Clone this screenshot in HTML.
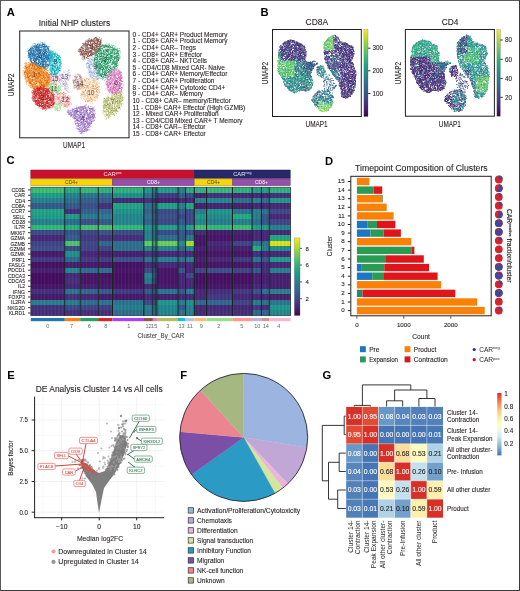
<!DOCTYPE html>
<html><head><meta charset="utf-8"><style>
html,body{margin:0;padding:0;background:#fff;width:520px;height:591px;overflow:hidden}
svg{display:block;font-family:"Liberation Sans", sans-serif;will-change:transform}
</style></head><body>
<svg width="520" height="591" viewBox="0 0 520 591">
<rect width="520" height="591" fill="#fff"/>
<text x="6.8" y="15.9" font-size="11.2" font-weight="bold" fill="#000">A</text>
<text x="38.7" y="25.8" font-size="8.4" fill="#231f20" textLength="71.5" lengthAdjust="spacingAndGlyphs" stroke="#231f20" stroke-width="0.1">Initial NHP clusters</text>
<rect x="19.7" y="31.0" width="109.3" height="106.8" fill="#fff" stroke="#231f20" stroke-width="1"/>
<path transform="scale(0.5)" d="M137 160h0M140 151h0M132 160h0M132 176h0M136 152h0M135 182h0M132 154h0M129 158h0M137 141h0M133 165h0M134 156h0M136 144h0M120 148h0M124 154h0M119 161h0M138 154h0M132 147h0M130 144h0M134 143h0M140 148h0M135 173h0M127 169h0M123 163h0M126 169h0M122 151h0M135 160h0M129 154h0M132 159h0M130 176h0M133 177h0M129 161h0M122 155h0M120 162h0M140 153h0M138 157h0M134 168h0M130 173h0M125 161h0M132 168h0M128 161h0M131 170h0M121 160h0M120 158h0M126 146h0M139 154h0M127 172h0M135 146h0M134 174h0M132 147h0M127 156h0M124 162h0M124 169h0M132 151h0M122 162h0M121 154h0M135 142h0M130 178h0M138 144h0M123 151h0M126 153h0M137 146h0M123 163h0M134 177h0M120 151h0M138 156h0M124 160h0M127 153h0M132 179h0M123 163h0M126 146h0M132 168h0M124 146h0M122 158h0M122 166h0M130 176h0M131 161h0M131 169h0M130 171h0M136 147h0M132 175h0M125 157h0M136 151h0M141 150h0M132 176h0M129 168h0M132 154h0M131 173h0M123 149h0M134 158h0M133 177h0M129 166h0M127 167h0M122 157h0M139 145h0M133 173h0M135 177h0M125 173h0M130 168h0M123 155h0M133 148h0M136 147h0M128 155h0M121 153h0M130 168h0M129 145h0M138 151h0M126 152h0M129 144h0M123 162h0M135 155h0M121 160h0M121 149h0M140 152h0M130 161h0M132 166h0M128 151h0M131 162h0M124 170h0M133 158h0M125 166h0M135 147h0M128 171h0M136 178h0M130 150h0M136 170h0M136 143h0M127 163h0M131 153h0M134 178h0M132 148h0M138 157h0M134 165h0M132 165h0M131 164h0M132 167h0M138 149h0M135 171h0M137 148h0M125 151h0M130 154h0M122 160h0M120 159h0M129 145h0M136 150h0M128 164h0M131 177h0M128 156h0M134 159h0M132 162h0M133 173h0M136 149h0" stroke="#c5b0d5" stroke-width="2.4" stroke-linecap="round" opacity="0.6" fill="none"/>
<path transform="scale(0.5)" d="M137 160h0M129 158h0M119 161h0M127 169h0M130 176h0M134 168h0M120 158h0M127 156h0M130 178h0M120 151h0M132 168h0M130 171h0M129 168h0M127 167h0M123 155h0M138 151h0M140 152h0M125 166h0M127 163h0M131 164h0M122 160h0M134 159h0" stroke="#80728a" stroke-width="2" stroke-linecap="round" opacity="0.6" fill="none"/>
<path transform="scale(0.5)" d="M119 165h0M138 159h0M136 183h0M138 140h0M127 142h0M136 185h0M139 141h0M131 141h0M118 165h0M138 185h0M131 180h0M122 172h0M133 181h0M120 165h0M133 181h0M123 171h0M138 139h0M119 166h0M121 170h0M137 175h0M119 149h0" stroke="#c5b0d5" stroke-width="2" stroke-linecap="round" opacity="0.6" fill="none"/>
<path transform="scale(0.5)" d="M154 159h0M152 176h0M162 168h0M155 164h0M155 179h0M157 178h0M167 170h0M160 168h0M162 169h0M151 171h0M148 169h0M152 164h0M162 154h0M160 172h0M159 153h0M156 160h0M162 158h0M160 170h0M154 175h0M161 156h0M154 162h0M158 174h0M160 169h0M150 156h0M159 151h0M153 167h0M152 166h0M158 173h0M161 163h0M152 169h0M159 157h0M147 163h0M160 158h0M151 153h0M159 168h0M154 165h0M163 169h0M149 165h0M159 162h0M156 174h0M147 167h0M156 158h0M150 171h0M148 167h0M164 160h0M164 170h0M162 177h0M162 177h0M163 158h0M156 170h0M152 161h0M164 165h0M148 165h0M162 163h0M164 159h0M155 172h0M152 165h0M158 172h0M163 155h0M151 156h0M161 159h0M156 174h0M162 153h0M147 165h0M166 166h0M165 165h0M150 175h0M153 165h0M154 176h0M147 163h0M149 161h0M151 170h0M159 178h0M160 168h0M159 176h0M155 168h0M161 162h0M160 172h0M164 158h0M154 173h0M153 175h0M161 159h0M165 165h0M161 176h0M148 172h0M149 176h0M148 159h0M150 154h0M156 150h0M151 158h0M156 179h0M161 155h0M158 170h0M158 161h0M160 172h0M152 155h0M152 153h0M162 156h0M152 154h0M152 172h0M164 167h0M154 175h0M155 174h0M156 165h0M146 161h0M161 154h0M150 153h0M156 173h0M163 171h0M161 176h0M151 174h0M160 168h0M158 150h0M158 173h0M164 168h0M164 174h0M147 162h0M156 168h0M162 160h0M165 161h0M147 164h0M152 164h0M155 167h0M157 175h0M153 155h0M152 157h0M167 173h0M161 173h0M160 155h0M163 161h0M155 172h0M146 164h0M155 153h0M153 156h0M154 175h0M161 151h0M159 178h0M164 174h0M149 162h0M150 165h0M153 172h0M151 159h0M155 162h0M157 176h0M154 170h0M153 173h0M151 162h0M151 160h0M157 176h0M160 155h0M153 175h0M159 156h0M149 170h0M162 173h0M156 177h0M165 175h0M153 172h0M162 154h0M152 154h0M151 164h0M164 162h0M147 162h0M153 156h0M163 170h0M157 170h0M158 167h0M148 175h0M149 165h0M149 162h0M164 156h0M159 166h0M149 165h0M162 154h0M149 153h0M157 158h0M159 174h0M156 179h0M163 167h0M155 154h0M154 164h0M162 166h0" stroke="#c49c94" stroke-width="2.4" stroke-linecap="round" opacity="0.8" fill="none"/>
<path transform="scale(0.5)" d="M154 159h0M160 168h0M159 153h0M158 174h0M161 163h0M154 165h0M150 171h0M156 170h0M152 165h0M147 165h0M149 161h0M160 172h0M148 172h0M161 155h0M152 154h0M161 154h0M158 150h0M165 161h0M167 173h0M153 156h0M153 172h0M151 160h0M156 177h0M147 162h0M149 162h0M159 174h0" stroke="#7f6560" stroke-width="2" stroke-linecap="round" opacity="0.6" fill="none"/>
<path transform="scale(0.5)" d="M148 178h0M163 153h0M155 148h0M168 158h0M156 148h0M160 149h0M157 149h0M153 151h0M154 180h0M145 160h0M151 150h0" stroke="#c49c94" stroke-width="2" stroke-linecap="round" opacity="0.6" fill="none"/>
<path transform="scale(0.5)" d="M177 176h0M163 164h0M171 189h0M164 166h0M181 200h0M165 187h0M193 175h0M177 159h0M179 187h0M195 183h0M165 168h0M166 162h0M174 203h0M194 170h0M193 183h0M191 179h0M191 179h0M164 193h0M161 177h0M168 165h0M187 194h0M175 173h0M176 197h0M185 202h0M170 160h0M174 191h0M185 180h0M166 173h0M192 189h0M173 200h0M175 163h0M167 165h0M179 161h0M171 175h0M162 179h0M171 181h0M196 180h0M173 176h0M185 202h0M170 181h0M165 188h0M193 186h0M198 180h0M181 176h0M168 169h0M161 177h0M187 170h0M170 177h0M178 200h0M163 171h0M180 167h0M174 190h0M190 166h0M174 191h0M169 188h0M174 163h0M170 161h0M172 166h0M194 183h0M192 167h0M166 174h0M178 158h0M166 174h0M169 159h0M187 163h0M186 161h0M168 177h0M170 188h0M181 164h0M177 158h0M169 175h0M196 184h0M188 164h0M181 194h0M171 178h0M182 193h0M179 187h0M175 184h0M193 178h0M174 178h0M188 191h0M183 182h0M177 166h0M176 166h0M192 177h0M172 168h0M193 168h0M172 161h0M175 188h0M179 187h0M185 172h0M179 169h0M192 172h0M177 170h0M180 199h0M190 185h0M186 160h0M193 192h0M168 170h0M179 180h0M171 168h0M188 194h0M185 199h0M163 187h0M187 193h0M188 177h0M171 202h0M181 199h0M174 187h0M191 174h0M187 177h0M194 194h0M190 177h0M182 182h0M175 178h0M168 166h0M171 200h0M191 173h0M181 188h0M174 172h0M173 166h0M186 178h0M167 183h0M190 195h0M189 179h0M165 190h0M175 192h0M164 189h0M185 184h0M184 169h0M178 171h0M172 160h0M173 177h0M176 203h0M174 178h0M188 200h0M183 203h0M184 168h0M167 164h0M167 171h0M186 177h0M168 197h0M192 178h0M176 201h0M173 160h0M178 170h0M165 177h0M164 189h0M165 186h0M165 169h0M180 163h0M185 165h0M173 198h0M178 174h0M169 184h0M167 183h0M178 177h0M193 176h0M181 196h0M173 199h0M187 180h0M176 201h0M166 196h0M188 175h0M191 163h0M171 168h0M175 202h0M179 158h0M165 172h0M176 192h0M174 196h0M181 179h0M176 190h0M185 202h0M186 176h0M194 192h0M178 183h0M169 188h0M173 165h0M187 176h0M174 174h0M197 175h0M189 195h0M180 197h0M187 198h0M179 190h0M192 194h0M174 186h0M195 194h0M174 171h0M188 173h0M176 196h0M189 184h0M185 173h0M173 176h0M180 167h0M171 162h0M177 162h0M163 188h0M182 188h0M183 174h0M177 162h0M193 186h0M183 198h0M185 190h0M174 203h0M166 182h0M178 172h0M192 170h0M174 167h0M167 185h0M186 191h0M163 180h0M187 177h0M163 162h0M166 180h0M179 190h0M195 175h0M185 196h0M178 179h0M181 174h0M164 166h0M168 173h0M173 184h0M198 173h0M174 191h0M181 179h0M179 177h0M191 184h0M170 170h0M189 171h0M181 195h0M197 178h0M161 172h0M176 195h0M175 188h0M170 191h0M188 187h0M171 203h0M189 183h0M168 193h0M180 184h0M164 183h0M190 184h0M170 168h0M176 203h0M169 199h0M194 195h0M181 190h0M180 183h0M185 182h0M191 196h0M183 198h0M196 181h0M195 189h0M168 193h0M177 193h0M179 165h0M183 168h0M170 194h0M199 175h0M169 162h0M174 176h0M172 197h0M187 170h0M164 192h0M174 187h0M194 173h0M176 186h0M184 199h0M168 186h0M168 190h0M189 201h0M171 180h0M184 160h0M179 176h0M164 177h0M184 164h0M178 162h0M175 178h0M178 166h0M194 191h0M186 165h0M166 173h0M184 198h0M171 178h0M189 198h0M185 172h0M187 174h0M176 188h0M198 181h0M167 189h0M176 170h0M171 168h0M196 191h0M168 191h0M176 173h0M168 184h0M164 166h0M194 171h0M182 198h0M187 173h0M181 193h0M190 195h0M198 185h0M181 193h0M183 181h0M178 173h0M195 179h0M165 161h0M173 184h0M175 198h0M176 186h0M199 183h0M185 161h0M185 190h0M193 166h0M193 180h0M182 192h0M162 176h0M168 189h0M178 179h0M176 182h0M191 177h0M182 190h0M193 189h0M197 187h0M168 161h0M175 173h0M163 169h0M163 176h0M166 180h0M179 196h0M190 162h0M168 184h0M181 202h0M193 181h0M178 197h0M167 192h0M162 177h0M179 184h0M177 173h0M186 172h0M191 172h0M165 168h0M189 190h0M182 201h0M177 159h0M162 187h0M196 179h0M192 194h0M193 177h0M186 184h0M171 162h0M175 175h0M191 193h0M185 160h0M186 170h0M167 188h0M192 183h0M164 189h0M179 202h0M182 172h0M171 190h0M195 185h0M182 195h0M179 176h0M177 166h0M171 174h0M171 201h0M191 164h0M168 188h0M185 175h0M184 180h0M177 183h0M193 180h0M188 198h0M164 184h0M188 161h0M185 200h0M177 194h0M171 163h0M174 158h0M179 200h0M188 163h0M165 170h0M187 183h0M184 179h0M182 175h0M180 190h0M185 192h0M170 170h0M171 171h0M167 185h0M176 194h0M168 189h0M169 170h0M195 185h0M180 192h0M165 170h0M166 162h0M174 163h0M178 184h0M181 165h0M180 175h0M183 188h0M174 175h0M169 199h0M196 180h0M181 199h0M172 167h0M190 162h0M197 172h0M179 201h0M193 175h0M168 160h0M185 175h0M170 200h0M176 191h0M173 177h0M194 168h0M164 175h0M188 184h0M163 162h0M174 182h0M194 194h0M185 185h0M184 177h0M163 173h0M162 167h0M177 193h0M168 175h0M191 184h0M188 188h0M164 164h0M165 176h0M197 187h0M189 198h0M164 163h0M195 170h0M190 192h0M179 190h0M174 166h0M168 191h0M178 200h0M172 192h0M191 168h0M175 181h0M166 183h0M178 199h0M174 203h0M190 178h0M179 189h0M182 168h0M182 180h0M176 171h0M165 174h0M185 201h0M185 166h0M175 181h0M161 178h0M185 181h0M188 164h0M181 199h0M184 179h0M175 188h0M194 164h0M196 185h0M170 184h0M194 175h0M181 163h0M172 169h0M178 170h0M163 190h0M187 198h0M164 183h0M164 172h0M162 174h0M187 171h0M181 181h0M183 184h0" stroke="#ffbb78" stroke-width="2.4" stroke-linecap="round" opacity="0.7" fill="none"/>
<path transform="scale(0.5)" d="M177 176h0M177 159h0M193 183h0M175 173h0M192 189h0M171 181h0M198 180h0M163 171h0M170 161h0M169 159h0M169 175h0M175 184h0M192 177h0M179 169h0M168 170h0M188 177h0M190 177h0M174 172h0M175 192h0M176 203h0M186 177h0M164 189h0M169 184h0M176 201h0M165 172h0M194 192h0M189 195h0M174 171h0M171 162h0M183 198h0M167 185h0M195 175h0M198 173h0M181 195h0M171 203h0M176 203h0M183 198h0M170 194h0M174 187h0M171 180h0M178 166h0M185 172h0M196 191h0M187 173h0M195 179h0M185 190h0M176 182h0M163 169h0M193 181h0M191 172h0M192 194h0M186 170h0M195 185h0M168 188h0M188 161h0M165 170h0M171 171h0M165 170h0M174 175h0M179 201h0M194 168h0M184 177h0M164 164h0M179 190h0M166 183h0M176 171h0M188 164h0M194 175h0M164 172h0" stroke="#a5794e" stroke-width="2" stroke-linecap="round" opacity="0.6" fill="none"/>
<path transform="scale(0.5)" d="M202 178h0M162 164h0M163 198h0M199 168h0M185 206h0M161 169h0M191 162h0M194 197h0M198 164h0M160 177h0M161 171h0M189 160h0M162 196h0M159 173h0M195 165h0M167 156h0M199 172h0M191 200h0M161 163h0M160 169h0M185 157h0M186 157h0M182 204h0M159 179h0M176 156h0M196 162h0M162 194h0M182 158h0M174 157h0M195 196h0M197 168h0M192 201h0M189 201h0M179 156h0M193 161h0M199 185h0M162 195h0M191 202h0M160 168h0M161 191h0M198 166h0M174 156h0M181 206h0M199 186h0M174 204h0M190 159h0M173 156h0M173 157h0M159 176h0M194 197h0M200 186h0M195 198h0" stroke="#ffbb78" stroke-width="2" stroke-linecap="round" opacity="0.6" fill="none"/>
<path transform="scale(0.5)" d="M119 187h0M137 207h0M126 195h0M128 186h0M129 199h0M121 190h0M128 212h0M136 198h0M119 206h0M115 197h0M140 204h0M124 208h0M137 198h0M132 213h0M133 202h0M114 193h0M125 200h0M118 197h0M119 188h0M139 199h0M120 187h0M135 193h0M120 206h0M115 192h0M140 200h0M117 189h0M131 210h0M128 197h0M128 194h0M134 213h0M135 204h0M133 208h0M127 199h0M135 198h0M123 210h0M127 194h0M121 208h0M136 194h0M122 194h0M133 198h0M134 200h0M131 204h0M128 195h0M121 201h0M132 188h0M127 188h0M136 191h0M131 209h0M129 213h0M122 205h0M131 191h0M119 195h0M133 214h0M132 209h0M135 207h0M125 202h0M127 190h0M139 209h0M124 187h0M129 209h0M113 192h0M119 188h0M132 197h0M122 206h0M114 200h0M114 191h0M120 192h0M135 193h0M136 210h0M114 187h0M124 201h0M136 203h0M131 196h0M121 203h0M121 185h0M138 200h0M126 188h0M136 195h0M134 194h0M114 196h0M135 202h0M113 196h0M125 207h0M129 208h0M130 210h0M131 214h0M128 188h0M131 203h0M132 205h0M134 207h0M136 194h0M129 194h0M125 195h0M131 211h0M132 210h0M139 203h0M135 198h0M136 209h0M138 204h0M126 193h0M133 202h0M131 194h0M135 201h0M130 213h0M117 187h0M140 198h0M121 187h0M123 211h0M124 197h0M137 207h0M126 207h0M116 194h0M131 212h0M123 193h0M139 204h0M131 192h0M131 192h0M115 199h0M137 202h0M116 195h0M119 193h0M125 206h0M123 186h0M119 194h0M122 202h0M135 202h0M123 201h0M123 205h0M137 196h0M132 206h0M128 212h0M125 206h0M130 194h0M135 196h0M134 211h0M134 213h0M135 205h0M116 199h0M140 197h0M118 190h0M115 188h0M135 196h0M132 200h0M129 211h0M137 198h0M125 192h0M118 199h0M128 190h0M132 199h0M132 196h0M118 187h0M120 194h0M140 200h0M118 201h0M125 187h0M133 203h0M129 206h0M128 195h0M138 199h0M140 196h0M128 195h0M117 198h0M118 195h0M134 193h0M130 206h0M137 207h0M116 196h0M123 188h0M136 202h0M126 197h0M113 199h0M139 207h0M126 210h0M138 197h0M139 194h0M125 202h0M133 209h0M135 210h0M126 206h0M136 202h0M114 194h0M136 204h0M117 197h0M120 188h0M117 203h0M135 193h0M119 197h0M129 198h0M135 205h0M125 194h0M126 193h0M123 198h0M125 203h0M132 205h0M131 187h0M138 208h0M137 209h0M131 205h0M135 197h0M130 205h0M114 191h0M126 209h0M136 197h0M120 202h0M123 193h0M120 198h0M135 199h0M126 195h0M138 210h0M139 207h0M124 197h0M115 189h0M128 185h0M140 208h0M129 187h0M131 213h0M124 201h0M127 185h0M123 210h0M132 210h0M137 196h0M131 191h0M116 198h0M137 211h0" stroke="#ff9896" stroke-width="2.4" stroke-linecap="round" opacity="0.8" fill="none"/>
<path transform="scale(0.5)" d="M119 187h0M136 198h0M133 202h0M135 193h0M128 194h0M127 194h0M128 195h0M122 205h0M127 190h0M122 206h0M124 201h0M136 195h0M130 210h0M129 194h0M138 204h0M140 198h0M131 212h0M116 195h0M123 201h0M135 196h0M115 188h0M128 190h0M125 187h0M117 198h0M136 202h0M125 202h0M117 197h0M125 194h0M137 209h0M120 202h0M124 197h0M127 185h0" stroke="#a56261" stroke-width="2" stroke-linecap="round" opacity="0.6" fill="none"/>
<path transform="scale(0.5)" d="M113 184h0M132 187h0M118 208h0M116 183h0M112 193h0M128 183h0M113 184h0M140 212h0M143 207h0M111 192h0M117 184h0M113 183h0M115 185h0M113 187h0M118 183h0M141 205h0M141 193h0M135 214h0M128 214h0M135 215h0M112 193h0M143 209h0M118 209h0M136 213h0M112 199h0M111 197h0M137 191h0" stroke="#ff9896" stroke-width="2" stroke-linecap="round" opacity="0.6" fill="none"/>
<path transform="scale(0.5)" d="M174 127h0M176 135h0M196 152h0M186 123h0M182 151h0M179 145h0M187 128h0M196 153h0M184 146h0M192 135h0M197 156h0M183 130h0M187 157h0M191 130h0M182 124h0M195 139h0M182 126h0M192 138h0M193 133h0M196 146h0M179 138h0M182 137h0M186 149h0M181 147h0M193 146h0M177 136h0M197 148h0M173 130h0M196 158h0M177 131h0M174 126h0M194 139h0M194 138h0M200 143h0M179 149h0M179 132h0M194 135h0M199 152h0M178 141h0M195 132h0M192 149h0M191 144h0M184 146h0M186 119h0M177 139h0M182 118h0M178 126h0M200 147h0M188 122h0M193 154h0M189 123h0M177 123h0M199 134h0M182 122h0M196 133h0M200 143h0M196 157h0M178 137h0M183 149h0M184 142h0M179 120h0M195 154h0M183 127h0M190 153h0M192 125h0M188 139h0M197 127h0M178 134h0M181 132h0M180 126h0M198 139h0M189 136h0M180 146h0M193 131h0M183 126h0M192 126h0M176 125h0M196 158h0M182 153h0M186 156h0M199 143h0M180 151h0M185 155h0M190 147h0M197 136h0M194 151h0M199 142h0M181 118h0M187 122h0M186 152h0M188 123h0M183 129h0M185 131h0M175 121h0M178 121h0M182 117h0M194 153h0M177 121h0M198 147h0M192 134h0M193 143h0M180 148h0M192 154h0M184 127h0M192 144h0M181 152h0M188 137h0M197 135h0M195 124h0M187 132h0M197 135h0M182 120h0M177 127h0M190 158h0M182 149h0M178 139h0M175 128h0M182 141h0M190 148h0M175 126h0M193 157h0M190 142h0M186 127h0M191 123h0M178 133h0M187 146h0M194 121h0M186 147h0M179 138h0M181 142h0M199 149h0M198 127h0M185 119h0M180 123h0M179 139h0M196 132h0M184 133h0M196 155h0M193 144h0M187 145h0M189 147h0M200 146h0M181 137h0M190 125h0M185 121h0M193 134h0M181 126h0M195 147h0M189 134h0M192 125h0M196 149h0M181 150h0M191 140h0M179 133h0M180 118h0M184 152h0M185 130h0M195 144h0M188 121h0M190 144h0M197 136h0M200 144h0M193 137h0M184 151h0M187 132h0M190 128h0M184 146h0M193 126h0M196 146h0M197 145h0M188 149h0M189 144h0M181 153h0M174 136h0M184 120h0M188 142h0M182 130h0M196 129h0M198 141h0M194 122h0M191 125h0M190 147h0M180 129h0M182 144h0M191 157h0M192 122h0M193 132h0M189 157h0M175 126h0M178 130h0M186 133h0M177 132h0M179 120h0M180 123h0M191 123h0M190 119h0M188 132h0M192 122h0M188 149h0M185 119h0M190 132h0M177 121h0M192 131h0M187 152h0M181 131h0M192 132h0M180 136h0M192 143h0M184 149h0M181 140h0M183 145h0M181 138h0M188 143h0M180 118h0M176 123h0M190 158h0M197 148h0M179 135h0M198 148h0M190 154h0M176 144h0M186 151h0M192 141h0M182 141h0M196 151h0M191 122h0M186 147h0M185 129h0M196 150h0M191 136h0M178 136h0M184 155h0M197 135h0M191 125h0M186 146h0M187 134h0M198 125h0M180 142h0M180 144h0M197 133h0M193 153h0M199 142h0M194 158h0M180 134h0M175 127h0M183 119h0M193 127h0M187 146h0M181 149h0M191 136h0M188 145h0M177 121h0M179 145h0M196 135h0M197 127h0M192 140h0M189 141h0M192 134h0M188 150h0M179 132h0M181 146h0M194 130h0M181 128h0M177 146h0M179 137h0M188 153h0M182 143h0M201 145h0M191 129h0M178 143h0M174 126h0M186 151h0M186 142h0M194 159h0M195 154h0M187 139h0M179 140h0M193 124h0M179 133h0M186 132h0M192 145h0M190 118h0M189 149h0M194 151h0M199 147h0M184 133h0M184 119h0M186 145h0M197 139h0M182 126h0M188 144h0M185 148h0M191 145h0M179 143h0M176 134h0M186 120h0M184 127h0" stroke="#aec7e8" stroke-width="2.4" stroke-linecap="round" opacity="0.8" fill="none"/>
<path transform="scale(0.5)" d="M174 127h0M196 153h0M182 124h0M182 137h0M196 158h0M179 132h0M184 146h0M193 154h0M196 157h0M190 153h0M198 139h0M196 158h0M197 136h0M183 129h0M198 147h0M181 152h0M177 127h0M175 126h0M194 121h0M180 123h0M189 147h0M195 147h0M180 118h0M200 144h0M196 146h0M188 142h0M180 129h0M178 130h0M188 132h0M187 152h0M183 145h0M179 135h0M196 151h0M184 155h0M180 144h0M183 119h0M179 145h0M179 132h0M182 143h0M194 159h0M192 145h0M186 145h0M176 134h0" stroke="#718196" stroke-width="2" stroke-linecap="round" opacity="0.6" fill="none"/>
<path transform="scale(0.5)" d="M173 132h0M200 125h0M179 153h0M182 114h0M174 132h0M192 117h0M197 123h0M201 143h0M201 143h0M185 116h0M187 158h0M176 148h0M174 136h0M178 151h0M201 140h0M185 159h0M200 156h0M193 119h0M202 146h0M183 157h0M181 155h0M179 116h0M202 145h0M198 161h0M196 120h0M197 122h0M201 152h0M201 134h0M203 148h0M187 115h0M201 137h0M187 158h0M174 134h0M172 129h0M183 116h0" stroke="#aec7e8" stroke-width="2" stroke-linecap="round" opacity="0.6" fill="none"/>
<path transform="scale(0.5)" d="M112 161h0M114 160h0M98 153h0M102 157h0M118 158h0M109 149h0M118 154h0M100 151h0M116 158h0M111 153h0M110 157h0M116 154h0M101 159h0M114 153h0M114 155h0M106 158h0M101 152h0M114 160h0M100 160h0M104 163h0M111 164h0M100 149h0M99 148h0M108 162h0M100 156h0M104 148h0M114 157h0M114 155h0M101 159h0M112 163h0M107 164h0M113 160h0M105 152h0M116 155h0M101 151h0M109 163h0M110 153h0M114 157h0M110 156h0M102 152h0M110 151h0M108 161h0M114 154h0M104 163h0M111 152h0M101 149h0M113 153h0M110 150h0M107 152h0M116 154h0M107 153h0M114 159h0M105 150h0M100 150h0M104 159h0M115 157h0M109 160h0M99 151h0M114 163h0M116 157h0M103 154h0M103 160h0M101 158h0M113 163h0M108 164h0M115 158h0M100 148h0M117 163h0M114 164h0M108 164h0M107 160h0M118 156h0M107 159h0M110 148h0M101 160h0M112 153h0M106 152h0M109 164h0M105 157h0M117 160h0M112 157h0M102 148h0M109 162h0M110 161h0M99 158h0M116 152h0M102 158h0M103 156h0M100 161h0M119 158h0M108 148h0M100 150h0M114 152h0M99 155h0M103 148h0M100 149h0M106 163h0M103 150h0M102 155h0M114 153h0M108 148h0M107 159h0M99 150h0M110 165h0M117 156h0M102 155h0M102 163h0M107 159h0M102 164h0M116 159h0M118 162h0M101 148h0M107 162h0M109 160h0M102 153h0M115 154h0M104 161h0M107 161h0M112 150h0M109 152h0M99 152h0M101 153h0M110 166h0M113 149h0M103 161h0M107 153h0M114 152h0M103 155h0M108 162h0M101 158h0M103 153h0M107 158h0M105 163h0M99 155h0" stroke="#f7b6d2" stroke-width="2.4" stroke-linecap="round" opacity="0.8" fill="none"/>
<path transform="scale(0.5)" d="M112 161h0M100 151h0M114 155h0M100 149h0M101 159h0M109 163h0M114 154h0M116 154h0M109 160h0M113 163h0M107 160h0M109 164h0M99 158h0M100 150h0M102 155h0M102 155h0M107 162h0M109 152h0M114 152h0M99 155h0" stroke="#a07688" stroke-width="2" stroke-linecap="round" opacity="0.6" fill="none"/>
<path transform="scale(0.5)" d="M115 148h0M116 150h0M117 166h0M109 166h0M118 163h0M98 150h0M120 157h0M99 146h0M98 162h0M116 151h0M113 147h0M98 147h0M119 163h0" stroke="#f7b6d2" stroke-width="2" stroke-linecap="round" opacity="0.6" fill="none"/>
<path transform="scale(0.5)" d="M109 178h0M117 176h0M121 174h0M97 166h0M121 173h0M96 171h0M94 172h0M105 183h0M110 175h0M101 174h0M102 175h0M113 174h0M117 174h0M118 171h0M104 167h0M121 178h0M99 171h0M107 175h0M98 177h0M109 172h0M115 172h0M111 169h0M108 183h0M115 182h0M101 171h0M107 169h0M105 180h0M97 173h0M109 178h0M117 178h0M111 181h0M110 177h0M104 174h0M102 177h0M116 182h0M113 170h0M95 175h0M97 165h0M110 186h0M117 174h0M97 165h0M96 173h0M102 169h0M108 170h0M107 175h0M103 175h0M102 174h0M110 174h0M110 179h0M103 176h0M103 172h0M100 182h0M104 169h0M114 182h0M101 179h0M105 180h0M103 178h0M116 185h0M99 169h0M107 185h0M105 169h0M104 176h0M115 175h0M112 175h0M97 172h0M111 183h0M116 179h0M100 182h0M108 173h0M106 181h0M118 181h0M115 172h0M93 178h0M112 186h0M99 174h0M113 170h0M106 177h0M105 184h0M114 182h0M117 176h0M100 166h0M105 168h0M106 166h0M106 181h0M100 176h0M94 179h0M113 182h0M98 169h0M110 174h0M96 166h0M107 173h0M106 166h0M116 175h0M107 170h0M109 166h0M113 183h0M106 185h0M114 183h0M100 174h0M117 182h0M119 177h0M113 169h0M116 183h0M109 167h0M95 171h0M112 168h0M116 180h0M117 180h0M113 175h0M112 177h0M113 182h0M113 171h0M96 164h0M109 169h0M107 168h0M111 183h0M105 177h0M105 182h0M111 174h0M102 179h0M118 170h0M106 173h0M110 181h0M115 176h0M115 168h0M114 184h0M106 173h0M105 168h0M109 181h0M119 177h0M116 184h0M106 177h0M112 178h0M117 174h0M104 182h0M115 186h0M112 167h0M98 176h0M110 176h0M97 169h0M98 169h0M98 171h0M94 178h0M118 178h0M106 180h0M103 183h0M116 179h0M112 178h0M107 178h0M105 177h0M102 170h0M96 180h0M102 170h0M98 175h0M98 176h0M99 181h0M107 169h0M119 181h0M120 176h0M107 166h0M97 178h0M101 173h0M100 181h0M115 182h0M107 167h0M95 177h0M110 179h0M100 167h0M118 172h0M96 176h0M118 180h0M115 177h0M97 176h0M120 174h0M120 175h0M106 178h0M118 171h0M118 184h0M121 180h0M104 169h0M100 167h0M116 179h0M103 181h0M104 185h0M95 173h0M111 175h0M99 166h0M110 168h0M99 177h0M96 169h0M95 172h0M114 183h0M103 165h0M108 167h0M100 176h0M111 184h0M113 184h0M106 168h0M105 182h0M119 176h0M108 175h0M98 180h0M110 174h0M109 183h0" stroke="#98df8a" stroke-width="2.4" stroke-linecap="round" opacity="0.8" fill="none"/>
<path transform="scale(0.5)" d="M109 178h0M105 183h0M104 167h0M111 169h0M109 178h0M113 170h0M102 169h0M103 176h0M103 178h0M112 175h0M118 181h0M105 184h0M100 176h0M106 166h0M100 174h0M112 168h0M96 164h0M102 179h0M106 173h0M117 174h0M98 169h0M112 178h0M98 176h0M101 173h0M118 172h0M106 178h0M103 181h0M96 169h0M113 184h0M109 183h0" stroke="#629059" stroke-width="2" stroke-linecap="round" opacity="0.6" fill="none"/>
<path transform="scale(0.5)" d="M121 167h0M120 184h0M97 183h0M122 170h0M93 177h0M112 165h0M121 185h0M107 164h0M116 187h0M123 181h0M94 166h0M105 185h0M121 168h0M95 180h0M93 175h0M122 169h0" stroke="#98df8a" stroke-width="2" stroke-linecap="round" opacity="0.6" fill="none"/>
<path transform="scale(0.5)" d="M85 123h0M92 133h0M90 132h0M58 110h0M99 119h0M78 99h0M81 115h0M91 94h0M92 93h0M84 93h0M66 97h0M81 120h0M88 134h0M97 101h0M73 95h0M70 116h0M72 102h0M93 110h0M71 110h0M88 89h0M90 128h0M73 115h0M66 124h0M72 104h0M80 125h0M92 129h0M61 103h0M84 132h0M81 102h0M71 95h0M101 113h0M75 98h0M83 127h0M77 107h0M58 111h0M94 93h0M89 134h0M85 126h0M62 108h0M70 109h0M79 123h0M78 101h0M75 94h0M100 118h0M79 103h0M61 100h0M92 129h0M73 125h0M91 121h0M86 124h0M73 121h0M69 111h0M91 121h0M86 115h0M57 114h0M68 120h0M77 127h0M86 126h0M72 118h0M90 128h0M72 128h0M96 121h0M80 113h0M99 110h0M88 122h0M89 95h0M92 115h0M86 107h0M85 125h0M85 122h0M77 119h0M67 120h0M85 89h0M78 98h0M71 96h0M78 105h0M84 116h0M57 107h0M69 107h0M84 91h0M81 103h0M83 134h0M93 107h0M93 118h0M73 94h0M83 114h0M84 104h0M62 115h0M84 94h0M85 131h0M74 108h0M67 101h0M83 99h0M101 111h0M75 102h0M70 110h0M62 117h0M77 101h0M92 127h0M58 113h0M92 99h0M69 94h0M84 110h0M86 116h0M90 92h0M91 101h0M81 103h0M70 113h0M78 104h0M90 116h0M59 99h0M77 132h0M96 114h0M76 115h0M88 118h0M78 132h0M74 106h0M95 96h0M70 128h0M88 108h0M70 125h0M78 114h0M79 103h0M64 116h0M67 127h0M92 119h0M88 89h0M94 97h0M86 134h0M89 93h0M64 117h0M75 95h0M85 89h0M62 105h0M82 123h0M76 102h0M84 111h0M99 105h0M64 118h0M79 132h0M82 117h0M69 114h0M68 124h0M80 93h0M67 105h0M90 95h0M89 119h0M61 120h0M83 98h0M96 110h0M71 126h0M99 120h0M67 92h0M100 119h0M93 93h0M85 104h0M67 103h0M84 104h0M74 93h0M94 119h0M93 108h0M95 112h0M83 115h0M90 106h0M96 110h0M78 131h0M84 108h0M78 91h0M64 94h0M74 106h0M68 100h0M64 101h0M67 110h0M87 120h0M62 120h0M70 120h0M89 95h0M73 102h0M78 101h0M89 122h0M64 98h0M87 133h0M86 108h0M75 89h0M80 104h0M97 111h0M75 90h0M68 107h0M65 112h0M75 113h0M61 102h0M62 113h0M98 116h0M95 97h0M58 113h0M79 115h0M74 117h0M89 132h0M71 109h0M94 98h0M62 102h0M93 102h0M76 115h0M88 89h0M66 101h0M74 91h0M76 102h0M90 114h0M97 119h0M91 115h0M77 127h0M86 134h0M89 121h0M69 127h0M74 93h0M69 120h0M70 90h0M91 114h0M63 104h0M84 98h0M76 104h0M83 127h0M89 91h0M80 95h0M88 109h0M99 126h0M62 102h0M98 109h0M76 108h0M91 133h0M83 92h0M93 107h0M58 115h0M78 130h0M74 97h0M69 96h0M82 104h0M90 98h0M73 99h0M95 117h0M75 94h0M94 111h0M61 122h0M97 96h0M92 103h0M87 129h0M85 126h0M80 116h0M65 106h0M71 105h0M78 121h0M93 132h0M88 120h0M81 126h0M73 116h0M87 112h0M70 90h0M61 104h0M83 124h0M89 102h0M98 100h0M89 90h0M90 120h0M87 128h0M90 117h0M66 112h0M97 98h0M100 113h0M74 95h0M86 131h0M97 117h0M74 92h0M88 114h0M89 105h0M96 97h0M70 100h0M85 131h0M64 118h0M91 98h0M60 115h0M94 130h0M89 107h0M76 113h0M97 102h0M69 117h0M82 116h0M65 96h0M83 119h0M88 123h0M60 111h0M71 129h0M86 132h0M67 121h0M94 110h0M64 117h0M90 127h0M93 122h0M85 134h0M74 109h0M87 123h0M61 107h0M81 105h0M62 116h0M74 120h0M91 122h0M70 92h0M78 104h0M90 132h0M74 101h0M79 121h0M92 115h0M70 103h0M95 112h0M59 107h0M67 120h0M60 100h0M61 110h0M101 113h0M61 104h0M91 104h0M77 105h0M80 89h0M77 110h0M61 100h0M99 121h0M79 89h0M74 125h0M76 116h0M97 118h0M85 88h0M75 130h0M94 132h0M91 131h0M64 125h0M76 100h0M78 101h0M87 93h0M64 109h0M60 105h0M97 130h0M84 93h0M65 108h0M69 124h0M73 125h0M64 112h0M86 105h0M73 110h0M83 134h0M68 115h0M69 114h0M89 93h0M78 121h0M76 111h0M84 126h0M59 111h0M59 106h0M70 109h0M86 132h0M73 113h0M89 133h0M70 95h0M77 123h0M80 106h0M98 101h0M81 128h0M63 104h0M79 115h0M66 109h0M72 94h0M69 125h0M90 100h0M94 118h0M74 118h0M68 100h0M96 108h0M90 114h0M94 111h0M83 92h0M89 117h0M84 98h0M77 119h0M97 122h0M60 118h0M94 93h0M90 99h0M91 112h0M97 110h0M64 97h0M73 90h0M76 117h0M86 95h0M63 111h0M87 109h0M82 132h0M63 100h0M79 113h0M97 114h0M86 107h0M92 128h0M70 92h0M68 104h0M96 100h0M85 118h0M91 103h0M61 118h0M94 115h0M74 118h0M89 99h0M75 103h0M89 107h0M70 95h0M99 126h0M97 112h0M62 107h0M82 101h0M62 112h0M78 92h0M91 92h0M81 91h0M101 113h0M76 100h0M76 97h0M80 132h0M74 118h0M98 103h0M93 113h0M99 110h0M77 132h0M82 111h0M70 123h0M68 110h0M91 116h0M63 97h0M88 123h0M61 109h0M84 129h0M64 121h0M62 115h0M68 104h0M72 116h0M85 111h0M96 132h0M69 103h0M76 107h0M86 124h0M99 102h0M95 119h0M76 128h0M87 103h0M89 112h0M89 117h0M92 94h0M92 125h0M81 110h0M62 97h0M68 128h0M86 106h0M86 98h0M86 115h0M90 111h0M76 102h0M90 105h0M83 124h0M77 121h0M60 99h0M94 94h0M91 92h0M77 108h0M93 110h0M80 88h0M92 125h0M85 128h0M84 122h0M95 117h0M60 103h0M61 105h0M61 97h0M57 108h0M70 123h0M74 95h0M88 97h0M75 109h0M77 125h0M88 129h0M87 124h0M96 132h0M92 107h0M86 119h0M96 122h0M77 96h0M71 99h0M87 125h0M65 113h0M94 105h0M61 117h0M73 94h0M64 108h0M81 134h0M94 103h0M60 116h0M91 110h0M93 109h0M98 117h0M81 95h0M76 108h0M93 98h0M70 127h0M60 113h0M67 119h0M83 91h0M89 107h0M71 129h0M92 102h0M87 93h0M80 91h0M85 132h0M85 89h0M80 110h0M77 94h0M69 109h0M60 120h0M68 101h0M61 102h0M98 101h0M61 104h0M72 97h0M87 109h0M72 121h0M77 130h0M70 100h0M93 111h0M72 112h0M94 115h0M77 119h0M84 107h0M76 93h0M76 130h0M71 105h0M84 116h0M65 109h0M61 118h0M70 119h0M58 109h0M64 103h0M88 112h0M95 128h0M84 128h0M65 110h0M71 117h0M73 125h0M74 129h0M90 123h0M77 100h0M65 107h0M98 106h0M68 117h0M76 117h0M77 101h0M86 99h0M79 115h0M79 131h0M92 102h0M72 117h0M59 111h0M69 113h0M67 109h0M71 99h0M98 128h0M92 99h0M64 100h0M89 111h0M57 102h0M95 129h0M89 123h0M97 114h0M74 115h0M68 109h0M68 105h0M99 111h0M94 123h0M83 102h0M74 102h0M85 129h0M92 101h0M83 98h0M57 101h0M67 97h0M86 115h0M69 123h0M62 116h0M88 123h0M79 130h0M85 121h0M78 114h0M72 110h0M80 128h0M70 114h0M84 119h0M71 100h0M78 116h0M86 93h0M77 114h0M79 101h0M58 100h0M64 106h0M73 121h0M85 88h0M67 100h0M97 108h0M68 110h0M78 94h0M87 122h0M78 113h0M91 134h0M84 89h0M79 119h0M72 120h0M73 117h0M84 120h0M98 122h0M88 121h0M67 117h0M84 90h0M90 98h0M79 112h0M89 124h0M78 133h0M77 115h0M89 134h0M86 113h0M92 129h0M63 111h0M84 121h0M76 132h0M99 124h0M72 125h0M81 120h0M85 129h0M89 135h0M79 111h0M86 114h0M71 111h0M98 100h0M70 127h0M68 120h0M82 131h0M78 103h0M68 105h0M64 102h0M91 133h0M73 99h0M70 118h0M78 92h0M80 100h0M63 125h0M62 108h0M91 113h0M96 102h0M97 108h0M90 127h0M57 102h0M78 132h0M101 114h0M70 91h0M76 112h0M77 102h0M99 110h0M71 125h0M68 107h0M62 98h0M101 117h0M80 120h0M87 112h0M73 94h0M87 103h0M67 102h0M79 97h0M95 110h0M96 115h0M70 122h0M99 119h0M59 108h0M94 116h0M66 98h0M60 112h0M65 109h0M97 131h0M79 125h0M95 110h0M96 101h0M98 128h0M98 123h0M60 100h0M86 132h0M72 104h0M65 98h0M80 105h0M69 107h0M99 116h0M90 133h0M90 124h0M84 110h0M89 108h0M66 97h0M72 107h0M69 125h0M79 95h0M59 109h0M67 118h0M73 101h0M70 117h0M79 111h0M87 110h0M99 108h0M92 133h0M85 116h0M92 122h0M66 107h0M87 103h0M73 108h0M87 131h0M88 97h0M83 118h0M84 122h0M70 117h0M90 102h0M69 103h0M100 119h0M78 114h0M86 100h0M83 116h0M100 117h0M79 107h0M78 105h0M91 115h0M80 124h0M81 116h0M83 92h0M63 123h0M72 93h0M93 124h0M91 106h0M63 124h0M67 120h0M88 100h0M92 116h0M89 108h0M83 101h0M67 114h0M84 132h0M84 111h0M86 118h0M75 100h0M87 106h0M73 121h0M86 111h0M93 103h0M73 124h0M87 108h0M81 129h0M96 96h0M93 113h0M98 103h0M86 118h0M74 93h0M87 90h0M95 94h0M79 124h0M72 99h0M96 120h0M69 123h0M97 116h0M67 117h0M99 116h0M64 97h0M85 89h0M57 105h0M68 111h0M60 114h0M87 102h0M83 113h0M92 115h0M85 114h0M93 91h0M97 117h0M95 121h0M74 92h0M91 122h0M78 100h0M78 97h0M65 96h0M89 106h0M78 120h0M69 116h0M66 97h0M81 108h0M98 100h0M72 92h0M73 128h0M65 108h0M64 99h0M72 95h0M87 112h0M70 99h0M76 90h0M80 99h0M91 100h0M98 110h0M96 110h0M81 99h0M91 105h0M96 122h0M76 88h0M69 107h0M73 115h0M57 110h0M88 121h0M92 109h0M79 133h0M81 116h0M71 119h0M79 133h0M60 103h0M94 114h0M68 92h0M68 93h0M63 123h0M66 95h0M84 93h0M94 119h0M96 122h0M89 100h0M76 105h0M74 132h0M76 126h0M85 91h0M66 115h0M92 98h0M68 105h0M77 107h0M98 117h0M69 104h0M79 94h0M74 90h0M86 129h0M97 116h0M74 114h0M82 95h0M81 111h0M66 108h0M94 118h0M72 98h0M85 114h0M70 110h0M75 118h0M96 105h0M81 114h0M87 99h0M63 120h0M68 111h0M77 98h0M90 105h0M66 125h0M88 106h0M97 119h0M63 108h0M88 94h0M98 119h0M89 108h0M85 132h0M79 90h0M88 133h0M87 108h0M77 98h0M91 125h0M89 108h0M79 106h0M78 103h0M93 93h0M87 127h0M72 131h0M85 105h0M78 114h0M95 118h0M96 99h0M92 106h0M65 126h0M83 98h0M97 111h0M87 135h0M71 113h0M81 101h0M88 100h0M87 117h0M73 120h0M74 125h0M74 127h0M70 95h0M72 93h0M75 98h0M96 129h0M68 102h0M79 93h0M66 106h0M84 101h0M87 100h0M91 103h0M96 108h0M88 124h0M88 124h0M72 94h0M59 101h0M71 108h0M96 95h0M72 123h0M77 119h0M80 104h0M75 89h0M99 123h0M61 97h0" stroke="#1f77b4" stroke-width="2.4" stroke-linecap="round" opacity="0.9" fill="none"/>
<path transform="scale(0.5)" d="M85 123h0M91 94h0M73 95h0M73 115h0M81 102h0M94 93h0M75 94h0M86 124h0M77 127h0M99 110h0M77 119h0M57 107h0M73 94h0M67 101h0M92 127h0M91 101h0M96 114h0M88 108h0M88 89h0M62 105h0M82 117h0M61 120h0M93 93h0M95 112h0M64 94h0M70 120h0M86 108h0M75 113h0M74 117h0M88 89h0M77 127h0M91 114h0M88 109h0M93 107h0M73 99h0M87 129h0M88 120h0M89 102h0M97 98h0M89 105h0M94 130h0M83 119h0M64 117h0M81 105h0M74 101h0M60 100h0M77 110h0M85 88h0M87 93h0M73 125h0M89 93h0M86 132h0M81 128h0M94 118h0M89 117h0M91 112h0M87 109h0M70 92h0M74 118h0M62 107h0M76 100h0M77 132h0M61 109h0M96 132h0M87 103h0M68 128h0M83 124h0M80 88h0M61 97h0M88 129h0M71 99h0M81 134h0M76 108h0M71 129h0M77 94h0M72 97h0M94 115h0M65 109h0M84 128h0M65 107h0M79 131h0M98 128h0M97 114h0M74 102h0M69 123h0M80 128h0M79 101h0M68 110h0M72 120h0M90 98h0M92 129h0M85 129h0M68 120h0M70 118h0M97 108h0M77 102h0M87 112h0M70 122h0M97 131h0M86 132h0M90 124h0M59 109h0M92 133h0M88 97h0M78 114h0M80 124h0M63 124h0M84 132h0M93 103h0M86 118h0M69 123h0M68 111h0M97 117h0M89 106h0M73 128h0M80 99h0M76 88h0M81 116h0M63 123h0M74 132h0M98 117h0M82 95h0M75 118h0M90 105h0M89 108h0M89 108h0M78 114h0M87 135h0M74 127h0M66 106h0M72 94h0M75 89h0" stroke="#144d75" stroke-width="2" stroke-linecap="round" opacity="0.6" fill="none"/>
<path transform="scale(0.5)" d="M85 87h0M88 87h0M90 135h0M61 95h0M103 108h0M88 135h0M68 87h0M85 86h0M69 87h0M84 85h0M101 112h0M103 112h0M81 84h0M86 86h0M88 137h0M89 89h0M97 93h0M65 90h0M62 128h0M100 129h0M56 98h0M75 133h0M101 104h0M99 128h0M98 93h0M102 116h0M90 89h0M92 136h0M57 101h0M89 137h0M91 137h0M88 137h0M97 134h0M91 88h0M54 102h0M102 105h0M101 104h0M102 121h0M72 131h0M63 94h0M94 133h0M102 105h0M86 138h0M56 111h0M82 137h0M56 103h0M81 136h0M70 132h0M101 123h0M95 136h0M64 93h0M89 86h0M101 100h0M71 88h0M88 138h0M99 94h0M103 110h0M94 135h0M69 131h0M100 104h0M88 89h0" stroke="#1f77b4" stroke-width="2" stroke-linecap="round" opacity="0.6" fill="none"/>
<path transform="scale(0.5)" d="M111 122h0M119 135h0M104 119h0M103 106h0M108 123h0M109 108h0M114 138h0M109 142h0M116 112h0M110 122h0M102 122h0M119 134h0M112 145h0M121 122h0M119 112h0M111 142h0M118 122h0M113 115h0M102 123h0M103 122h0M106 144h0M106 133h0M107 132h0M108 108h0M115 146h0M113 138h0M109 120h0M115 125h0M119 119h0M119 124h0M110 140h0M110 129h0M101 107h0M102 135h0M103 147h0M112 147h0M103 119h0M105 137h0M99 120h0M98 109h0M115 147h0M100 122h0M104 108h0M108 120h0M118 141h0M120 126h0M115 130h0M103 114h0M113 122h0M112 109h0M110 112h0M100 120h0M108 147h0M104 125h0M108 138h0M107 139h0M116 111h0M116 128h0M115 136h0M111 112h0M99 120h0M101 118h0M119 140h0M117 116h0M104 136h0M104 110h0M110 148h0M102 142h0M105 123h0M113 123h0M113 121h0M116 133h0M118 117h0M111 121h0M117 143h0M105 109h0M106 109h0M108 148h0M103 109h0M115 139h0M103 117h0M106 150h0M112 141h0M104 130h0M108 122h0M109 123h0M108 139h0M116 126h0M117 138h0M118 135h0M106 105h0M108 149h0M115 111h0M118 116h0M116 132h0M114 144h0M117 144h0M107 133h0M101 115h0M109 123h0M101 128h0M116 136h0M112 109h0M116 136h0M115 136h0M104 113h0M101 138h0M103 118h0M102 127h0M107 114h0M102 139h0M101 117h0M106 138h0M116 132h0M103 123h0M103 115h0M103 148h0M104 143h0M109 125h0M100 121h0M102 124h0M109 122h0M117 137h0M105 141h0M111 143h0M116 110h0M105 137h0M104 112h0M121 124h0M105 117h0M100 125h0M107 126h0M110 148h0M114 125h0M122 125h0M106 113h0M111 147h0M119 120h0M112 134h0M109 127h0M104 137h0M114 117h0M107 141h0M109 109h0M113 141h0M113 122h0M121 125h0M106 130h0M107 141h0M110 144h0M105 132h0M98 114h0M102 141h0M101 113h0M118 119h0M117 111h0M102 144h0M110 113h0M116 122h0M104 138h0M115 116h0M109 119h0M101 118h0M107 114h0M119 137h0M109 120h0M115 138h0M100 117h0M113 113h0M106 117h0M101 136h0M111 122h0M101 136h0M114 116h0M110 141h0M121 128h0M108 118h0M115 132h0M108 113h0M110 136h0M120 134h0M118 137h0M113 141h0M117 121h0M108 137h0M111 123h0M113 140h0M113 118h0M107 149h0M116 115h0M110 113h0M100 115h0M120 127h0M105 111h0M105 111h0M114 148h0M119 125h0M110 111h0M114 123h0M110 135h0M100 125h0M99 123h0M101 118h0M116 134h0M115 112h0M110 114h0M105 134h0M105 135h0M104 133h0M104 136h0M103 116h0M114 131h0M112 136h0M105 119h0M114 108h0M106 140h0M106 122h0M110 133h0M105 118h0M106 149h0M107 106h0M105 111h0M121 124h0M115 142h0M103 130h0M120 125h0M104 135h0M112 127h0M104 129h0M116 128h0M107 126h0M106 131h0M112 140h0M112 131h0M105 109h0M120 136h0M112 134h0M112 141h0M109 142h0M107 123h0M101 136h0M102 140h0M102 134h0M122 128h0M110 132h0M100 132h0M105 139h0M112 148h0M111 107h0M109 144h0M114 139h0M108 109h0M115 142h0M114 120h0M115 145h0M104 128h0M117 121h0M116 112h0M108 133h0M115 135h0M111 122h0M110 131h0M110 149h0M102 131h0M98 107h0M106 108h0M113 120h0M121 128h0M108 115h0M112 126h0M103 113h0M103 141h0M109 110h0M109 109h0M99 117h0M103 119h0M107 119h0M121 125h0M100 108h0M121 131h0M106 130h0M100 110h0M112 123h0M109 146h0M120 131h0M100 140h0M99 122h0M110 111h0M115 110h0M111 118h0M118 120h0M101 124h0M116 115h0M114 141h0M119 130h0M106 127h0M119 130h0M114 144h0M109 132h0M115 137h0M116 124h0M104 145h0M103 149h0M117 139h0M119 124h0M100 127h0M113 128h0M114 115h0M101 108h0M107 122h0M107 123h0M100 107h0M107 136h0M120 133h0M121 124h0M109 146h0M110 148h0M107 119h0M114 118h0M120 133h0M111 108h0M110 147h0M107 149h0M113 114h0M117 120h0M109 145h0M116 118h0M115 115h0M116 124h0M113 138h0M102 144h0M109 139h0M104 140h0M109 126h0M109 107h0M105 140h0M120 137h0M102 111h0M104 141h0M121 121h0M114 116h0M105 147h0M107 130h0M104 121h0M106 115h0M110 107h0M110 140h0M100 131h0M105 110h0M119 135h0M108 115h0M117 141h0M115 134h0M118 113h0M119 131h0M113 116h0M108 132h0M120 119h0M106 110h0M113 118h0M118 115h0M105 115h0M111 149h0M106 131h0M103 110h0M100 136h0M105 133h0M105 138h0M101 115h0M113 118h0M111 132h0M120 141h0M120 139h0M114 117h0M119 114h0M102 130h0M100 137h0M113 138h0M106 107h0M114 136h0M103 131h0M108 135h0M106 131h0M119 125h0M102 130h0M111 136h0M112 148h0M118 116h0M107 149h0M101 123h0M104 131h0M114 144h0M103 143h0M107 108h0M115 137h0M117 118h0M111 129h0" stroke="#17becf" stroke-width="2.4" stroke-linecap="round" opacity="0.9" fill="none"/>
<path transform="scale(0.5)" d="M111 122h0M109 142h0M119 112h0M106 133h0M119 119h0M112 147h0M104 108h0M112 109h0M116 111h0M117 116h0M113 121h0M108 148h0M108 122h0M108 149h0M101 115h0M104 113h0M106 138h0M100 121h0M105 137h0M114 125h0M104 137h0M106 130h0M118 119h0M109 119h0M113 113h0M121 128h0M113 141h0M116 115h0M119 125h0M116 134h0M103 116h0M110 133h0M103 130h0M106 131h0M109 142h0M100 132h0M115 142h0M115 135h0M113 120h0M109 109h0M106 130h0M110 111h0M119 130h0M104 145h0M101 108h0M109 146h0M107 149h0M113 138h0M120 137h0M104 121h0M108 115h0M120 119h0M103 110h0M120 141h0M106 107h0M111 136h0M103 143h0" stroke="#0e7b86" stroke-width="2" stroke-linecap="round" opacity="0.6" fill="none"/>
<path transform="scale(0.5)" d="M123 136h0M105 102h0M101 147h0M111 104h0M112 105h0M114 107h0M123 127h0M121 142h0M114 150h0M101 104h0M98 123h0M102 148h0M99 139h0M105 104h0M122 133h0M98 128h0M123 134h0M106 103h0M101 105h0M121 115h0M103 102h0M105 103h0M98 124h0M116 147h0M122 123h0M100 143h0M98 141h0M110 152h0M98 119h0M103 102h0M97 105h0M98 119h0M108 150h0M102 147h0M123 128h0M121 115h0M107 102h0M105 104h0M101 105h0M103 105h0M113 151h0M121 117h0M103 151h0M111 151h0M105 103h0M102 149h0M98 114h0M99 127h0M103 104h0M100 146h0M104 104h0M120 114h0" stroke="#17becf" stroke-width="2" stroke-linecap="round" opacity="0.6" fill="none"/>
<path transform="scale(0.5)" d="M89 172h0M61 164h0M70 155h0M76 156h0M66 168h0M94 146h0M55 152h0M87 153h0M58 163h0M65 172h0M57 157h0M70 145h0M59 152h0M96 158h0M60 152h0M81 141h0M60 136h0M57 129h0M61 145h0M96 154h0M80 144h0M57 155h0M81 137h0M83 144h0M56 133h0M89 154h0M63 140h0M77 173h0M64 152h0M64 145h0M62 169h0M71 131h0M87 173h0M55 162h0M64 149h0M78 146h0M82 143h0M74 144h0M70 133h0M67 131h0M80 148h0M70 173h0M56 153h0M79 159h0M87 144h0M95 161h0M52 157h0M75 175h0M85 161h0M83 163h0M71 151h0M74 148h0M70 155h0M82 146h0M78 138h0M98 161h0M84 165h0M68 149h0M69 153h0M80 165h0M84 147h0M92 168h0M78 135h0M82 143h0M93 153h0M84 136h0M92 146h0M53 141h0M87 142h0M97 152h0M49 146h0M70 133h0M53 155h0M85 164h0M65 135h0M72 164h0M56 155h0M78 147h0M92 166h0M68 144h0M92 139h0M54 149h0M64 160h0M67 132h0M82 175h0M84 156h0M52 136h0M82 175h0M73 177h0M54 140h0M63 162h0M67 160h0M85 135h0M57 147h0M72 151h0M80 153h0M80 141h0M87 169h0M50 144h0M87 147h0M98 166h0M64 168h0M73 138h0M62 131h0M74 163h0M95 146h0M79 140h0M66 132h0M78 165h0M85 142h0M69 149h0M58 133h0M55 152h0M82 175h0M85 169h0M93 166h0M86 149h0M91 171h0M83 175h0M58 162h0M98 164h0M57 143h0M67 165h0M60 127h0M88 170h0M75 173h0M80 150h0M87 167h0M81 144h0M75 134h0M69 161h0M86 153h0M73 171h0M77 154h0M68 137h0M81 135h0M76 176h0M85 144h0M90 147h0M87 137h0M94 149h0M51 140h0M70 137h0M80 138h0M74 166h0M75 139h0M84 158h0M80 149h0M70 170h0M67 147h0M73 163h0M75 143h0M64 153h0M72 146h0M78 149h0M52 155h0M70 164h0M60 132h0M83 160h0M60 131h0M78 145h0M53 136h0M89 141h0M97 150h0M50 148h0M93 162h0M83 176h0M61 163h0M66 127h0M58 160h0M58 165h0M67 132h0M82 160h0M84 141h0M70 159h0M78 145h0M88 161h0M70 143h0M90 167h0M78 167h0M87 164h0M61 131h0M86 171h0M84 144h0M53 137h0M86 154h0M59 132h0M82 147h0M68 177h0M82 169h0M94 141h0M87 154h0M74 164h0M79 164h0M94 151h0M64 156h0M77 140h0M64 159h0M90 155h0M86 144h0M79 146h0M83 157h0M53 136h0M55 151h0M73 141h0M92 170h0M59 158h0M95 145h0M80 168h0M65 138h0M94 165h0M83 144h0M64 149h0M64 142h0M95 157h0M98 166h0M63 127h0M79 147h0M72 174h0M68 141h0M55 162h0M76 171h0M76 175h0M76 176h0M78 134h0M97 164h0M89 174h0M85 168h0M73 151h0M98 154h0M72 148h0M62 150h0M91 165h0M99 155h0M53 155h0M67 130h0M79 145h0M51 145h0M58 152h0M64 154h0M94 153h0M74 133h0M79 174h0M68 150h0M63 128h0M71 158h0M85 157h0M72 173h0M52 153h0M59 145h0M99 153h0M60 167h0M59 146h0M80 141h0M85 158h0M76 151h0M76 178h0M64 136h0M76 159h0M51 134h0M76 140h0M80 176h0M92 171h0M77 136h0M95 161h0M63 137h0M51 143h0M96 164h0M80 140h0M55 150h0M54 132h0M87 143h0M52 131h0M84 174h0M68 156h0M68 134h0M56 156h0M95 146h0M82 172h0M81 140h0M61 166h0M81 155h0M77 158h0M69 131h0M61 130h0M64 136h0M97 158h0M65 160h0M95 162h0M63 171h0M81 158h0M72 159h0M59 131h0M64 152h0M69 133h0M62 153h0M59 143h0M53 140h0M96 167h0M76 152h0M67 139h0M71 147h0M94 160h0M55 155h0M50 137h0M89 163h0M89 148h0M73 132h0M94 164h0M84 176h0M99 156h0M74 165h0M70 151h0M91 173h0M57 135h0M69 167h0M87 152h0M96 152h0M67 156h0M75 171h0M85 146h0M75 148h0M70 156h0M63 168h0M77 174h0M67 164h0M92 166h0M62 137h0M70 138h0M55 135h0M77 177h0M60 143h0M82 171h0M94 162h0M96 158h0M58 161h0M91 138h0M96 166h0M68 146h0M77 148h0M76 161h0M89 144h0M71 143h0M75 158h0M66 132h0M57 154h0M58 151h0M73 139h0M68 168h0M81 136h0M70 140h0M63 160h0M76 136h0M75 141h0M85 142h0M83 155h0M88 165h0M87 151h0M75 157h0M80 165h0M76 173h0M72 163h0M81 163h0M72 139h0M71 168h0M74 143h0M57 145h0M77 155h0M59 156h0M56 156h0M99 157h0M53 146h0M91 149h0M54 147h0M87 144h0M81 172h0M56 139h0M89 153h0M64 174h0M78 134h0M94 167h0M96 169h0M95 169h0M50 149h0M88 147h0M83 166h0M54 144h0M70 173h0M58 159h0M81 175h0M61 157h0M70 134h0M66 152h0M54 158h0M74 148h0M76 170h0M65 168h0M93 154h0M64 156h0M54 135h0M69 176h0M81 173h0M52 151h0M57 158h0M94 154h0M94 162h0M81 160h0M95 164h0M60 139h0M60 143h0M60 133h0M54 139h0M55 139h0M66 169h0M73 174h0M79 163h0M75 160h0M87 136h0M50 143h0M93 145h0M57 155h0M76 171h0M72 153h0M86 162h0M78 164h0M98 164h0M57 134h0M65 138h0M71 169h0M71 164h0M81 177h0M72 136h0M81 165h0M80 152h0M91 155h0M79 160h0M60 137h0M63 153h0M74 155h0M74 152h0M68 133h0M98 149h0M84 138h0M77 152h0M69 165h0M99 158h0M75 140h0M79 144h0M88 169h0M52 131h0M51 151h0M86 139h0M90 140h0M78 178h0M60 129h0M75 134h0M95 162h0M90 158h0M80 171h0M71 134h0M86 173h0M78 175h0M65 162h0M88 150h0M97 157h0M71 171h0M86 172h0M90 157h0M53 131h0M64 155h0M58 137h0M86 172h0M89 139h0M85 136h0M87 166h0M82 171h0M56 140h0M69 148h0M63 128h0M94 157h0M91 170h0M58 136h0M79 169h0M68 137h0M99 165h0M63 145h0M89 150h0M76 162h0M53 134h0M72 172h0M69 153h0M94 151h0M60 167h0M65 138h0M57 132h0M86 173h0M97 153h0M78 152h0M66 141h0M60 133h0M53 140h0M75 157h0M65 155h0M82 169h0M72 163h0M87 166h0M97 161h0M56 141h0M78 140h0M51 141h0M73 149h0M62 142h0M59 144h0M64 159h0M80 143h0M76 174h0M89 147h0M60 163h0M79 177h0M94 170h0M60 135h0M67 136h0M81 164h0M65 143h0M85 146h0M74 136h0M63 130h0M74 147h0M92 139h0M62 146h0M97 148h0M91 148h0M77 135h0M83 162h0M77 152h0M78 178h0M74 138h0M50 134h0M83 167h0M75 154h0M89 157h0M82 166h0M72 155h0M71 151h0M89 144h0M81 136h0M76 147h0M68 134h0M92 165h0M69 134h0M56 144h0M62 159h0M76 155h0M95 162h0M92 151h0M85 135h0M78 144h0M93 139h0M52 148h0M96 163h0M65 159h0M82 164h0M77 143h0M77 163h0M88 145h0M61 138h0M68 175h0M61 151h0M59 144h0M62 150h0M69 169h0M63 154h0M75 142h0M57 161h0M66 128h0M88 149h0M72 159h0M49 149h0M58 133h0M72 171h0M61 128h0M94 161h0M74 148h0M66 176h0M77 162h0M76 176h0M79 141h0M96 163h0M84 169h0M61 146h0M84 148h0M53 158h0M60 165h0M92 157h0M54 140h0M58 158h0M83 135h0M87 159h0M52 130h0M62 149h0M95 169h0M79 149h0M84 152h0M81 153h0M74 135h0M76 137h0M96 160h0M90 167h0M94 155h0M82 148h0M96 164h0M72 172h0M82 142h0M56 157h0M61 171h0M64 169h0M59 141h0M84 151h0M79 134h0M55 148h0M54 148h0M69 128h0M89 161h0M49 145h0M80 172h0M56 136h0M80 153h0M62 144h0M73 140h0M72 148h0M91 161h0M64 129h0M65 128h0M89 157h0M59 130h0M80 161h0M84 142h0M59 130h0M92 167h0M74 140h0M52 148h0M83 141h0M62 167h0M87 137h0M62 167h0M69 153h0M65 142h0M67 148h0M76 172h0M79 134h0M85 175h0M87 145h0M77 132h0M55 139h0M91 169h0M63 134h0M59 145h0M54 161h0M78 148h0M60 148h0M51 132h0M69 170h0M85 147h0M61 159h0M62 161h0M65 172h0M66 145h0M67 156h0M93 169h0M88 174h0M69 135h0M68 175h0M55 147h0M50 152h0M84 175h0M81 167h0M98 154h0M61 141h0M99 157h0M78 140h0M74 154h0M83 170h0M59 154h0M70 163h0M86 173h0M92 158h0M87 175h0M79 133h0M86 154h0M85 172h0M63 134h0M84 143h0M53 136h0M87 151h0M93 154h0M61 129h0M78 151h0M69 153h0M79 133h0M90 161h0M59 165h0M54 149h0M56 136h0M68 132h0M98 152h0M94 152h0M71 149h0M93 148h0M66 154h0M70 132h0M59 140h0M89 172h0M58 152h0M58 157h0M62 147h0M82 138h0M84 166h0M60 158h0M93 162h0M79 166h0M82 144h0M95 152h0M93 172h0M63 154h0M72 143h0M65 173h0M71 141h0M56 138h0M80 165h0M75 165h0M70 129h0M89 158h0M68 129h0M90 168h0M76 136h0M59 134h0M82 161h0M58 159h0M52 153h0M58 146h0M61 158h0M95 164h0M62 164h0M92 163h0M64 170h0M53 154h0M69 164h0M62 131h0M66 154h0M65 130h0M58 152h0M54 138h0M58 132h0M57 159h0M82 148h0M71 161h0M87 172h0M96 164h0M62 142h0M88 153h0M93 158h0M77 157h0M73 147h0M80 137h0M53 158h0M94 150h0M52 158h0M80 163h0M71 154h0M86 155h0M79 137h0M78 162h0M54 132h0M89 149h0M87 150h0M93 142h0M74 144h0M84 157h0M51 154h0M62 128h0M95 146h0M51 156h0M74 157h0M97 167h0M67 143h0M91 147h0M67 130h0M75 146h0M91 143h0M79 155h0M72 162h0M89 172h0M79 161h0M89 169h0M94 164h0M77 157h0M76 148h0M66 174h0M82 146h0M68 129h0M67 176h0M70 133h0M86 172h0M72 172h0M93 160h0M95 154h0M52 138h0M76 132h0M80 149h0M85 171h0M63 137h0M61 138h0M74 163h0M63 135h0M97 157h0M67 171h0M85 141h0M67 132h0M86 139h0M85 158h0M76 169h0M59 163h0M84 142h0M72 158h0M59 161h0M76 178h0M89 158h0M89 167h0M64 171h0M64 151h0M91 163h0M88 156h0M71 131h0M73 147h0M53 158h0M77 161h0M78 152h0M84 164h0M81 166h0M57 148h0M97 155h0M79 164h0M58 137h0M82 149h0M77 135h0M71 157h0M63 135h0M72 148h0M78 165h0M73 166h0M54 132h0M87 143h0M95 161h0M61 161h0M86 150h0M69 169h0M76 151h0M95 153h0M79 176h0M51 143h0M53 145h0M61 129h0M87 164h0M83 139h0M70 159h0M72 176h0M97 150h0M89 173h0M73 177h0M95 159h0M52 145h0M92 171h0M76 159h0M93 150h0M77 133h0M82 136h0M80 140h0M60 160h0M62 127h0M60 157h0M71 169h0M82 166h0M94 146h0M70 146h0M53 138h0M82 156h0M71 149h0M77 136h0M76 159h0M69 138h0M51 142h0M64 169h0M85 156h0M73 164h0M88 164h0M98 159h0M86 171h0M68 172h0M80 154h0M99 163h0M57 149h0M88 172h0M58 167h0M84 171h0M79 136h0M64 130h0M84 168h0M64 156h0M61 166h0M94 167h0M88 156h0M77 151h0M89 154h0M68 169h0M70 131h0M96 167h0M62 163h0M68 136h0M49 149h0M69 169h0M58 136h0M56 154h0M76 138h0M79 139h0M56 144h0M55 149h0M58 167h0M67 142h0M76 172h0M78 145h0M79 170h0M81 151h0M90 153h0M95 167h0M59 147h0M77 134h0M64 166h0M56 139h0M54 144h0M90 166h0M70 138h0M83 162h0M78 132h0M62 141h0M56 153h0M65 150h0M74 164h0M98 165h0M76 178h0M85 168h0M54 154h0M63 168h0M66 154h0M74 156h0M54 163h0M65 173h0M90 151h0M65 156h0M71 163h0M73 167h0M64 148h0M70 159h0M62 165h0M79 156h0M74 132h0M74 150h0M89 172h0M55 158h0M84 170h0M73 161h0M67 153h0M83 151h0M96 154h0M65 146h0M82 148h0M81 151h0M68 152h0M58 157h0M67 176h0M79 144h0M66 131h0M76 169h0M76 174h0M86 153h0M87 145h0M77 153h0M93 138h0M73 138h0M50 149h0M68 159h0M72 137h0M62 145h0M92 139h0M89 160h0M71 139h0M50 132h0M98 160h0M63 154h0M53 142h0M64 129h0M82 161h0M73 149h0M90 144h0M71 172h0M66 154h0M77 146h0M82 152h0M51 155h0M65 132h0M66 127h0M56 144h0M65 154h0M89 160h0M90 146h0M76 176h0M77 145h0M86 146h0M54 141h0M77 165h0M76 156h0M75 153h0M56 158h0M81 173h0M58 168h0M73 157h0M79 170h0M70 133h0M64 152h0M62 128h0M55 149h0M82 177h0M91 171h0M67 143h0M64 163h0M66 150h0M55 154h0M79 166h0M67 173h0M50 151h0M68 138h0M95 156h0M73 160h0M57 146h0M98 159h0M96 169h0M66 154h0M77 132h0M89 150h0M68 128h0M80 139h0M60 166h0M96 156h0M76 145h0M54 130h0M82 155h0M55 142h0M71 176h0M65 130h0M57 132h0M78 142h0M82 162h0M68 173h0M83 156h0M65 133h0M93 168h0M84 146h0M66 145h0M75 176h0M75 156h0M57 144h0M92 173h0M63 137h0M65 144h0M54 140h0M63 140h0M84 141h0M93 158h0M70 146h0M73 151h0M87 144h0M62 148h0M79 153h0M85 136h0M90 144h0M58 138h0M74 156h0M79 170h0M56 130h0M49 145h0M83 141h0M81 158h0M74 172h0M58 154h0M72 164h0M76 131h0M82 140h0M68 153h0" stroke="#ff7f0e" stroke-width="2.4" stroke-linecap="round" opacity="0.9" fill="none"/>
<path transform="scale(0.5)" d="M89 172h0M87 153h0M60 152h0M57 155h0M64 152h0M78 146h0M56 153h0M83 163h0M84 165h0M82 143h0M49 146h0M78 147h0M82 175h0M67 160h0M50 144h0M95 146h0M55 152h0M58 162h0M80 150h0M77 154h0M94 149h0M80 149h0M78 149h0M53 136h0M66 127h0M78 145h0M86 171h0M82 169h0M77 140h0M55 151h0M94 165h0M79 147h0M78 134h0M62 150h0M58 152h0M71 158h0M59 146h0M51 134h0M51 143h0M84 174h0M61 166h0M65 160h0M69 133h0M71 147h0M94 164h0M69 167h0M70 156h0M55 135h0M91 138h0M75 158h0M70 140h0M87 151h0M71 168h0M53 146h0M64 174h0M83 166h0M66 152h0M54 135h0M81 160h0M66 169h0M57 155h0M65 138h0M91 155h0M98 149h0M88 169h0M75 134h0M65 162h0M64 155h0M56 140h0M68 137h0M69 153h0M78 152h0M72 163h0M62 142h0M79 177h0M74 136h0M77 135h0M75 154h0M76 147h0M95 162h0M65 159h0M61 151h0M66 128h0M94 161h0M84 169h0M58 158h0M84 152h0M82 148h0M59 141h0M49 145h0M91 161h0M59 130h0M62 167h0M87 145h0M78 148h0M65 172h0M55 147h0M78 140h0M87 175h0M87 151h0M59 165h0M93 148h0M62 147h0M95 152h0M80 165h0M59 134h0M62 164h0M65 130h0M87 172h0M80 137h0M79 137h0M84 157h0M67 143h0M89 172h0M82 146h0M95 154h0M74 163h0M85 158h0M89 158h0M73 147h0M97 155h0M72 148h0M86 150h0M61 129h0M73 177h0M82 136h0M94 146h0M69 138h0M86 171h0M84 171h0M88 156h0M68 136h0M56 144h0M81 151h0M54 144h0M65 150h0M66 154h0M73 167h0M89 172h0M65 146h0M66 131h0M73 138h0M71 139h0M73 149h0M65 132h0M77 145h0M81 173h0M55 149h0M79 166h0M98 159h0M60 166h0M65 130h0M93 168h0M63 137h0M73 151h0M74 156h0M58 154h0" stroke="#a55209" stroke-width="2" stroke-linecap="round" opacity="0.6" fill="none"/>
<path transform="scale(0.5)" d="M89 176h0M100 149h0M97 142h0M50 156h0M53 161h0M102 157h0M87 179h0M61 175h0M72 128h0M76 180h0M86 132h0M95 141h0M57 125h0M53 127h0M53 168h0M102 161h0M47 150h0M53 164h0M100 149h0M52 126h0M50 133h0M71 178h0M58 126h0M67 178h0M61 173h0M101 168h0M92 175h0M46 145h0M49 153h0M52 126h0M93 137h0M59 124h0M61 174h0M90 136h0M51 128h0M70 126h0M99 145h0M46 142h0M101 163h0M47 135h0M53 165h0M59 172h0M52 160h0M63 175h0M96 173h0M95 172h0M51 126h0M57 171h0M49 127h0M52 128h0M48 141h0M89 176h0M100 163h0M78 180h0M95 171h0M74 180h0M58 126h0M83 180h0M50 158h0M85 178h0M78 181h0M84 179h0M64 177h0M84 178h0M48 143h0M52 163h0M95 137h0M69 126h0M102 162h0M49 137h0M46 148h0M62 125h0M77 180h0" stroke="#ff7f0e" stroke-width="2" stroke-linecap="round" opacity="0.6" fill="none"/>
<path transform="scale(0.5)" d="M81 211h0M81 177h0M86 206h0M87 183h0M97 190h0M100 209h0M66 191h0M79 176h0M99 213h0M87 211h0M89 192h0M91 210h0M77 197h0M71 198h0M96 192h0M100 211h0M87 182h0M79 178h0M106 206h0M89 191h0M68 198h0M108 205h0M100 190h0M96 189h0M80 205h0M105 204h0M95 178h0M75 194h0M75 204h0M95 187h0M87 195h0M94 214h0M84 175h0M106 206h0M73 204h0M77 207h0M81 201h0M90 218h0M86 211h0M88 190h0M73 188h0M88 200h0M86 177h0M89 217h0M93 189h0M101 201h0M83 187h0M72 202h0M76 204h0M95 205h0M89 218h0M66 194h0M97 208h0M69 193h0M86 204h0M96 214h0M100 214h0M104 192h0M75 180h0M72 188h0M73 194h0M83 206h0M97 179h0M68 202h0M95 212h0M93 212h0M74 200h0M67 182h0M79 213h0M74 197h0M108 193h0M87 178h0M89 179h0M84 199h0M95 211h0M73 192h0M82 184h0M87 192h0M103 197h0M99 199h0M107 209h0M80 213h0M71 181h0M92 207h0M95 213h0M95 194h0M108 207h0M96 193h0M76 211h0M92 206h0M97 190h0M89 213h0M93 210h0M76 210h0M76 189h0M74 210h0M72 192h0M75 201h0M76 202h0M75 206h0M91 208h0M77 185h0M99 199h0M80 190h0M84 180h0M78 180h0M94 194h0M88 198h0M69 189h0M101 210h0M79 197h0M74 210h0M102 192h0M85 203h0M72 180h0M94 182h0M99 209h0M79 190h0M86 198h0M100 204h0M71 205h0M67 186h0M88 200h0M93 183h0M70 190h0M100 182h0M87 186h0M69 194h0M87 214h0M77 192h0M90 186h0M103 202h0M101 199h0M74 208h0M75 179h0M71 179h0M69 188h0M87 216h0M75 208h0M71 183h0M71 202h0M76 194h0M90 185h0M100 209h0M75 206h0M87 181h0M91 193h0M89 188h0M72 191h0M79 185h0M67 185h0M85 216h0M81 186h0M66 190h0M92 207h0M79 196h0M94 196h0M66 194h0M108 197h0M107 198h0M68 182h0M74 201h0M81 195h0M87 211h0M72 195h0M97 211h0M98 209h0M75 184h0M73 187h0M82 186h0M98 214h0M85 182h0M86 188h0M99 185h0M88 214h0M103 211h0M89 210h0M93 190h0M78 204h0M106 197h0M99 210h0M81 192h0M83 206h0M106 208h0M88 204h0M66 190h0M83 211h0M87 198h0M96 181h0M95 203h0M80 204h0M84 180h0M96 205h0M79 195h0M76 194h0M67 194h0M103 211h0M77 181h0M77 205h0M75 184h0M90 217h0M80 206h0M107 189h0M81 187h0M72 188h0M99 201h0M89 182h0M66 197h0M99 198h0M87 200h0M83 189h0M87 216h0M89 199h0M80 210h0M70 202h0M105 190h0M98 181h0M84 213h0M84 198h0M80 182h0M99 214h0M78 205h0M103 192h0M67 197h0M79 208h0M93 199h0M69 184h0M95 178h0M76 187h0M77 203h0M74 207h0M100 201h0M79 184h0M90 181h0M71 185h0M68 182h0M97 179h0M78 210h0M97 201h0M102 204h0M97 182h0M98 205h0M84 215h0M88 202h0M108 193h0M107 208h0M82 202h0M90 208h0M93 199h0M76 201h0M94 199h0M73 194h0M86 180h0M80 176h0M79 208h0M85 191h0M96 195h0M79 179h0M86 204h0M78 198h0M73 201h0M103 188h0M95 210h0M66 193h0M106 189h0M67 197h0M92 185h0M81 176h0M85 214h0M97 214h0M96 197h0M77 204h0M90 189h0M91 199h0M75 183h0M95 196h0M87 218h0M79 209h0M100 209h0M102 210h0M103 205h0M87 201h0M86 195h0M77 198h0M72 201h0M69 189h0M71 190h0M106 194h0M91 198h0M69 186h0M84 205h0M92 208h0M80 209h0M88 177h0M82 196h0M75 208h0M108 201h0M77 191h0M101 198h0M103 201h0M100 197h0M94 198h0M90 182h0M80 212h0M94 191h0M89 204h0M99 216h0M72 180h0M80 213h0M89 192h0M82 176h0M70 183h0M76 184h0M91 214h0M81 187h0M71 191h0M84 180h0M108 197h0M100 204h0M90 190h0M71 179h0M85 189h0M78 180h0M72 206h0M98 206h0M79 213h0M76 185h0M88 193h0M91 191h0M91 184h0M76 182h0M82 202h0M83 205h0M103 201h0M79 206h0M95 203h0M99 200h0M85 192h0M88 210h0M83 213h0M107 207h0M77 201h0M76 195h0M99 199h0M76 186h0M77 195h0M69 178h0M67 182h0M89 181h0M93 189h0M78 180h0M90 192h0M73 179h0M86 181h0M89 208h0M104 192h0M83 179h0M87 215h0M83 191h0M76 176h0M85 185h0M81 191h0M90 186h0M85 187h0M86 212h0M103 207h0M80 210h0M81 174h0M95 211h0M86 206h0M82 177h0M75 181h0M69 183h0M80 186h0M92 208h0M80 190h0M93 188h0M77 182h0M96 214h0M107 201h0M98 194h0M93 210h0M78 188h0M99 194h0M75 199h0M77 186h0M99 208h0M98 207h0M77 204h0M68 193h0M97 213h0M85 187h0M86 207h0M102 186h0M83 210h0M87 204h0M105 196h0M101 197h0M79 202h0M101 198h0M99 214h0M85 198h0M97 197h0M91 177h0M101 200h0M87 187h0M92 177h0M101 201h0M94 184h0M89 191h0M78 203h0M74 200h0M77 205h0M71 192h0M100 211h0M78 202h0M70 203h0M101 211h0M92 189h0M94 199h0M91 214h0M86 187h0M104 198h0M90 213h0M90 180h0M88 179h0M93 196h0M81 182h0M81 193h0M97 179h0M106 193h0M83 208h0M76 180h0M90 181h0M78 191h0M92 178h0M85 179h0M108 193h0M108 195h0M99 190h0M70 197h0M97 197h0M79 181h0M75 206h0M101 185h0M79 195h0M75 190h0M93 179h0M100 199h0M107 207h0M105 204h0M89 186h0M102 210h0M103 202h0M102 196h0M94 204h0M68 180h0M102 202h0M71 190h0M87 180h0M92 186h0M92 210h0M74 177h0M101 200h0M82 196h0M69 189h0M81 199h0M72 186h0M93 189h0M100 196h0M93 197h0M102 190h0M83 190h0M83 200h0M85 201h0M99 210h0M87 178h0M79 193h0M75 183h0M68 194h0M86 193h0M98 186h0M74 189h0M87 199h0M80 175h0M94 205h0M104 205h0M75 179h0M69 189h0M107 189h0M95 190h0M99 186h0M75 190h0M97 186h0M74 179h0M96 193h0M77 177h0M95 185h0M108 200h0M92 216h0M88 199h0M78 210h0M66 189h0M108 196h0M103 186h0M99 201h0M106 191h0M79 197h0M81 182h0M71 203h0M84 211h0M91 210h0M86 183h0M91 195h0M100 212h0M77 176h0M105 198h0M92 200h0M79 197h0M73 179h0M96 200h0M87 205h0M76 182h0M89 214h0M94 187h0M84 206h0M92 208h0M95 202h0M92 206h0M80 176h0M97 187h0M91 184h0M92 204h0M106 194h0M74 190h0M107 191h0M92 181h0M102 207h0M74 190h0M94 182h0M84 191h0M104 211h0M94 197h0M79 187h0M70 187h0M94 181h0M82 185h0M71 179h0M88 203h0M97 183h0M80 207h0M86 206h0M70 180h0M71 202h0M70 191h0M74 207h0M70 182h0M95 179h0M85 212h0M95 199h0M88 200h0M102 197h0M103 211h0M96 213h0M102 204h0M75 175h0M88 208h0M108 207h0M76 202h0M101 208h0M71 182h0M97 195h0M78 212h0M96 183h0M105 189h0M93 188h0M95 213h0M83 189h0M66 185h0M92 189h0M102 199h0M82 194h0M102 191h0M87 206h0M81 197h0M76 177h0M87 188h0M70 194h0M79 210h0M94 195h0M97 180h0M75 190h0M66 191h0M86 183h0M67 198h0M84 197h0M81 184h0M109 205h0M72 201h0M88 207h0M96 197h0M97 192h0M79 177h0M95 214h0M89 190h0M82 179h0M77 186h0M102 210h0M98 195h0M74 182h0M91 189h0M107 206h0M70 193h0M75 177h0M99 195h0M73 186h0M102 200h0M72 208h0M81 177h0M89 199h0M94 188h0M68 183h0M82 201h0M95 193h0M79 192h0M74 184h0M81 191h0M101 194h0M83 185h0M84 186h0M73 202h0M79 212h0M73 191h0M97 182h0M73 208h0M72 183h0M92 182h0M96 181h0M82 182h0M79 180h0M100 210h0M77 178h0M68 189h0M88 179h0M83 184h0M91 194h0M82 188h0M81 196h0M93 200h0M75 211h0M71 181h0M105 196h0M71 201h0M106 209h0M81 191h0M72 189h0M90 184h0M96 195h0M107 197h0M76 189h0M85 190h0M80 179h0M73 190h0M82 203h0M95 211h0M74 176h0M66 191h0M82 200h0M74 205h0M103 195h0M81 187h0M92 190h0M82 179h0M101 195h0M99 215h0M90 194h0M74 185h0M91 187h0M79 203h0M80 196h0M91 196h0M85 192h0M82 179h0M95 197h0M94 217h0M94 205h0M87 190h0M108 202h0M88 214h0M73 186h0M93 190h0M97 181h0M68 196h0M69 187h0M106 207h0M83 212h0M95 179h0M91 183h0M73 187h0M71 197h0M91 192h0M91 191h0M90 215h0M85 194h0M84 176h0M73 204h0M91 190h0M94 183h0M91 205h0M94 207h0M84 207h0M97 214h0M72 192h0M101 199h0M88 211h0M101 190h0M82 178h0M90 210h0M98 187h0M69 200h0M80 213h0M95 207h0M69 195h0M69 193h0M68 183h0M94 201h0M67 183h0M94 178h0M78 201h0M98 206h0M88 205h0M71 184h0M76 179h0M103 200h0M92 180h0M97 206h0M84 195h0M83 203h0M92 185h0M89 195h0M105 201h0M106 189h0M84 199h0M90 214h0M76 209h0M99 183h0M75 178h0M86 212h0M70 178h0M66 198h0M89 187h0M97 206h0M106 187h0M82 200h0M93 190h0M103 198h0M83 208h0M91 212h0M81 204h0M103 207h0M69 195h0M106 199h0M81 205h0M90 186h0M74 188h0M97 197h0M90 217h0M102 202h0M92 216h0M102 198h0M70 190h0M70 194h0M106 203h0M93 203h0M89 177h0M90 186h0M97 193h0M95 203h0M97 216h0M86 185h0M73 180h0M102 210h0M83 197h0M73 190h0M105 202h0M83 179h0M89 196h0M89 189h0M89 186h0M74 207h0M76 183h0M79 189h0M105 209h0M76 196h0M88 187h0M95 190h0M78 189h0M79 204h0M84 211h0M92 206h0M88 179h0M73 187h0M82 192h0M106 206h0M86 191h0M76 186h0M87 187h0M87 209h0M100 186h0M86 194h0M73 208h0M83 190h0M68 186h0M105 208h0" stroke="#d62728" stroke-width="2.4" stroke-linecap="round" opacity="0.9" fill="none"/>
<path transform="scale(0.5)" d="M81 211h0M79 176h0M96 192h0M108 205h0M75 204h0M77 207h0M86 177h0M95 205h0M100 214h0M68 202h0M108 193h0M87 192h0M95 213h0M89 213h0M76 202h0M78 180h0M102 192h0M100 204h0M87 186h0M74 208h0M71 202h0M89 188h0M92 207h0M74 201h0M73 187h0M103 211h0M83 206h0M95 203h0M103 211h0M81 187h0M83 189h0M84 213h0M79 208h0M100 201h0M97 201h0M107 208h0M86 180h0M78 198h0M92 185h0M91 199h0M103 205h0M106 194h0M82 196h0M94 198h0M80 213h0M71 191h0M78 180h0M91 184h0M99 200h0M99 199h0M78 180h0M87 215h0M86 212h0M75 181h0M96 214h0M77 186h0M86 207h0M101 198h0M92 177h0M71 192h0M91 214h0M81 182h0M78 191h0M97 197h0M100 199h0M94 204h0M74 177h0M100 196h0M87 178h0M87 199h0M95 190h0M95 185h0M103 186h0M91 210h0M79 197h0M84 206h0M92 204h0M94 182h0M82 185h0M71 202h0M88 200h0M108 207h0M105 189h0M82 194h0M79 210h0M84 197h0M79 177h0M74 182h0M102 200h0M95 193h0M73 202h0M96 181h0M83 184h0M105 196h0M107 197h0M74 176h0M82 179h0M80 196h0M87 190h0M69 187h0M91 192h0M94 183h0M88 211h0M95 207h0M78 201h0M97 206h0M84 199h0M66 198h0M83 208h0M90 186h0M70 190h0M95 203h0M105 202h0M79 189h0M84 211h0M76 186h0M68 186h0" stroke="#8b191a" stroke-width="2" stroke-linecap="round" opacity="0.6" fill="none"/>
<path transform="scale(0.5)" d="M82 217h0M82 172h0M100 178h0M63 196h0M108 190h0M98 177h0M73 209h0M103 184h0M85 218h0M74 173h0M71 209h0M68 203h0M63 184h0M87 174h0M82 173h0M68 177h0M109 208h0M81 173h0M65 181h0M93 219h0M91 221h0M78 214h0M65 200h0M80 173h0M97 177h0M112 203h0M65 186h0M92 176h0M101 216h0M72 174h0M65 194h0M104 214h0M78 216h0M107 212h0M65 195h0M104 216h0M105 214h0M68 176h0M66 180h0M104 212h0M66 201h0M70 175h0M70 207h0M65 186h0M106 211h0M85 219h0M88 175h0M87 174h0M108 209h0M105 186h0M110 199h0M64 185h0M106 212h0M67 202h0M94 177h0M112 208h0M109 189h0" stroke="#d62728" stroke-width="2" stroke-linecap="round" opacity="0.6" fill="none"/>
<path transform="scale(0.5)" d="M166 101h0M190 98h0M182 111h0M191 96h0M177 97h0M179 112h0M159 102h0M200 83h0M191 105h0M177 89h0M184 91h0M185 84h0M161 102h0M183 83h0M182 101h0M164 103h0M200 88h0M164 109h0M167 104h0M187 80h0M163 95h0M160 99h0M200 95h0M190 100h0M176 94h0M197 81h0M190 103h0M183 97h0M179 111h0M175 113h0M187 83h0M171 87h0M177 83h0M184 112h0M176 86h0M182 108h0M167 110h0M180 82h0M178 103h0M169 109h0M171 93h0M193 90h0M163 105h0M174 92h0M171 86h0M175 105h0M178 80h0M183 79h0M176 84h0M185 90h0M163 104h0M181 80h0M172 103h0M174 111h0M171 95h0M186 107h0M181 103h0M173 91h0M194 81h0M180 81h0M196 87h0M193 78h0M188 109h0M202 92h0M173 116h0M166 116h0M177 105h0M161 106h0M181 94h0M181 110h0M168 107h0M179 90h0M196 80h0M167 89h0M181 95h0M167 89h0M177 109h0M163 94h0M174 83h0M183 107h0M179 90h0M184 104h0M195 80h0M196 82h0M194 96h0M195 83h0M192 94h0M173 103h0M164 95h0M186 109h0M194 94h0M192 92h0M172 99h0M194 91h0M187 80h0M168 113h0M184 101h0M183 83h0M172 108h0M170 106h0M181 101h0M173 102h0M184 87h0M167 89h0M169 115h0M183 81h0M159 104h0M197 99h0M186 81h0M184 112h0M199 94h0M184 111h0M176 89h0M175 106h0M177 83h0M193 91h0M186 80h0M167 96h0M163 104h0M174 98h0M171 93h0M175 103h0M176 111h0M193 95h0M174 99h0M167 97h0M181 110h0M172 105h0M186 83h0M184 95h0M190 87h0M177 107h0M174 116h0M177 86h0M190 77h0M181 110h0M173 99h0M190 91h0M180 102h0M166 104h0M186 98h0M185 107h0M189 83h0M190 91h0M163 109h0M182 82h0M161 100h0M181 85h0M173 104h0M169 104h0M162 95h0M163 102h0M173 102h0M162 100h0M187 94h0M197 78h0M196 80h0M179 91h0M166 111h0M165 100h0M184 88h0M170 103h0M179 105h0M162 103h0M175 104h0M163 96h0M189 80h0M165 95h0M165 110h0M184 96h0M189 101h0M184 81h0M175 112h0M181 92h0M179 96h0M200 86h0M194 93h0M175 91h0M198 97h0M185 89h0M201 81h0M196 98h0M173 107h0M184 79h0M185 99h0M191 90h0M178 106h0M197 82h0M191 107h0M201 83h0M182 104h0M187 105h0M192 83h0M201 93h0M185 106h0M198 92h0M169 90h0M162 103h0M177 98h0M197 80h0M168 93h0M190 98h0M175 90h0M177 108h0M192 87h0M190 100h0M176 104h0M195 86h0M171 91h0M201 92h0M188 78h0M199 89h0M168 88h0M173 94h0M181 108h0M185 82h0M193 93h0M166 91h0M176 91h0M182 109h0M168 109h0M172 97h0M161 102h0M164 108h0M200 87h0M165 108h0M196 83h0M195 91h0M184 102h0M196 78h0M175 95h0M192 102h0M195 101h0M161 96h0M186 94h0M175 96h0M180 103h0M199 91h0M181 108h0M186 92h0M177 113h0M179 81h0M188 94h0M160 103h0M161 110h0M169 114h0M181 92h0M169 112h0M166 105h0M169 117h0M181 85h0M176 101h0M186 88h0M189 108h0M201 93h0M200 79h0M191 86h0M172 109h0M175 116h0M201 85h0M162 107h0M180 111h0M188 96h0M161 109h0M200 88h0M179 89h0M200 89h0M185 109h0M196 85h0M165 97h0M174 109h0M167 110h0M171 88h0M188 108h0M195 103h0M168 96h0M194 77h0M172 89h0M195 79h0M166 104h0M186 94h0M191 75h0M198 89h0M178 99h0M183 98h0M179 112h0M182 96h0M191 86h0M160 99h0M177 103h0M180 105h0M190 95h0M192 99h0M185 93h0M168 102h0M177 81h0M196 89h0M191 100h0M195 85h0M171 85h0M199 97h0M189 97h0M192 75h0M166 107h0M174 108h0M172 84h0M170 99h0M169 108h0M183 103h0M183 106h0M169 112h0M184 93h0M188 83h0M196 92h0M196 80h0M202 88h0M172 105h0M195 82h0M170 107h0M167 97h0M183 95h0M166 107h0M195 86h0M166 97h0M183 107h0M191 101h0M164 93h0M172 89h0M164 107h0M162 99h0M166 96h0M191 81h0M166 99h0M191 91h0M174 91h0M189 89h0M185 98h0M162 110h0M196 93h0M190 87h0M179 83h0M171 110h0M172 106h0M183 110h0M180 101h0M189 100h0M183 92h0M186 105h0M192 76h0M167 101h0M195 81h0M181 91h0M188 82h0M170 114h0M181 83h0M187 94h0M166 111h0M189 85h0M193 94h0M167 96h0M198 94h0M179 102h0M196 79h0M193 78h0M173 115h0M182 104h0M202 93h0M183 104h0M181 95h0M181 92h0M174 109h0M190 86h0M182 109h0M174 96h0M193 78h0M175 93h0M177 85h0M172 87h0M193 80h0M171 99h0M189 92h0M183 78h0M186 99h0M160 99h0M188 82h0M180 105h0M183 98h0M181 108h0M178 95h0M174 105h0M181 87h0M175 99h0M193 104h0M193 87h0M198 99h0M171 98h0M180 111h0M193 87h0M180 112h0M171 101h0M168 89h0M187 82h0M197 79h0M189 104h0M188 83h0M198 88h0M186 87h0M192 79h0M181 103h0M195 96h0M176 82h0M166 108h0M194 99h0M176 102h0M188 86h0M188 101h0M200 84h0M175 95h0M163 95h0M189 104h0M195 78h0M193 100h0M175 99h0M197 99h0M198 83h0M170 118h0M189 96h0M165 109h0M183 102h0M183 96h0M166 114h0M177 109h0M195 84h0M175 111h0M175 90h0M185 97h0M173 93h0M197 93h0M185 94h0M193 80h0M194 85h0M197 97h0M174 103h0M201 88h0M175 86h0M165 103h0M197 81h0M188 84h0M194 89h0M166 113h0M192 83h0M184 97h0M171 98h0M195 84h0M161 110h0M172 88h0M193 98h0M193 99h0M176 83h0M199 93h0M186 93h0M193 86h0M188 99h0M170 90h0M174 88h0M170 103h0M201 87h0M189 76h0M177 109h0M196 102h0" stroke="#8c564b" stroke-width="2.4" stroke-linecap="round" opacity="0.9" fill="none"/>
<path transform="scale(0.5)" d="M166 101h0M200 83h0M182 101h0M160 99h0M179 111h0M182 108h0M163 105h0M185 90h0M181 103h0M202 92h0M168 107h0M163 94h0M194 96h0M192 92h0M172 108h0M183 81h0M176 89h0M174 98h0M181 110h0M177 86h0M186 98h0M181 85h0M187 94h0M170 103h0M165 110h0M200 86h0M173 107h0M201 83h0M169 90h0M177 108h0M188 78h0M166 91h0M200 87h0M192 102h0M181 108h0M169 114h0M186 88h0M201 85h0M200 89h0M188 108h0M186 94h0M191 86h0M168 102h0M189 97h0M183 103h0M202 88h0M195 86h0M162 99h0M185 98h0M183 110h0M195 81h0M189 85h0M173 115h0M190 86h0M193 80h0M180 105h0M193 104h0M171 101h0M186 87h0M176 102h0M195 78h0M165 109h0M175 90h0M197 97h0M194 89h0M172 88h0M188 99h0M196 102h0" stroke="#5b3730" stroke-width="2" stroke-linecap="round" opacity="0.6" fill="none"/>
<path transform="scale(0.5)" d="M199 75h0M179 78h0M202 81h0M193 74h0M172 82h0M174 81h0M160 109h0M178 78h0M168 87h0M171 82h0M168 86h0M166 87h0M158 100h0M177 117h0M174 80h0M202 84h0M199 78h0M177 118h0M158 101h0M165 119h0M167 120h0M156 102h0M205 89h0M159 97h0M159 100h0M204 80h0M157 99h0M203 77h0M202 80h0M200 99h0M202 86h0M191 108h0M178 78h0M165 87h0M176 80h0M202 93h0M205 91h0M198 103h0M192 75h0M199 99h0M203 84h0M157 103h0M195 105h0M168 87h0M164 118h0M194 105h0" stroke="#8c564b" stroke-width="2" stroke-linecap="round" opacity="0.6" fill="none"/>
<path transform="scale(0.5)" d="M237 118h0M236 119h0M210 98h0M193 110h0M208 149h0M207 90h0M229 134h0M238 116h0M190 114h0M210 144h0M206 91h0M219 149h0M219 139h0M210 116h0M217 99h0M198 126h0M210 127h0M224 94h0M237 115h0M231 99h0M211 122h0M204 122h0M204 129h0M224 136h0M206 133h0M222 121h0M195 109h0M227 135h0M215 151h0M221 124h0M228 132h0M223 105h0M196 141h0M206 154h0M222 136h0M191 132h0M219 134h0M206 155h0M198 146h0M226 110h0M211 136h0M230 136h0M236 110h0M217 106h0M217 138h0M192 111h0M233 129h0M201 117h0M223 117h0M198 112h0M235 104h0M220 125h0M205 121h0M220 96h0M220 92h0M206 117h0M215 99h0M229 125h0M233 126h0M218 113h0M218 126h0M224 100h0M234 127h0M212 93h0M198 142h0M211 129h0M219 115h0M232 129h0M221 113h0M225 126h0M216 118h0M191 126h0M207 104h0M216 92h0M230 128h0M196 107h0M214 109h0M226 124h0M202 153h0M203 130h0M194 112h0M204 123h0M217 127h0M199 123h0M228 99h0M199 142h0M225 100h0M220 116h0M195 118h0M198 137h0M209 154h0M222 95h0M218 95h0M194 136h0M235 131h0M194 140h0M202 133h0M215 127h0M214 103h0M206 114h0M210 100h0M233 106h0M202 105h0M211 145h0M203 109h0M212 142h0M202 135h0M221 93h0M220 118h0M218 118h0M232 114h0M193 129h0M237 120h0M229 128h0M208 111h0M199 109h0M195 142h0M222 145h0M196 131h0M195 112h0M196 147h0M235 106h0M194 117h0M234 104h0M230 137h0M205 112h0M214 126h0M235 113h0M212 153h0M229 120h0M221 103h0M204 125h0M236 119h0M215 111h0M205 116h0M218 115h0M196 105h0M233 112h0M209 139h0M204 118h0M213 114h0M204 107h0M219 108h0M230 114h0M200 135h0M215 126h0M229 128h0M208 149h0M199 143h0M230 137h0M210 118h0M198 112h0M218 142h0M215 133h0M223 144h0M220 146h0M205 107h0M225 110h0M226 114h0M221 117h0M204 113h0M216 105h0M238 114h0M233 98h0M205 135h0M217 121h0M213 98h0M233 132h0M217 143h0M224 104h0M204 148h0M207 144h0M213 150h0M209 147h0M201 118h0M214 119h0M195 135h0M232 132h0M223 105h0M228 123h0M234 104h0M193 108h0M212 120h0M225 106h0M213 139h0M208 140h0M221 124h0M195 116h0M211 134h0M207 137h0M217 92h0M207 126h0M220 141h0M194 119h0M227 106h0M207 92h0M214 150h0M233 124h0M216 132h0M218 91h0M202 136h0M210 105h0M201 132h0M210 128h0M229 113h0M235 112h0M225 104h0M216 104h0M232 107h0M204 149h0M202 113h0M194 127h0M194 124h0M224 127h0M206 144h0M237 102h0M222 99h0M222 113h0M213 128h0M197 114h0M211 115h0M223 142h0M232 120h0M209 127h0M224 129h0M228 105h0M213 107h0M210 128h0M219 97h0M232 132h0M211 155h0M208 106h0M220 115h0M204 113h0M234 101h0M210 121h0M217 110h0M214 116h0M194 118h0M216 138h0M227 121h0M198 127h0M205 92h0M204 121h0M208 109h0M202 97h0M206 121h0M227 140h0M218 122h0M199 106h0M210 124h0M219 149h0M203 153h0M221 133h0M210 93h0M200 116h0M212 139h0M214 115h0M217 130h0M234 116h0M204 104h0M205 149h0M197 127h0M213 115h0M224 132h0M190 115h0M227 127h0M192 119h0M210 95h0M209 112h0M205 98h0M213 92h0M200 122h0M197 100h0M207 92h0M233 121h0M221 100h0M220 104h0M217 114h0M229 116h0M215 103h0M219 109h0M213 117h0M222 116h0M236 103h0M214 137h0M202 117h0M201 129h0M211 141h0M211 123h0M205 145h0M207 120h0M203 134h0M225 101h0M218 94h0M208 134h0M208 125h0M212 137h0M232 128h0M224 112h0M201 140h0M210 132h0M208 134h0M222 107h0M219 134h0M196 123h0M233 129h0M234 106h0M204 139h0M219 118h0M216 110h0M221 108h0M218 119h0M195 136h0M207 153h0M214 134h0M226 135h0M207 121h0M214 141h0M206 140h0M212 134h0M210 142h0M209 147h0M217 107h0M206 107h0M217 114h0M235 111h0M200 106h0M209 143h0M212 136h0M234 118h0M205 146h0M226 111h0M194 131h0M227 133h0M201 126h0M193 126h0M234 127h0M216 126h0M231 112h0M201 122h0M209 148h0M203 111h0M214 111h0M231 108h0M211 125h0M218 132h0M212 114h0M225 124h0M200 149h0M201 100h0M206 127h0M205 148h0M229 100h0M197 134h0M210 151h0M222 95h0M207 137h0M205 154h0M226 115h0M213 121h0M206 113h0M217 119h0M217 144h0M198 102h0M220 135h0M201 116h0M225 124h0M219 109h0M193 137h0M227 124h0M213 102h0M216 109h0M202 96h0M201 130h0M235 126h0M205 143h0M206 104h0M232 116h0M210 126h0M209 116h0M205 114h0M197 107h0M201 127h0M193 115h0M204 122h0M229 97h0M199 133h0M221 115h0M220 111h0M206 139h0M232 130h0M234 123h0M197 106h0M219 116h0M232 126h0M216 123h0M215 130h0M224 127h0M218 100h0M218 107h0M189 118h0M195 110h0M230 105h0M201 101h0M201 126h0M198 145h0M206 139h0M215 99h0M223 116h0M231 132h0M222 118h0M190 117h0M191 111h0M221 104h0M218 124h0M225 104h0M228 108h0M235 122h0M224 105h0M221 137h0M193 107h0M204 100h0M191 114h0M198 131h0M203 123h0M222 140h0M227 98h0M235 119h0M209 138h0M207 152h0M198 143h0M227 121h0M206 153h0M221 121h0M208 91h0M218 143h0M213 126h0M227 125h0M225 94h0M202 116h0M204 108h0M203 152h0M202 147h0M224 113h0M232 116h0M207 101h0M209 125h0M235 100h0M234 103h0M195 102h0M200 134h0M221 133h0M217 102h0M229 104h0M230 127h0M233 113h0M210 92h0M191 114h0M220 143h0M199 100h0M215 136h0M198 136h0M201 133h0M193 132h0M204 123h0M198 125h0M211 91h0M208 148h0M229 116h0M208 145h0M219 144h0M204 134h0M217 145h0M202 110h0M208 139h0M189 121h0M207 95h0M231 99h0M210 92h0M213 151h0M204 136h0M237 106h0M233 120h0M212 133h0M219 124h0M225 103h0M231 98h0M203 150h0M217 100h0M200 98h0M219 118h0M235 102h0M203 102h0M200 148h0M212 143h0M223 143h0M212 112h0M196 121h0M229 123h0M210 127h0M218 114h0M199 136h0M219 118h0M236 107h0M225 126h0M209 123h0M197 127h0M194 123h0M226 111h0M220 117h0M215 99h0M217 120h0M228 98h0M230 113h0M205 122h0M194 110h0M212 99h0M216 94h0M215 124h0M215 101h0M220 125h0M224 101h0M204 113h0M194 123h0M211 148h0M226 122h0M224 99h0M199 111h0M222 120h0M211 105h0M195 119h0M223 111h0M232 125h0M224 96h0M206 119h0M194 129h0M209 95h0M199 142h0M229 118h0M192 110h0M205 146h0M221 106h0M193 134h0M226 114h0M234 128h0M199 130h0M200 128h0M209 93h0M229 130h0M221 122h0M208 120h0M202 119h0M207 120h0M238 111h0M225 96h0M230 99h0M207 109h0M193 126h0M233 116h0M214 110h0M212 93h0M230 124h0M198 132h0M225 140h0M229 107h0M234 122h0M195 132h0M190 117h0M211 100h0M213 112h0M215 94h0M196 102h0M195 104h0M209 109h0M199 119h0M215 135h0M229 106h0M233 100h0M226 120h0M215 141h0M210 102h0M212 119h0M217 108h0M219 109h0M197 129h0M215 114h0M228 138h0M222 104h0M230 126h0M216 119h0M210 155h0M221 136h0M206 112h0M216 102h0M220 100h0M213 108h0M202 150h0M202 149h0M199 151h0M219 115h0M199 127h0M232 133h0M222 144h0M234 110h0M224 116h0M200 116h0M196 114h0M207 95h0M212 91h0M203 133h0M190 120h0M195 110h0M208 107h0M222 117h0M224 102h0M238 114h0M233 127h0M212 114h0M210 145h0M214 129h0M201 101h0M216 110h0M194 104h0M214 137h0M199 113h0M213 114h0M226 119h0M232 128h0M208 151h0M207 103h0M228 139h0M198 122h0M234 117h0M218 115h0M217 93h0M209 92h0M202 151h0M214 145h0M215 145h0M209 122h0M223 111h0M200 103h0M193 131h0M210 149h0M220 109h0M212 108h0M207 144h0M222 139h0M221 108h0M227 121h0M205 141h0M199 109h0M220 134h0M234 124h0M199 108h0M205 138h0M196 134h0M201 150h0M198 108h0M226 128h0M206 121h0M216 102h0M203 109h0M225 112h0M213 147h0M229 136h0M220 147h0M199 140h0M210 94h0M217 143h0M199 113h0M193 134h0M200 102h0M198 101h0M209 121h0M232 100h0M223 114h0M209 92h0M205 132h0M211 134h0M204 98h0M204 148h0M193 124h0M189 116h0M211 149h0M201 137h0M199 147h0M198 113h0M234 107h0M203 109h0M203 131h0M207 95h0M228 96h0M210 106h0M202 106h0M204 120h0M231 114h0M232 108h0M220 131h0M203 125h0M228 101h0M201 119h0M195 124h0M235 115h0M197 140h0M231 123h0M193 115h0M210 95h0M213 114h0M214 120h0M236 107h0M201 139h0M214 127h0M190 119h0M235 114h0M203 102h0M212 144h0M218 135h0M229 135h0M232 129h0M230 116h0M230 129h0M232 100h0M199 114h0M225 119h0M198 143h0M195 128h0M202 107h0M215 119h0M192 108h0M235 100h0M231 107h0M204 151h0M216 115h0M213 101h0M193 115h0M206 128h0M230 117h0M198 142h0M203 116h0M224 125h0M205 139h0M201 134h0M224 94h0M199 118h0M191 125h0M195 113h0M216 127h0M212 122h0M205 142h0M194 140h0M198 118h0M220 93h0M196 133h0M197 128h0M208 116h0M222 119h0M233 131h0M224 107h0M218 143h0M231 107h0M201 108h0M211 151h0M216 145h0M215 134h0M237 120h0M194 104h0M232 130h0M217 116h0M190 118h0M216 143h0M203 106h0M204 121h0M223 142h0M195 131h0M229 117h0M217 139h0M207 127h0M222 112h0M219 108h0M198 139h0M194 125h0M209 132h0M199 137h0M226 118h0M196 144h0M234 103h0M215 98h0M203 110h0M204 113h0M201 113h0M227 114h0M212 103h0M232 115h0M201 139h0M214 91h0M205 96h0M214 94h0M191 132h0M210 134h0M226 100h0M220 140h0M210 109h0M233 108h0M232 130h0M227 102h0M221 110h0M217 114h0M221 141h0M224 106h0M229 109h0M224 138h0M214 108h0M210 91h0M214 93h0M207 100h0M208 94h0M232 116h0M220 108h0M226 128h0M208 109h0M222 112h0M201 117h0M207 131h0M214 133h0M210 130h0M213 129h0M208 117h0M231 102h0M193 126h0M210 120h0M217 106h0M204 135h0M202 101h0M226 98h0M199 143h0M237 108h0M192 133h0M207 156h0M207 113h0M227 124h0M207 109h0M212 138h0M222 128h0M207 135h0M200 104h0M236 121h0" stroke="#279e68" stroke-width="2.4" stroke-linecap="round" opacity="0.9" fill="none"/>
<path transform="scale(0.5)" d="M237 118h0M238 116h0M217 99h0M204 122h0M215 151h0M191 132h0M236 110h0M198 112h0M215 99h0M212 93h0M216 118h0M226 124h0M228 99h0M222 95h0M214 103h0M212 142h0M237 120h0M195 112h0M214 126h0M215 111h0M213 114h0M208 149h0M223 144h0M216 105h0M217 143h0M214 119h0M212 120h0M207 137h0M214 150h0M210 128h0M202 113h0M222 113h0M224 129h0M208 106h0M194 118h0M202 97h0M203 153h0M234 116h0M227 127h0M197 100h0M215 103h0M201 129h0M218 94h0M210 132h0M204 139h0M214 134h0M209 147h0M212 136h0M193 126h0M214 111h0M201 100h0M207 137h0M198 102h0M213 102h0M232 116h0M204 122h0M234 123h0M218 100h0M198 145h0M191 111h0M221 137h0M227 98h0M221 121h0M204 108h0M235 100h0M230 127h0M198 136h0M229 116h0M189 121h0M233 120h0M200 98h0M212 112h0M236 107h0M215 99h0M216 94h0M211 148h0M223 111h0M229 118h0M199 130h0M207 120h0M214 110h0M195 132h0M209 109h0M210 102h0M222 104h0M220 100h0M232 133h0M212 91h0M238 114h0M194 104h0M207 103h0M202 151h0M210 149h0M205 141h0M201 150h0M213 147h0M193 134h0M205 132h0M201 137h0M228 96h0M203 125h0M193 115h0M190 119h0M230 116h0M202 107h0M213 101h0M205 139h0M212 122h0M208 116h0M211 151h0M190 118h0M217 139h0M199 137h0M201 113h0M214 94h0M232 130h0M224 138h0M220 108h0M210 130h0M204 135h0M207 113h0M236 121h0" stroke="#196643" stroke-width="2" stroke-linecap="round" opacity="0.6" fill="none"/>
<path transform="scale(0.5)" d="M224 92h0M220 150h0M189 107h0M187 126h0M218 87h0M214 156h0M187 120h0M215 156h0M217 89h0M232 139h0M234 137h0M189 119h0M190 135h0M203 91h0M189 127h0M240 102h0M194 145h0M199 156h0M219 90h0M189 123h0M214 90h0M198 94h0M235 135h0M193 146h0M223 90h0M229 140h0M238 101h0M191 103h0M194 148h0M230 94h0M217 155h0M205 158h0M192 105h0M192 139h0M220 152h0M240 102h0M234 133h0M241 114h0M221 148h0M214 88h0M206 160h0M227 91h0M222 149h0M209 161h0M190 137h0M222 150h0M191 101h0M240 117h0M202 156h0M218 153h0M203 93h0M205 158h0M213 156h0M210 89h0M217 153h0M232 137h0M230 92h0M204 93h0M238 97h0M205 91h0M196 149h0M239 97h0M237 130h0M189 126h0M197 98h0M202 157h0M219 91h0M194 101h0M239 110h0M195 150h0M190 106h0M194 147h0M192 139h0M197 150h0M195 97h0M223 146h0M225 92h0M225 144h0M211 90h0M238 104h0M235 97h0M223 148h0M201 95h0M190 112h0M241 106h0M211 159h0M187 126h0M186 116h0M194 147h0M238 101h0M232 94h0M192 140h0M217 153h0M239 118h0M189 126h0" stroke="#279e68" stroke-width="2" stroke-linecap="round" opacity="0.6" fill="none"/>
<path transform="scale(0.5)" d="M237 178h0M241 164h0M216 159h0M233 162h0M232 184h0M225 157h0M224 175h0M233 180h0M239 182h0M221 157h0M237 179h0M234 183h0M219 170h0M245 163h0M220 158h0M225 162h0M218 153h0M234 187h0M234 173h0M237 177h0M231 187h0M234 146h0M240 143h0M234 183h0M225 162h0M226 149h0M223 150h0M231 159h0M232 175h0M235 186h0M232 173h0M229 154h0M244 175h0M231 177h0M242 162h0M220 166h0M234 146h0M235 157h0M236 164h0M236 148h0M219 185h0M239 143h0M232 183h0M227 150h0M232 156h0M245 163h0M227 150h0M238 166h0M226 168h0M222 179h0M231 185h0M218 151h0M232 154h0M230 141h0M242 148h0M227 152h0M225 187h0M237 164h0M241 156h0M226 177h0M219 180h0M237 149h0M215 174h0M228 177h0M238 154h0M231 150h0M239 148h0M216 172h0M217 182h0M244 156h0M240 170h0M229 163h0M219 163h0M233 141h0M228 179h0M225 146h0M228 188h0M218 168h0M239 145h0M219 151h0M220 177h0M231 185h0M231 139h0M226 167h0M221 168h0M226 167h0M241 161h0M242 176h0M225 161h0M234 169h0M218 151h0M233 169h0M233 161h0M230 163h0M222 182h0M223 170h0M240 158h0M230 157h0M240 177h0M215 174h0M230 172h0M215 166h0M235 168h0M232 167h0M228 167h0M216 154h0M230 158h0M234 157h0M226 187h0M226 158h0M230 157h0M239 161h0M229 181h0M221 159h0M228 141h0M236 142h0M225 149h0M235 177h0M225 158h0M223 165h0M234 184h0M241 177h0M228 183h0M240 143h0M227 155h0M227 166h0M243 157h0M241 148h0M217 171h0M221 167h0M231 185h0M222 156h0M228 174h0M239 175h0M227 178h0M224 186h0M241 144h0M214 161h0M222 177h0M242 155h0M228 175h0M231 182h0M239 176h0M232 184h0M228 160h0M232 186h0M234 177h0M241 160h0M220 165h0M233 173h0M242 161h0M222 177h0M231 172h0M223 185h0M220 182h0M235 165h0M235 150h0M239 144h0M225 185h0M220 181h0M219 148h0M217 160h0M222 184h0M224 162h0M219 161h0M230 140h0M220 167h0M243 162h0M240 173h0M221 170h0M229 156h0M243 161h0M216 179h0M222 144h0M229 180h0M239 167h0M227 175h0M243 150h0M242 175h0M220 159h0M231 181h0M241 171h0M235 160h0M232 149h0M219 179h0M216 175h0M227 187h0M240 167h0M223 173h0M238 158h0M238 144h0M231 155h0M221 177h0M229 151h0M230 147h0M215 173h0M233 186h0M224 186h0M233 169h0M240 184h0M216 153h0M215 169h0M223 160h0M241 168h0M237 162h0M242 152h0M240 186h0M224 163h0M218 158h0M215 158h0M235 157h0M237 152h0M231 185h0M243 167h0M233 157h0M228 170h0M222 184h0M230 165h0M222 175h0M241 150h0M230 174h0M242 148h0M232 148h0M236 159h0M231 177h0M218 166h0M229 144h0M231 181h0M238 169h0M231 169h0M231 151h0M225 178h0M221 151h0M236 144h0M221 168h0M238 167h0M229 150h0M231 167h0M218 148h0M235 163h0M228 149h0M226 159h0M239 146h0M230 147h0M234 143h0M216 171h0M234 179h0M222 178h0M240 146h0M224 157h0M244 177h0M223 152h0M222 155h0M235 164h0M244 176h0M225 183h0M243 163h0M224 167h0M227 168h0M226 152h0M223 170h0M242 153h0M241 164h0M234 173h0M226 166h0M220 179h0M215 158h0M220 154h0M226 180h0M230 142h0M217 150h0M238 156h0M217 165h0M229 167h0M244 154h0M242 144h0M222 181h0M230 145h0M238 157h0M238 155h0M234 172h0M228 146h0M224 182h0M230 153h0M222 162h0M223 176h0M230 155h0M239 165h0M229 175h0M231 177h0M229 154h0M214 164h0M228 177h0M239 177h0M238 147h0M237 170h0M235 163h0M223 151h0M228 171h0M242 153h0M241 155h0M216 155h0M238 157h0M238 157h0M232 168h0M233 179h0M231 157h0M222 150h0M214 170h0M234 150h0M237 181h0M215 166h0M237 186h0M243 157h0M227 144h0M243 175h0M243 151h0M229 169h0M229 171h0M242 180h0M225 163h0M231 149h0M230 166h0M226 173h0M224 150h0M227 158h0M212 169h0M230 144h0M224 159h0M213 164h0M218 160h0M234 145h0M213 169h0M228 186h0M236 179h0M239 157h0M239 156h0M226 177h0M242 180h0M234 180h0M221 146h0M233 148h0M221 174h0M221 151h0M228 150h0M237 185h0M232 152h0M237 174h0M237 150h0M216 165h0M237 170h0M225 169h0M242 154h0M220 167h0M243 154h0M235 184h0M216 173h0M227 174h0M222 184h0M236 152h0M234 157h0M218 171h0M230 186h0M223 170h0M225 184h0M235 148h0M219 168h0M235 174h0M226 143h0M236 179h0M234 183h0M229 152h0M232 167h0M224 182h0M230 179h0M229 168h0M219 165h0M217 170h0M226 172h0M218 153h0M236 172h0M218 165h0M224 148h0M222 176h0M225 150h0M221 167h0M217 181h0M226 181h0M228 184h0M229 159h0M227 150h0M239 185h0M241 158h0M223 175h0M232 187h0M238 156h0M221 156h0M238 170h0M215 162h0M240 161h0M233 171h0M243 169h0M218 158h0M224 162h0M225 177h0M234 171h0M227 173h0M238 183h0M233 156h0M239 149h0M229 142h0M244 174h0M215 175h0M239 171h0M241 170h0M228 154h0M228 140h0M240 172h0M233 164h0M240 164h0M240 154h0M227 148h0M229 166h0M241 151h0M212 167h0M232 161h0M219 182h0M238 144h0M224 183h0M244 163h0M232 172h0M225 185h0M234 147h0M220 182h0M222 156h0M220 154h0M219 163h0M241 159h0M215 167h0M241 149h0M227 148h0M236 181h0M238 172h0M226 172h0M216 180h0M225 146h0M219 164h0M240 143h0M242 182h0M223 166h0M221 175h0M213 163h0M236 177h0M233 166h0M234 156h0M230 155h0M223 175h0M228 176h0M241 158h0M238 175h0M220 163h0M228 162h0M237 155h0M225 167h0M241 145h0M218 176h0M219 179h0M239 172h0M230 185h0M242 145h0M235 150h0M234 145h0M240 152h0M221 169h0M227 184h0M226 156h0M217 174h0M226 187h0M231 153h0M236 169h0M226 151h0M231 180h0M216 163h0M243 182h0M237 162h0M242 163h0M223 150h0M234 178h0M222 151h0M228 152h0M239 177h0M238 176h0M220 170h0M239 176h0M243 179h0M215 176h0M226 160h0M223 152h0M229 148h0M224 181h0M233 146h0M243 157h0M243 175h0M236 164h0M225 184h0M227 176h0M221 156h0M216 172h0M231 151h0M229 175h0M226 146h0M235 181h0M242 148h0M220 162h0M223 157h0M230 151h0M242 158h0M218 173h0M228 144h0M229 160h0M217 180h0" stroke="#e377c2" stroke-width="2.4" stroke-linecap="round" opacity="0.9" fill="none"/>
<path transform="scale(0.5)" d="M237 178h0M233 180h0M220 158h0M234 146h0M232 175h0M220 166h0M232 183h0M222 179h0M225 187h0M228 177h0M240 170h0M218 168h0M221 168h0M233 169h0M240 177h0M216 154h0M229 181h0M223 165h0M243 157h0M239 175h0M228 175h0M241 160h0M220 182h0M217 160h0M240 173h0M239 167h0M235 160h0M238 158h0M233 186h0M241 168h0M235 157h0M230 165h0M231 177h0M225 178h0M218 148h0M216 171h0M222 155h0M226 152h0M215 158h0M229 167h0M234 172h0M239 165h0M238 147h0M216 155h0M214 170h0M243 175h0M230 166h0M213 164h0M239 156h0M221 151h0M237 170h0M227 174h0M225 184h0M229 152h0M226 172h0M221 167h0M241 158h0M240 161h0M227 173h0M239 171h0M240 154h0M238 144h0M222 156h0M236 181h0M242 182h0M230 155h0M237 155h0M242 145h0M217 174h0M243 182h0M239 177h0M223 152h0M225 184h0M235 181h0M228 144h0" stroke="#934d7e" stroke-width="2" stroke-linecap="round" opacity="0.6" fill="none"/>
<path transform="scale(0.5)" d="M222 144h0M244 147h0M247 170h0M245 175h0M214 159h0M231 135h0M234 139h0M218 188h0M225 139h0M239 188h0M213 155h0M222 189h0M237 140h0M247 172h0M212 164h0M222 187h0M223 142h0M246 160h0M227 138h0M237 140h0M224 141h0M229 139h0M233 191h0M246 168h0M214 151h0M235 140h0M241 186h0M215 148h0M216 149h0M222 143h0M219 144h0M242 187h0M239 141h0M223 142h0M228 189h0M238 141h0M212 177h0M238 138h0M215 150h0M245 155h0" stroke="#e377c2" stroke-width="2" stroke-linecap="round" opacity="0.6" fill="none"/>
<path transform="scale(0.5)" d="M238 197h0M216 222h0M210 210h0M228 203h0M217 202h0M225 207h0M210 199h0M208 211h0M234 210h0M211 201h0M214 223h0M240 216h0M232 195h0M243 203h0M229 217h0M229 189h0M215 203h0M237 205h0M242 206h0M210 200h0M240 204h0M214 206h0M228 202h0M216 197h0M240 209h0M217 228h0M217 223h0M242 210h0M224 224h0M214 210h0M215 209h0M234 190h0M236 209h0M234 213h0M220 213h0M229 212h0M216 212h0M207 214h0M211 207h0M214 219h0M208 216h0M218 210h0M233 220h0M208 207h0M238 203h0M227 198h0M241 204h0M239 200h0M224 220h0M210 214h0M232 207h0M221 196h0M222 222h0M241 191h0M232 221h0M215 221h0M231 204h0M216 202h0M222 202h0M224 229h0M233 223h0M225 211h0M245 201h0M219 211h0M216 212h0M240 207h0M216 214h0M227 196h0M227 221h0M244 194h0M220 232h0M230 213h0M221 220h0M220 219h0M246 200h0M221 225h0M243 202h0M213 211h0M208 208h0M217 223h0M225 193h0M214 217h0M208 203h0M235 211h0M239 215h0M210 210h0M211 212h0M240 203h0M238 212h0M235 196h0M235 204h0M237 216h0M224 196h0M229 216h0M230 222h0M242 210h0M228 205h0M230 189h0M234 203h0M224 204h0M212 206h0M214 216h0M241 190h0M225 212h0M244 195h0M232 218h0M213 213h0M223 213h0M214 232h0M213 203h0M228 207h0M214 218h0M208 217h0M240 191h0M225 210h0M217 221h0M235 210h0M220 219h0M228 209h0M217 222h0M215 221h0M209 211h0M229 205h0M224 191h0M227 222h0M230 194h0M241 204h0M221 208h0M218 232h0M236 212h0M209 217h0M240 193h0M215 223h0M216 209h0M220 218h0M224 226h0M223 215h0M214 211h0M228 190h0M219 202h0M220 225h0M234 199h0M223 201h0M216 198h0M237 187h0M209 205h0M228 227h0M230 193h0M210 205h0M218 217h0M214 203h0M210 203h0M232 211h0M221 224h0M236 207h0M225 214h0M243 202h0M236 190h0M227 227h0M213 219h0M239 202h0M218 208h0M221 229h0M227 204h0M240 194h0M235 207h0M235 215h0M239 190h0M224 198h0M243 191h0M238 217h0M215 228h0M229 199h0M236 212h0M222 227h0M211 202h0M231 201h0M215 196h0M231 202h0M208 203h0M245 193h0M242 185h0M235 222h0M231 214h0M215 221h0M235 201h0M229 220h0M237 218h0M246 200h0M222 217h0M231 196h0M232 205h0M222 204h0M239 206h0M230 215h0M218 212h0M217 196h0M214 197h0M216 199h0M245 197h0M222 223h0M242 194h0M242 189h0M235 201h0M213 219h0M224 198h0M242 202h0M220 208h0M219 229h0M219 212h0M236 195h0M243 196h0M215 228h0M212 214h0M224 210h0M208 218h0M211 223h0M230 220h0M237 212h0M231 219h0M230 218h0M241 190h0M233 217h0M221 220h0M221 210h0M236 205h0M233 191h0M243 186h0M208 212h0M236 201h0M235 222h0M213 230h0M231 196h0M228 223h0M224 197h0M233 217h0M211 211h0M215 215h0M233 189h0M241 204h0M238 197h0M220 226h0M212 205h0M235 206h0M246 201h0M223 221h0M238 195h0M228 198h0M220 196h0M216 230h0M222 225h0M224 227h0M216 214h0M241 187h0M226 217h0M219 214h0M222 196h0M208 218h0M208 223h0M218 217h0M221 207h0M216 215h0M240 196h0M243 207h0M217 200h0M239 211h0M241 194h0M215 204h0M219 215h0M227 207h0M223 202h0M222 223h0M208 209h0M212 202h0M217 225h0M209 201h0M225 193h0M224 218h0M208 202h0M238 199h0M215 209h0M216 195h0M217 222h0M215 230h0M220 224h0M233 194h0M212 229h0M241 190h0M244 207h0M227 229h0M240 195h0M242 190h0M230 193h0M210 213h0M238 215h0M208 212h0M225 229h0M233 218h0M223 199h0M221 226h0M224 209h0M215 230h0M234 199h0M243 208h0M237 211h0M231 195h0M245 197h0M236 202h0M220 213h0M209 209h0M223 194h0M230 220h0M212 206h0M208 215h0M225 229h0M232 221h0M221 215h0M234 205h0M234 197h0M225 202h0M231 224h0M214 235h0M239 204h0M244 192h0M212 198h0M216 207h0M213 203h0M220 198h0M238 198h0M235 202h0M216 200h0M228 220h0M236 202h0M231 204h0M216 215h0M226 229h0M212 211h0M237 199h0M227 191h0M220 200h0M225 211h0M232 192h0M237 209h0M208 222h0M232 219h0M231 199h0M244 192h0M233 213h0M210 199h0M226 195h0M229 189h0M232 200h0M245 193h0M219 205h0M234 197h0M238 216h0M230 195h0M239 201h0M220 207h0M235 192h0M224 209h0M221 222h0M218 196h0M233 219h0M230 208h0M211 215h0M238 186h0M227 205h0M211 209h0M210 209h0M222 221h0M214 219h0M218 216h0M217 211h0M245 196h0M229 202h0M216 196h0M246 199h0M243 189h0M208 209h0M243 201h0M237 203h0M238 198h0M212 224h0M242 191h0M239 214h0M237 210h0M212 216h0M233 210h0M244 202h0M230 196h0M212 226h0M217 200h0M237 191h0M241 202h0M220 206h0M232 198h0M228 205h0M216 208h0M220 207h0M233 217h0M234 192h0M225 216h0M223 218h0M231 195h0M225 202h0M231 224h0M210 222h0M240 202h0M245 195h0M239 204h0M213 205h0M239 190h0M225 220h0M218 214h0M218 228h0M227 218h0M218 227h0M212 223h0M228 201h0M244 200h0M232 200h0M217 233h0M219 214h0M226 206h0M234 199h0M241 192h0M209 197h0M221 219h0M214 205h0M236 214h0M218 231h0M230 194h0M241 206h0M214 200h0M236 198h0M207 213h0M220 229h0M234 195h0M217 217h0M224 227h0M241 197h0M231 215h0M240 195h0M213 228h0M213 211h0M217 234h0M222 195h0M238 192h0M220 206h0M220 225h0M231 203h0M211 199h0M222 209h0M221 197h0M225 225h0M215 201h0M217 194h0M209 212h0M226 221h0M216 201h0M213 196h0M229 197h0M224 192h0M235 216h0M239 205h0M240 200h0M221 223h0M218 224h0M218 218h0M237 216h0M219 230h0M241 187h0M242 199h0M209 211h0M225 195h0M225 216h0M228 214h0M243 186h0M230 194h0M212 221h0M219 231h0M224 211h0M223 198h0M221 226h0M214 228h0M232 191h0M245 200h0M227 202h0M230 195h0M228 222h0M213 201h0M210 205h0M227 229h0M227 207h0M238 207h0M239 208h0M233 203h0M212 206h0M225 222h0M234 203h0M225 192h0M214 215h0M226 197h0M209 209h0M224 217h0M218 222h0M228 217h0M217 226h0M210 224h0M214 208h0M221 198h0M231 193h0M211 208h0M229 190h0" stroke="#b5bd61" stroke-width="2.4" stroke-linecap="round" opacity="0.8" fill="none"/>
<path transform="scale(0.5)" d="M238 197h0M208 211h0M229 217h0M214 206h0M224 224h0M229 212h0M233 220h0M210 214h0M231 204h0M219 211h0M220 232h0M213 211h0M239 215h0M237 216h0M234 203h0M232 218h0M208 217h0M217 222h0M241 204h0M216 209h0M220 225h0M230 193h0M236 207h0M218 208h0M224 198h0M211 202h0M235 222h0M222 217h0M217 196h0M235 201h0M236 195h0M230 220h0M221 210h0M213 230h0M233 189h0M223 221h0M216 214h0M218 217h0M241 194h0M212 202h0M215 209h0M241 190h0M238 215h0M215 230h0M220 213h0M232 221h0M239 204h0M235 202h0M212 211h0M208 222h0M229 189h0M239 201h0M230 208h0M214 219h0M243 189h0M239 214h0M217 200h0M220 207h0M231 224h0M225 220h0M244 200h0M209 197h0M214 200h0M241 197h0M238 192h0M225 225h0M229 197h0M218 218h0M225 216h0M223 198h0M228 222h0M233 203h0M209 209h0M221 198h0" stroke="#757a3f" stroke-width="2" stroke-linecap="round" opacity="0.6" fill="none"/>
<path transform="scale(0.5)" d="M219 235h0M229 231h0M207 218h0M228 188h0M244 185h0M206 224h0M213 238h0M246 186h0M211 233h0M217 237h0M237 223h0M208 230h0M243 210h0M210 232h0M247 208h0M216 194h0M208 199h0M207 205h0M207 216h0M236 185h0M206 213h0M207 204h0M206 212h0M229 229h0M225 188h0M234 186h0M244 212h0M206 221h0M249 196h0M229 231h0M236 185h0M206 221h0M233 227h0M236 185h0M241 219h0M213 237h0M212 238h0M237 184h0M207 197h0M247 195h0M207 203h0M207 211h0M206 225h0M209 230h0M233 226h0M215 192h0M233 186h0M226 187h0M217 235h0M242 214h0M206 201h0M206 227h0M242 214h0" stroke="#b5bd61" stroke-width="2" stroke-linecap="round" opacity="0.6" fill="none"/>
<path transform="scale(0.5)" d="M168 254h0M171 230h0M181 218h0M166 219h0M179 242h0M179 220h0M176 254h0M141 226h0M176 217h0M187 235h0M150 221h0M155 220h0M163 245h0M182 218h0M164 220h0M186 221h0M161 246h0M177 230h0M185 232h0M186 229h0M156 247h0M165 233h0M173 252h0M166 217h0M170 221h0M157 222h0M167 232h0M151 233h0M183 229h0M150 223h0M168 249h0M186 237h0M148 218h0M181 247h0M167 236h0M167 216h0M143 225h0M175 234h0M174 245h0M175 260h0M166 231h0M167 229h0M188 234h0M149 230h0M158 243h0M168 248h0M186 230h0M156 241h0M153 217h0M186 229h0M179 234h0M167 263h0M172 254h0M182 232h0M148 230h0M155 244h0M170 222h0M166 234h0M169 213h0M186 225h0M144 228h0M181 252h0M151 247h0M180 249h0M188 234h0M184 236h0M179 242h0M147 233h0M180 249h0M163 227h0M140 226h0M162 214h0M162 244h0M166 224h0M163 236h0M184 228h0M180 234h0M167 218h0M154 215h0M152 243h0M156 234h0M180 244h0M176 229h0M154 251h0M162 221h0M174 259h0M145 224h0M173 220h0M173 245h0M170 246h0M157 241h0M148 225h0M166 216h0M185 229h0M164 247h0M152 227h0M173 224h0M163 261h0M144 232h0M142 232h0M159 234h0M161 250h0M167 213h0M160 228h0M170 240h0M149 222h0M181 231h0M164 253h0M168 245h0M186 222h0M170 216h0M152 231h0M183 243h0M164 213h0M165 234h0M149 227h0M144 232h0M157 240h0M167 241h0M180 217h0M173 221h0M168 251h0M181 222h0M175 249h0M173 227h0M176 232h0M186 216h0M173 238h0M152 225h0M175 234h0M162 262h0M184 219h0M160 225h0M173 223h0M174 251h0M174 256h0M162 227h0M161 229h0M156 238h0M161 238h0M180 236h0M141 230h0M164 259h0M157 214h0M166 262h0M176 234h0M147 233h0M178 247h0M188 223h0M177 253h0M147 231h0M184 241h0M164 230h0M179 236h0M160 263h0M174 254h0M138 227h0M186 235h0M164 217h0M169 243h0M175 228h0M180 240h0M169 252h0M169 243h0M174 260h0M185 233h0M165 247h0M170 215h0M162 245h0M149 223h0M142 229h0M168 214h0M155 217h0M148 234h0M144 220h0M166 246h0M186 221h0M185 231h0M160 220h0M160 261h0M187 216h0M170 243h0M176 231h0M148 219h0M175 245h0M174 260h0M171 224h0M184 233h0M184 225h0M154 222h0M165 226h0M150 242h0M162 240h0M181 225h0M143 229h0M186 242h0M155 224h0M168 228h0M156 240h0M157 257h0M163 215h0M161 262h0M157 216h0M179 217h0M175 214h0M167 220h0M158 236h0M140 224h0M170 256h0M154 218h0M168 232h0M165 260h0M167 223h0M160 257h0M171 260h0M177 249h0M156 253h0M163 229h0M181 241h0M189 228h0M155 245h0M180 236h0M159 259h0M187 229h0M179 246h0M178 232h0M165 219h0M156 221h0M162 229h0M171 257h0M174 220h0M169 259h0M154 218h0M158 233h0M179 238h0M160 233h0M169 235h0M180 224h0M157 241h0M165 256h0M160 215h0M160 239h0M148 234h0M159 236h0M166 251h0M153 223h0M166 234h0M168 234h0M164 262h0M140 221h0M157 251h0M171 253h0M155 240h0M176 231h0M161 224h0M181 233h0M153 229h0M143 228h0M180 242h0M163 244h0M165 244h0M169 250h0M181 220h0M163 255h0M160 243h0M172 258h0M182 235h0M165 237h0M164 246h0M186 226h0M162 249h0M174 239h0M155 245h0M161 240h0M154 233h0M175 221h0M169 254h0M174 227h0M154 246h0M143 227h0M189 232h0M174 225h0M174 225h0M170 257h0M182 239h0M167 223h0M160 263h0M179 226h0M158 248h0M173 230h0M145 229h0M157 249h0M180 230h0M176 259h0M172 243h0M168 243h0M161 252h0M178 254h0M181 236h0M160 256h0M188 230h0M154 241h0M164 250h0M154 252h0M165 258h0M161 218h0M172 252h0M155 236h0M150 230h0M172 224h0M151 222h0M161 219h0M150 227h0M178 237h0M171 253h0M152 240h0M156 230h0M142 226h0M160 237h0M137 225h0M144 230h0M180 241h0M146 219h0M166 244h0M167 261h0M171 253h0M162 228h0M166 249h0M180 235h0M157 252h0M150 225h0M182 219h0M180 243h0M171 212h0M138 223h0M159 222h0M166 225h0M163 226h0M182 223h0M147 232h0M173 221h0M174 243h0M172 237h0M174 241h0M175 259h0M170 259h0M160 252h0M182 234h0M159 255h0M180 225h0M161 230h0M172 216h0M160 260h0M149 231h0M184 242h0M184 231h0M147 234h0M143 231h0M164 237h0M141 229h0M164 256h0M172 235h0M189 221h0M183 222h0M153 216h0M154 236h0M164 220h0M160 256h0M173 218h0M163 224h0M157 243h0M167 256h0M185 230h0M172 261h0M160 240h0M174 220h0M178 214h0M163 213h0M183 217h0M169 231h0M158 217h0M158 217h0M172 257h0M175 255h0M142 222h0M175 260h0M149 238h0M182 246h0M159 251h0M184 217h0M176 243h0M178 214h0M161 229h0M170 227h0M162 222h0M152 226h0M158 228h0M149 238h0M156 253h0M174 221h0M164 248h0M175 214h0M156 231h0M154 251h0M177 239h0M152 235h0M177 234h0M175 224h0M146 229h0M147 220h0M147 227h0M154 215h0M155 218h0M156 247h0M175 231h0M155 221h0M169 251h0M171 255h0M173 223h0M156 246h0M169 262h0M153 229h0M145 229h0M170 229h0M153 247h0M168 262h0M161 251h0M151 237h0M165 261h0M143 225h0M160 243h0M150 232h0M187 234h0M162 235h0M171 216h0M160 216h0M154 250h0M178 235h0M175 229h0M155 229h0M184 244h0M152 221h0M144 224h0M169 250h0M158 237h0M171 242h0M159 247h0M179 228h0M151 248h0M188 236h0M160 255h0M187 230h0M157 250h0M153 221h0M175 233h0M170 226h0M158 236h0M141 221h0M151 232h0M185 217h0M157 249h0M167 233h0M173 236h0M168 236h0M189 230h0M148 229h0M171 262h0M167 235h0M176 238h0M176 238h0M181 227h0M153 217h0M147 227h0M185 229h0M154 251h0M160 219h0M169 234h0M184 235h0M173 223h0M149 230h0M171 248h0M183 242h0M165 263h0M138 229h0M167 243h0M177 228h0M150 230h0M159 231h0M154 227h0M171 217h0M185 233h0M169 216h0M162 239h0M184 233h0M182 244h0M178 228h0M187 231h0M169 240h0M151 217h0M165 264h0M165 258h0M177 245h0M178 236h0M184 238h0M162 233h0M164 235h0M164 235h0M160 223h0M158 223h0M163 258h0M164 240h0M177 214h0M154 240h0M186 238h0M146 223h0M166 226h0M153 219h0M159 225h0M158 216h0M145 221h0M187 227h0M183 247h0M148 218h0M169 238h0M153 236h0M185 229h0M166 236h0M172 247h0M176 236h0M177 246h0M158 259h0M170 247h0M169 252h0M182 239h0M176 218h0M153 235h0M160 246h0M166 252h0M177 239h0M149 236h0M150 229h0M169 216h0M181 217h0M186 230h0M172 217h0M170 250h0M158 235h0M151 234h0M181 224h0M163 264h0M161 262h0M162 236h0M153 247h0M164 215h0M163 219h0M162 239h0M185 222h0M150 244h0M180 233h0M164 231h0M160 215h0M175 254h0M176 227h0M151 234h0M183 223h0M159 222h0M182 232h0M160 225h0M159 242h0M188 234h0M177 234h0M166 244h0M154 250h0M165 232h0M179 251h0M174 245h0M171 217h0M167 235h0M153 239h0M150 237h0M173 260h0M175 247h0M160 256h0M175 225h0M182 222h0M160 242h0M174 221h0M159 218h0M181 236h0M169 235h0M152 223h0M174 254h0M163 216h0M149 234h0M164 217h0M173 224h0M160 226h0M148 225h0M188 232h0M163 235h0M183 243h0M160 259h0M155 223h0M166 263h0M151 228h0M169 252h0M169 255h0M165 213h0M154 237h0M169 229h0M139 228h0M173 260h0M174 242h0M174 257h0M151 220h0M171 220h0M146 223h0M165 235h0M144 220h0M153 239h0M158 231h0M157 248h0M177 245h0M174 237h0M168 224h0M179 231h0M175 237h0M178 229h0M164 217h0M157 229h0M157 223h0M169 243h0M157 259h0M166 248h0M139 227h0M172 215h0M162 265h0M152 233h0M156 216h0M171 242h0M179 221h0M164 238h0M161 249h0M177 255h0M186 220h0M161 256h0M148 230h0M187 237h0M167 232h0M143 229h0M180 218h0M183 246h0M182 232h0M155 239h0M177 248h0M159 232h0M176 242h0M178 252h0M153 225h0M176 259h0M176 251h0M165 215h0M168 222h0M158 228h0M157 253h0M186 218h0M149 229h0M153 247h0M187 228h0M148 231h0M184 233h0M161 235h0M170 249h0M155 252h0M172 229h0M155 222h0M171 215h0M144 228h0M179 250h0M151 221h0M165 243h0M168 227h0M155 228h0M182 218h0M162 248h0M173 239h0M174 220h0M173 222h0M177 252h0" stroke="#9a6cc8" stroke-width="2.4" stroke-linecap="round" opacity="0.8" fill="none"/>
<path transform="scale(0.5)" d="M168 254h0M141 226h0M164 220h0M165 233h0M183 229h0M167 216h0M188 234h0M186 229h0M170 222h0M180 249h0M140 226h0M167 218h0M162 221h0M148 225h0M144 232h0M149 222h0M183 243h0M180 217h0M186 216h0M173 223h0M180 236h0M178 247h0M160 263h0M180 240h0M162 245h0M166 246h0M176 231h0M154 222h0M155 224h0M179 217h0M168 232h0M163 229h0M179 246h0M169 259h0M157 241h0M153 223h0M155 240h0M163 244h0M182 235h0M161 240h0M189 232h0M179 226h0M172 243h0M154 241h0M150 230h0M152 240h0M146 219h0M157 252h0M166 225h0M174 241h0M161 230h0M143 231h0M153 216h0M167 256h0M183 217h0M175 260h0M161 229h0M174 221h0M177 234h0M156 247h0M169 262h0M151 237h0M171 216h0M152 221h0M151 248h0M170 226h0M173 236h0M176 238h0M169 234h0M138 229h0M185 233h0M169 240h0M162 233h0M177 214h0M158 216h0M185 229h0M169 252h0M149 236h0M158 235h0M164 215h0M160 215h0M160 225h0M179 251h0M175 247h0M181 236h0M173 224h0M155 223h0M169 229h0M146 223h0M174 237h0M157 223h0M152 233h0M186 220h0M183 246h0M153 225h0M186 218h0M170 249h0M151 221h0M174 220h0" stroke="#644682" stroke-width="2" stroke-linecap="round" opacity="0.6" fill="none"/>
<path transform="scale(0.5)" d="M137 221h0M156 258h0M145 218h0M176 261h0M136 220h0M163 267h0M135 225h0M179 256h0M168 263h0M184 213h0M135 224h0M137 226h0M180 259h0M154 256h0M191 235h0M189 241h0M190 238h0M148 236h0M182 254h0M136 222h0M149 216h0M145 235h0M173 262h0M138 230h0M145 218h0M172 210h0M161 213h0M158 263h0M136 223h0M154 257h0M147 237h0M162 267h0M141 232h0M190 224h0M169 212h0M187 242h0M173 263h0M178 260h0M153 212h0M166 267h0M169 263h0M158 261h0M152 256h0M177 212h0M188 240h0M189 214h0M163 265h0M173 210h0M155 258h0M191 227h0M181 213h0M158 266h0M171 212h0M161 267h0M142 218h0M148 217h0M189 220h0M188 241h0M136 220h0M160 213h0M136 224h0M190 220h0" stroke="#9a6cc8" stroke-width="2" stroke-linecap="round" opacity="0.6" fill="none"/>
<path transform="scale(0.5)" d="M120 211h0M111 221h0M109 214h0M116 217h0M110 217h0M115 222h0M115 221h0M110 211h0M116 208h0M111 216h0M114 219h0M109 213h0M116 206h0M114 220h0M116 206h0M116 208h0M115 219h0M119 212h0M121 218h0M109 214h0M118 206h0M112 206h0M116 205h0M115 220h0M119 204h0M113 214h0M121 207h0M112 220h0M111 214h0M118 216h0M115 209h0M120 206h0M117 210h0M112 213h0M110 216h0M121 215h0M118 220h0M113 213h0M115 218h0M119 208h0M120 213h0M115 220h0M119 215h0M115 212h0M121 212h0M119 216h0M118 210h0M110 211h0M119 205h0M121 216h0M116 218h0M118 216h0M117 221h0M112 207h0M115 217h0M118 205h0M114 217h0M120 205h0M119 207h0M120 205h0M119 205h0M119 221h0M117 221h0M116 218h0M109 215h0M118 208h0M115 215h0M119 211h0M115 208h0M113 218h0M116 208h0M118 208h0M112 218h0M113 217h0M111 214h0M119 208h0M113 209h0M110 218h0M120 215h0M114 210h0M115 218h0" stroke="#98df8a" stroke-width="2.4" stroke-linecap="round" opacity="0.8" fill="none"/>
<text x="40.3" y="57.7" font-size="6.6" text-anchor="middle" fill="#0a293e" stroke="none" opacity="0.85">0</text>
<text x="55.3" y="64" font-size="6.6" text-anchor="middle" fill="#084248" stroke="none" opacity="0.85">8</text>
<text x="34.6" y="76.7" font-size="6.6" text-anchor="middle" fill="#592c04" stroke="none" opacity="0.85">1</text>
<text x="54.8" y="81.3" font-size="6.6" text-anchor="middle" fill="#3a3040" stroke="none" opacity="0.85">15</text>
<text x="64.6" y="79" font-size="6.6" text-anchor="middle" fill="#3a3040" stroke="none" opacity="0.85">13</text>
<text x="54.2" y="91.3" font-size="6.6" text-anchor="middle" fill="#3a3040" stroke="none" opacity="0.85">11</text>
<text x="42" y="99.9" font-size="6.6" text-anchor="middle" fill="#4a0d0e" stroke="none" opacity="0.85">3</text>
<text x="65.2" y="101.6" font-size="6.6" text-anchor="middle" fill="#3a3040" stroke="none" opacity="0.85">12</text>
<text x="79.8" y="85.5" font-size="6.6" text-anchor="middle" fill="#3a3040" stroke="none" opacity="0.85">14</text>
<text x="90.8" y="95.3" font-size="6.6" text-anchor="middle" fill="#3a3040" stroke="none" opacity="0.85">10</text>
<text x="95.2" y="69.2" font-size="6.6" text-anchor="middle" fill="#3a3040" stroke="none" opacity="0.85">9</text>
<text x="116.2" y="85.4" font-size="6.6" text-anchor="middle" fill="#4f2943" stroke="none" opacity="0.85">6</text>
<text x="112.7" y="104" font-size="6.6" text-anchor="middle" fill="#3f4221" stroke="none" opacity="0.85">7</text>
<text x="82.7" y="121.3" font-size="6.6" text-anchor="middle" fill="#352546" stroke="none" opacity="0.85">4</text>
<text x="91" y="49.3" font-size="6.6" text-anchor="middle" fill="#311e1a" stroke="none" opacity="0.85">5</text>
<text x="105" y="62.3" font-size="6.6" text-anchor="middle" fill="#0d3724" stroke="none" opacity="0.85">2</text>
<text x="74" y="148.3" font-size="8.4" text-anchor="middle" fill="#231f20" textLength="21.9" lengthAdjust="spacingAndGlyphs" stroke="#231f20" stroke-width="0.1">UMAP1</text>
<text x="0" y="0" font-size="8.4" fill="#231f20" stroke="#231f20" stroke-width="0.1" text-anchor="middle" textLength="22.8" lengthAdjust="spacingAndGlyphs" transform="translate(14.4 84.9) rotate(-90)">UMAP2</text>
<text x="132.5" y="36.6" font-size="6.8" fill="#231f20" textLength="95" lengthAdjust="spacingAndGlyphs" stroke="#231f20" stroke-width="0.1">0 - CD4+ CAR+ Product Memory</text>
<text x="132.5" y="43.3" font-size="6.8" fill="#231f20" textLength="95" lengthAdjust="spacingAndGlyphs" stroke="#231f20" stroke-width="0.1">1 - CD8+ CAR+ Product Memory</text>
<text x="132.5" y="49.9" font-size="6.8" fill="#231f20" textLength="63.4" lengthAdjust="spacingAndGlyphs" stroke="#231f20" stroke-width="0.1">2 - CD4+ CAR– Tregs</text>
<text x="132.5" y="56.5" font-size="6.8" fill="#231f20" textLength="69.6" lengthAdjust="spacingAndGlyphs" stroke="#231f20" stroke-width="0.1">3 - CD8+ CAR+ Effector</text>
<text x="132.5" y="63.1" font-size="6.8" fill="#231f20" textLength="74.6" lengthAdjust="spacingAndGlyphs" stroke="#231f20" stroke-width="0.1">4 - CD8+ CAR– NKTCells</text>
<text x="132.5" y="69.8" font-size="6.8" fill="#231f20" textLength="92.5" lengthAdjust="spacingAndGlyphs" stroke="#231f20" stroke-width="0.1">5 - CD4/CD8 Mixed CAR- Naive</text>
<text x="132.5" y="76.4" font-size="6.8" fill="#231f20" textLength="94.9" lengthAdjust="spacingAndGlyphs" stroke="#231f20" stroke-width="0.1">6 - CD4+ CAR+ Memory/Effector</text>
<text x="132.5" y="83" font-size="6.8" fill="#231f20" textLength="82" lengthAdjust="spacingAndGlyphs" stroke="#231f20" stroke-width="0.1">7 - CD4+ CAR+ Proliferation</text>
<text x="132.5" y="89.6" font-size="6.8" fill="#231f20" textLength="92.7" lengthAdjust="spacingAndGlyphs" stroke="#231f20" stroke-width="0.1">8 - CD4+ CAR+ Cytotoxic CD4+</text>
<text x="132.5" y="96.2" font-size="6.8" fill="#231f20" textLength="70.6" lengthAdjust="spacingAndGlyphs" stroke="#231f20" stroke-width="0.1">9 - CD4+ CAR– Memory</text>
<text x="132.5" y="102.8" font-size="6.8" fill="#231f20" textLength="98.3" lengthAdjust="spacingAndGlyphs" stroke="#231f20" stroke-width="0.1">10 - CD8+ CAR– memory/Effector</text>
<text x="132.5" y="109.5" font-size="6.8" fill="#231f20" textLength="112.8" lengthAdjust="spacingAndGlyphs" stroke="#231f20" stroke-width="0.1">11 - CD8+ CAR+ Effector (High GZMB)</text>
<text x="132.5" y="116.1" font-size="6.8" fill="#231f20" textLength="86.2" lengthAdjust="spacingAndGlyphs" stroke="#231f20" stroke-width="0.1">12 - Mixed CAR+ Proliferation</text>
<text x="132.5" y="122.7" font-size="6.8" fill="#231f20" textLength="110.1" lengthAdjust="spacingAndGlyphs" stroke="#231f20" stroke-width="0.1">13 - CD4/CD8 Mixed CAR+ T Memory</text>
<text x="132.5" y="129.3" font-size="6.8" fill="#231f20" textLength="73" lengthAdjust="spacingAndGlyphs" stroke="#231f20" stroke-width="0.1">14 - CD8+ CAR– Effector</text>
<text x="132.5" y="135.9" font-size="6.8" fill="#231f20" textLength="73.2" lengthAdjust="spacingAndGlyphs" stroke="#231f20" stroke-width="0.1">15 - CD8+ CAR+ Effector</text>
<text x="260.6" y="16.1" font-size="11.2" font-weight="bold" fill="#000">B</text>
<text x="316.8" y="24.6" font-size="8.4" text-anchor="middle" fill="#231f20" textLength="22.5" lengthAdjust="spacingAndGlyphs" stroke="#231f20" stroke-width="0.1">CD8A</text>
<text x="450" y="24.6" font-size="8.4" text-anchor="middle" fill="#231f20" textLength="16.7" lengthAdjust="spacingAndGlyphs" stroke="#231f20" stroke-width="0.1">CD4</text>
<rect x="272.5" y="29.5" width="88.8" height="87" fill="#fff" stroke="#231f20" stroke-width="1"/>
<path transform="scale(0.5)" d="M648 157h0" stroke="#440154" stroke-width="2" stroke-linecap="round" opacity="0.9" fill="none"/>
<path transform="scale(0.5)" d="M620 126h0M634 127h0M634 126h0M627 133h0M620 130h0M621 127h0M627 136h0M633 128h0M625 123h0" stroke="#440154" stroke-width="2.2" stroke-linecap="round" opacity="0.9" fill="none"/>
<path transform="scale(0.5)" d="M589 148h0M599 95h0M572 112h0M580 80h0M570 106h0M591 116h0M599 106h0M566 101h0M599 103h0M567 90h0M615 159h0M588 120h0M594 96h0M609 151h0M595 122h0M571 96h0M583 99h0M592 135h0M569 94h0M573 114h0M601 99h0M578 113h0M578 95h0M600 142h0M595 87h0M605 148h0M614 143h0M578 88h0M566 120h0M565 117h0M578 91h0M577 94h0M599 125h0M601 103h0M599 106h0M589 118h0M581 99h0M572 102h0M602 108h0M626 131h0M619 125h0M572 119h0M596 116h0M577 94h0M587 101h0M579 84h0M585 105h0M575 96h0M572 100h0M602 105h0M577 115h0M612 180h0M597 106h0M612 182h0M591 89h0M590 108h0M572 89h0M574 96h0M612 104h0M613 173h0M601 100h0M583 118h0M603 115h0M602 104h0M579 99h0M581 105h0M600 113h0M586 81h0M583 98h0M562 107h0M583 93h0M565 109h0M605 117h0M566 96h0M590 108h0M564 114h0M619 158h0M603 117h0M612 129h0M596 100h0M569 98h0M588 118h0M575 110h0M601 148h0M608 138h0M578 121h0M564 97h0M565 107h0M581 94h0M610 145h0M623 166h0M569 92h0M588 90h0M588 85h0M599 119h0M579 119h0M600 108h0M611 116h0M565 100h0M579 100h0M597 128h0M570 99h0M615 148h0M606 100h0M609 119h0M597 106h0M597 119h0M593 114h0M612 159h0M584 116h0M605 100h0M567 103h0M582 120h0M594 91h0M588 106h0M596 86h0M592 99h0M569 109h0M601 111h0M573 94h0M573 91h0M574 105h0M601 110h0M594 87h0M597 109h0M601 98h0M595 132h0M582 94h0M578 109h0M576 81h0M611 111h0M598 100h0M583 111h0M601 114h0M605 143h0M614 165h0M613 137h0M589 117h0M567 88h0M597 106h0M620 127h0M579 87h0M593 151h0M600 141h0M606 137h0M615 132h0M607 105h0M584 121h0M563 104h0M573 114h0M594 114h0M577 84h0M566 111h0M589 85h0M585 83h0M601 107h0M604 151h0M590 122h0M576 113h0M605 91h0M598 93h0M565 94h0M612 171h0M590 108h0M590 98h0M600 117h0M611 144h0M598 151h0M566 87h0M579 83h0M566 116h0M577 82h0M569 87h0M591 139h0M577 119h0M572 106h0M583 91h0M602 125h0M609 135h0M568 106h0M585 84h0M562 103h0M609 111h0M587 120h0M570 99h0M584 111h0M593 86h0M561 99h0M604 120h0M571 104h0M602 89h0M599 100h0M623 129h0M598 112h0M597 143h0M614 171h0M603 88h0M602 90h0M595 91h0M591 112h0M603 115h0M580 101h0M581 88h0M579 111h0M599 105h0M576 101h0M597 91h0M578 91h0M561 105h0M563 115h0M608 136h0M570 94h0M602 89h0M610 131h0M569 99h0M582 80h0M611 111h0M611 181h0M580 88h0M610 164h0M566 106h0M573 113h0M603 145h0M591 111h0M598 151h0M602 136h0M583 121h0M581 121h0M581 106h0M586 112h0M602 123h0M578 105h0M590 90h0M623 139h0M561 97h0M579 86h0M595 101h0M589 82h0M594 99h0M592 85h0M574 110h0M601 114h0M577 108h0M577 81h0M585 103h0M587 119h0M563 98h0M610 138h0M596 87h0M571 84h0M597 96h0M594 102h0M610 108h0M605 120h0M580 92h0M565 116h0M589 103h0M567 106h0M600 88h0M610 151h0M620 133h0M602 107h0M563 109h0M580 113h0M568 87h0M566 95h0M605 96h0M592 91h0M595 86h0M604 113h0M564 97h0M585 93h0M575 117h0M686 94h0M676 108h0M693 157h0M670 78h0M691 104h0M700 113h0M686 190h0M706 130h0M697 167h0M691 152h0M695 157h0M689 149h0M699 181h0M684 106h0M685 182h0M706 182h0M694 95h0M693 132h0M697 151h0M702 162h0M691 162h0M700 180h0M698 135h0M703 156h0M709 160h0M688 152h0M698 100h0M700 178h0M658 113h0M686 133h0M700 157h0M681 173h0M692 89h0M689 194h0M702 170h0M700 185h0M691 90h0M700 172h0M703 171h0M692 148h0M684 155h0M705 158h0M709 168h0M700 113h0M671 104h0M674 74h0M653 125h0M707 164h0M681 172h0M699 97h0M663 102h0M684 107h0M681 165h0M680 125h0M696 108h0M686 122h0M711 152h0M682 100h0M690 159h0M684 89h0M683 170h0M711 142h0M705 169h0M703 104h0M698 106h0M662 118h0M704 133h0M674 124h0M704 140h0M707 177h0M696 109h0M687 160h0M679 122h0M677 136h0M679 109h0M686 188h0M682 98h0M707 147h0M660 126h0M699 125h0M699 122h0M686 150h0M694 127h0M671 72h0M708 107h0M693 154h0M694 90h0M702 185h0M649 105h0M683 96h0M699 152h0M650 112h0M691 134h0M684 170h0M682 95h0M704 188h0M652 102h0M703 127h0M702 91h0M705 170h0M656 120h0M706 174h0M659 115h0M687 119h0M700 143h0M690 172h0M654 105h0M688 86h0M682 138h0M702 135h0M682 166h0M703 136h0M688 107h0M649 107h0M698 182h0M702 107h0M695 120h0M701 184h0M701 126h0M692 109h0M699 123h0M681 108h0M694 112h0M694 196h0M656 106h0M687 104h0M704 95h0M702 185h0M693 130h0M703 187h0M689 175h0M662 111h0M695 89h0M675 112h0M680 135h0M686 158h0M703 184h0M692 187h0M686 128h0M684 183h0M700 105h0M700 149h0M685 188h0M709 155h0M677 85h0M697 180h0M704 127h0M709 157h0M706 166h0M701 104h0M653 126h0M699 142h0M702 132h0M710 145h0M686 121h0M703 134h0M684 135h0M697 163h0M689 157h0M706 151h0M669 79h0M701 122h0M688 134h0M685 96h0M679 160h0M694 137h0M660 137h0M697 171h0M680 133h0M684 183h0M667 112h0M692 185h0M699 112h0M690 90h0M702 179h0M685 87h0M681 97h0M684 170h0M650 118h0M709 146h0M705 153h0M702 162h0M707 167h0M671 109h0M706 139h0M705 126h0M677 101h0M685 165h0M685 89h0M685 100h0M677 93h0M668 82h0M699 179h0M687 129h0M677 102h0M698 191h0M667 79h0M699 122h0M704 155h0M673 109h0M688 194h0M678 150h0M658 103h0M673 78h0M704 115h0M690 153h0M705 144h0M702 152h0M681 176h0M695 137h0M701 167h0M669 91h0M699 117h0M681 165h0M686 158h0M689 170h0M655 126h0M671 141h0M680 102h0M689 97h0M671 95h0M687 90h0M688 132h0M687 121h0M703 109h0M681 147h0M699 161h0M673 132h0M690 139h0M711 163h0M663 138h0M684 192h0M704 125h0M690 98h0M701 192h0M684 131h0M683 99h0M682 140h0M707 155h0M668 132h0M685 108h0M690 151h0M703 93h0M691 118h0M694 184h0M685 150h0M692 150h0M702 94h0M706 168h0M694 155h0M707 107h0M666 101h0M656 104h0M710 142h0M685 166h0M683 93h0M701 99h0M702 175h0M673 104h0M705 180h0M700 130h0M688 116h0M680 83h0M683 145h0M688 185h0M684 99h0M690 91h0M702 106h0M687 129h0M706 138h0M699 154h0M699 141h0M693 135h0M695 183h0M705 182h0M693 111h0M658 135h0M659 103h0M705 108h0M697 113h0M667 130h0M657 130h0M664 111h0M687 119h0M679 107h0M687 111h0M688 86h0M691 94h0M700 120h0M704 105h0M680 95h0M697 189h0M680 158h0M681 133h0M687 118h0M704 149h0M657 116h0M679 89h0M703 149h0M674 92h0M706 113h0M650 105h0M704 182h0M702 154h0M709 136h0M677 94h0M703 163h0M654 107h0M701 114h0M692 94h0M702 166h0M683 167h0M709 159h0M708 158h0M670 102h0M699 108h0M681 101h0M683 135h0M688 177h0M674 84h0M703 172h0M706 133h0M696 176h0M703 103h0M697 167h0M685 148h0M685 126h0M689 189h0M664 107h0M696 175h0M671 72h0M690 175h0M700 118h0M680 156h0M671 89h0M698 165h0M698 117h0M689 170h0M688 97h0M673 114h0M672 78h0M671 109h0M704 180h0M669 139h0M706 99h0M701 92h0M697 135h0M687 177h0M703 143h0M698 175h0M702 161h0M699 186h0M683 184h0M694 173h0M681 117h0M690 115h0M680 96h0M690 147h0M680 107h0M693 148h0M678 133h0M677 124h0M662 131h0M680 105h0M707 101h0M711 162h0M652 120h0M700 162h0M704 186h0M688 187h0M684 93h0M656 129h0M697 126h0M673 97h0M696 141h0M685 126h0M707 169h0M684 111h0M684 150h0M686 94h0M697 175h0M706 149h0M665 136h0M682 167h0M698 124h0M690 86h0M684 155h0M696 158h0M706 181h0M686 107h0M681 140h0M700 150h0M702 186h0M689 127h0M672 93h0M686 115h0M695 138h0M671 91h0M688 119h0M687 113h0M703 180h0M683 188h0M669 134h0M705 94h0M704 96h0M698 135h0M698 178h0M702 110h0M626 200h0M635 205h0M624 200h0M630 210h0M633 210h0M633 191h0M628 196h0M634 214h0M633 197h0M635 184h0M637 217h0M636 134h0" stroke="#440154" stroke-width="2.4" stroke-linecap="round" opacity="0.9" fill="none"/>
<path transform="scale(0.5)" d="M660 169h0M661 170h0M655 158h0M649 177h0M653 170h0M672 171h0" stroke="#481f70" stroke-width="2" stroke-linecap="round" opacity="0.9" fill="none"/>
<path transform="scale(0.5)" d="M620 136h0M621 124h0M623 129h0M622 132h0M630 130h0M619 139h0M634 128h0M617 135h0M621 128h0M619 126h0M624 131h0M633 127h0M615 129h0M624 138h0M615 131h0M629 131h0M621 139h0M618 130h0M624 129h0M615 137h0M617 128h0M627 136h0M616 139h0M617 136h0M627 132h0M622 139h0M624 129h0M624 138h0M630 123h0M622 124h0M632 128h0M620 125h0M616 133h0M620 131h0" stroke="#481f70" stroke-width="2.2" stroke-linecap="round" opacity="0.9" fill="none"/>
<path transform="scale(0.5)" d="M570 116h0M604 92h0M614 133h0M595 116h0M564 100h0M571 121h0M562 94h0M604 92h0M585 107h0M576 108h0M597 108h0M599 91h0M609 172h0M611 120h0M593 138h0M594 101h0M599 104h0M564 111h0M570 88h0M579 101h0M586 81h0M585 114h0M624 158h0M602 105h0M608 134h0M595 115h0M609 110h0M603 136h0M585 81h0M585 121h0M602 104h0M597 90h0M622 165h0M569 84h0M574 104h0M598 90h0M598 112h0M594 97h0M623 140h0M570 86h0M585 166h0M592 148h0M569 86h0M602 101h0M586 97h0M589 127h0M596 137h0M572 108h0M600 94h0M609 151h0M598 91h0M608 112h0M597 100h0M572 116h0M610 101h0M586 81h0M578 106h0M577 111h0M613 133h0M580 103h0M594 100h0M609 179h0M584 118h0M594 108h0M579 109h0M592 113h0M602 110h0M579 98h0M575 84h0M574 119h0M589 93h0M580 92h0M576 111h0M604 93h0M586 115h0M619 149h0M603 140h0M588 82h0M609 131h0M600 91h0M597 118h0M610 175h0M596 120h0M592 100h0M611 172h0M602 112h0M574 110h0M562 93h0M602 92h0M590 135h0M613 151h0M588 113h0M603 117h0M580 100h0M586 88h0M605 159h0M592 118h0M582 118h0M600 121h0M605 162h0M562 116h0M599 89h0M620 138h0M572 113h0M563 95h0M586 120h0M599 140h0M564 96h0M579 103h0M621 131h0M609 146h0M599 93h0M591 105h0M592 137h0M615 175h0M577 91h0M572 87h0M606 125h0M618 157h0M595 112h0M602 140h0M603 135h0M582 114h0M601 118h0M569 113h0M623 135h0M592 91h0M620 152h0M603 101h0M561 114h0M612 104h0M597 110h0M610 144h0M595 88h0M600 88h0M578 87h0M576 106h0M580 102h0M608 92h0M616 146h0M580 85h0M622 141h0M579 88h0M612 113h0M591 94h0M563 99h0M581 117h0M572 107h0M596 116h0M592 83h0M582 115h0M606 124h0M606 180h0M620 136h0M584 107h0M595 121h0M615 130h0M609 108h0M587 120h0M582 97h0M574 85h0M585 110h0M602 129h0M601 94h0M585 110h0M593 96h0M618 128h0M563 114h0M609 113h0M607 127h0M625 131h0M569 101h0M575 87h0M588 118h0M614 175h0M607 163h0M605 121h0M575 100h0M610 99h0M590 137h0M581 83h0M567 88h0M562 119h0M563 95h0M566 105h0M606 151h0M569 98h0M587 114h0M561 116h0M585 110h0M605 128h0M610 166h0M622 131h0M569 86h0M589 97h0M579 108h0M594 110h0M601 98h0M581 117h0M579 100h0M591 96h0M572 116h0M604 111h0M620 151h0M593 142h0M590 100h0M594 96h0M589 94h0M573 117h0M593 101h0M623 141h0M608 101h0M614 139h0M599 98h0M573 99h0M600 89h0M562 103h0M592 106h0M563 107h0M597 148h0M619 147h0M606 102h0M601 116h0M611 106h0M598 111h0M615 145h0M597 109h0M608 117h0M597 94h0M563 92h0M603 92h0M602 96h0M580 84h0M598 121h0M609 123h0M606 115h0M584 113h0M585 102h0M591 96h0M595 86h0M607 137h0M590 149h0M577 106h0M599 92h0M586 108h0M586 88h0M592 116h0M610 95h0M589 94h0M575 115h0M585 83h0M582 95h0M579 102h0M583 94h0M591 147h0M593 95h0M573 91h0M578 105h0M575 95h0M575 85h0M591 112h0M582 80h0M569 86h0M583 98h0M605 148h0M593 92h0M568 100h0M591 97h0M608 167h0M602 99h0M605 106h0M578 91h0M588 96h0M578 108h0M572 117h0M584 104h0M609 135h0M620 158h0M597 113h0M599 90h0M578 95h0M593 89h0M579 111h0M621 140h0M609 108h0M586 102h0M562 104h0M602 133h0M568 85h0M606 117h0M594 107h0M588 111h0M608 114h0M621 128h0M602 107h0M577 102h0M586 89h0M611 155h0M605 115h0M596 91h0M573 110h0M610 135h0M618 134h0M581 81h0M584 112h0M580 83h0M588 115h0M582 110h0M600 132h0M617 163h0M612 125h0M625 170h0M571 115h0M607 172h0M567 111h0M618 138h0M601 119h0M588 107h0M571 99h0M594 99h0M607 98h0M607 147h0M609 104h0M570 90h0M566 109h0M598 119h0M612 123h0M576 89h0M621 140h0M564 95h0M608 94h0M583 114h0M582 114h0M593 104h0M579 86h0M604 115h0M611 157h0M603 147h0M578 96h0M597 94h0M589 120h0M601 89h0M609 125h0M584 100h0M606 163h0M609 116h0M601 123h0M561 120h0M612 111h0M614 127h0M618 176h0M563 100h0M614 135h0M609 97h0M577 93h0M608 101h0M567 99h0M590 100h0M599 99h0M607 168h0M609 93h0M578 95h0M585 110h0M618 179h0M578 84h0M590 146h0M612 127h0M598 110h0M591 101h0M594 88h0M581 108h0M624 132h0M597 90h0M565 113h0M601 89h0M595 84h0M565 109h0M616 143h0M562 119h0M618 136h0M602 135h0M573 120h0M594 126h0M598 86h0M578 99h0M566 111h0M560 94h0M600 107h0M618 167h0M608 103h0M625 129h0M577 93h0M582 100h0M587 90h0M617 180h0M591 102h0M626 128h0M577 102h0M603 98h0M606 109h0M588 94h0M607 164h0M613 176h0M614 130h0M620 130h0M569 103h0M607 104h0M621 145h0M567 102h0M571 119h0M589 100h0M586 105h0M598 102h0M595 89h0M590 113h0M609 104h0M609 168h0M580 88h0M623 130h0M603 150h0M581 102h0M574 84h0M601 129h0M606 161h0M580 95h0M610 181h0M605 105h0M570 108h0M567 119h0M585 115h0M597 97h0M592 84h0M590 93h0M595 89h0M579 99h0M587 88h0M588 111h0M567 99h0M565 94h0M575 114h0M599 105h0M582 120h0M574 84h0M567 110h0M622 126h0M621 161h0M572 96h0M575 112h0M559 100h0M606 113h0M617 125h0M565 99h0M583 99h0M612 126h0M570 89h0M567 103h0M564 101h0M607 106h0M568 108h0M614 170h0M583 82h0M575 82h0M572 100h0M612 103h0M608 98h0M616 129h0M609 174h0M592 110h0M602 89h0M607 117h0M572 93h0M566 89h0M606 117h0M620 131h0M608 106h0M608 133h0M584 90h0M620 131h0M573 95h0M575 93h0M606 102h0M610 114h0M561 91h0M585 88h0M577 86h0M604 114h0M585 108h0M608 136h0M622 160h0M615 152h0M611 105h0M587 120h0M577 94h0M563 96h0M596 121h0M571 107h0M571 97h0M562 94h0M621 138h0M600 111h0M584 118h0M568 86h0M569 109h0M606 119h0M573 84h0M604 93h0M609 104h0M587 97h0M622 159h0M603 97h0M576 96h0M589 113h0M600 127h0M572 108h0M598 104h0M571 86h0M584 96h0M572 109h0M595 128h0M610 98h0M586 118h0M628 129h0M607 108h0M609 131h0M567 107h0M604 94h0M625 129h0M572 115h0M618 131h0M604 129h0M565 104h0M608 174h0M563 119h0M583 115h0M600 87h0M603 112h0M571 116h0M579 89h0M606 97h0M678 155h0M674 96h0M672 124h0M683 114h0M695 116h0M690 130h0M694 169h0M699 164h0M706 127h0M683 158h0M707 110h0M689 180h0M684 138h0M691 156h0M693 116h0M691 140h0M696 100h0M676 128h0M667 74h0M696 126h0M694 192h0M677 105h0M688 88h0M696 180h0M695 88h0M694 123h0M695 145h0M694 188h0M681 98h0M688 161h0M666 138h0M650 108h0M658 126h0M688 195h0M691 117h0M702 187h0M697 136h0M693 106h0M677 77h0M703 161h0M696 144h0M694 137h0M668 87h0M699 91h0M686 114h0M706 159h0M667 106h0M692 182h0M687 121h0M708 148h0M688 158h0M704 175h0M704 180h0M659 133h0M669 123h0M660 123h0M685 165h0M666 144h0M653 113h0M685 103h0M683 169h0M704 112h0M693 149h0M694 105h0M701 148h0M677 85h0M655 127h0M695 147h0M704 179h0M699 180h0M694 153h0M698 112h0M691 140h0M699 93h0M683 84h0M675 96h0M692 189h0M686 158h0M710 160h0M648 105h0M691 138h0M699 191h0M684 162h0M665 103h0M693 194h0M678 150h0M705 149h0M686 162h0M708 146h0M700 142h0M708 180h0M684 123h0M668 136h0M652 117h0M688 180h0M697 193h0M681 120h0M697 149h0M705 126h0M685 169h0M705 149h0M675 99h0M687 192h0M682 94h0M687 113h0M699 178h0M656 116h0M651 115h0M695 122h0M655 131h0M671 118h0M693 127h0M696 116h0M698 180h0M701 167h0M695 164h0M695 166h0M664 106h0M684 157h0M691 175h0M686 114h0M699 150h0M709 161h0M655 120h0M667 129h0M704 156h0M701 185h0M651 106h0M694 134h0M683 135h0M693 88h0M700 170h0M669 125h0M693 168h0M689 147h0M709 138h0M695 159h0M704 169h0M695 118h0M678 90h0M697 140h0M698 121h0M683 105h0M703 99h0M667 134h0M699 100h0M692 101h0M711 161h0M675 111h0M659 116h0M688 163h0M704 136h0M654 124h0M703 178h0M699 162h0M678 134h0M659 132h0M693 101h0M699 145h0M696 140h0M656 117h0M679 98h0M690 180h0M676 101h0M666 124h0M682 131h0M695 168h0M696 99h0M694 155h0M692 134h0M684 193h0M688 192h0M683 164h0M707 129h0M656 104h0M701 157h0M709 181h0M690 133h0M692 140h0M694 174h0M690 168h0M699 113h0M683 145h0M683 97h0M708 155h0M663 110h0M696 171h0M686 185h0M701 161h0M699 177h0M684 84h0M685 169h0M695 177h0M684 186h0M664 112h0M689 158h0M684 184h0M685 128h0M685 158h0M703 115h0M703 125h0M668 80h0M679 157h0M702 187h0M695 120h0M651 104h0M711 151h0M700 179h0M694 101h0M676 74h0M702 156h0M687 108h0M688 113h0M680 106h0M692 180h0M687 141h0M706 141h0M699 165h0M705 99h0M684 172h0M697 184h0M667 112h0M675 91h0M710 154h0M696 190h0M668 139h0M704 136h0M699 102h0M691 147h0M708 174h0M701 188h0M674 93h0M672 103h0M685 173h0M693 102h0M684 125h0M688 93h0M695 148h0M692 156h0M690 138h0M694 147h0M688 150h0M705 104h0M707 164h0M703 124h0M705 134h0M692 102h0M670 92h0M679 96h0M696 113h0M677 100h0M689 183h0M656 109h0M692 161h0M670 103h0M700 136h0M691 130h0M682 172h0M703 127h0M658 113h0M674 131h0M682 118h0M704 139h0M669 141h0M687 164h0M679 164h0M692 87h0M676 76h0M689 89h0M688 102h0M696 183h0M702 134h0M675 98h0M681 134h0M663 101h0M683 167h0M656 124h0M691 109h0M673 103h0M697 103h0M681 129h0M689 145h0M671 132h0M697 144h0M692 193h0M683 163h0M696 186h0M696 181h0M682 121h0M702 157h0M703 170h0M689 129h0M672 108h0M703 162h0M699 155h0M681 133h0M656 103h0M689 127h0M673 114h0M694 114h0M688 112h0M688 99h0M697 182h0M676 99h0M681 171h0M689 159h0M658 128h0M694 87h0M669 88h0M697 134h0M701 163h0M684 113h0M696 192h0M696 187h0M695 89h0M656 113h0M687 93h0M668 85h0M671 101h0M673 128h0M693 127h0M698 119h0M693 112h0M676 114h0M693 106h0M678 125h0M688 105h0M686 192h0M704 152h0M658 135h0M677 100h0M677 162h0M678 79h0M691 154h0M661 104h0M699 114h0M691 86h0M673 158h0M672 107h0M704 187h0M695 109h0M657 124h0M677 132h0M712 149h0M705 105h0M689 139h0M701 173h0M668 95h0M687 192h0M690 100h0M688 150h0M701 140h0M676 86h0M689 175h0M694 159h0M686 172h0M703 183h0M701 167h0M676 94h0M682 172h0M692 134h0M685 142h0M669 102h0M684 190h0M667 133h0M686 173h0M689 195h0M679 81h0M685 103h0M693 107h0M695 136h0M663 121h0M685 135h0M680 173h0M689 173h0M700 135h0M684 173h0M683 138h0M683 175h0M668 116h0M687 171h0M705 115h0M681 97h0M700 110h0M672 134h0M686 88h0M697 94h0M670 75h0M653 114h0M706 94h0M689 166h0M666 101h0M689 100h0M682 173h0M691 193h0M684 124h0M697 169h0M702 147h0M673 124h0M677 98h0M683 118h0M671 90h0M652 103h0M683 113h0M677 99h0M672 90h0M669 150h0M707 164h0M684 115h0M668 97h0M703 155h0M698 115h0M689 131h0M706 153h0M711 162h0M676 131h0M698 140h0M685 132h0M686 127h0M693 170h0M704 95h0M686 125h0M696 112h0M695 116h0M697 148h0M680 144h0M689 108h0M652 125h0M707 133h0M701 182h0M685 100h0M691 197h0M699 143h0M682 169h0M693 105h0M681 84h0M702 134h0M704 99h0M650 116h0M687 153h0M687 95h0M700 120h0M674 136h0M699 96h0M701 125h0M700 102h0M705 153h0M688 110h0M694 179h0M683 173h0M707 173h0M695 122h0M671 96h0M692 93h0M678 101h0M704 107h0M704 170h0M707 102h0M697 148h0M709 154h0M685 133h0M682 144h0M675 97h0M684 116h0M702 142h0M690 130h0M698 109h0M692 104h0M706 164h0M681 106h0M708 161h0M705 115h0M709 170h0M706 157h0M699 119h0M684 157h0M677 87h0M664 107h0M677 90h0M678 118h0M695 111h0M706 168h0M690 187h0M671 80h0M699 165h0M693 126h0M656 132h0M698 152h0M709 153h0M665 132h0M672 154h0M670 105h0M690 190h0M674 80h0M705 96h0M685 131h0M680 103h0M700 96h0M704 125h0M691 108h0M690 88h0M697 90h0M699 113h0M672 73h0M712 144h0M655 131h0M698 107h0M660 138h0M705 116h0M707 150h0M684 157h0M672 80h0M708 142h0M691 110h0M688 162h0M683 103h0M704 104h0M704 166h0M702 94h0M706 128h0M707 162h0M678 94h0M654 116h0M691 130h0M697 147h0M689 149h0M692 127h0M667 101h0M710 149h0M689 93h0M707 181h0M687 178h0M693 132h0M699 166h0M697 145h0M683 170h0M688 182h0M669 106h0M679 167h0M699 145h0M693 119h0M693 110h0M691 170h0M693 101h0M700 123h0M707 141h0M679 116h0M710 162h0M690 88h0M662 133h0M706 146h0M685 179h0M711 156h0M683 141h0M680 136h0M691 193h0M681 91h0M699 105h0M688 169h0M666 118h0M673 98h0M660 133h0M704 157h0M693 110h0M706 95h0M671 117h0M659 134h0M682 160h0M698 113h0M684 166h0M668 148h0M685 155h0M710 141h0M683 177h0M687 135h0M693 132h0M702 131h0M659 138h0M699 142h0M705 151h0M682 85h0M695 141h0M684 97h0M679 111h0M700 112h0M704 102h0M689 182h0M681 127h0M691 110h0M682 101h0M687 153h0M708 140h0M696 93h0M693 160h0M694 162h0M703 120h0M701 193h0M705 169h0M692 97h0M654 104h0M707 175h0M681 166h0M705 183h0M696 149h0M684 100h0M697 158h0M697 154h0M696 161h0M700 123h0M656 102h0M708 108h0M680 134h0M664 110h0M649 109h0M693 143h0M682 136h0M674 97h0M671 98h0M697 98h0M710 175h0M706 169h0M696 162h0M693 90h0M709 146h0M696 186h0M671 131h0M688 119h0M696 158h0M691 103h0M672 109h0M681 140h0M701 118h0M653 107h0M698 192h0M688 166h0M688 89h0M694 122h0M688 182h0M673 74h0M692 105h0M691 178h0M686 123h0M691 194h0M704 158h0M689 181h0M695 171h0M688 187h0M700 129h0M684 97h0M685 138h0M698 162h0M711 156h0M699 92h0M689 177h0M694 193h0M689 177h0M692 144h0M686 151h0M669 128h0M691 138h0M686 98h0M678 151h0M698 123h0M698 154h0M694 138h0M698 156h0M699 183h0M689 185h0M684 171h0M680 144h0M702 161h0M655 124h0M675 115h0M700 179h0M692 106h0M687 195h0M664 136h0M670 74h0M659 103h0M682 178h0M668 137h0M692 99h0M671 71h0M696 154h0M696 117h0M699 176h0M655 106h0M702 177h0M711 144h0M692 151h0M683 140h0M702 111h0M708 144h0M688 110h0M695 195h0M705 160h0M706 134h0M690 101h0M711 164h0M687 164h0M678 101h0M699 104h0M700 185h0M702 115h0M692 181h0M683 110h0M683 192h0M705 110h0M700 137h0M683 176h0M706 112h0M674 111h0M668 113h0M692 160h0M700 145h0M669 153h0M683 88h0M675 136h0M682 160h0M682 186h0M684 113h0M691 182h0M708 136h0M677 97h0M701 143h0M684 134h0M697 164h0M704 145h0M711 167h0M695 88h0M708 102h0M709 166h0M711 170h0M710 162h0M701 106h0M681 91h0M694 159h0M689 153h0M703 183h0M684 180h0M674 98h0M652 109h0M712 150h0M694 165h0M685 181h0M683 142h0M699 134h0M699 93h0M698 179h0M690 169h0M678 170h0M680 106h0M652 102h0M679 133h0M703 173h0M702 100h0M671 137h0M685 99h0M702 165h0M697 173h0M703 136h0M682 114h0M667 83h0M656 112h0M683 94h0M679 85h0M679 160h0M656 115h0M704 130h0M667 148h0M677 94h0M711 162h0M710 169h0M712 148h0M705 166h0M694 150h0M695 100h0M676 100h0M662 120h0M697 160h0M687 111h0M695 119h0M686 173h0M699 102h0M665 138h0M688 147h0M685 145h0M696 172h0M704 117h0M689 186h0M705 162h0M703 107h0M674 89h0M701 185h0M712 151h0M661 127h0M681 146h0M698 150h0M699 116h0M703 116h0M700 121h0M684 118h0M699 191h0M675 155h0M663 134h0M673 112h0M688 96h0M683 129h0M677 149h0M678 83h0M702 107h0M668 128h0M651 107h0M701 143h0M672 123h0M670 74h0M688 169h0M696 184h0M668 129h0M706 156h0M686 103h0M688 188h0M708 143h0M671 139h0M673 92h0M670 128h0M691 92h0M694 189h0M675 86h0M687 136h0M689 150h0M686 170h0M691 86h0M694 133h0M683 165h0M709 143h0M692 133h0M658 133h0M634 209h0M629 200h0M641 193h0M657 181h0M635 207h0M632 192h0M635 184h0M634 190h0M665 192h0M632 209h0M627 192h0M630 201h0M634 206h0M635 188h0M632 188h0M630 190h0M638 200h0M648 193h0M649 203h0M637 142h0M636 144h0M634 140h0M634 142h0M635 140h0M644 154h0" stroke="#481f70" stroke-width="2.4" stroke-linecap="round" opacity="0.9" fill="none"/>
<path transform="scale(0.5)" d="M650 161h0M662 164h0M660 174h0M649 161h0M657 176h0M671 173h0M670 173h0M654 154h0M666 178h0M657 177h0M667 176h0M648 172h0M660 159h0M654 158h0M660 159h0M664 171h0" stroke="#443983" stroke-width="2" stroke-linecap="round" opacity="0.9" fill="none"/>
<path transform="scale(0.5)" d="M617 134h0M635 126h0M625 133h0M625 137h0M616 128h0M618 133h0M629 132h0M628 128h0M621 133h0M618 132h0M624 125h0" stroke="#443983" stroke-width="2.2" stroke-linecap="round" opacity="0.9" fill="none"/>
<path transform="scale(0.5)" d="M615 136h0M608 92h0M589 100h0M561 111h0M604 146h0M608 133h0M568 120h0M602 147h0M619 142h0M570 98h0M575 102h0M582 97h0M602 119h0M609 110h0M586 83h0M615 146h0M591 97h0M606 108h0M573 105h0M570 85h0M593 84h0M569 121h0M599 114h0M620 138h0M595 139h0M570 86h0M573 90h0M576 84h0M591 94h0M579 167h0M607 166h0M598 97h0M579 116h0M586 95h0M612 148h0M600 108h0M603 133h0M588 83h0M604 90h0M605 175h0M620 137h0M590 90h0M583 90h0M579 100h0M624 171h0M589 161h0M579 96h0M606 181h0M617 148h0M604 135h0M612 130h0M574 108h0M619 145h0M610 175h0M571 93h0M597 146h0M559 108h0M594 90h0M599 99h0M577 97h0M609 173h0M593 86h0M607 154h0M615 126h0M590 109h0M595 142h0M608 179h0M608 117h0M623 127h0M600 117h0M585 120h0M603 100h0M572 91h0M595 109h0M601 91h0M622 138h0M589 83h0M613 108h0M566 120h0M588 85h0M616 142h0M566 110h0M580 81h0M566 100h0M570 87h0M570 98h0M558 100h0M569 99h0M620 153h0M589 92h0M600 115h0M587 175h0M604 149h0M565 93h0M589 138h0M578 116h0M577 110h0M580 102h0M575 90h0M592 118h0M584 81h0M596 117h0M605 90h0M584 181h0M561 117h0M607 128h0M598 178h0M584 105h0M564 95h0M615 130h0M593 103h0M611 100h0M595 136h0M591 88h0M612 148h0M599 116h0M569 93h0M566 118h0M579 173h0M560 111h0M614 124h0M571 172h0M595 120h0M607 141h0M563 116h0M597 89h0M593 145h0M577 101h0M579 84h0M575 113h0M565 100h0M576 112h0M589 85h0M615 158h0M602 107h0M614 142h0M616 160h0M611 180h0M588 91h0M596 98h0M619 166h0M600 87h0M606 118h0M624 132h0M590 116h0M604 105h0M601 129h0M622 154h0M617 130h0M575 96h0M606 102h0M613 140h0M616 165h0M580 108h0M605 103h0M603 149h0M602 89h0M608 93h0M603 180h0M600 131h0M562 102h0M613 177h0M602 104h0M623 137h0M596 114h0M609 95h0M575 100h0M581 105h0M570 113h0M573 99h0M603 96h0M585 117h0M610 108h0M591 103h0M598 89h0M596 127h0M614 128h0M613 147h0M596 91h0M603 116h0M590 87h0M591 115h0M572 83h0M587 102h0M606 99h0M609 120h0M601 97h0M577 113h0M624 126h0M611 137h0M567 94h0M590 89h0M589 106h0M606 121h0M614 130h0M597 137h0M576 87h0M565 108h0M609 173h0M611 143h0M596 165h0M569 101h0M578 100h0M606 108h0M587 114h0M592 150h0M588 120h0M558 104h0M599 96h0M586 95h0M569 117h0M607 94h0M586 113h0M606 92h0M581 181h0M589 84h0M608 113h0M572 99h0M618 125h0M583 85h0M608 134h0M604 89h0M558 102h0M600 107h0M580 119h0M606 94h0M598 92h0M622 176h0M594 94h0M564 101h0M609 110h0M617 146h0M612 108h0M592 133h0M582 93h0M615 127h0M593 123h0M616 179h0M607 118h0M610 109h0M599 91h0M607 176h0M563 111h0M600 120h0M582 92h0M601 108h0M608 105h0M575 96h0M621 160h0M600 93h0M607 127h0M589 115h0M617 153h0M574 86h0M579 85h0M618 175h0M578 83h0M591 104h0M623 139h0M596 87h0M598 114h0M612 150h0M608 153h0M623 133h0M583 108h0M599 112h0M623 139h0M558 106h0M569 109h0M621 142h0M692 155h0M701 171h0M671 77h0M700 100h0M693 195h0M691 185h0M662 137h0M692 117h0M700 163h0M706 128h0M696 167h0M648 102h0M695 186h0M667 105h0M681 106h0M668 106h0M675 135h0M699 98h0M683 89h0M658 137h0M664 142h0M669 131h0M709 147h0M694 149h0M679 141h0M678 105h0M700 102h0M692 101h0M668 135h0M657 128h0M679 103h0M711 143h0M689 136h0M706 98h0M649 106h0M654 119h0M690 195h0M689 174h0M673 115h0M667 150h0M663 111h0M660 137h0M682 162h0M682 163h0M699 156h0M685 158h0M695 176h0M677 136h0M694 112h0M680 156h0M687 163h0M670 127h0M671 122h0M658 136h0M670 131h0M698 117h0M689 143h0M656 105h0M692 119h0M698 191h0M693 146h0M667 136h0M685 180h0M697 178h0M663 118h0M709 152h0M676 128h0M705 166h0M676 136h0M663 107h0M671 132h0M700 126h0M704 172h0M674 115h0M672 125h0M692 126h0M695 190h0M657 115h0M670 118h0M703 125h0M684 176h0M704 92h0M684 160h0M690 111h0M700 189h0M708 136h0M676 159h0M694 130h0M689 174h0M683 179h0M685 187h0M675 90h0M689 123h0M698 119h0M663 118h0M664 110h0M702 95h0M689 99h0M673 82h0M656 119h0M655 103h0M675 133h0M654 106h0M672 98h0M662 117h0M709 172h0M674 85h0M689 111h0M695 100h0M684 121h0M694 161h0M691 117h0M690 193h0M680 111h0M700 166h0M704 108h0M689 92h0M699 162h0M663 106h0M688 193h0M690 140h0M701 122h0M678 111h0M707 149h0M664 143h0M703 189h0M677 95h0M668 125h0M690 160h0M692 122h0M709 168h0M696 146h0M665 128h0M707 164h0M685 133h0M696 94h0M695 108h0M709 172h0M702 188h0M676 98h0M686 119h0M652 104h0M693 160h0M684 131h0M681 131h0M675 155h0M679 129h0M689 150h0M706 179h0M696 108h0M671 148h0M664 105h0M699 144h0M685 152h0M692 123h0M668 118h0M684 119h0M672 101h0M707 141h0M673 121h0M693 136h0M683 162h0M710 165h0M687 162h0M689 178h0M666 122h0M705 106h0M707 103h0M690 125h0M670 96h0M691 161h0M689 112h0M670 92h0M703 180h0M685 113h0M702 93h0M652 114h0M675 128h0M666 118h0M675 125h0M695 132h0M698 131h0M696 195h0M681 120h0M695 188h0M685 164h0M704 163h0M685 194h0M678 98h0M649 101h0M694 192h0M682 153h0M671 112h0M696 184h0M672 74h0M693 142h0M709 159h0M688 165h0M689 129h0M674 110h0M693 122h0M685 133h0M661 104h0M670 114h0M679 170h0M667 88h0M696 112h0M687 128h0M655 117h0M695 130h0M666 111h0M688 181h0M701 132h0M699 91h0M696 120h0M683 100h0M691 99h0M671 71h0M698 128h0M669 95h0M670 101h0M693 165h0M698 144h0M697 145h0M673 127h0M697 110h0M708 137h0M696 126h0M683 183h0M693 109h0M704 144h0M694 93h0M688 149h0M685 127h0M682 141h0M687 131h0M709 152h0M677 112h0M654 107h0M702 139h0M687 87h0M670 136h0M690 162h0M699 173h0M680 114h0M674 81h0M668 91h0M676 92h0M693 187h0M664 134h0M683 147h0M711 156h0M684 153h0M689 88h0M693 135h0M686 116h0M672 128h0M662 120h0M685 181h0M685 147h0M690 121h0M698 193h0M677 139h0M667 81h0M700 131h0M702 99h0M670 137h0M680 102h0M699 115h0M707 130h0M683 96h0M668 138h0M660 113h0M690 167h0M696 119h0M686 112h0M697 133h0M705 151h0M698 126h0M696 139h0M690 105h0M664 141h0M703 144h0M689 98h0M698 103h0M678 79h0M705 142h0M703 171h0M658 107h0M666 130h0M693 108h0M656 124h0M702 108h0M667 87h0M696 96h0M674 146h0M687 138h0M693 90h0M683 134h0M679 134h0M680 165h0M651 104h0M710 158h0M654 114h0M689 98h0M674 115h0M701 185h0M698 193h0M694 147h0M691 149h0M675 152h0M690 139h0M653 112h0M676 89h0M672 80h0M696 128h0M703 136h0M688 111h0M697 106h0M682 123h0M689 154h0M685 142h0M693 105h0M690 102h0M672 142h0M684 94h0M669 121h0M699 112h0M676 126h0M701 98h0M663 118h0M686 157h0M697 156h0M702 176h0M689 135h0M695 165h0M692 96h0M711 153h0M676 156h0M658 132h0M694 122h0M705 99h0M686 109h0M707 152h0M683 168h0M708 151h0M698 191h0M690 183h0M705 109h0M681 108h0M700 125h0M707 184h0M691 104h0M662 128h0M689 137h0M693 138h0M686 157h0M696 155h0M684 169h0M701 131h0M687 121h0M689 109h0M703 95h0M702 173h0M668 119h0M684 178h0M664 108h0M699 147h0M705 117h0M697 118h0M692 191h0M690 86h0M682 87h0M709 156h0M687 168h0M702 101h0M685 114h0M671 144h0M672 127h0M692 170h0M697 161h0M702 132h0M683 150h0M682 120h0M681 148h0M692 183h0M692 112h0M675 96h0M696 171h0M674 136h0M693 87h0M687 124h0M688 129h0M680 121h0M698 182h0M674 101h0M683 167h0M688 159h0M650 102h0M675 76h0M705 96h0M702 153h0M674 98h0M678 130h0M689 107h0M669 82h0M693 88h0M687 172h0M699 105h0M685 186h0M691 112h0M698 100h0M652 119h0M687 144h0M705 143h0M683 160h0M702 121h0M674 124h0M698 185h0M705 181h0M671 83h0M659 114h0M698 105h0M701 119h0M691 94h0M692 118h0M663 119h0M668 127h0M685 109h0M673 120h0M689 130h0M675 82h0M669 76h0M698 109h0M651 119h0M675 96h0M681 176h0M702 137h0M690 132h0M692 87h0M677 105h0M700 192h0M692 170h0M651 188h0M629 194h0M630 188h0M636 193h0M656 197h0M631 188h0M654 196h0M647 198h0M664 194h0M657 183h0M628 203h0M636 201h0M630 203h0M636 201h0M633 200h0M642 184h0M628 200h0M640 192h0M629 194h0M635 188h0M634 185h0M655 180h0M662 202h0M635 135h0M637 135h0M637 139h0M634 135h0M636 137h0" stroke="#443983" stroke-width="2.4" stroke-linecap="round" opacity="0.9" fill="none"/>
<path transform="scale(0.5)" d="M653 164h0M648 164h0M664 157h0M657 156h0M667 161h0M661 164h0M672 170h0M654 163h0M665 171h0M666 161h0M646 155h0M651 156h0M660 163h0M669 174h0M659 151h0M657 175h0M649 169h0" stroke="#3b528b" stroke-width="2" stroke-linecap="round" opacity="0.9" fill="none"/>
<path transform="scale(0.5)" d="M631 130h0M625 123h0" stroke="#3b528b" stroke-width="2.2" stroke-linecap="round" opacity="0.9" fill="none"/>
<path transform="scale(0.5)" d="M571 98h0M594 132h0M568 160h0M589 102h0M577 158h0M599 141h0M571 87h0M607 175h0M615 176h0M566 117h0M589 148h0M611 140h0M591 151h0M597 86h0M570 170h0M580 99h0M578 153h0M569 117h0M605 168h0M590 133h0M600 167h0M595 162h0M566 140h0M606 173h0M597 137h0M603 112h0M582 158h0M585 157h0M571 100h0M593 92h0M559 108h0M590 99h0M596 121h0M592 158h0M579 102h0M580 101h0M610 166h0M599 141h0M610 175h0M599 157h0M592 177h0M580 179h0M571 99h0M574 170h0M622 134h0M602 158h0M616 150h0M615 162h0M576 91h0M605 149h0M609 158h0M589 156h0M582 166h0M574 113h0M625 168h0M592 108h0M568 108h0M603 116h0M582 166h0M603 157h0M620 178h0M601 175h0M581 112h0M598 125h0M605 151h0M599 124h0M560 95h0M597 177h0M619 157h0M586 173h0M602 99h0M590 87h0M577 97h0M583 107h0M571 169h0M575 165h0M595 153h0M583 93h0M606 101h0M597 166h0M616 127h0M578 179h0M604 92h0M624 126h0M574 92h0M567 108h0M571 118h0M595 116h0M610 144h0M582 93h0M591 157h0M610 149h0M587 101h0M619 168h0M562 96h0M615 136h0M562 112h0M615 130h0M599 115h0M614 148h0M611 105h0M602 152h0M617 168h0M604 174h0M589 177h0M595 132h0M575 160h0M621 126h0M565 157h0M592 177h0M619 139h0M614 124h0M623 131h0M587 175h0M570 160h0M562 111h0M609 131h0M615 146h0M570 138h0M606 142h0M574 154h0M576 89h0M605 116h0M619 144h0M597 142h0M581 86h0M589 98h0M581 108h0M576 95h0M578 102h0M608 175h0M588 95h0M603 161h0M605 98h0M563 107h0M610 151h0M604 159h0M602 112h0M601 143h0M596 105h0M590 91h0M573 119h0M605 91h0M628 131h0M593 123h0M594 178h0M600 127h0M588 185h0M612 178h0M571 93h0M582 172h0M616 162h0M593 96h0M581 161h0M616 177h0M580 171h0M587 81h0M599 105h0M559 107h0M585 84h0M601 117h0M562 109h0M574 154h0M593 107h0M564 111h0M570 90h0M571 160h0M607 129h0M596 172h0M614 168h0M672 130h0M650 114h0M678 143h0M672 127h0M698 129h0M707 144h0M679 86h0M708 166h0M699 190h0M666 120h0M701 176h0M657 134h0M654 123h0M699 91h0M679 172h0M694 137h0M670 123h0M653 119h0M674 138h0M655 125h0M676 147h0M701 94h0M663 122h0M659 133h0M654 105h0M669 117h0M696 121h0M679 111h0M679 158h0M666 104h0M707 133h0M680 131h0M671 85h0M688 127h0M693 102h0M658 122h0M681 84h0M680 170h0M699 143h0M691 158h0M704 183h0M684 188h0M668 112h0M666 144h0M686 93h0M697 125h0M677 94h0M668 150h0M674 79h0M695 106h0M662 104h0M699 118h0M686 85h0M671 79h0M677 128h0M658 112h0M696 168h0M674 123h0M682 180h0M708 104h0M687 109h0M700 121h0M704 128h0M689 125h0M672 80h0M700 154h0M698 158h0M686 92h0M683 99h0M693 186h0M663 122h0M667 75h0M674 154h0M666 114h0M688 154h0M686 133h0M665 122h0M686 187h0M679 134h0M677 96h0M665 108h0M653 111h0M649 117h0M682 168h0M678 157h0M697 91h0M681 165h0M655 123h0M699 160h0M710 157h0M699 167h0M671 117h0M704 98h0M695 115h0M676 127h0M689 86h0M669 128h0M662 119h0M655 105h0M699 154h0M694 166h0M698 168h0M676 119h0M670 133h0M688 158h0M706 97h0M686 90h0M690 117h0M692 189h0M693 164h0M700 106h0M660 118h0M688 145h0M692 163h0M672 90h0M693 108h0M694 98h0M680 112h0M690 186h0M655 131h0M664 144h0M677 155h0M698 182h0M701 145h0M685 99h0M689 156h0M676 162h0M686 175h0M679 119h0M675 112h0M672 112h0M672 143h0M678 129h0M676 106h0M669 121h0M703 167h0M703 157h0M694 98h0M706 144h0M697 152h0M676 141h0M710 151h0M710 173h0M685 164h0M706 162h0M682 150h0M701 150h0M706 109h0M680 158h0M663 110h0M706 95h0M690 191h0M683 179h0M704 99h0M679 162h0M686 136h0M693 173h0M698 93h0M704 143h0M671 113h0M696 174h0M683 153h0M671 142h0M672 118h0M688 163h0M677 155h0M683 141h0M662 112h0M687 181h0M706 149h0M703 158h0M695 187h0M700 180h0M692 165h0M711 168h0M654 120h0M679 162h0M691 192h0M707 102h0M688 189h0M681 146h0M665 129h0M692 97h0M668 127h0M701 192h0M676 154h0M695 91h0M708 103h0M696 139h0M684 124h0M669 145h0M662 130h0M680 172h0M669 81h0M701 179h0M672 112h0M685 126h0M703 152h0M665 148h0M670 111h0M685 181h0M676 131h0M695 95h0M692 150h0M656 126h0M665 131h0M704 101h0M663 124h0M684 102h0M660 135h0M679 118h0M682 125h0M674 129h0M707 164h0M691 159h0M702 104h0M681 156h0M692 105h0M704 119h0M667 115h0M687 192h0M702 133h0M658 106h0M693 129h0M664 144h0M675 105h0M676 118h0M656 123h0M668 71h0M668 149h0M683 171h0M701 127h0M692 173h0M695 99h0M704 156h0M705 167h0M703 151h0M687 188h0M698 95h0M678 119h0M690 126h0M661 111h0M670 140h0M673 95h0M650 119h0M673 76h0M678 127h0M698 142h0M694 160h0M673 130h0M674 95h0M664 121h0M668 98h0M707 174h0M675 131h0M658 131h0M692 116h0M670 80h0M676 135h0M656 124h0M672 116h0M684 110h0M695 130h0M642 201h0M647 198h0M651 200h0M649 200h0M638 200h0M625 202h0M647 195h0M638 186h0M666 196h0M655 182h0M652 185h0M659 187h0M638 184h0M655 179h0M652 202h0M658 188h0M661 197h0M640 183h0M652 201h0M654 180h0M654 197h0M641 194h0M645 182h0M630 209h0M653 189h0M645 193h0M648 183h0M656 196h0M644 193h0M639 200h0M646 140h0" stroke="#3b528b" stroke-width="2.4" stroke-linecap="round" opacity="0.9" fill="none"/>
<path transform="scale(0.5)" d="M656 182h0M649 166h0M666 175h0M652 155h0M661 177h0M656 179h0M647 163h0M669 167h0M651 160h0M654 167h0M664 180h0M662 181h0M665 176h0M654 154h0M660 161h0M658 173h0M667 167h0M669 177h0M652 154h0M665 186h0M667 166h0M654 159h0M656 152h0M654 172h0M648 172h0M659 172h0M668 176h0M672 172h0M652 176h0M652 149h0M658 149h0M663 161h0M653 165h0M655 168h0M668 176h0M668 175h0M659 169h0" stroke="#31688e" stroke-width="2" stroke-linecap="round" opacity="0.9" fill="none"/>
<path transform="scale(0.5)" d="M621 124h0M624 139h0M626 126h0M625 136h0M616 129h0M619 138h0M625 135h0M618 134h0M621 137h0M615 127h0M629 127h0M624 125h0M627 122h0M630 123h0M624 136h0M627 123h0M625 130h0M619 130h0M622 133h0M619 135h0M621 132h0M625 130h0M617 129h0M621 137h0" stroke="#31688e" stroke-width="2.2" stroke-linecap="round" opacity="0.9" fill="none"/>
<path transform="scale(0.5)" d="M613 140h0M604 106h0M609 161h0M606 172h0M612 140h0M605 130h0M609 99h0M619 167h0M562 146h0M612 142h0M618 170h0M614 177h0M602 180h0M587 120h0M613 135h0M593 89h0M581 153h0M600 130h0M620 159h0M607 127h0M585 91h0M611 141h0M567 112h0M599 115h0M615 146h0M604 158h0M582 156h0M601 175h0M567 90h0M617 168h0M617 144h0M623 153h0M583 165h0M611 131h0M600 174h0M597 123h0M590 141h0M609 161h0M584 158h0M616 150h0M611 137h0M622 153h0M560 108h0M610 157h0M591 121h0M598 181h0M615 152h0M558 111h0M571 138h0M564 110h0M572 160h0M588 180h0M607 149h0M626 164h0M581 163h0M592 105h0M611 156h0M613 135h0M606 172h0M562 110h0M611 131h0M591 149h0M604 122h0M609 153h0M605 160h0M599 182h0M597 168h0M570 160h0M620 158h0M583 173h0M596 138h0M620 144h0M577 172h0M584 163h0M600 152h0M576 176h0M618 154h0M585 169h0M574 172h0M592 158h0M600 176h0M614 138h0M614 145h0M621 150h0M624 161h0M596 129h0M598 162h0M573 100h0M602 174h0M578 177h0M624 166h0M564 118h0M592 149h0M602 114h0M607 166h0M600 121h0M573 100h0M593 169h0M622 146h0M574 93h0M601 141h0M621 155h0M585 117h0M578 89h0M606 158h0M620 128h0M579 175h0M598 121h0M595 161h0M615 142h0M573 107h0M574 173h0M603 90h0M607 123h0M600 132h0M594 128h0M596 107h0M578 100h0M593 150h0M623 175h0M596 177h0M599 132h0M585 145h0M570 170h0M583 116h0M616 138h0M579 111h0M596 121h0M591 171h0M593 112h0M576 139h0M594 181h0M561 111h0M614 150h0M599 178h0M576 164h0M592 142h0M618 139h0M610 174h0M590 163h0M576 174h0M591 165h0M593 115h0M579 162h0M581 108h0M611 123h0M620 133h0M626 129h0M603 169h0M617 124h0M568 163h0M581 166h0M596 158h0M617 132h0M577 172h0M597 132h0M587 176h0M594 131h0M602 180h0M587 108h0M595 105h0M598 141h0M618 147h0M605 125h0M563 108h0M585 157h0M590 143h0M615 155h0M613 124h0M609 122h0M603 135h0M594 113h0M611 129h0M585 116h0M593 141h0M600 153h0M595 168h0M594 154h0M585 162h0M611 121h0M605 142h0M607 148h0M586 175h0M593 140h0M594 133h0M579 84h0M572 114h0M561 98h0M573 97h0M569 110h0M586 149h0M580 102h0M585 156h0M573 157h0M599 161h0M615 130h0M609 169h0M625 129h0M612 133h0M612 154h0M581 146h0M577 93h0M605 145h0M619 172h0M585 91h0M613 165h0M573 87h0M587 164h0M588 154h0M586 168h0M609 173h0M580 160h0M618 153h0M591 143h0M602 173h0M581 81h0M557 111h0M606 179h0M606 179h0M591 159h0M606 144h0M596 125h0M566 154h0M598 147h0M573 112h0M589 157h0M583 96h0M609 96h0M606 144h0M602 173h0M597 170h0M603 99h0M619 143h0M623 132h0M598 140h0M566 132h0M611 140h0M611 160h0M579 117h0M580 99h0M570 144h0M601 145h0M568 163h0M584 181h0M609 93h0M619 165h0M593 152h0M569 152h0M625 161h0M575 167h0M622 158h0M606 138h0M574 165h0M591 166h0M598 143h0M624 141h0M595 141h0M609 173h0M606 128h0M590 139h0M579 156h0M596 174h0M612 133h0M569 169h0M591 106h0M597 177h0M606 139h0M602 103h0M575 91h0M612 182h0M612 131h0M566 156h0M601 166h0M604 131h0M595 118h0M611 170h0M570 160h0M610 166h0M563 102h0M620 152h0M591 139h0M575 149h0M619 179h0M592 101h0M621 147h0M623 136h0M565 149h0M608 157h0M599 171h0M594 175h0M612 152h0M609 161h0M604 128h0M598 150h0M618 151h0M572 127h0M568 106h0M559 100h0M577 94h0M564 108h0M588 100h0M607 139h0M583 182h0M607 169h0M611 156h0M612 170h0M575 165h0M596 102h0M614 125h0M587 155h0M604 130h0M558 108h0M607 135h0M578 86h0M595 160h0M565 146h0M620 132h0M620 130h0M599 161h0M598 139h0M604 134h0M594 149h0M595 158h0M597 123h0M611 178h0M625 128h0M605 112h0M594 149h0M598 158h0M610 177h0M575 104h0M563 103h0M566 153h0M622 137h0M588 148h0M607 178h0M618 180h0M669 151h0M655 113h0M651 122h0M660 136h0M658 124h0M655 125h0M699 130h0M699 144h0M663 112h0M661 94h0M675 118h0M678 155h0M680 141h0M666 123h0M694 101h0M674 142h0M680 148h0M690 190h0M689 112h0M702 128h0M663 110h0M668 138h0M673 141h0M673 94h0M702 176h0M664 138h0M665 118h0M667 118h0M665 145h0M665 133h0M666 121h0M656 136h0M674 155h0M663 136h0M697 90h0M669 93h0M671 134h0M662 116h0M705 163h0M651 98h0M663 113h0M674 130h0M706 176h0M665 147h0M671 131h0M688 94h0M704 113h0M676 158h0M676 76h0M695 102h0M666 137h0M705 126h0M709 178h0M667 126h0M681 95h0M669 118h0M663 112h0M695 147h0M686 147h0M694 178h0M658 116h0M668 113h0M681 141h0M672 157h0M675 143h0M673 121h0M675 129h0M671 130h0M660 129h0M676 111h0M656 127h0M699 191h0M703 110h0M674 159h0M667 137h0M670 153h0M685 112h0M659 131h0M660 120h0M672 150h0M710 171h0M668 150h0M660 125h0M662 128h0M692 98h0M704 157h0M673 80h0M671 154h0M680 128h0M694 157h0M668 70h0M671 117h0M674 143h0M653 112h0M669 138h0M680 86h0M679 111h0M677 155h0M678 142h0M705 184h0M680 158h0M672 147h0M706 160h0M656 134h0M676 138h0M666 125h0M685 135h0M665 117h0M666 122h0M674 86h0M659 130h0M660 119h0M681 104h0M672 134h0M675 145h0M676 130h0M669 144h0M660 135h0M679 95h0M664 140h0M663 127h0M704 186h0M682 147h0M667 143h0M656 126h0M652 125h0M666 129h0M703 125h0M665 145h0M670 112h0M687 167h0M672 155h0M679 154h0M684 173h0M678 159h0M673 145h0M695 110h0M667 150h0M677 115h0M675 115h0M661 111h0M652 121h0M667 133h0M653 125h0M689 191h0M672 156h0M680 141h0M691 128h0M691 162h0M662 142h0M682 92h0M710 169h0M663 130h0M652 126h0M664 142h0M667 146h0M661 141h0M706 184h0M629 206h0M650 196h0M650 204h0M625 202h0M650 202h0M632 205h0M650 202h0M666 202h0M662 196h0M640 185h0M655 197h0M636 212h0M658 196h0M663 200h0M638 185h0M649 200h0M665 203h0M660 196h0M655 190h0M642 191h0M637 183h0M631 196h0M665 193h0M660 186h0M645 195h0M638 206h0M649 186h0M659 186h0M637 185h0M656 193h0M627 193h0M645 187h0M657 193h0M660 196h0M641 194h0M659 184h0M631 200h0M630 198h0M634 187h0M631 196h0M655 204h0M654 199h0M655 197h0M654 202h0M649 188h0M657 202h0M633 205h0M637 199h0M639 195h0M649 200h0M638 196h0M651 194h0M657 220h0M655 183h0M661 201h0M646 197h0M649 203h0M630 203h0M643 190h0M636 207h0M655 198h0M627 204h0M648 203h0M635 213h0M639 182h0M627 198h0M635 210h0M647 195h0M644 194h0M649 180h0M630 191h0M657 196h0M650 182h0M660 201h0M645 189h0M627 193h0M652 192h0M645 182h0M657 198h0M659 183h0M661 205h0M661 201h0M645 204h0M645 204h0M635 202h0M661 191h0M632 194h0M640 191h0M654 200h0M643 194h0M660 197h0M646 194h0M647 201h0M629 209h0M657 181h0M657 189h0M662 192h0M655 202h0M646 188h0M660 195h0M651 183h0M661 195h0M663 195h0M652 199h0M646 196h0M630 192h0M638 181h0M657 204h0M666 193h0M664 190h0M650 189h0M664 191h0M655 189h0M654 204h0M664 193h0M651 200h0M647 184h0M638 194h0M641 190h0M638 188h0M662 191h0M634 139h0M635 144h0M637 139h0M635 139h0M636 134h0M635 149h0M639 138h0M650 145h0M641 148h0M634 138h0M639 147h0M644 142h0M638 135h0M636 145h0M643 153h0M636 133h0M643 154h0" stroke="#31688e" stroke-width="2.4" stroke-linecap="round" opacity="0.9" fill="none"/>
<path transform="scale(0.5)" d="M652 159h0M668 174h0M661 171h0M656 164h0M650 159h0M650 172h0M663 166h0M648 161h0M672 171h0M652 148h0M670 175h0M666 170h0M648 163h0M671 172h0M657 159h0M649 178h0M665 180h0M666 161h0" stroke="#287c8e" stroke-width="2" stroke-linecap="round" opacity="0.9" fill="none"/>
<path transform="scale(0.5)" d="M634 128h0M621 136h0M629 122h0M625 124h0M618 128h0M630 129h0M617 140h0" stroke="#287c8e" stroke-width="2.2" stroke-linecap="round" opacity="0.9" fill="none"/>
<path transform="scale(0.5)" d="M610 126h0M601 156h0M616 175h0M596 154h0M586 179h0M582 165h0M566 142h0M589 160h0M568 159h0M577 176h0M581 162h0M628 130h0M597 173h0M598 169h0M621 130h0M571 148h0M610 182h0M602 180h0M616 170h0M597 131h0M597 140h0M610 171h0M612 159h0M590 171h0M605 156h0M613 168h0M607 135h0M582 174h0M605 131h0M624 170h0M624 166h0M617 140h0M580 175h0M594 156h0M565 129h0M580 164h0M571 162h0M572 131h0M580 155h0M577 140h0M576 174h0M578 141h0M579 161h0M574 132h0M599 144h0M559 147h0M581 157h0M589 186h0M596 155h0M597 135h0M603 164h0M590 156h0M595 133h0M595 172h0M582 175h0M601 161h0M617 151h0M580 176h0M558 105h0M588 163h0M567 122h0M569 124h0M610 151h0M557 115h0M595 159h0M617 155h0M603 175h0M569 87h0M582 128h0M623 167h0M602 168h0M602 163h0M556 121h0M594 174h0M627 131h0M596 148h0M589 168h0M576 126h0M594 135h0M608 150h0M604 178h0M580 180h0M581 153h0M589 170h0M613 177h0M589 180h0M603 178h0M610 159h0M557 143h0M604 138h0M579 176h0M610 181h0M579 178h0M581 144h0M611 154h0M606 121h0M575 89h0M576 148h0M585 179h0M599 166h0M619 128h0M586 184h0M574 162h0M581 164h0M591 157h0M584 139h0M591 160h0M580 154h0M596 157h0M605 178h0M611 178h0M597 154h0M622 153h0M600 147h0M557 112h0M584 162h0M608 132h0M593 127h0M562 152h0M610 156h0M601 149h0M624 131h0M587 176h0M613 147h0M584 172h0M617 166h0M610 148h0M578 168h0M567 164h0M588 163h0M594 154h0M558 125h0M598 163h0M598 132h0M573 165h0M607 162h0M604 148h0M591 173h0M594 183h0M580 174h0M598 160h0M582 157h0M624 138h0M597 159h0M597 181h0M575 172h0M594 91h0M565 138h0M605 151h0M603 169h0M606 136h0M585 167h0M564 155h0M592 168h0M567 158h0M603 160h0M611 137h0M618 145h0M591 173h0M560 93h0M588 183h0M596 128h0M579 170h0M589 171h0M594 176h0M582 155h0M575 146h0M566 159h0M621 172h0M601 164h0M611 136h0M586 166h0M576 136h0M581 135h0M601 178h0M615 135h0M591 130h0M621 165h0M577 157h0M602 130h0M614 162h0M587 175h0M559 111h0M558 113h0M574 162h0M584 170h0M586 181h0M578 174h0M574 165h0M607 164h0M609 168h0M581 174h0M590 127h0M590 153h0M575 162h0M600 145h0M603 178h0M612 145h0M570 163h0M597 125h0M616 138h0M582 154h0M593 121h0M592 170h0M564 90h0M606 148h0M592 134h0M579 174h0M603 146h0M580 129h0M618 167h0M593 180h0M585 174h0M601 174h0M615 168h0M586 172h0M585 180h0M595 154h0M611 103h0M617 131h0M577 126h0M558 128h0M572 144h0M623 145h0M557 126h0M564 138h0M581 142h0M594 144h0M565 103h0M570 155h0M619 172h0M609 162h0M612 125h0M590 172h0M596 124h0M598 161h0M579 176h0M590 182h0M584 178h0M596 128h0M608 129h0M561 113h0M569 166h0M595 179h0M594 153h0M588 111h0M613 167h0M561 112h0M621 151h0M595 153h0M600 178h0M600 163h0M592 180h0M557 138h0M605 130h0M583 163h0M580 122h0M587 125h0M600 154h0M622 143h0M580 174h0M598 170h0M607 136h0M595 129h0M622 172h0M587 111h0M596 128h0M614 181h0M614 141h0M594 168h0M616 130h0M578 163h0M588 169h0M615 126h0M578 161h0M578 146h0M611 168h0M604 167h0M590 129h0M596 171h0M576 133h0M621 169h0M583 143h0M611 152h0M595 173h0M604 154h0M588 168h0M622 168h0M607 143h0M622 139h0M591 174h0M580 171h0M577 167h0M598 137h0M603 143h0M599 171h0M572 172h0M591 167h0M594 124h0M593 151h0M608 148h0M588 166h0M584 183h0M586 155h0M576 162h0M591 136h0M603 162h0M624 129h0M559 148h0M574 167h0M606 126h0M578 140h0M574 131h0M595 176h0M586 165h0M588 153h0M580 176h0M590 158h0M569 169h0M608 129h0M607 154h0M615 175h0M584 178h0M614 139h0M580 181h0M597 163h0M604 160h0M593 143h0M601 160h0M570 156h0M586 157h0M581 121h0M599 171h0M582 158h0M561 121h0M604 168h0M576 153h0M573 166h0M587 155h0M593 149h0M616 127h0M570 153h0M566 153h0M599 174h0M608 128h0M570 124h0M613 158h0M591 111h0M592 142h0M610 127h0M595 155h0M583 160h0M609 163h0M574 145h0M615 149h0M618 178h0M590 166h0M567 156h0M606 116h0M575 156h0M588 180h0M674 155h0M673 141h0M668 143h0M664 127h0M651 116h0M672 143h0M667 76h0M666 86h0M666 144h0M669 140h0M677 111h0M663 117h0M673 115h0M673 142h0M680 125h0M673 118h0M666 80h0M672 151h0M668 150h0M672 157h0M655 98h0M648 94h0M677 147h0M665 72h0M654 80h0M653 90h0M667 146h0M671 127h0M667 147h0M665 148h0M674 138h0M662 80h0M671 141h0M680 127h0M648 89h0M675 116h0M671 143h0M676 118h0M655 116h0M656 129h0M664 140h0M688 188h0M672 152h0M654 98h0M679 117h0M666 143h0M666 143h0M666 146h0M659 118h0M670 150h0M662 84h0M676 149h0M686 99h0M657 95h0M659 99h0M678 119h0M663 144h0M658 75h0M680 138h0M657 119h0M663 74h0M670 146h0M661 141h0M653 206h0M629 206h0M642 196h0M651 198h0M642 206h0M632 197h0M663 199h0M656 212h0M642 199h0M639 196h0M633 211h0M641 193h0M656 205h0M646 186h0M663 209h0M667 195h0M651 200h0M630 198h0M633 198h0M661 195h0M649 207h0M632 204h0M656 198h0M641 198h0M638 204h0M661 198h0M659 191h0M644 196h0M644 188h0M648 204h0M629 191h0M628 205h0M649 189h0M625 196h0M655 186h0M642 185h0M629 203h0M655 208h0M641 194h0M656 216h0M659 193h0M664 203h0M657 212h0M642 196h0M650 187h0M659 187h0M644 181h0M648 187h0M658 196h0M658 207h0M661 214h0M630 208h0M663 201h0M650 184h0M652 199h0M628 194h0M653 188h0M661 204h0M657 198h0M648 201h0M654 187h0M639 194h0M651 197h0M642 203h0M666 194h0M661 208h0M648 184h0M644 214h0M649 182h0M638 190h0M644 192h0M642 186h0M638 213h0M639 198h0M638 195h0M642 199h0M643 198h0M651 192h0M661 190h0M662 191h0M655 205h0M658 196h0M657 207h0M654 203h0M631 212h0M646 135h0M639 147h0M639 145h0M643 136h0M647 150h0M645 149h0M643 145h0M636 143h0M648 136h0M634 145h0M646 145h0M643 143h0M642 141h0M644 137h0M644 150h0M637 134h0M639 134h0M647 132h0M642 135h0M643 136h0M643 153h0M647 152h0M645 146h0M642 139h0M641 140h0M638 151h0M643 133h0M650 142h0M645 150h0M648 143h0M650 144h0M642 152h0M639 136h0M638 134h0M648 139h0M646 136h0M639 136h0M642 132h0M642 148h0M649 144h0M640 132h0M639 147h0M642 147h0M640 133h0M645 150h0M641 153h0M640 138h0M645 151h0" stroke="#287c8e" stroke-width="2.4" stroke-linecap="round" opacity="0.9" fill="none"/>
<path transform="scale(0.5)" d="M647 153h0M661 179h0M661 185h0M662 157h0M660 181h0M657 157h0M664 169h0M667 172h0M662 175h0M658 167h0M657 160h0" stroke="#21918c" stroke-width="2" stroke-linecap="round" opacity="0.9" fill="none"/>
<path transform="scale(0.5)" d="M628 123h0M628 128h0M615 131h0" stroke="#21918c" stroke-width="2.2" stroke-linecap="round" opacity="0.9" fill="none"/>
<path transform="scale(0.5)" d="M613 155h0M597 176h0M570 169h0M559 143h0M595 156h0M609 145h0M567 165h0M578 180h0M589 157h0M578 174h0M581 161h0M576 162h0M603 176h0M564 140h0M603 161h0M595 167h0M620 160h0M594 179h0M598 142h0M564 129h0M609 138h0M578 121h0M590 141h0M577 145h0M596 138h0M612 159h0M609 142h0M602 159h0M583 175h0M567 125h0M589 170h0M594 159h0M620 169h0M609 127h0M576 139h0M621 170h0M569 158h0M600 180h0M575 148h0M571 142h0M603 131h0M579 180h0M582 127h0M586 178h0M598 158h0M608 151h0M623 173h0M587 160h0M570 160h0M565 134h0M578 157h0M604 154h0M580 176h0M583 175h0M595 171h0M581 173h0M576 149h0M600 130h0M600 157h0M594 164h0M559 108h0M615 146h0M607 167h0M593 127h0M609 126h0M586 157h0M578 148h0M605 152h0M583 172h0M601 145h0M592 172h0M575 154h0M616 164h0M578 175h0M583 163h0M592 128h0M607 125h0M584 173h0M601 136h0M608 180h0M581 129h0M594 161h0M602 176h0M604 167h0M578 156h0M595 148h0M577 131h0M606 122h0M595 148h0M565 146h0M601 174h0M564 148h0M559 112h0M611 154h0M583 168h0M593 177h0M576 162h0M593 179h0M592 166h0M580 155h0M594 125h0M593 153h0M586 122h0M584 156h0M576 174h0M559 124h0M597 170h0M590 185h0M621 176h0M590 155h0M581 130h0M620 129h0M603 162h0M593 177h0M616 159h0M603 177h0M618 176h0M614 160h0M587 181h0M575 175h0M581 157h0M586 172h0M578 168h0M560 93h0M584 159h0M594 128h0M604 147h0M607 154h0M575 164h0M598 169h0M616 170h0M614 165h0M595 183h0M596 152h0M595 131h0M604 173h0M615 163h0M568 140h0M616 164h0M572 159h0M592 163h0M569 146h0M570 138h0M567 153h0M585 160h0M576 173h0M570 149h0M614 139h0M566 157h0M593 175h0M580 158h0M597 144h0M589 150h0M604 151h0M607 169h0M588 172h0M594 161h0M625 168h0M567 133h0M625 161h0M572 172h0M594 160h0M603 158h0M587 145h0M586 166h0M580 168h0M587 180h0M616 143h0M600 176h0M590 152h0M591 164h0M570 130h0M609 144h0M573 124h0M607 134h0M582 168h0M558 113h0M576 164h0M594 169h0M592 158h0M576 166h0M596 139h0M558 134h0M593 132h0M587 158h0M599 149h0M564 154h0M615 171h0M583 177h0M578 160h0M603 176h0M603 177h0M611 129h0M583 142h0M594 179h0M616 154h0M597 173h0M573 173h0M601 105h0M587 175h0M568 151h0M622 144h0M623 165h0M575 176h0M569 147h0M581 182h0M563 145h0M562 138h0M586 172h0M588 185h0M602 165h0M611 179h0M591 155h0M593 153h0M593 179h0M579 175h0M596 149h0M598 169h0M557 109h0M600 156h0M590 121h0M580 125h0M604 134h0M589 162h0M601 140h0M598 128h0M591 179h0M615 155h0M601 177h0M603 133h0M607 180h0M606 156h0M604 160h0M594 170h0M580 156h0M560 96h0M594 176h0M604 155h0M604 180h0M583 163h0M575 167h0M610 140h0M588 158h0M597 181h0M625 160h0M612 162h0M599 175h0M591 165h0M577 173h0M617 165h0M589 131h0M560 111h0M567 163h0M603 126h0M587 129h0M595 174h0M577 176h0M590 106h0M616 181h0M588 155h0M563 136h0M603 163h0M605 173h0M580 179h0M587 179h0M596 158h0M590 160h0M586 128h0M603 171h0M559 126h0M583 180h0M583 129h0M564 122h0M587 180h0M559 122h0M594 173h0M582 122h0M590 138h0M608 169h0M598 168h0M577 158h0M593 179h0M616 127h0M557 138h0M594 167h0M569 159h0M560 109h0M586 158h0M608 173h0M581 171h0M593 153h0M586 157h0M574 158h0M585 171h0M611 160h0M614 148h0M586 147h0M595 172h0M589 165h0M615 134h0M603 155h0M579 169h0M610 132h0M600 177h0M595 171h0M588 138h0M572 168h0M649 98h0M666 91h0M651 96h0M665 147h0M671 151h0M657 94h0M664 81h0M667 144h0M668 148h0M674 155h0M676 153h0M653 81h0M667 149h0M665 116h0M674 149h0M649 87h0M660 78h0M661 111h0M674 158h0M659 100h0M657 101h0M664 96h0M650 91h0M654 81h0M656 88h0M652 86h0M675 157h0M676 158h0M666 88h0M673 154h0M676 153h0M658 90h0M668 147h0M667 92h0M672 154h0M657 81h0M659 90h0M662 141h0M639 189h0M632 202h0M645 212h0M649 219h0M640 220h0M660 191h0M635 203h0M664 200h0M645 203h0M644 195h0M644 188h0M653 183h0M625 200h0M637 214h0M662 191h0M649 186h0M662 211h0M647 187h0M656 189h0M627 205h0M662 206h0M657 192h0M658 204h0M632 204h0M640 209h0M657 189h0M643 197h0M633 196h0M635 186h0M666 192h0M654 204h0M662 198h0M651 201h0M645 201h0M660 198h0M656 190h0M648 201h0M624 199h0M641 209h0M662 194h0M640 200h0M665 195h0M649 186h0M648 214h0M629 209h0M653 197h0M661 206h0M662 195h0M637 204h0M637 196h0M656 191h0M645 194h0M644 205h0M653 180h0M635 203h0M663 193h0M623 200h0M645 198h0M642 194h0M634 193h0M636 195h0M634 194h0M657 205h0M626 193h0M644 193h0M633 208h0M643 213h0M663 212h0M635 146h0M649 144h0M640 138h0M644 145h0M640 141h0M638 140h0M644 132h0M648 147h0M648 142h0M642 148h0M644 150h0M643 153h0M637 136h0M643 139h0M642 139h0M647 145h0M638 152h0M643 140h0M647 137h0M648 150h0M637 144h0M648 148h0M638 144h0M651 143h0M644 136h0M645 150h0M642 146h0M650 141h0M641 151h0M641 131h0M641 136h0M647 139h0M645 133h0M647 148h0M640 134h0M647 141h0M644 135h0M644 143h0M637 147h0M646 150h0M637 142h0M646 147h0M645 145h0M639 136h0M639 139h0M643 137h0" stroke="#21918c" stroke-width="2.4" stroke-linecap="round" opacity="0.9" fill="none"/>
<path transform="scale(0.5)" d="M665 175h0M657 178h0M660 179h0M653 153h0" stroke="#20a486" stroke-width="2" stroke-linecap="round" opacity="0.9" fill="none"/>
<path transform="scale(0.5)" d="M566 128h0M602 149h0M578 172h0M596 160h0M604 147h0M609 152h0M610 155h0M600 158h0M611 127h0M589 125h0M575 122h0M605 159h0M558 146h0M604 134h0M610 132h0M623 164h0M610 137h0M612 162h0M574 124h0M609 133h0M571 169h0M600 181h0M576 173h0M589 163h0M599 170h0M575 145h0M576 126h0M597 153h0M557 108h0M573 163h0M613 152h0M584 135h0M598 181h0M612 146h0M582 122h0M576 122h0M584 160h0M587 143h0M605 158h0M588 177h0M575 122h0M568 124h0M575 156h0M620 143h0M583 124h0M607 142h0M604 172h0M602 131h0M608 162h0M612 161h0M615 162h0M575 124h0M582 171h0M609 144h0M615 172h0M622 177h0M604 130h0M569 151h0M597 125h0M580 139h0M572 172h0M568 147h0M560 99h0M561 122h0M590 121h0M605 156h0M569 167h0M591 143h0M583 168h0M580 168h0M561 127h0M598 153h0M625 170h0M598 169h0M567 141h0M574 154h0M574 130h0M556 137h0M574 159h0M616 171h0M595 170h0M594 137h0M623 155h0M592 153h0M586 171h0M605 124h0M614 179h0M613 146h0M581 161h0M603 165h0M603 151h0M599 140h0M560 112h0M610 127h0M588 183h0M593 160h0M560 138h0M617 158h0M560 105h0M622 159h0M581 180h0M613 155h0M566 150h0M621 163h0M586 162h0M621 160h0M602 173h0M598 162h0M613 175h0M581 174h0M574 169h0M601 179h0M606 165h0M567 159h0M592 162h0M604 165h0M609 154h0M571 121h0M578 122h0M569 157h0M597 159h0M578 174h0M589 133h0M590 165h0M591 147h0M626 168h0M568 145h0M598 163h0M576 173h0M610 153h0M582 139h0M560 140h0M618 159h0M557 129h0M676 160h0M652 83h0M672 142h0M652 82h0M664 145h0M666 77h0M671 142h0M670 151h0M665 76h0M653 89h0M656 88h0M670 140h0M655 83h0M666 140h0M651 89h0M633 187h0M651 189h0M632 207h0M634 185h0M635 183h0M651 211h0M662 189h0M631 189h0M654 199h0M647 218h0M643 199h0M626 200h0M650 208h0M639 184h0M654 187h0M645 200h0M635 196h0M638 201h0M652 194h0M650 198h0M660 199h0M627 198h0M638 199h0M663 194h0M640 200h0M643 188h0M635 144h0M646 137h0M637 150h0M638 142h0M643 132h0" stroke="#20a486" stroke-width="2.4" stroke-linecap="round" opacity="0.9" fill="none"/>
<path transform="scale(0.5)" d="M561 128h0M579 162h0M577 142h0M592 161h0M619 177h0M582 151h0M563 140h0M565 147h0M559 130h0M558 135h0M608 179h0M556 132h0M618 169h0M593 121h0M579 135h0M576 124h0M624 167h0M589 134h0M577 123h0M558 138h0M558 122h0M559 116h0M568 140h0M578 132h0M589 147h0M618 155h0M583 134h0M584 136h0M594 164h0M589 151h0M574 127h0M573 145h0M576 151h0M571 149h0M590 150h0M586 158h0M613 164h0M606 159h0M570 149h0M593 146h0M622 164h0M561 145h0M579 140h0M556 129h0M573 140h0M559 117h0M608 165h0M593 140h0M604 139h0M580 141h0M619 154h0M566 123h0M561 116h0M587 128h0M593 149h0M579 138h0M558 134h0M613 170h0M602 156h0M559 129h0M564 146h0M581 144h0M623 159h0M593 184h0M576 141h0M559 133h0M594 122h0M575 147h0M580 145h0M572 139h0M607 166h0M558 146h0M589 135h0M588 181h0M589 178h0M605 155h0M579 130h0M569 133h0M565 138h0M565 151h0M588 137h0M567 140h0M588 157h0M571 152h0M605 177h0M602 153h0M580 180h0M586 144h0M579 154h0M574 146h0M571 151h0M572 138h0M604 162h0M596 128h0M576 131h0M569 137h0M623 174h0M618 175h0M583 148h0M575 130h0M581 138h0M582 132h0M558 136h0M586 144h0M580 149h0M598 125h0M568 145h0M578 138h0M568 152h0M559 142h0M567 125h0M588 124h0M611 146h0M601 141h0M589 124h0M559 114h0M562 144h0M604 128h0M563 131h0M576 148h0M570 136h0M573 131h0M578 149h0M564 125h0M606 161h0M556 141h0M599 141h0M581 145h0M562 149h0M611 163h0M614 174h0M583 141h0M565 122h0M606 169h0M559 145h0M569 139h0M581 138h0M584 164h0M557 129h0M572 158h0M617 164h0M574 143h0M584 152h0M579 146h0M560 126h0M588 134h0M572 131h0M589 149h0M609 147h0M580 131h0M556 124h0M562 129h0M622 159h0M570 140h0M605 144h0M582 139h0M607 153h0M575 129h0M582 126h0M580 131h0M577 140h0M589 122h0M576 131h0M581 122h0M605 147h0M571 144h0M561 133h0M611 163h0M582 122h0M621 175h0M571 147h0M570 151h0M598 157h0M582 136h0M567 124h0M561 148h0M584 133h0M571 131h0M586 145h0M578 146h0M556 142h0M568 123h0M575 136h0M586 126h0M565 124h0M622 156h0M574 150h0M560 127h0M573 145h0M573 132h0M571 141h0M571 137h0M562 145h0M573 141h0M563 123h0M561 123h0M564 148h0M577 123h0M581 124h0M575 125h0M592 185h0M601 140h0M571 131h0M559 121h0M608 167h0M558 110h0M564 126h0M577 163h0M617 174h0M568 126h0M576 148h0M562 150h0M613 175h0M591 183h0M563 149h0M577 135h0M618 146h0M602 148h0M610 145h0M577 153h0M558 110h0M585 129h0M601 129h0M617 162h0M605 158h0M564 137h0M584 128h0M560 142h0M609 129h0M608 151h0M560 148h0M572 129h0M609 141h0M573 128h0M601 178h0M601 138h0M563 123h0M561 151h0M585 125h0M575 140h0M574 136h0M603 124h0M586 147h0M664 96h0M654 99h0M656 77h0M661 89h0M659 86h0M652 95h0M655 78h0M666 76h0M659 100h0M663 85h0M659 94h0M663 77h0M659 83h0M665 77h0M649 85h0M664 90h0M649 94h0M665 97h0M650 88h0M665 99h0M662 73h0M658 77h0M655 94h0M659 88h0M663 97h0M652 91h0M654 93h0M653 91h0M660 82h0M649 96h0M656 78h0M658 79h0M666 77h0M661 74h0M664 93h0M655 79h0M659 101h0M656 93h0M660 99h0M649 88h0M656 87h0M630 210h0M661 209h0M640 212h0M632 199h0M658 215h0M654 220h0M629 199h0M659 201h0M639 212h0M641 214h0M654 207h0M656 216h0M629 204h0M640 207h0M648 217h0M652 217h0M665 207h0M641 220h0M656 208h0M634 210h0M656 209h0M629 207h0M631 201h0M666 205h0M632 210h0M652 208h0M652 208h0M634 192h0" stroke="#35b779" stroke-width="2.4" stroke-linecap="round" opacity="0.9" fill="none"/>
<path transform="scale(0.5)" d="M556 121h0M586 137h0M585 128h0M575 151h0M557 107h0M561 145h0M562 132h0M587 127h0M570 127h0M586 126h0M556 121h0M577 148h0M566 130h0M568 147h0M587 141h0M581 148h0M561 147h0M560 115h0M600 152h0M576 150h0M588 153h0M588 129h0M562 140h0M584 133h0M588 126h0M568 139h0M586 143h0M577 137h0M588 183h0M559 117h0M556 136h0M559 118h0M564 149h0M565 123h0M582 125h0M573 131h0M585 139h0M576 130h0M573 133h0M584 134h0M584 133h0M575 132h0M568 143h0M568 164h0M574 131h0M601 152h0M604 155h0M577 131h0M566 130h0M574 136h0M577 129h0M585 132h0M579 144h0M569 128h0M568 147h0M558 137h0M563 133h0M564 146h0M576 131h0M576 143h0M566 133h0M573 122h0M560 126h0M587 124h0M589 146h0M562 143h0M575 143h0M571 137h0M582 136h0M565 137h0M558 124h0M559 129h0M578 151h0M578 148h0M585 124h0M559 143h0M575 139h0M579 138h0M565 139h0M574 134h0M580 126h0M563 134h0M578 144h0M578 138h0M561 133h0M576 150h0M589 148h0M611 148h0M569 134h0M572 141h0M576 128h0M558 116h0M575 151h0M583 127h0M556 140h0M586 151h0M571 135h0M563 126h0M587 122h0M568 142h0M585 121h0M575 144h0M581 144h0M563 123h0M558 133h0M589 127h0M586 159h0M563 126h0M579 150h0M559 128h0M582 131h0M567 141h0M562 138h0M572 153h0M587 138h0M576 151h0M581 143h0M563 129h0M577 123h0M558 120h0M558 114h0M571 168h0M560 117h0M588 148h0M556 131h0M560 145h0M559 141h0M562 143h0M583 129h0M575 141h0M580 148h0M568 141h0M562 134h0M578 147h0M584 139h0M576 122h0M575 137h0M571 138h0M582 133h0M581 133h0M585 148h0M563 145h0M609 169h0M580 129h0M582 130h0M621 149h0M557 139h0M563 150h0M584 140h0M572 148h0M586 139h0M588 138h0M588 137h0M568 145h0M564 148h0M577 143h0M566 146h0M572 126h0M576 151h0M571 146h0M559 142h0M560 137h0M571 138h0M586 149h0M558 121h0M579 147h0M576 122h0M561 137h0M587 132h0M567 129h0M570 144h0M557 139h0M583 130h0M570 152h0M556 132h0M584 129h0M620 145h0M603 128h0M579 147h0M586 130h0M559 129h0M565 134h0M570 148h0M576 147h0M565 147h0M582 139h0M557 128h0M608 150h0M577 133h0M597 148h0M576 136h0M571 131h0M581 143h0M573 140h0M568 147h0M582 152h0M562 150h0M587 134h0M570 135h0M574 151h0M583 148h0M585 147h0M577 152h0M578 140h0M559 135h0M611 170h0M557 117h0M565 125h0M580 134h0M578 124h0M558 116h0M586 129h0M662 98h0M657 92h0M665 100h0M660 90h0M663 87h0M658 79h0M658 99h0M650 91h0M664 71h0M656 89h0M652 98h0M649 98h0M665 84h0M665 74h0M666 90h0M651 97h0M658 96h0M659 79h0M648 96h0M658 84h0M648 97h0M661 97h0M651 99h0M657 88h0M667 80h0M662 84h0M659 91h0M666 94h0M658 80h0M656 80h0M655 89h0M658 99h0M656 80h0M660 82h0M664 78h0M651 90h0M659 96h0M665 88h0M658 92h0M665 73h0M667 94h0M659 87h0M657 84h0M651 96h0M655 90h0M666 73h0M654 86h0M654 84h0M655 96h0M654 89h0M651 87h0M667 89h0M664 84h0M655 93h0M664 82h0M666 86h0M663 96h0M657 88h0M660 80h0M651 86h0M655 82h0M654 81h0M665 76h0M656 83h0M662 100h0M663 93h0M654 85h0M648 94h0M655 99h0M651 84h0M649 90h0M657 80h0M667 84h0M661 80h0M666 82h0M662 94h0M652 97h0M649 89h0M662 80h0M658 76h0M666 93h0M657 98h0M660 90h0M659 82h0M661 83h0M652 88h0M653 97h0M659 101h0M655 95h0M661 76h0M661 81h0M661 81h0M652 83h0M659 86h0M649 86h0M650 91h0M659 83h0M660 89h0M657 84h0M657 93h0M662 211h0M637 209h0M652 218h0M659 207h0M643 221h0M642 208h0M654 221h0M662 210h0M646 222h0M639 215h0M656 215h0M653 219h0M653 215h0M659 209h0M642 220h0M638 214h0M650 205h0M644 208h0M638 206h0M648 217h0M657 220h0M648 218h0M649 216h0M650 208h0M649 217h0M659 216h0M646 208h0M650 217h0M654 220h0M662 215h0M663 211h0M642 213h0M642 216h0M656 215h0M650 212h0M657 208h0M657 220h0M642 213h0M664 210h0M646 223h0M651 221h0M643 217h0M643 210h0M662 207h0M659 207h0M658 215h0M650 210h0M645 209h0M648 215h0M643 213h0M651 213h0M654 221h0M640 220h0M654 220h0M649 222h0M653 208h0M644 213h0M658 212h0M662 210h0M637 216h0M644 217h0M648 211h0M652 217h0M642 205h0M638 206h0M645 216h0M663 205h0M651 207h0M645 222h0M659 205h0M644 209h0M660 210h0M636 144h0" stroke="#5ec962" stroke-width="2.4" stroke-linecap="round" opacity="0.9" fill="none"/>
<path transform="scale(0.5)" d="M577 137h0M586 124h0M564 141h0M559 133h0M558 122h0M558 133h0M584 140h0M565 130h0M561 141h0M576 149h0M570 151h0M582 128h0M578 146h0M567 122h0M587 142h0M585 145h0M618 167h0M576 147h0M584 147h0M582 135h0M588 151h0M577 123h0M563 152h0M559 129h0M563 128h0M565 144h0M563 139h0M580 131h0M556 124h0M580 143h0M581 134h0M587 131h0M581 148h0M571 152h0M578 128h0M557 129h0M560 115h0M584 130h0M572 127h0M571 123h0M579 139h0M557 124h0M583 144h0M558 145h0M587 129h0M573 128h0M587 152h0M583 131h0M560 123h0M563 149h0M569 151h0M567 142h0M575 129h0M652 94h0M659 78h0M651 98h0M665 92h0M657 92h0M656 82h0M665 81h0M666 72h0M665 84h0M649 85h0M658 92h0M650 88h0M652 84h0M667 77h0M660 78h0M660 75h0M661 96h0M661 94h0M662 79h0M666 97h0M654 95h0M662 92h0M658 88h0M661 80h0M658 88h0M661 90h0M655 99h0M666 95h0M651 208h0M643 216h0M657 211h0M643 223h0M660 207h0M655 220h0M640 215h0M640 209h0M639 217h0M662 212h0M637 218h0M656 221h0M648 213h0M644 218h0M653 217h0M656 213h0M654 210h0M664 208h0M655 208h0M644 205h0M650 214h0M648 216h0M639 217h0M653 210h0M660 212h0M657 218h0M649 216h0M649 217h0M655 210h0M656 221h0M642 222h0M648 217h0M649 214h0M646 213h0M637 217h0M655 211h0M649 220h0M655 206h0M655 215h0M653 222h0M643 208h0M640 211h0M641 220h0M650 220h0M663 207h0M648 209h0M653 217h0M655 212h0M645 208h0M645 218h0" stroke="#90d743" stroke-width="2.4" stroke-linecap="round" opacity="0.9" fill="none"/>
<path transform="scale(0.5)" d="M567 124h0M652 88h0M658 85h0M654 84h0M658 92h0M651 94h0M647 212h0M648 223h0M650 223h0M639 215h0M651 211h0M656 210h0M640 214h0" stroke="#c8e020" stroke-width="2.4" stroke-linecap="round" opacity="0.9" fill="none"/>
<defs><linearGradient id="vir1" x1="0" y1="0" x2="0" y2="1"><stop offset="0" stop-color="#fde725"/><stop offset="0.1" stop-color="#bddf26"/><stop offset="0.2" stop-color="#7ad151"/><stop offset="0.3" stop-color="#44bf70"/><stop offset="0.4" stop-color="#22a884"/><stop offset="0.5" stop-color="#21918c"/><stop offset="0.6" stop-color="#2a788e"/><stop offset="0.7" stop-color="#355f8d"/><stop offset="0.8" stop-color="#414487"/><stop offset="0.9" stop-color="#482475"/><stop offset="1" stop-color="#440154"/></linearGradient></defs>
<rect x="363.9" y="29.5" width="4.1" height="87" fill="url(#vir1)" stroke="#3a3a3a" stroke-opacity="0.45" stroke-width="0.5"/>
<line x1="368" y1="48.2" x2="370.5" y2="48.2" stroke="#231f20" stroke-width="0.9"/>
<text x="372.5" y="50.4" font-size="6.3" fill="#231f20" stroke="#231f20" stroke-width="0.1">300</text>
<line x1="368" y1="70.8" x2="370.5" y2="70.8" stroke="#231f20" stroke-width="0.9"/>
<text x="372.5" y="73" font-size="6.3" fill="#231f20" stroke="#231f20" stroke-width="0.1">200</text>
<line x1="368" y1="93.5" x2="370.5" y2="93.5" stroke="#231f20" stroke-width="0.9"/>
<text x="372.5" y="95.7" font-size="6.3" fill="#231f20" stroke="#231f20" stroke-width="0.1">100</text>
<text x="316.6" y="126.9" font-size="8.2" text-anchor="middle" fill="#231f20" textLength="22.1" lengthAdjust="spacingAndGlyphs" stroke="#231f20" stroke-width="0.1">UMAP1</text>
<text x="0" y="0" font-size="8.2" fill="#231f20" stroke="#231f20" stroke-width="0.1" text-anchor="middle" textLength="22.3" lengthAdjust="spacingAndGlyphs" transform="translate(267.9 73) rotate(-90)">UMAP2</text>
<rect x="405.4" y="29.5" width="89" height="86.7" fill="#fff" stroke="#231f20" stroke-width="1"/>
<path transform="scale(0.5)" d="M920 150h0M928 154h0M918 165h0M915 151h0M920 155h0M920 173h0M926 177h0M932 166h0M913 155h0M933 164h0M932 171h0M937 171h0M912 158h0M918 152h0M924 150h0M923 182h0" stroke="#440154" stroke-width="2" stroke-linecap="round" opacity="0.9" fill="none"/>
<path transform="scale(0.5)" d="M885 131h0M886 139h0M900 127h0" stroke="#440154" stroke-width="2.2" stroke-linecap="round" opacity="0.9" fill="none"/>
<path transform="scale(0.5)" d="M843 174h0M863 182h0M855 145h0M888 148h0M832 135h0M878 150h0M830 143h0M860 141h0M846 115h0M872 178h0M849 124h0M829 118h0M827 142h0M853 183h0M839 158h0M836 138h0M864 181h0M857 142h0M888 157h0M862 164h0M851 138h0M849 132h0M855 128h0M835 153h0M878 162h0M886 172h0M859 156h0M861 183h0M887 146h0M838 164h0M882 155h0M865 135h0M855 147h0M862 140h0M869 176h0M838 141h0M864 165h0M841 152h0M868 180h0M865 138h0M826 127h0M857 136h0M839 148h0M826 147h0M866 143h0M829 138h0M882 151h0M860 160h0M884 133h0M864 125h0M852 146h0M876 177h0M836 126h0M835 115h0M848 132h0M850 113h0M844 168h0M868 144h0M886 170h0M887 161h0M851 117h0M869 162h0M825 124h0M873 137h0M843 177h0M841 135h0M835 157h0M867 169h0M867 176h0M851 146h0M852 170h0M888 158h0M878 168h0M839 115h0M847 128h0M850 151h0M888 177h0M872 157h0M844 159h0M876 178h0M871 177h0M839 165h0M828 134h0M865 171h0M839 164h0M844 179h0M855 152h0M849 114h0M834 165h0M848 114h0M854 155h0M858 162h0M836 139h0M850 130h0M859 151h0M874 151h0M839 170h0M856 140h0M839 129h0M844 140h0M871 147h0M821 129h0M874 169h0M850 175h0M860 181h0M887 149h0M854 162h0M878 168h0M874 154h0M824 122h0M829 147h0M884 159h0M875 178h0M856 179h0M854 180h0M875 127h0M871 177h0M885 145h0M849 166h0M884 164h0M835 121h0M870 177h0M841 131h0M870 158h0M865 141h0M859 142h0M846 142h0M842 124h0M864 168h0M843 131h0M844 174h0M845 154h0M867 163h0M855 149h0M827 133h0M840 124h0M889 158h0M824 134h0M864 154h0M838 137h0M861 176h0M827 141h0M868 153h0M876 176h0M842 135h0M872 146h0M862 155h0M839 146h0M866 157h0M842 163h0M855 169h0M856 118h0M852 144h0M854 126h0M880 143h0M881 180h0M841 123h0M854 113h0M845 170h0M873 141h0M867 147h0M878 155h0M865 151h0M854 138h0M865 162h0M826 145h0M851 140h0M858 131h0M854 182h0M858 178h0M844 125h0M822 118h0M839 120h0M870 164h0M855 170h0M845 168h0M877 157h0M875 174h0M831 118h0M826 122h0M882 133h0M871 127h0M835 138h0M850 152h0M884 175h0M879 147h0M849 159h0M853 161h0M841 132h0M884 148h0M834 118h0M857 181h0M853 143h0M851 132h0M863 131h0M884 154h0M870 146h0M887 156h0M854 171h0M856 124h0M853 124h0M887 152h0M861 134h0M842 162h0M833 154h0M845 166h0M860 136h0M842 170h0M879 164h0M863 178h0M850 133h0M869 130h0M851 127h0M851 153h0M849 169h0M874 164h0M845 115h0M859 135h0M872 142h0M851 159h0M867 142h0M848 183h0M866 127h0M843 174h0M863 149h0M878 155h0M845 124h0M826 122h0M868 172h0M880 171h0M888 158h0M829 150h0M846 159h0M840 122h0M857 150h0M876 144h0M855 175h0M886 175h0M857 126h0M867 136h0M860 162h0M825 135h0M852 180h0M837 137h0M823 128h0M839 133h0M866 167h0M840 159h0M849 175h0M870 156h0M822 121h0M875 129h0M875 168h0M838 135h0M833 147h0M873 163h0M845 159h0M844 178h0M849 119h0M870 131h0M866 149h0M890 170h0M840 132h0M881 147h0M835 119h0M830 140h0M845 175h0M871 165h0M859 121h0M846 167h0M860 128h0M836 124h0M868 156h0M875 170h0M836 141h0M855 141h0M879 160h0M867 132h0M852 167h0M852 121h0M891 163h0M841 145h0M885 177h0M832 156h0M884 174h0M844 122h0M865 156h0M883 161h0M822 117h0M857 155h0M860 137h0M841 157h0M860 135h0M822 130h0M876 171h0M854 178h0M841 175h0M860 116h0M850 159h0M840 140h0M845 133h0M863 170h0M881 162h0M889 152h0M835 146h0M843 124h0M842 165h0M836 153h0M881 153h0M845 168h0M836 124h0M857 127h0M852 145h0M848 138h0M848 115h0M880 149h0M835 149h0M844 124h0M846 117h0M828 125h0M884 154h0M833 114h0M886 156h0M846 125h0M860 123h0M867 160h0M842 146h0M868 132h0M839 137h0M880 134h0M858 185h0M876 175h0M863 168h0M859 184h0M886 156h0M878 156h0M865 170h0M857 150h0M842 128h0M860 147h0M830 141h0M889 164h0M849 159h0M850 117h0M864 128h0M843 171h0M874 167h0M855 158h0M879 127h0M851 148h0M827 132h0M849 166h0M833 127h0M822 114h0M864 160h0M830 155h0M854 126h0M864 146h0M842 176h0M856 128h0M851 151h0M866 142h0M888 176h0M881 147h0M848 147h0M825 119h0M844 131h0M826 124h0M866 165h0M844 132h0M848 120h0M831 117h0M844 117h0M835 120h0M839 133h0M872 135h0M852 144h0M839 116h0M851 145h0M853 171h0M829 117h0M845 162h0M842 141h0M821 137h0M838 161h0M863 136h0M880 132h0M830 129h0M863 159h0M842 114h0M888 149h0M882 175h0M848 161h0M854 178h0M862 136h0M843 139h0M846 115h0M861 131h0M868 140h0M875 158h0M849 180h0M857 164h0M860 156h0M887 147h0M858 152h0M832 136h0M846 171h0M872 166h0M849 144h0M890 131h0M853 184h0M869 172h0M850 127h0M886 144h0M892 129h0M867 135h0M859 152h0M834 160h0M824 126h0M826 125h0M857 178h0M848 156h0M886 162h0M837 156h0M869 139h0M856 115h0M838 162h0M860 148h0M850 136h0M840 144h0M844 151h0M858 151h0M881 166h0M838 116h0M860 161h0M842 160h0M850 175h0M886 126h0M845 142h0M875 172h0M867 135h0M834 145h0M839 122h0M838 160h0M865 162h0M830 120h0M882 159h0M855 180h0M879 150h0M883 175h0M889 131h0M848 152h0M843 172h0M838 159h0M863 158h0M890 160h0M885 176h0M883 152h0M877 148h0M856 162h0M852 116h0M854 173h0M847 121h0M853 169h0M829 116h0M827 142h0M840 126h0M860 143h0M852 161h0M877 165h0M850 143h0M860 153h0M884 146h0M826 118h0M871 125h0M847 138h0M891 168h0M831 143h0M869 147h0M833 151h0M834 135h0M841 134h0M851 153h0M828 148h0M857 175h0M834 166h0M882 146h0M881 175h0M875 168h0M846 158h0M834 164h0M879 161h0M890 128h0M860 148h0M864 126h0M859 133h0M878 173h0M846 172h0M870 162h0M867 151h0M841 174h0M858 185h0M861 175h0M827 129h0M879 170h0M840 150h0M853 133h0M823 138h0M890 160h0M882 140h0M884 171h0M835 133h0M876 182h0M877 182h0M822 139h0M834 128h0M846 134h0M831 140h0M857 141h0M856 131h0M864 170h0M851 139h0M852 121h0M842 131h0M881 163h0M854 122h0M877 152h0M831 153h0M828 124h0M890 164h0M839 156h0M827 116h0M880 165h0M880 146h0M861 158h0M884 180h0M856 119h0M830 144h0M856 152h0M828 128h0M821 129h0M860 184h0M851 156h0M870 171h0M873 135h0M857 114h0M860 134h0M833 164h0M843 145h0M858 161h0M839 142h0M831 153h0M883 153h0M843 148h0M855 185h0M831 119h0M865 150h0M835 167h0M878 146h0M852 144h0M877 160h0M867 158h0M867 132h0M847 137h0M881 169h0M864 181h0M847 160h0M851 138h0M860 147h0M842 124h0M861 146h0M860 128h0M840 115h0M860 179h0M856 185h0M885 163h0M869 158h0M862 156h0M875 137h0M854 133h0M873 160h0M839 123h0M833 141h0M873 143h0M850 155h0M827 144h0M822 125h0M829 150h0M841 119h0M845 140h0M888 166h0M868 178h0M844 162h0M889 155h0M841 142h0M862 159h0M844 128h0M864 179h0M840 127h0M823 114h0M918 90h0M935 90h0M929 80h0M925 104h0M928 82h0M916 92h0M921 94h0M917 83h0M922 90h0M923 101h0M921 94h0M933 75h0M930 91h0M933 74h0M921 79h0M920 98h0M928 140h0M934 141h0M927 77h0M921 102h0M937 143h0M920 96h0M926 82h0M936 154h0M918 97h0M932 72h0M920 92h0M933 88h0M915 106h0M935 149h0M933 101h0M926 79h0M922 93h0M925 94h0M932 104h0M919 97h0M933 86h0M924 104h0M924 90h0M934 103h0M916 96h0M941 161h0M924 88h0M927 88h0M949 174h0M930 103h0M941 155h0M934 77h0M942 150h0M931 195h0M901 189h0M900 187h0M910 203h0M902 210h0M908 211h0M909 210h0M911 199h0M910 212h0M914 218h0M896 196h0M901 210h0M912 208h0M897 196h0M901 212h0M902 201h0M924 220h0M892 199h0M891 193h0M913 196h0M898 205h0M895 200h0M894 205h0M921 217h0M906 205h0M891 202h0M914 208h0M901 184h0M890 199h0M897 200h0M891 197h0M898 198h0M921 211h0M910 202h0M919 179h0M924 208h0M894 192h0M919 200h0M919 222h0M922 182h0M906 213h0M906 210h0M912 211h0M898 193h0M912 211h0M922 200h0M893 198h0M898 205h0M896 200h0M899 185h0M893 203h0M914 191h0M899 192h0M917 191h0M898 205h0M914 221h0M900 208h0M901 189h0M914 197h0M899 213h0M919 219h0M899 197h0M890 200h0M920 179h0M895 196h0M914 189h0M895 201h0M903 199h0M898 205h0M903 205h0M919 208h0M926 210h0M901 199h0M905 210h0M897 211h0M916 219h0M900 211h0M902 208h0M928 209h0M927 207h0M919 219h0M894 207h0M914 185h0M902 201h0M910 202h0M915 202h0M901 207h0M895 204h0M908 211h0M907 132h0M913 132h0M903 151h0M904 149h0M903 151h0M904 133h0M910 146h0M904 137h0M912 149h0M904 148h0M913 137h0M911 149h0M911 151h0M914 145h0M904 144h0M901 144h0M915 141h0M899 138h0M906 149h0M910 141h0M910 134h0M903 142h0M915 139h0M905 141h0M910 132h0M905 140h0M905 139h0M916 144h0M905 150h0M913 145h0M902 134h0M915 141h0M906 143h0M904 141h0M915 147h0M905 134h0M910 145h0M906 135h0M904 146h0M912 148h0M900 144h0M911 150h0M911 142h0M909 153h0M904 151h0M916 144h0M907 137h0M910 137h0M910 140h0" stroke="#440154" stroke-width="2.4" stroke-linecap="round" opacity="0.9" fill="none"/>
<path transform="scale(0.5)" d="M925 161h0M922 165h0M930 155h0M930 179h0M935 176h0M918 167h0M933 164h0M923 158h0M924 172h0M920 167h0M924 171h0M918 179h0M925 167h0M913 154h0M920 150h0M931 175h0M923 181h0M921 167h0M934 163h0M932 163h0M920 156h0M924 182h0M935 168h0M918 170h0M922 149h0M929 162h0M924 182h0M931 162h0M928 184h0M912 157h0M923 181h0M928 153h0M916 156h0M921 147h0M929 172h0M924 168h0" stroke="#481f70" stroke-width="2" stroke-linecap="round" opacity="0.9" fill="none"/>
<path transform="scale(0.5)" d="M883 132h0M894 127h0M885 139h0M893 134h0M893 135h0M886 131h0M885 138h0M880 127h0M881 134h0M901 126h0M882 126h0M883 127h0M882 131h0M894 126h0M886 134h0M883 127h0M895 128h0M888 131h0M893 130h0M893 134h0" stroke="#481f70" stroke-width="2.2" stroke-linecap="round" opacity="0.9" fill="none"/>
<path transform="scale(0.5)" d="M853 118h0M859 134h0M879 153h0M868 166h0M849 178h0M878 167h0M825 140h0M891 167h0M886 135h0M860 120h0M848 121h0M843 133h0M844 134h0M881 168h0M835 165h0M847 152h0M853 138h0M825 146h0M837 169h0M880 178h0M828 133h0M842 121h0M890 161h0M851 143h0M880 171h0M841 143h0M870 137h0M880 137h0M852 157h0M835 138h0M844 119h0M888 176h0M870 151h0M882 131h0M851 137h0M841 157h0M881 154h0M877 127h0M884 162h0M850 171h0M887 172h0M828 139h0M877 164h0M848 140h0M867 168h0M854 175h0M865 130h0M853 173h0M860 175h0M871 150h0M840 127h0M872 134h0M884 161h0M848 115h0M870 158h0M869 144h0M858 149h0M850 144h0M830 145h0M825 134h0M868 137h0M831 156h0M880 154h0M889 148h0M843 142h0M884 147h0M842 169h0M876 134h0M822 121h0M829 141h0M841 148h0M878 135h0M882 148h0M848 152h0M839 125h0M823 115h0M826 144h0M834 160h0M888 169h0M833 152h0M862 160h0M854 184h0M838 161h0M841 160h0M869 173h0M843 137h0M849 152h0M884 164h0M867 163h0M888 155h0M851 171h0M848 114h0M822 128h0M881 164h0M881 134h0M852 151h0M823 128h0M883 170h0M852 158h0M842 127h0M847 144h0M851 168h0M883 159h0M839 163h0M842 162h0M848 159h0M871 163h0M863 133h0M880 179h0M869 170h0M845 179h0M875 176h0M851 117h0M884 136h0M852 150h0M842 166h0M849 147h0M871 181h0M875 163h0M844 165h0M835 144h0M864 157h0M839 131h0M825 129h0M872 131h0M842 161h0M855 156h0M835 116h0M862 169h0M870 167h0M840 129h0M889 156h0M834 116h0M837 167h0M884 139h0M834 164h0M849 178h0M856 129h0M865 160h0M880 177h0M853 150h0M851 123h0M859 179h0M843 152h0M859 136h0M864 162h0M845 139h0M868 133h0M893 130h0M860 170h0M848 125h0M843 134h0M869 155h0M874 146h0M846 144h0M877 151h0M858 144h0M845 159h0M855 135h0M885 157h0M837 167h0M837 148h0M882 159h0M839 144h0M870 139h0M843 143h0M884 142h0M845 121h0M853 120h0M837 137h0M829 127h0M878 129h0M853 148h0M855 152h0M847 124h0M847 134h0M871 169h0M842 161h0M881 127h0M853 166h0M837 122h0M877 135h0M856 164h0M869 176h0M889 131h0M877 158h0M874 152h0M874 170h0M840 122h0M870 132h0M856 149h0M854 143h0M880 177h0M848 135h0M869 149h0M855 167h0M862 140h0M858 158h0M860 165h0M874 151h0M844 173h0M867 149h0M857 174h0M880 165h0M841 117h0M887 132h0M845 123h0M822 131h0M840 123h0M864 181h0M852 143h0M861 126h0M853 139h0M869 164h0M851 126h0M866 144h0M842 140h0M860 168h0M841 146h0M880 167h0M859 142h0M850 130h0M842 127h0M887 154h0M856 125h0M868 126h0M881 126h0M864 159h0M874 161h0M885 163h0M889 153h0M836 165h0M850 181h0M879 160h0M870 143h0M857 119h0M856 178h0M856 171h0M870 175h0M875 153h0M885 144h0M857 169h0M853 162h0M882 159h0M845 165h0M866 148h0M880 181h0M858 148h0M879 152h0M885 156h0M860 151h0M880 132h0M842 138h0M881 126h0M869 172h0M877 172h0M888 151h0M854 136h0M848 147h0M840 143h0M859 161h0M873 151h0M846 160h0M834 152h0M827 116h0M849 153h0M887 127h0M885 127h0M855 174h0M881 159h0M836 121h0M847 170h0M873 130h0M837 117h0M885 157h0M858 132h0M853 115h0M865 159h0M822 119h0M832 115h0M883 157h0M830 135h0M842 127h0M866 156h0M884 165h0M836 141h0M833 148h0M847 149h0M845 116h0M849 172h0M860 133h0M831 115h0M883 158h0M830 116h0M841 137h0M894 129h0M867 133h0M860 135h0M855 144h0M870 165h0M837 149h0M844 133h0M871 180h0M852 171h0M854 184h0M854 169h0M866 161h0M837 167h0M827 114h0M876 148h0M852 148h0M873 153h0M883 130h0M886 157h0M860 162h0M873 154h0M863 153h0M872 178h0M850 157h0M832 133h0M886 143h0M854 119h0M861 162h0M853 151h0M825 146h0M832 138h0M895 128h0M887 153h0M827 145h0M826 118h0M885 143h0M857 178h0M847 175h0M854 162h0M869 157h0M865 134h0M869 129h0M841 158h0M841 134h0M851 170h0M854 118h0M825 116h0M868 165h0M848 120h0M887 147h0M882 127h0M847 125h0M839 171h0M836 128h0M872 155h0M857 150h0M824 138h0M858 150h0M838 172h0M849 154h0M859 119h0M856 148h0M879 174h0M839 136h0M828 131h0M873 171h0M874 180h0M882 149h0M872 126h0M855 154h0M887 165h0M875 172h0M834 147h0M847 123h0M836 122h0M872 155h0M880 159h0M841 174h0M826 122h0M888 150h0M838 157h0M860 174h0M872 155h0M846 132h0M834 144h0M828 137h0M873 155h0M857 128h0M848 116h0M868 169h0M837 156h0M843 163h0M862 147h0M839 167h0M850 140h0M831 137h0M853 126h0M878 135h0M830 136h0M847 117h0M855 184h0M879 154h0M839 154h0M884 158h0M859 157h0M850 121h0M832 143h0M824 124h0M853 157h0M886 160h0M876 151h0M848 169h0M868 176h0M876 152h0M861 133h0M867 165h0M883 143h0M863 148h0M868 165h0M839 175h0M847 155h0M859 131h0M863 153h0M850 130h0M845 135h0M858 118h0M871 175h0M880 159h0M865 128h0M869 171h0M854 164h0M855 151h0M882 158h0M824 143h0M884 179h0M840 117h0M850 123h0M841 127h0M844 140h0M859 125h0M847 135h0M843 115h0M889 153h0M854 166h0M854 130h0M852 174h0M849 169h0M861 176h0M850 134h0M844 155h0M846 173h0M848 156h0M877 176h0M859 126h0M859 140h0M851 124h0M857 176h0M829 134h0M885 176h0M847 176h0M866 142h0M885 145h0M872 167h0M839 161h0M852 117h0M861 165h0M889 166h0M833 152h0M873 139h0M842 165h0M826 130h0M871 167h0M871 165h0M858 140h0M870 157h0M853 137h0M875 160h0M883 148h0M844 119h0M845 129h0M889 143h0M871 178h0M862 158h0M828 119h0M875 176h0M822 130h0M882 158h0M855 182h0M857 182h0M886 163h0M859 177h0M822 121h0M848 116h0M859 128h0M866 140h0M839 118h0M889 140h0M845 179h0M869 177h0M837 148h0M847 161h0M885 144h0M864 147h0M841 143h0M879 156h0M852 148h0M842 122h0M856 128h0M870 171h0M877 145h0M887 126h0M843 159h0M879 179h0M841 173h0M822 123h0M847 144h0M870 157h0M850 136h0M883 154h0M863 137h0M835 125h0M858 138h0M888 173h0M844 147h0M861 180h0M843 162h0M858 122h0M874 150h0M866 142h0M862 173h0M873 139h0M856 151h0M851 168h0M834 153h0M835 167h0M872 153h0M874 157h0M882 179h0M878 162h0M886 150h0M829 144h0M832 113h0M834 137h0M833 153h0M851 156h0M882 151h0M857 148h0M852 154h0M834 146h0M841 158h0M857 158h0M837 133h0M885 155h0M843 116h0M839 129h0M865 148h0M836 115h0M835 138h0M864 168h0M862 129h0M842 162h0M848 147h0M858 157h0M869 166h0M888 177h0M865 151h0M859 159h0M870 126h0M879 174h0M858 125h0M831 158h0M860 177h0M822 122h0M847 155h0M828 126h0M848 169h0M842 162h0M862 141h0M842 120h0M853 160h0M853 125h0M842 155h0M865 175h0M847 166h0M866 147h0M872 129h0M862 182h0M821 122h0M861 128h0M862 130h0M883 156h0M876 142h0M886 147h0M850 164h0M859 135h0M828 142h0M850 156h0M881 165h0M887 149h0M833 160h0M870 144h0M838 121h0M863 170h0M867 140h0M826 138h0M840 133h0M859 166h0M866 166h0M862 148h0M863 148h0M857 133h0M882 169h0M841 131h0M876 162h0M852 159h0M875 137h0M835 133h0M861 136h0M825 131h0M852 182h0M863 139h0M851 142h0M862 136h0M848 148h0M885 167h0M841 122h0M880 125h0M882 164h0M878 177h0M833 120h0M848 131h0M851 114h0M829 150h0M859 182h0M827 124h0M834 151h0M876 125h0M857 169h0M879 137h0M868 162h0M875 131h0M879 140h0M843 126h0M860 132h0M879 178h0M882 162h0M832 156h0M850 165h0M869 137h0M823 120h0M864 125h0M861 178h0M840 129h0M853 128h0M846 167h0M840 113h0M857 171h0M857 142h0M837 129h0M838 123h0M828 120h0M873 181h0M885 167h0M824 123h0M824 134h0M848 152h0M854 127h0M866 147h0M827 139h0M857 165h0M867 137h0M849 137h0M881 166h0M881 162h0M833 164h0M875 155h0M842 165h0M830 137h0M844 120h0M852 173h0M880 141h0M845 144h0M849 124h0M831 127h0M838 123h0M888 135h0M848 136h0M836 156h0M861 181h0M859 116h0M843 152h0M852 181h0M858 136h0M853 160h0M829 124h0M853 164h0M846 179h0M879 127h0M862 170h0M831 123h0M860 162h0M851 169h0M881 175h0M882 145h0M844 159h0M887 167h0M844 127h0M888 150h0M872 141h0M850 138h0M838 171h0M827 146h0M846 132h0M849 145h0M856 167h0M831 115h0M861 177h0M847 172h0M869 158h0M833 149h0M867 153h0M859 150h0M853 141h0M850 154h0M884 178h0M852 136h0M860 174h0M877 148h0M825 143h0M827 148h0M857 175h0M872 166h0M841 165h0M845 134h0M865 157h0M835 115h0M867 138h0M871 175h0M883 168h0M876 137h0M875 127h0M826 122h0M886 172h0M870 136h0M822 115h0M858 179h0M836 138h0M863 152h0M874 146h0M850 114h0M878 147h0M857 134h0M832 151h0M842 140h0M869 135h0M841 162h0M826 130h0M858 185h0M876 160h0M886 132h0M851 147h0M857 173h0M832 135h0M846 124h0M860 121h0M882 155h0M863 141h0M882 176h0M878 171h0M879 155h0M850 128h0M853 174h0M835 167h0M869 150h0M866 180h0M828 147h0M867 147h0M846 119h0M854 145h0M858 134h0M916 99h0M930 99h0M932 90h0M929 98h0M927 81h0M924 90h0M942 148h0M923 82h0M930 75h0M933 70h0M924 91h0M926 99h0M924 77h0M933 142h0M938 143h0M918 88h0M929 86h0M935 147h0M917 104h0M920 91h0M929 105h0M934 103h0M936 147h0M926 99h0M919 91h0M920 87h0M927 105h0M931 78h0M937 147h0M937 149h0M935 75h0M928 93h0M917 105h0M928 100h0M918 94h0M937 146h0M923 92h0M935 106h0M915 99h0M925 83h0M927 74h0M931 142h0M932 86h0M937 145h0M926 87h0M940 141h0M916 87h0M934 100h0M940 146h0M920 106h0M922 101h0M939 140h0M918 101h0M926 83h0M932 147h0M922 96h0M927 77h0M919 98h0M916 102h0M926 82h0M945 162h0M932 77h0M920 81h0M920 80h0M923 89h0M933 70h0M927 97h0M920 103h0M931 91h0M934 71h0M924 97h0M928 86h0M919 87h0M930 104h0M932 92h0M928 103h0M918 92h0M923 85h0M929 91h0M932 82h0M935 141h0M919 85h0M916 103h0M936 140h0M917 103h0M938 154h0M921 90h0M935 104h0M932 149h0M925 98h0M922 82h0M923 100h0M923 81h0M927 84h0M929 102h0M922 105h0M928 73h0M936 147h0M924 104h0M926 78h0M924 81h0M931 92h0M925 77h0M933 91h0M941 143h0M920 79h0M930 143h0M926 80h0M932 105h0M933 90h0M928 101h0M933 83h0M932 144h0M933 145h0M916 107h0M929 81h0M929 98h0M950 176h0M937 145h0M918 106h0M930 80h0M922 98h0M933 82h0M922 103h0M927 81h0M922 96h0M930 96h0M948 176h0M923 106h0M930 89h0M928 96h0M929 76h0M929 80h0M922 107h0M932 143h0M921 97h0M931 99h0M921 102h0M931 106h0M926 100h0M933 101h0M942 162h0M922 98h0M932 150h0M925 139h0M932 88h0M927 75h0M923 98h0M938 141h0M934 100h0M927 100h0M942 146h0M924 99h0M918 98h0M931 203h0M927 192h0M920 215h0M905 208h0M922 187h0M908 217h0M894 190h0M889 200h0M931 202h0M920 186h0M931 210h0M916 185h0M913 189h0M929 195h0M911 218h0M910 187h0M902 206h0M918 195h0M926 217h0M921 211h0M903 196h0M924 213h0M901 193h0M920 183h0M918 197h0M903 199h0M908 205h0M914 180h0M896 198h0M917 182h0M920 214h0M928 200h0M910 210h0M905 194h0M919 207h0M903 209h0M899 192h0M916 216h0M903 202h0M924 190h0M899 206h0M908 191h0M907 209h0M903 194h0M924 197h0M915 201h0M912 214h0M916 190h0M917 222h0M909 180h0M890 194h0M895 196h0M899 205h0M898 190h0M929 199h0M897 201h0M923 202h0M922 181h0M891 201h0M926 189h0M908 208h0M901 199h0M923 190h0M898 207h0M923 198h0M917 206h0M919 214h0M890 202h0M924 203h0M896 191h0M909 221h0M921 217h0M891 201h0M903 212h0M914 180h0M924 208h0M921 221h0M905 192h0M897 195h0M916 192h0M902 208h0M901 196h0M901 193h0M923 207h0M923 189h0M917 201h0M926 214h0M891 193h0M922 181h0M924 214h0M893 199h0M903 216h0M921 219h0M907 199h0M913 181h0M913 180h0M894 190h0M900 195h0M909 213h0M911 182h0M926 185h0M904 213h0M911 187h0M893 191h0M928 190h0M909 183h0M914 189h0M922 191h0M918 219h0M907 216h0M911 196h0M921 186h0M919 212h0M892 197h0M903 183h0M904 207h0M929 194h0M914 213h0M898 195h0M927 214h0M909 213h0M916 189h0M927 206h0M912 195h0M921 207h0M895 190h0M898 205h0M906 215h0M899 191h0M915 183h0M920 200h0M907 193h0M892 199h0M910 184h0M906 187h0M915 181h0M894 202h0M932 197h0M906 218h0M910 210h0M919 182h0M898 196h0M892 203h0M930 191h0M921 210h0M907 219h0M918 216h0M921 188h0M909 183h0M907 184h0M910 202h0M915 211h0M901 203h0M914 141h0M904 144h0M903 148h0M906 134h0M906 144h0M904 148h0M904 138h0M913 148h0M903 144h0M904 133h0M906 151h0M902 149h0M906 152h0M910 146h0M904 134h0M906 133h0M909 141h0M904 146h0M912 152h0M904 146h0M902 143h0M911 131h0M907 149h0M908 140h0M905 134h0M908 134h0M909 142h0M912 153h0M905 139h0M901 145h0M911 133h0M904 138h0M902 145h0M908 148h0M907 143h0M899 142h0M914 150h0M903 153h0M912 143h0M909 133h0M913 135h0M910 134h0M910 151h0M907 137h0M913 148h0M906 132h0M909 152h0M906 146h0M907 143h0" stroke="#481f70" stroke-width="2.4" stroke-linecap="round" opacity="0.9" fill="none"/>
<path transform="scale(0.5)" d="M922 178h0M927 178h0M915 175h0M918 172h0M922 152h0M913 163h0M930 185h0M914 169h0M915 161h0M930 184h0M917 158h0M930 182h0M921 176h0M922 150h0M924 169h0M922 168h0M927 167h0M928 165h0" stroke="#443983" stroke-width="2" stroke-linecap="round" opacity="0.9" fill="none"/>
<path transform="scale(0.5)" d="M881 134h0M901 127h0M890 131h0M886 133h0M883 136h0M883 140h0M892 129h0M886 126h0M886 129h0M880 127h0M900 127h0M888 136h0M888 127h0M887 129h0M886 133h0M889 126h0" stroke="#443983" stroke-width="2.2" stroke-linecap="round" opacity="0.9" fill="none"/>
<path transform="scale(0.5)" d="M852 167h0M886 149h0M875 168h0M851 147h0M830 130h0M863 144h0M823 136h0M835 138h0M881 160h0M851 164h0M841 120h0M876 132h0M877 127h0M852 139h0M868 139h0M870 139h0M852 137h0M870 176h0M829 121h0M843 167h0M847 161h0M885 176h0M845 172h0M866 170h0M861 171h0M885 154h0M856 145h0M836 154h0M842 157h0M843 133h0M830 146h0M849 145h0M886 178h0M878 173h0M858 144h0M859 121h0M856 178h0M887 127h0M840 144h0M841 157h0M849 153h0M863 166h0M867 150h0M856 122h0M853 113h0M850 138h0M884 136h0M888 165h0M879 128h0M836 162h0M842 174h0M836 163h0M825 138h0M880 128h0M857 122h0M883 138h0M823 136h0M824 121h0M832 132h0M848 177h0M837 125h0M878 148h0M888 136h0M833 119h0M855 173h0M855 144h0M871 175h0M851 145h0M831 118h0M888 162h0M890 172h0M881 181h0M870 161h0M847 151h0M829 116h0M835 148h0M847 121h0M827 117h0M850 147h0M849 168h0M887 176h0M881 159h0M825 117h0M873 160h0M889 125h0M858 164h0M863 168h0M846 178h0M876 139h0M823 118h0M848 170h0M844 170h0M852 172h0M826 148h0M862 139h0M876 161h0M861 173h0M851 166h0M828 128h0M846 134h0M847 151h0M839 114h0M837 115h0M837 156h0M847 130h0M888 132h0M867 152h0M846 176h0M859 137h0M841 153h0M872 148h0M864 169h0M863 125h0M853 140h0M881 138h0M881 128h0M848 120h0M882 126h0M830 136h0M857 181h0M851 163h0M837 161h0M852 119h0M851 118h0M854 165h0M844 179h0M874 153h0M863 178h0M884 144h0M850 133h0M880 169h0M841 171h0M882 140h0M860 147h0M874 129h0M839 139h0M885 143h0M834 161h0M886 157h0M828 122h0M862 136h0M868 148h0M871 131h0M887 136h0M853 158h0M861 156h0M834 142h0M845 152h0M861 142h0M831 143h0M840 127h0M891 130h0M859 179h0M878 139h0M871 152h0M872 150h0M841 120h0M849 125h0M853 183h0M840 161h0M836 154h0M854 135h0M874 147h0M858 148h0M838 137h0M860 152h0M843 116h0M831 123h0M831 158h0M877 173h0M831 120h0M824 126h0M845 174h0M843 161h0M879 154h0M843 144h0M822 139h0M874 162h0M880 125h0M867 131h0M860 114h0M846 181h0M885 145h0M892 128h0M840 164h0M875 132h0M852 183h0M875 180h0M858 161h0M836 143h0M832 120h0M856 172h0M831 125h0M843 128h0M874 165h0M844 137h0M842 177h0M854 128h0M886 137h0M821 126h0M851 114h0M885 138h0M846 133h0M833 119h0M841 149h0M828 152h0M865 158h0M872 135h0M822 123h0M835 160h0M844 150h0M827 140h0M826 141h0M839 143h0M874 173h0M870 148h0M848 139h0M869 181h0M885 153h0M852 158h0M865 180h0M872 167h0M852 126h0M839 117h0M830 153h0M878 178h0M839 127h0M822 132h0M887 147h0M871 170h0M878 172h0M842 158h0M863 159h0M858 161h0M867 136h0M841 162h0M879 125h0M868 139h0M840 164h0M895 128h0M885 136h0M875 150h0M875 159h0M868 147h0M875 178h0M862 147h0M853 117h0M845 156h0M883 138h0M884 158h0M846 158h0M842 131h0M824 136h0M888 160h0M882 135h0M875 176h0M864 153h0M886 131h0M871 148h0M876 143h0M847 159h0M880 156h0M889 127h0M851 147h0M867 129h0M836 153h0M873 154h0M842 147h0M887 134h0M836 157h0M884 131h0M851 113h0M870 164h0M835 126h0M857 122h0M831 139h0M878 138h0M864 177h0M849 150h0M877 141h0M929 103h0M923 79h0M937 149h0M930 85h0M949 184h0M930 90h0M920 93h0M945 169h0M914 101h0M925 76h0M921 87h0M921 85h0M917 109h0M924 106h0M934 70h0M924 87h0M934 88h0M933 89h0M926 82h0M937 139h0M919 84h0M922 107h0M949 186h0M924 106h0M931 142h0M936 146h0M946 157h0M926 79h0M950 184h0M923 103h0M932 80h0M930 86h0M934 132h0M933 102h0M915 106h0M921 89h0M925 107h0M942 160h0M923 90h0M922 100h0M915 92h0M920 98h0M950 193h0M917 89h0M923 83h0M971 107h0M927 87h0M950 167h0M935 76h0M921 81h0M916 93h0M944 166h0M924 90h0M929 75h0M925 84h0M919 103h0M945 167h0M917 99h0M942 149h0M935 97h0M930 87h0M945 161h0M949 186h0M920 90h0M928 105h0M971 98h0M926 83h0M915 85h0M924 101h0M949 162h0M925 96h0M922 98h0M946 92h0M924 77h0M922 107h0M930 76h0M951 194h0M922 84h0M930 77h0M925 84h0M925 94h0M929 96h0M936 146h0M924 85h0M932 141h0M928 87h0M938 149h0M924 75h0M921 183h0M907 186h0M928 200h0M918 198h0M923 194h0M918 222h0M896 194h0M923 186h0M908 208h0M920 199h0M920 207h0M925 198h0M924 189h0M916 220h0M911 183h0M925 184h0M915 185h0M901 215h0M919 212h0M904 203h0M921 180h0M894 199h0M907 199h0M902 209h0M920 221h0M911 186h0M918 223h0M908 181h0M925 208h0M891 201h0M910 204h0M922 202h0M931 205h0M915 206h0M899 192h0M925 198h0M913 213h0M916 190h0M920 194h0M925 196h0M914 187h0M916 220h0M893 197h0M906 216h0M930 205h0M928 194h0M890 202h0M927 209h0M901 209h0M915 216h0M914 217h0M910 204h0M914 204h0M897 205h0M910 180h0M929 197h0M914 181h0M897 206h0M905 202h0M902 184h0M912 218h0M910 180h0M897 193h0M903 146h0M914 141h0M909 143h0M905 143h0M912 132h0M913 134h0M909 134h0M912 145h0M904 149h0M904 143h0M905 137h0M915 142h0M910 131h0" stroke="#443983" stroke-width="2.4" stroke-linecap="round" opacity="0.9" fill="none"/>
<path transform="scale(0.5)" d="M925 150h0M913 156h0" stroke="#3b528b" stroke-width="2" stroke-linecap="round" opacity="0.9" fill="none"/>
<path transform="scale(0.5)" d="M882 132h0M884 133h0" stroke="#3b528b" stroke-width="2.2" stroke-linecap="round" opacity="0.9" fill="none"/>
<path transform="scale(0.5)" d="M842 117h0M851 161h0M873 141h0M846 160h0M844 129h0M892 165h0M854 131h0M846 159h0M852 174h0M860 120h0M869 145h0M839 154h0M876 146h0M885 135h0M827 121h0M864 158h0M881 143h0M876 141h0M846 146h0M855 129h0M875 165h0M845 146h0M878 153h0M862 133h0M865 172h0M886 130h0M884 145h0M879 180h0M821 124h0M864 167h0M870 144h0M881 149h0M880 167h0M885 172h0M888 152h0M833 122h0M876 174h0M868 130h0M870 169h0M832 140h0M884 135h0M840 147h0M836 165h0M859 136h0M867 179h0M876 138h0M865 142h0M841 115h0M839 153h0M852 122h0M850 141h0M848 178h0M874 127h0M855 151h0M890 161h0M881 143h0M878 157h0M867 132h0M885 157h0M875 173h0M852 146h0M861 155h0M861 117h0M848 122h0M885 139h0M877 148h0M880 176h0M834 134h0M842 127h0M893 130h0M843 124h0M856 108h0M881 155h0M884 166h0M865 181h0M826 126h0M869 158h0M876 153h0M855 134h0M852 98h0M853 135h0M851 143h0M843 132h0M888 141h0M861 132h0M849 131h0M836 139h0M855 141h0M885 128h0M877 145h0M865 148h0M841 147h0M853 168h0M878 153h0M837 97h0M870 166h0M854 163h0M836 113h0M876 181h0M856 145h0M873 151h0M828 114h0M840 128h0M867 136h0M855 141h0M859 113h0M881 160h0M865 141h0M885 132h0M859 184h0M850 181h0M835 158h0M865 163h0M860 175h0M868 144h0M849 165h0M850 138h0M890 167h0M933 148h0M935 143h0M951 156h0M963 147h0M961 90h0M921 101h0M919 109h0M964 189h0M936 154h0M971 127h0M954 126h0M924 80h0M955 94h0M923 126h0M914 88h0M966 185h0M952 129h0M971 137h0M964 131h0M930 133h0M924 110h0M973 138h0M954 185h0M961 113h0M960 151h0M964 143h0M958 142h0M925 107h0M952 145h0M919 128h0M949 171h0M965 186h0M963 104h0M965 140h0M952 89h0M964 150h0M946 165h0M916 113h0M948 163h0M941 80h0M921 120h0M921 118h0M961 143h0M936 132h0M917 90h0M948 88h0M944 95h0M966 114h0M953 136h0M956 94h0M971 133h0M947 173h0M943 164h0M969 115h0M945 166h0M952 185h0M943 153h0M954 143h0M939 75h0M949 163h0M976 142h0M958 126h0M945 168h0M916 210h0M906 187h0M892 194h0M893 195h0M906 183h0M891 203h0M916 212h0M898 187h0M898 199h0M914 187h0M925 200h0M908 203h0M922 183h0M895 192h0M899 213h0M897 206h0M894 196h0M898 197h0M898 196h0M895 188h0M909 137h0M914 139h0M899 143h0M910 145h0M910 140h0" stroke="#3b528b" stroke-width="2.4" stroke-linecap="round" opacity="0.9" fill="none"/>
<path transform="scale(0.5)" d="M913 162h0M924 168h0M928 168h0M927 163h0M919 179h0M935 176h0M921 170h0M919 160h0M926 154h0" stroke="#31688e" stroke-width="2" stroke-linecap="round" opacity="0.9" fill="none"/>
<path transform="scale(0.5)" d="M883 137h0M892 135h0M890 134h0M883 128h0M895 129h0M879 131h0M890 129h0M889 134h0M890 134h0M880 131h0M892 136h0M890 135h0M887 127h0M896 126h0M883 135h0M891 129h0M891 138h0M900 127h0" stroke="#31688e" stroke-width="2.2" stroke-linecap="round" opacity="0.9" fill="none"/>
<path transform="scale(0.5)" d="M865 96h0M828 132h0M855 116h0M867 181h0M888 129h0M875 141h0M822 139h0M881 155h0M872 110h0M832 129h0M846 102h0M883 177h0M874 136h0M832 150h0M840 100h0M882 134h0M883 132h0M830 108h0M862 141h0M855 175h0M877 151h0M856 136h0M855 120h0M872 165h0M841 94h0M864 106h0M883 159h0M883 150h0M858 115h0M859 116h0M824 145h0M857 178h0M859 140h0M832 98h0M832 88h0M881 166h0M831 104h0M858 120h0M879 158h0M864 101h0M860 146h0M841 137h0M834 134h0M867 115h0M879 140h0M829 134h0M866 166h0M832 89h0M842 89h0M864 139h0M883 125h0M834 135h0M869 113h0M866 140h0M874 145h0M855 185h0M878 160h0M873 91h0M844 149h0M849 162h0M860 118h0M874 150h0M824 124h0M882 173h0M878 111h0M850 80h0M873 139h0M833 128h0M855 165h0M822 114h0M878 179h0M837 129h0M856 142h0M833 148h0M889 131h0M830 91h0M824 130h0M868 176h0M832 115h0M861 137h0M834 109h0M853 161h0M874 154h0M874 161h0M873 131h0M855 151h0M841 152h0M870 167h0M842 168h0M858 126h0M877 139h0M865 153h0M825 141h0M834 97h0M862 169h0M846 90h0M849 82h0M858 126h0M837 164h0M874 128h0M873 135h0M856 95h0M850 92h0M885 128h0M824 123h0M871 135h0M883 159h0M868 131h0M844 107h0M878 166h0M839 158h0M862 126h0M846 125h0M874 108h0M879 161h0M847 172h0M877 175h0M853 99h0M829 151h0M845 115h0M836 126h0M827 91h0M883 174h0M836 122h0M879 162h0M844 143h0M833 154h0M852 115h0M875 106h0M839 116h0M824 126h0M848 132h0M878 143h0M852 91h0M837 108h0M863 102h0M869 153h0M856 173h0M862 134h0M867 91h0M859 100h0M892 166h0M854 94h0M826 95h0M889 126h0M831 151h0M850 165h0M890 131h0M856 145h0M849 166h0M860 129h0M860 99h0M884 156h0M874 149h0M882 170h0M833 101h0M831 156h0M829 96h0M828 91h0M871 109h0M873 148h0M867 142h0M857 167h0M871 148h0M887 130h0M837 163h0M858 126h0M881 126h0M828 129h0M850 159h0M828 120h0M873 149h0M830 138h0M831 99h0M861 159h0M853 89h0M860 109h0M865 172h0M852 138h0M852 182h0M843 103h0M862 106h0M864 102h0M851 128h0M864 158h0M838 158h0M852 105h0M843 92h0M864 150h0M838 106h0M864 105h0M822 119h0M858 86h0M884 161h0M866 162h0M852 137h0M874 134h0M843 134h0M851 107h0M866 119h0M887 134h0M924 86h0M936 151h0M957 139h0M965 108h0M970 94h0M948 93h0M933 86h0M953 89h0M942 150h0M971 130h0M948 148h0M963 113h0M935 137h0M940 128h0M931 136h0M948 163h0M949 128h0M961 192h0M955 135h0M937 137h0M942 137h0M942 141h0M966 151h0M937 130h0M945 156h0M968 140h0M959 145h0M960 137h0M936 133h0M962 135h0M936 73h0M963 192h0M954 141h0M933 85h0M970 127h0M955 152h0M954 126h0M958 140h0M941 136h0M915 111h0M932 131h0M959 108h0M963 190h0M942 87h0M971 150h0M955 152h0M950 183h0M939 136h0M962 138h0M952 190h0M943 81h0M968 108h0M954 149h0M970 151h0M947 137h0M961 132h0M966 130h0M962 100h0M956 194h0M937 136h0M917 124h0M945 94h0M960 103h0M962 139h0M962 105h0M945 162h0M964 89h0M968 155h0M961 99h0M945 174h0M964 107h0M938 82h0M965 193h0M944 133h0M921 135h0M923 123h0M953 134h0M922 121h0M945 164h0M969 144h0M922 125h0M934 139h0M961 186h0M954 193h0M948 189h0M945 172h0M946 85h0M951 169h0M952 86h0M930 141h0M974 145h0M916 108h0M949 152h0M947 98h0M950 166h0M929 140h0M936 143h0M954 158h0M964 89h0M940 142h0M946 87h0M944 139h0M932 133h0M950 152h0M938 75h0M930 133h0M949 155h0M976 146h0M948 174h0M944 161h0M915 97h0M964 139h0M956 129h0M925 111h0M959 187h0M951 135h0M948 176h0M926 120h0M968 148h0M967 148h0M937 134h0M973 109h0M916 112h0M938 82h0M968 128h0M950 178h0M966 140h0M970 118h0M951 187h0M914 97h0M965 190h0M922 124h0M943 157h0M943 90h0M976 137h0M968 140h0M935 150h0M929 141h0M962 109h0M941 139h0M926 120h0M963 137h0M950 150h0M956 136h0M974 106h0M929 146h0M965 140h0M915 109h0M924 124h0M937 92h0M943 160h0M967 126h0M962 115h0M922 121h0M954 134h0M965 98h0M937 76h0M931 136h0M958 196h0M954 188h0M952 148h0M960 190h0M966 98h0M950 181h0M935 81h0M949 158h0M922 89h0M958 145h0M939 82h0M943 166h0M953 134h0M946 128h0M963 103h0M970 95h0M950 88h0M967 152h0M968 113h0M949 135h0M948 134h0M941 150h0M956 148h0M963 95h0M917 116h0M950 165h0M948 142h0M943 142h0M945 150h0M954 192h0M957 186h0M940 91h0M967 137h0M939 92h0M926 137h0M955 148h0M957 136h0M959 151h0M944 157h0M949 93h0M947 177h0M928 127h0M944 139h0M966 146h0M974 132h0M960 123h0M945 157h0M970 140h0M971 144h0M968 97h0M963 194h0M953 147h0M940 144h0M942 84h0M935 154h0M962 118h0M963 186h0M970 152h0M936 137h0M955 114h0M940 141h0M962 130h0M962 131h0M950 178h0M950 193h0M952 127h0M909 216h0M916 208h0M910 195h0M906 191h0M929 212h0M911 216h0M907 213h0M924 220h0M904 196h0M931 210h0M904 189h0M908 202h0M916 204h0M911 222h0M905 206h0M922 218h0M902 203h0M922 192h0M923 200h0M910 212h0M925 199h0M923 211h0M910 206h0M906 198h0M913 201h0M894 203h0M912 193h0M926 187h0M920 201h0M919 200h0M901 140h0M900 137h0M901 139h0M902 142h0M905 138h0M910 149h0M907 144h0M911 141h0M910 148h0" stroke="#31688e" stroke-width="2.4" stroke-linecap="round" opacity="0.9" fill="none"/>
<path transform="scale(0.5)" d="M926 173h0M930 172h0M934 173h0M921 171h0M935 173h0M923 158h0M923 166h0M920 160h0M931 174h0M925 149h0M914 161h0M922 177h0M918 171h0M920 146h0M925 173h0M919 175h0M921 163h0M928 152h0M918 174h0M921 158h0M929 172h0M913 169h0" stroke="#287c8e" stroke-width="2" stroke-linecap="round" opacity="0.9" fill="none"/>
<path transform="scale(0.5)" d="M896 124h0M891 132h0M892 126h0M882 126h0M883 132h0M891 127h0M889 138h0M887 133h0M888 126h0M883 131h0M899 126h0M883 136h0M898 126h0M883 138h0M897 129h0M900 126h0M886 136h0M882 132h0" stroke="#287c8e" stroke-width="2.2" stroke-linecap="round" opacity="0.9" fill="none"/>
<path transform="scale(0.5)" d="M854 101h0M864 122h0M859 109h0M831 154h0M857 83h0M881 126h0M868 96h0M846 87h0M878 131h0M865 103h0M836 89h0M837 150h0M864 95h0M869 90h0M877 142h0M885 129h0M864 150h0M881 129h0M862 100h0M864 90h0M852 111h0M845 80h0M844 113h0M867 117h0M836 153h0M865 125h0M862 117h0M877 140h0M851 106h0M888 133h0M856 185h0M841 87h0M850 93h0M834 91h0M880 126h0M881 141h0M843 103h0M871 106h0M838 145h0M839 97h0M872 92h0M845 93h0M845 111h0M834 101h0M840 107h0M837 90h0M839 112h0M884 126h0M853 86h0M885 135h0M828 103h0M857 111h0M846 97h0M850 94h0M875 137h0M889 133h0M841 86h0M860 96h0M870 131h0M857 101h0M877 131h0M849 82h0M876 129h0M848 81h0M875 103h0M855 111h0M854 96h0M849 82h0M874 128h0M890 135h0M848 142h0M853 112h0M843 99h0M848 100h0M865 107h0M849 108h0M855 92h0M824 112h0M830 96h0M833 136h0M845 90h0M892 164h0M873 110h0M852 86h0M858 99h0M829 102h0M865 92h0M840 84h0M876 117h0M873 107h0M824 100h0M844 88h0M838 130h0M855 88h0M837 96h0M840 107h0M838 142h0M833 87h0M873 116h0M874 135h0M894 129h0M828 112h0M880 140h0M866 98h0M883 139h0M857 105h0M888 140h0M873 123h0M863 101h0M884 131h0M864 103h0M878 140h0M834 140h0M843 175h0M843 137h0M847 94h0M828 94h0M839 166h0M842 106h0M843 83h0M853 98h0M873 98h0M850 85h0M886 140h0M856 90h0M841 108h0M842 84h0M861 112h0M835 100h0M869 114h0M850 105h0M846 87h0M839 86h0M837 121h0M875 131h0M882 128h0M833 109h0M858 89h0M888 173h0M848 109h0M863 104h0M828 111h0M866 124h0M834 86h0M829 96h0M877 124h0M847 92h0M882 132h0M881 130h0M848 88h0M852 168h0M865 109h0M850 169h0M837 120h0M865 113h0M878 124h0M838 146h0M843 97h0M886 163h0M857 108h0M863 147h0M828 121h0M886 139h0M880 147h0M864 107h0M886 135h0M832 86h0M838 97h0M829 108h0M838 107h0M847 98h0M834 104h0M832 103h0M863 108h0M863 113h0M874 116h0M886 142h0M868 125h0M851 170h0M847 106h0M883 142h0M834 107h0M871 113h0M861 157h0M848 97h0M858 112h0M893 130h0M876 142h0M845 149h0M862 102h0M829 104h0M890 138h0M863 178h0M839 88h0M837 134h0M877 121h0M844 109h0M834 152h0M860 101h0M890 135h0M844 113h0M864 91h0M873 107h0M848 118h0M853 97h0M865 99h0M854 111h0M946 128h0M950 192h0M955 180h0M972 109h0M938 100h0M944 83h0M970 153h0M968 155h0M973 135h0M964 120h0M965 120h0M975 135h0M953 134h0M947 183h0M953 88h0M950 145h0M925 96h0M954 177h0M947 92h0M933 82h0M948 155h0M927 118h0M938 150h0M970 96h0M940 148h0M955 156h0M966 122h0M964 128h0M956 173h0M967 115h0M963 143h0M937 89h0M957 102h0M957 130h0M936 91h0M967 114h0M930 131h0M974 131h0M937 72h0M969 134h0M948 139h0M953 91h0M949 94h0M974 141h0M967 105h0M930 82h0M966 92h0M951 158h0M944 82h0M973 145h0M967 147h0M933 79h0M933 144h0M968 169h0M966 105h0M969 94h0M918 104h0M964 94h0M938 76h0M971 116h0M970 170h0M947 162h0M940 130h0M935 127h0M965 162h0M966 192h0M956 194h0M923 126h0M978 153h0M971 95h0M944 158h0M956 87h0M940 131h0M926 112h0M924 84h0M950 91h0M930 115h0M947 139h0M970 186h0M944 100h0M978 149h0M960 150h0M923 125h0M920 130h0M945 159h0M944 167h0M926 116h0M928 73h0M963 124h0M969 189h0M960 159h0M961 129h0M924 115h0M962 138h0M918 92h0M963 151h0M950 175h0M955 86h0M937 145h0M931 85h0M944 116h0M975 138h0M973 138h0M955 93h0M938 127h0M963 140h0M963 115h0M940 92h0M959 150h0M958 127h0M976 166h0M924 127h0M952 161h0M936 120h0M950 158h0M930 86h0M960 174h0M961 97h0M935 91h0M967 109h0M964 155h0M960 170h0M965 90h0M931 100h0M942 149h0M975 164h0M933 72h0M939 133h0M938 132h0M929 133h0M933 108h0M949 97h0M920 90h0M943 140h0M917 113h0M966 192h0M941 114h0M939 157h0M954 142h0M970 130h0M959 155h0M931 132h0M960 122h0M939 122h0M942 133h0M947 144h0M955 109h0M958 143h0M957 134h0M955 130h0M970 117h0M947 142h0M921 96h0M968 170h0M960 153h0M914 94h0M937 129h0M960 88h0M947 137h0M971 112h0M931 135h0M959 91h0M960 170h0M941 159h0M959 126h0M949 153h0M950 174h0M960 158h0M945 134h0M932 83h0M968 156h0M927 125h0M969 125h0M923 120h0M945 100h0M961 109h0M959 182h0M928 87h0M966 189h0M919 114h0M946 84h0M924 107h0M941 123h0M956 135h0M929 123h0M962 186h0M950 191h0M916 115h0M967 144h0M949 176h0M954 140h0M936 152h0M944 170h0M935 130h0M917 121h0M936 92h0M927 135h0M946 109h0M944 158h0M956 191h0M938 79h0M963 136h0M947 144h0M954 104h0M915 108h0M946 150h0M948 181h0M943 89h0M928 85h0M926 80h0M960 150h0M948 169h0M938 129h0M922 91h0M941 72h0M927 143h0M942 134h0M945 161h0M960 146h0M932 94h0M939 77h0M952 124h0M932 144h0M954 88h0M942 88h0M953 144h0M961 126h0M951 184h0M958 89h0M947 145h0M939 83h0M965 189h0M972 158h0M917 122h0M949 150h0M948 180h0M958 151h0M925 95h0M959 119h0M940 77h0M939 145h0M928 89h0M967 188h0M939 157h0M977 151h0M972 105h0M943 88h0M946 90h0M947 170h0M931 140h0M928 93h0M944 161h0M972 153h0M955 105h0M943 85h0M933 140h0M957 172h0M966 150h0M953 114h0M942 158h0M939 88h0M959 147h0M957 197h0M957 138h0M927 113h0M949 144h0M923 111h0M971 114h0M967 187h0M972 104h0M940 158h0M965 155h0M938 93h0M946 168h0M969 124h0M947 128h0M955 107h0M957 102h0M946 162h0M950 171h0M951 160h0M916 101h0M935 88h0M965 147h0M969 150h0M935 96h0M936 154h0M971 161h0M972 96h0M951 170h0M940 86h0M970 135h0M972 110h0M944 97h0M956 182h0M919 119h0M948 166h0M961 142h0M932 94h0M963 169h0M922 81h0M953 163h0M960 132h0M948 102h0M945 94h0M952 119h0M949 176h0M960 115h0M960 145h0M966 189h0M975 142h0M970 94h0M948 177h0M965 106h0M963 172h0M924 98h0M962 173h0M936 112h0M941 129h0M973 139h0M937 138h0M939 80h0M962 150h0M949 165h0M968 116h0M935 78h0M931 82h0M973 104h0M962 189h0M964 99h0M937 135h0M959 154h0M969 127h0M940 100h0M964 141h0M950 149h0M949 148h0M959 99h0M960 136h0M939 88h0M956 151h0M949 176h0M963 124h0M955 195h0M945 157h0M959 146h0M964 141h0M959 109h0M974 179h0M919 93h0M959 121h0M917 107h0M934 134h0M961 140h0M955 89h0M952 150h0M943 167h0M969 159h0M943 81h0M936 146h0M935 87h0M953 144h0M944 86h0M957 187h0M917 90h0M929 98h0M957 131h0M955 187h0M921 112h0M950 125h0M941 79h0M970 124h0M967 145h0M926 95h0M945 105h0M934 129h0M927 93h0M945 83h0M943 93h0M943 105h0M952 176h0M953 103h0M975 153h0M955 192h0M925 76h0M951 194h0M968 111h0M936 91h0M971 97h0M929 124h0M978 145h0M974 170h0M930 130h0M953 147h0M943 153h0M945 161h0M963 124h0M926 113h0M920 108h0M958 112h0M923 77h0M949 99h0M941 93h0M952 194h0M943 77h0M946 129h0M918 102h0M946 152h0M941 121h0M931 107h0M971 94h0M963 120h0M951 117h0M959 180h0M932 148h0M928 135h0M919 109h0M953 88h0M935 127h0M962 92h0M970 140h0M953 90h0M959 152h0M946 173h0M956 156h0M957 175h0M950 106h0M963 90h0M950 180h0M922 81h0M963 119h0M969 176h0M944 120h0M950 177h0M932 87h0M929 73h0M930 136h0M906 201h0M913 217h0M918 209h0M919 209h0M913 222h0M919 219h0M921 208h0M912 219h0M928 212h0M919 207h0M907 197h0M903 218h0M926 206h0M924 209h0M917 217h0M906 193h0M930 206h0M915 211h0M911 203h0M929 205h0M914 219h0M909 191h0M911 187h0M915 219h0M903 201h0M917 190h0M924 187h0M912 183h0M926 193h0M909 193h0M909 205h0M913 199h0M929 207h0M912 182h0M913 182h0M911 200h0M912 189h0M906 202h0M922 194h0M929 194h0M897 201h0M910 199h0M922 213h0M906 214h0M904 199h0M928 205h0M924 194h0M916 199h0M909 186h0M927 210h0M922 221h0M904 204h0M908 184h0M916 194h0M908 193h0M920 214h0M932 192h0M916 181h0M923 195h0M929 195h0M909 223h0M914 208h0M922 210h0M909 218h0M905 188h0M918 205h0M925 191h0M913 203h0M919 209h0M908 217h0M905 202h0M930 192h0M929 205h0M930 199h0M920 220h0M920 201h0M914 181h0M921 185h0M929 188h0M924 193h0M925 208h0M904 206h0M908 213h0M925 215h0M905 199h0M905 203h0M914 199h0M910 206h0M930 202h0M923 182h0M912 193h0M916 205h0M923 212h0M927 197h0M930 192h0M931 199h0M915 185h0M925 213h0M905 212h0M921 221h0M900 139h0M900 140h0M902 137h0M903 134h0M901 137h0" stroke="#287c8e" stroke-width="2.4" stroke-linecap="round" opacity="0.9" fill="none"/>
<path transform="scale(0.5)" d="M929 153h0M919 160h0M926 163h0M926 175h0M923 183h0M918 168h0M926 183h0" stroke="#21918c" stroke-width="2" stroke-linecap="round" opacity="0.9" fill="none"/>
<path transform="scale(0.5)" d="M894 124h0M893 124h0M888 130h0M887 132h0" stroke="#21918c" stroke-width="2.2" stroke-linecap="round" opacity="0.9" fill="none"/>
<path transform="scale(0.5)" d="M832 105h0M855 105h0M828 95h0M833 101h0M835 98h0M867 107h0M845 90h0M867 108h0M866 104h0M832 128h0M830 92h0M868 118h0M862 119h0M847 113h0M868 107h0M867 105h0M868 123h0M850 94h0M871 91h0M888 129h0M869 122h0M863 114h0M849 93h0M856 99h0M881 141h0M868 93h0M874 109h0M861 97h0M880 126h0M832 103h0M855 112h0M835 93h0M846 83h0M862 122h0M837 89h0M872 92h0M854 109h0M853 91h0M830 102h0M873 117h0M876 114h0M836 96h0M839 84h0M829 111h0M875 117h0M829 107h0M867 114h0M845 108h0M834 101h0M877 106h0M859 91h0M853 87h0M849 102h0M865 102h0M831 90h0M870 100h0M852 107h0M863 110h0M848 81h0M823 110h0M838 107h0M843 88h0M823 112h0M850 112h0M841 82h0M844 99h0M839 96h0M860 101h0M866 89h0M830 91h0M838 91h0M830 90h0M869 97h0M844 82h0M874 109h0M848 89h0M870 94h0M884 132h0M876 113h0M869 111h0M871 105h0M851 90h0M847 103h0M855 104h0M875 109h0M877 116h0M843 94h0M846 112h0M863 97h0M858 112h0M862 101h0M844 81h0M826 113h0M862 91h0M846 88h0M829 103h0M860 112h0M868 124h0M862 124h0M863 93h0M847 109h0M843 112h0M825 96h0M836 89h0M843 101h0M868 106h0M850 107h0M844 96h0M874 114h0M871 113h0M823 103h0M844 81h0M836 100h0M842 105h0M874 108h0M857 82h0M874 100h0M859 113h0M833 105h0M839 112h0M870 119h0M868 122h0M840 110h0M843 85h0M838 113h0M855 82h0M859 91h0M844 81h0M877 105h0M829 102h0M861 99h0M862 123h0M856 87h0M859 95h0M869 95h0M832 96h0M867 105h0M866 96h0M850 90h0M866 125h0M838 108h0M855 111h0M873 106h0M836 112h0M839 87h0M853 83h0M826 98h0M828 93h0M884 130h0M842 108h0M849 90h0M829 99h0M849 83h0M878 110h0M877 122h0M846 83h0M875 122h0M825 110h0M851 90h0M848 85h0M861 125h0M875 142h0M825 105h0M878 107h0M832 101h0M874 94h0M868 89h0M838 97h0M869 112h0M848 109h0M834 85h0M841 95h0M831 89h0M867 125h0M866 103h0M842 107h0M853 99h0M874 92h0M844 95h0M858 101h0M871 102h0M890 130h0M843 86h0M865 97h0M834 109h0M829 99h0M845 109h0M856 92h0M879 124h0M854 100h0M861 91h0M862 101h0M872 100h0M864 111h0M872 98h0M844 89h0M878 106h0M874 134h0M837 84h0M856 96h0M875 108h0M859 110h0M856 99h0M867 116h0M844 85h0M880 140h0M858 92h0M859 90h0M842 103h0M868 118h0M877 117h0M874 110h0M828 102h0M827 110h0M871 96h0M834 102h0M875 125h0M841 105h0M847 98h0M842 95h0M845 100h0M851 107h0M884 138h0M834 98h0M849 83h0M840 106h0M884 138h0M825 101h0M850 95h0M856 85h0M871 92h0M860 113h0M863 102h0M854 97h0M848 102h0M866 117h0M882 129h0M841 95h0M847 89h0M849 109h0M845 91h0M852 83h0M848 107h0M877 105h0M837 90h0M835 110h0M853 106h0M880 124h0M860 101h0M862 99h0M849 86h0M853 105h0M875 110h0M853 109h0M849 104h0M833 99h0M854 87h0M853 109h0M859 105h0M838 112h0M871 119h0M839 108h0M844 107h0M838 86h0M868 100h0M861 105h0M877 123h0M874 120h0M863 104h0M880 137h0M849 112h0M832 89h0M862 121h0M850 87h0M849 89h0M837 83h0M867 111h0M845 80h0M868 121h0M839 101h0M920 127h0M966 110h0M939 83h0M975 149h0M952 140h0M937 93h0M924 131h0M921 132h0M953 92h0M925 124h0M917 85h0M962 121h0M933 134h0M931 145h0M954 185h0M966 175h0M956 160h0M937 92h0M951 91h0M975 140h0M968 131h0M941 74h0M941 122h0M970 92h0M954 129h0M949 168h0M926 114h0M956 131h0M929 128h0M942 84h0M956 138h0M945 152h0M962 121h0M962 138h0M955 195h0M966 188h0M964 144h0M949 92h0M948 130h0M946 114h0M965 122h0M965 94h0M928 104h0M969 149h0M933 109h0M926 75h0M945 85h0M917 94h0M941 95h0M949 154h0M958 134h0M927 103h0M937 78h0M942 89h0M977 155h0M957 103h0M951 190h0M948 113h0M950 144h0M944 113h0M958 109h0M920 122h0M946 163h0M960 120h0M960 135h0M959 153h0M944 94h0M974 142h0M942 132h0M930 130h0M957 178h0M947 83h0M963 152h0M967 115h0M936 108h0M948 134h0M940 80h0M936 92h0M924 138h0M915 113h0M944 126h0M973 162h0M924 123h0M937 145h0M941 154h0M919 116h0M954 86h0M947 148h0M948 135h0M945 139h0M936 117h0M967 143h0M968 99h0M954 104h0M935 78h0M958 109h0M930 124h0M921 126h0M967 168h0M962 109h0M940 139h0M926 89h0M953 88h0M956 190h0M948 159h0M938 118h0M961 92h0M944 79h0M973 132h0M951 145h0M971 94h0M942 105h0M945 104h0M944 144h0M968 168h0M926 136h0M967 122h0M960 113h0M964 193h0M915 109h0M943 90h0M936 95h0M962 179h0M969 95h0M961 120h0M930 102h0M963 158h0M936 76h0M957 176h0M952 146h0M959 187h0M952 190h0M921 84h0M975 151h0M923 124h0M922 110h0M917 93h0M952 156h0M963 163h0M934 121h0M934 118h0M971 109h0M958 186h0M967 119h0M958 137h0M960 127h0M944 133h0M950 139h0M961 188h0M945 138h0M929 104h0M957 197h0M945 132h0M974 134h0M931 119h0M946 94h0M948 141h0M936 88h0M928 93h0M945 123h0M959 109h0M934 135h0M924 119h0M938 130h0M916 87h0M972 153h0M944 133h0M970 98h0M956 118h0M969 99h0M959 134h0M945 134h0M968 93h0M956 185h0M944 117h0M947 168h0M963 123h0M934 77h0M963 186h0M944 141h0M948 182h0M925 111h0M943 90h0M935 133h0M953 152h0M958 148h0M958 109h0M948 149h0M936 149h0M965 175h0M924 89h0M975 108h0M959 125h0M936 96h0M946 99h0M941 104h0M926 133h0M936 71h0M943 154h0M941 92h0M918 109h0M958 130h0M918 116h0M951 136h0M918 112h0M959 96h0M948 125h0M971 93h0M939 104h0M953 109h0M938 78h0M948 158h0M975 178h0M974 146h0M960 109h0M970 158h0M937 91h0M969 103h0M976 164h0M948 146h0M954 135h0M949 125h0M914 108h0M965 97h0M965 119h0M946 153h0M951 147h0M958 136h0M934 127h0M974 145h0M971 186h0M964 112h0M969 153h0M937 119h0M960 188h0M919 109h0M927 99h0M938 80h0M978 148h0M937 146h0M955 152h0M941 157h0M921 84h0M975 141h0M968 126h0M967 127h0M963 113h0M931 129h0M974 178h0M940 104h0M923 96h0M932 123h0M937 80h0M952 149h0M916 114h0M963 157h0M925 129h0M955 150h0M958 99h0M934 133h0M967 91h0M975 107h0M971 127h0M916 93h0M953 87h0M964 132h0M966 127h0M968 192h0M959 182h0M962 127h0M963 166h0M935 72h0M926 136h0M962 136h0M966 156h0M961 156h0M914 103h0M950 84h0M972 183h0M941 113h0M974 141h0M929 130h0M955 115h0M968 160h0M956 105h0M962 139h0M961 160h0M960 132h0M960 110h0M970 167h0M932 137h0M968 144h0M939 80h0M959 159h0M960 143h0M964 129h0M945 115h0M943 90h0M962 165h0M943 153h0M920 98h0M938 84h0M973 174h0M961 111h0M925 113h0M945 88h0M966 113h0M938 124h0M963 146h0M948 107h0M971 103h0M971 141h0M939 106h0M969 144h0M964 155h0M955 190h0M927 140h0M957 134h0M964 182h0M949 174h0M925 134h0M962 112h0M963 189h0M921 99h0M962 170h0M967 188h0M971 97h0M950 149h0M969 148h0M928 127h0M962 125h0M956 164h0M961 101h0M950 97h0M940 128h0M972 110h0M942 121h0M924 111h0M935 99h0M945 132h0M922 93h0M956 103h0M935 79h0M952 193h0M928 114h0M967 104h0M943 89h0M942 87h0M941 138h0M974 141h0M959 178h0M955 110h0M930 140h0M938 98h0M931 102h0M952 143h0M922 134h0M922 133h0M951 191h0M947 130h0M933 142h0M921 130h0M951 192h0M931 134h0M953 143h0M924 100h0M959 113h0M960 152h0M955 116h0M917 83h0M948 103h0M964 187h0M950 87h0M951 166h0M967 93h0M933 84h0M952 194h0M948 182h0M954 105h0M951 189h0M965 90h0M934 84h0M921 107h0M926 125h0M968 121h0M929 85h0M916 117h0M968 92h0M954 192h0M965 170h0M950 153h0M946 156h0M945 144h0M963 156h0M975 168h0M975 149h0M956 113h0M948 127h0M946 138h0M959 108h0M963 146h0M944 142h0M920 130h0M949 111h0M916 108h0M971 141h0M954 195h0M974 161h0M946 171h0M956 194h0M933 111h0M964 194h0M953 150h0M941 143h0M969 136h0M961 146h0M937 124h0M960 119h0M931 79h0M925 131h0M952 174h0M942 136h0M971 180h0M943 90h0M969 153h0M956 141h0M963 176h0M942 99h0M929 133h0M962 104h0M921 81h0M917 122h0M951 155h0M926 121h0M927 131h0M924 122h0M958 143h0M935 101h0M969 169h0M951 180h0M964 139h0M956 184h0M962 124h0M953 189h0M962 106h0M951 91h0M973 152h0M973 162h0M953 175h0M972 112h0M957 177h0M931 131h0M933 79h0M965 140h0M951 110h0M968 146h0M940 74h0M939 76h0M948 135h0M943 104h0M978 153h0M972 146h0M948 151h0M965 93h0M920 114h0M967 169h0M943 125h0M951 107h0M966 98h0M933 110h0M957 163h0M942 80h0M959 106h0M972 181h0M974 138h0M951 171h0M939 87h0M962 103h0M964 90h0M932 112h0M940 78h0M946 133h0M929 114h0M928 134h0M941 131h0M927 75h0M942 137h0M932 135h0M955 131h0M963 145h0M957 193h0M968 168h0M961 102h0M946 96h0M943 100h0M970 183h0M958 120h0M932 125h0M922 125h0M956 115h0M958 158h0M916 117h0M951 89h0M963 113h0M950 121h0M973 100h0M974 142h0M958 155h0M933 119h0M949 142h0M952 92h0M961 168h0M925 80h0M920 126h0M918 103h0M928 103h0M953 102h0M964 116h0M938 130h0M955 187h0M933 96h0M935 120h0M936 97h0M934 107h0M926 121h0M958 135h0M933 112h0M922 111h0M924 124h0M946 173h0M953 162h0M943 132h0M958 116h0M956 189h0M918 97h0M949 142h0M943 169h0M974 141h0M938 133h0M954 90h0M946 127h0M917 108h0M955 186h0M964 138h0M954 190h0M927 76h0M976 143h0M948 142h0M938 73h0M928 101h0M970 174h0M964 144h0M933 115h0M954 150h0M949 172h0M949 101h0M968 136h0M926 118h0M925 90h0M968 148h0M958 133h0M929 123h0M977 161h0M946 155h0M963 107h0M931 136h0M968 117h0M941 87h0M951 168h0M942 135h0M958 195h0M970 99h0M953 187h0M961 132h0M967 112h0M972 144h0M964 119h0M952 114h0M968 167h0M963 188h0M963 109h0M960 193h0M957 117h0M953 125h0M973 110h0M955 102h0M944 92h0M969 187h0M934 111h0M957 143h0M920 124h0M952 145h0M960 122h0M973 106h0M971 156h0M941 89h0M956 168h0M954 93h0M955 131h0M969 175h0M953 98h0M929 134h0M955 112h0M969 172h0M962 96h0M973 147h0M960 128h0M940 94h0M938 127h0M937 131h0M935 93h0M967 113h0M934 112h0M968 121h0M946 136h0M962 117h0M949 89h0M944 134h0M917 106h0M915 110h0M958 138h0M957 93h0M936 86h0M962 155h0M956 127h0M964 176h0M947 151h0M946 135h0M957 127h0M939 105h0M945 91h0M973 101h0M962 168h0M917 98h0M957 168h0M960 123h0M939 135h0M961 128h0M973 135h0M974 165h0M936 91h0M953 88h0M923 125h0M962 139h0M963 117h0M968 109h0M950 135h0M914 93h0M965 100h0M931 117h0M913 200h0M923 194h0M918 180h0M906 200h0M918 191h0M905 203h0M909 216h0M921 191h0M918 205h0M920 206h0M915 183h0M908 204h0M917 187h0M914 204h0M912 205h0M908 188h0M920 198h0M927 197h0M922 185h0M929 202h0M915 201h0M911 193h0M909 194h0M920 200h0M915 185h0M904 182h0M920 214h0M929 203h0M925 185h0M911 199h0M905 205h0M923 198h0M908 204h0M930 190h0M929 202h0M912 197h0M909 222h0M908 203h0M924 210h0M909 201h0M927 199h0M915 209h0M918 217h0M907 214h0M920 201h0M904 201h0M919 197h0M908 195h0M927 194h0M904 204h0M913 189h0M932 197h0M913 203h0M930 203h0M918 215h0M921 190h0M918 186h0M920 195h0M924 190h0M918 192h0M918 202h0M932 194h0M916 196h0M932 197h0M906 213h0M929 195h0M917 209h0M912 185h0M911 212h0M915 220h0M922 219h0M913 197h0M914 193h0M909 200h0M914 181h0M908 223h0" stroke="#21918c" stroke-width="2.4" stroke-linecap="round" opacity="0.9" fill="none"/>
<path transform="scale(0.5)" d="M894 125h0M895 122h0M897 124h0M900 127h0M897 124h0M891 124h0M892 122h0" stroke="#20a486" stroke-width="2.2" stroke-linecap="round" opacity="0.9" fill="none"/>
<path transform="scale(0.5)" d="M866 116h0M883 124h0M864 115h0M836 100h0M828 90h0M830 90h0M856 91h0M854 100h0M836 93h0M832 92h0M868 88h0M847 103h0M858 87h0M873 115h0M851 105h0M843 111h0M863 125h0M858 103h0M867 125h0M869 109h0M837 83h0M857 87h0M859 95h0M877 114h0M838 90h0M871 112h0M865 94h0M856 84h0M877 111h0M860 94h0M822 112h0M880 125h0M825 104h0M830 111h0M866 95h0M864 116h0M871 93h0M845 93h0M842 88h0M844 102h0M828 104h0M850 112h0M861 86h0M874 92h0M847 97h0M849 95h0M828 112h0M837 95h0M867 114h0M873 98h0M840 82h0M844 81h0M849 107h0M826 103h0M830 107h0M868 125h0M859 101h0M845 86h0M848 89h0M834 101h0M851 84h0M869 125h0M857 87h0M841 112h0M846 105h0M873 100h0M837 99h0M865 91h0M847 83h0M853 101h0M857 104h0M868 115h0M858 104h0M832 110h0M871 106h0M838 84h0M847 93h0M858 88h0M846 80h0M869 97h0M827 93h0M877 120h0M843 81h0M842 94h0M862 90h0M836 92h0M853 84h0M830 106h0M831 113h0M834 88h0M831 106h0M834 94h0M851 101h0M824 106h0M831 107h0M842 92h0M843 96h0M828 97h0M862 105h0M864 101h0M828 96h0M857 101h0M867 115h0M839 83h0M854 89h0M856 87h0M856 84h0M838 85h0M834 93h0M852 82h0M843 108h0M826 106h0M872 92h0M863 113h0M851 95h0M839 93h0M834 108h0M862 101h0M830 93h0M834 107h0M868 91h0M875 103h0M842 103h0M832 94h0M842 91h0M863 87h0M860 90h0M877 114h0M870 99h0M874 107h0M874 114h0M861 85h0M854 103h0M873 120h0M867 89h0M837 97h0M863 113h0M862 84h0M856 85h0M835 106h0M872 92h0M840 105h0M860 96h0M861 84h0M832 112h0M852 111h0M878 105h0M838 101h0M833 110h0M860 84h0M872 100h0M877 106h0M839 83h0M839 111h0M840 89h0M839 93h0M857 98h0M866 91h0M873 113h0M839 109h0M860 89h0M877 110h0M853 91h0M849 96h0M873 108h0M838 103h0M825 102h0M853 105h0M842 110h0M848 110h0M825 110h0M836 108h0M850 107h0M834 101h0M862 119h0M873 118h0M825 97h0M843 88h0M828 90h0M868 108h0M828 104h0M875 97h0M828 103h0M851 110h0M872 125h0M825 102h0M856 104h0M858 88h0M859 112h0M836 86h0M839 98h0M837 87h0M874 100h0M833 110h0M874 112h0M873 107h0M839 92h0M827 103h0M831 109h0M861 91h0M834 93h0M831 104h0M850 113h0M877 118h0M870 121h0M838 92h0M874 101h0M858 86h0M850 103h0M832 103h0M874 126h0M846 87h0M843 110h0M828 91h0M874 94h0M836 84h0M824 102h0M831 107h0M825 99h0M856 112h0M867 107h0M875 119h0M863 89h0M839 83h0M864 120h0M859 106h0M872 102h0M832 101h0M843 102h0M852 100h0M843 83h0M861 87h0M840 87h0M876 117h0M832 102h0M837 90h0M850 82h0M863 95h0M833 96h0M843 81h0M858 87h0M837 92h0M834 91h0M830 93h0M874 117h0M869 119h0M853 83h0M837 89h0M856 99h0M866 96h0M862 85h0M857 93h0M862 118h0M842 97h0M876 105h0M873 107h0M833 100h0M855 110h0M873 115h0M870 116h0M875 121h0M872 119h0M836 112h0M859 83h0M868 114h0M865 94h0M874 99h0M876 110h0M849 101h0M876 124h0M861 109h0M876 128h0M859 106h0M831 108h0M862 98h0M843 113h0M862 104h0M863 101h0M825 94h0M867 107h0M842 82h0M824 111h0M854 107h0M831 88h0M855 99h0M838 96h0M868 93h0M871 121h0M849 89h0M825 101h0M860 84h0M848 90h0M969 109h0M919 127h0M962 142h0M937 110h0M959 100h0M968 140h0M934 112h0M945 131h0M970 153h0M956 152h0M935 75h0M972 157h0M972 152h0M937 107h0M964 149h0M953 90h0M953 190h0M957 149h0M955 139h0M938 74h0M965 131h0M973 140h0M969 117h0M935 85h0M955 153h0M945 148h0M956 139h0M946 98h0M945 151h0M956 156h0M972 173h0M934 122h0M927 115h0M945 129h0M950 142h0M923 124h0M956 126h0M949 110h0M960 161h0M938 83h0M934 109h0M947 95h0M939 112h0M923 87h0M938 72h0M915 112h0M952 158h0M940 109h0M936 104h0M966 155h0M959 174h0M962 147h0M953 126h0M974 179h0M936 107h0M963 99h0M958 125h0M924 133h0M973 163h0M946 140h0M967 158h0M963 91h0M939 75h0M940 76h0M941 118h0M962 191h0M941 137h0M954 107h0M969 183h0M971 139h0M974 138h0M940 75h0M947 108h0M964 94h0M960 184h0M964 100h0M973 156h0M975 147h0M959 102h0M936 127h0M976 157h0M942 87h0M955 170h0M957 187h0M944 98h0M943 135h0M927 125h0M917 113h0M929 110h0M951 123h0M946 90h0M940 108h0M971 137h0M959 91h0M942 135h0M948 89h0M955 170h0M961 98h0M951 186h0M960 124h0M972 157h0M953 134h0M948 136h0M935 111h0M946 103h0M977 150h0M978 158h0M932 110h0M956 90h0M966 174h0M940 128h0M960 107h0M955 158h0M963 97h0M966 149h0M930 136h0M967 159h0M947 100h0M950 112h0M951 194h0M924 132h0M918 113h0M966 121h0M949 156h0M960 126h0M937 87h0M934 89h0M943 100h0M938 75h0M949 117h0M935 114h0M915 116h0M918 109h0M969 101h0M917 107h0M920 123h0M948 132h0M949 176h0M951 134h0M958 91h0M954 173h0M928 129h0M955 154h0M957 150h0M951 126h0M942 111h0M961 111h0M971 130h0M949 129h0M955 170h0M916 115h0M940 121h0M938 85h0M938 110h0M970 144h0M958 89h0M948 148h0M947 145h0M946 127h0M948 107h0M945 124h0M969 115h0M966 181h0M963 125h0M954 102h0M922 123h0M932 133h0M962 133h0M969 172h0M955 175h0M947 121h0M954 191h0M962 126h0M971 133h0M934 136h0M939 91h0M948 150h0M962 117h0M921 112h0M944 131h0M941 84h0M952 118h0M974 105h0M944 128h0M973 176h0M946 121h0M926 118h0M948 110h0M973 135h0M975 142h0M971 147h0M957 130h0M952 142h0M973 107h0M941 92h0M965 164h0M955 193h0M956 183h0M970 102h0M926 109h0M931 133h0M965 108h0M946 94h0M961 159h0M958 162h0M948 118h0M939 87h0M936 83h0M958 100h0M946 99h0M941 106h0M973 168h0M953 94h0M958 156h0M972 96h0M967 103h0M939 110h0M953 132h0M968 92h0M939 110h0M971 168h0M955 108h0M950 106h0M945 118h0M925 138h0M969 171h0M952 128h0M964 187h0M929 131h0M942 96h0M972 102h0M935 119h0M942 81h0M962 111h0M920 109h0M966 135h0M947 112h0M969 142h0M934 92h0M959 157h0M967 102h0M939 130h0M970 113h0M957 137h0M925 133h0M967 177h0M962 140h0M975 171h0M974 144h0M952 174h0M953 170h0M943 117h0M951 113h0M953 92h0M960 186h0M943 98h0M967 131h0M952 109h0M926 131h0M931 138h0M951 169h0M945 141h0M938 120h0M964 160h0M975 175h0M967 171h0M959 107h0M945 112h0M965 95h0M924 118h0M977 160h0M927 120h0M975 151h0M944 88h0M976 142h0M967 115h0M927 128h0M949 124h0M946 148h0M935 72h0M946 90h0M965 192h0M955 104h0M917 116h0M961 140h0M963 126h0M957 157h0M952 123h0M943 145h0M953 192h0M961 174h0M916 194h0M928 194h0M925 218h0M908 219h0M903 186h0M909 222h0M910 195h0M916 200h0M927 212h0" stroke="#20a486" stroke-width="2.4" stroke-linecap="round" opacity="0.9" fill="none"/>
<path transform="scale(0.5)" d="M901 125h0" stroke="#35b779" stroke-width="2.2" stroke-linecap="round" opacity="0.9" fill="none"/>
<path transform="scale(0.5)" d="M842 100h0M834 100h0M844 85h0M830 106h0M863 124h0M878 107h0M830 91h0M875 122h0M872 95h0M839 109h0M830 95h0M828 90h0M843 108h0M827 92h0M850 93h0M871 109h0M851 88h0M853 92h0M836 95h0M858 109h0M854 97h0M837 93h0M864 122h0M875 111h0M866 96h0M867 106h0M847 103h0M835 105h0M836 97h0M840 93h0M833 97h0M871 96h0M865 94h0M847 88h0M875 110h0M841 100h0M828 108h0M873 120h0M826 94h0M852 82h0M872 114h0M845 97h0M853 87h0M884 125h0M865 122h0M835 110h0M870 104h0M837 92h0M845 83h0M829 103h0M834 92h0M876 121h0M830 104h0M841 99h0M868 123h0M856 97h0M835 88h0M843 111h0M831 108h0M867 107h0M831 92h0M855 99h0M835 92h0M868 99h0M868 105h0M833 97h0M849 85h0M860 97h0M854 105h0M876 107h0M873 97h0M866 96h0M829 108h0M840 97h0M825 110h0M828 113h0M829 102h0M872 102h0M852 83h0M849 83h0M851 90h0M852 95h0M848 92h0M870 115h0M836 85h0M867 109h0M853 92h0M852 103h0M867 104h0M857 109h0M859 99h0M849 93h0M861 118h0M843 102h0M860 100h0M953 97h0M948 119h0M943 123h0M956 177h0M971 170h0M967 172h0M954 158h0M953 98h0M964 182h0M935 110h0M958 181h0M965 176h0M953 112h0M930 108h0M953 105h0M959 181h0M942 113h0M941 101h0M955 169h0M945 159h0M938 99h0M963 170h0M938 99h0M935 123h0M939 112h0M950 118h0M952 159h0M930 128h0M946 109h0M942 120h0M945 116h0M955 116h0M937 114h0M969 178h0M960 163h0M938 80h0M947 102h0M953 122h0M944 102h0M936 97h0M967 152h0M942 105h0M957 124h0M948 123h0M934 112h0M936 105h0M932 112h0M936 118h0M961 153h0M959 170h0M938 107h0M946 100h0M936 110h0M955 169h0M949 115h0M941 108h0M945 124h0M929 112h0M959 96h0M955 177h0M957 177h0M953 98h0M932 108h0M941 95h0M970 157h0M957 109h0M958 166h0M945 124h0M972 182h0M950 105h0M957 197h0M952 161h0M952 107h0M968 176h0M975 165h0M975 165h0M972 172h0M954 102h0M949 116h0M966 182h0M944 109h0M957 172h0M952 155h0M966 190h0M945 108h0M954 119h0M957 97h0M942 109h0M958 98h0M952 161h0M975 180h0M958 107h0M948 108h0M963 179h0M959 99h0M931 111h0M956 128h0M970 183h0M936 119h0M931 120h0M964 159h0M951 110h0M954 173h0M953 116h0M946 122h0M952 100h0M973 154h0M971 161h0M948 96h0M971 154h0M961 164h0M937 104h0M943 114h0M937 110h0M970 168h0M945 103h0M971 178h0M974 162h0M967 185h0M971 154h0M950 146h0M938 99h0M969 180h0M949 125h0M957 102h0M959 122h0M969 177h0M950 96h0M971 154h0M948 105h0M975 171h0M958 107h0M952 174h0M945 119h0M956 100h0M936 118h0M966 160h0M959 163h0M970 142h0M946 125h0M953 183h0M939 114h0M964 189h0M940 119h0M942 114h0M937 89h0M975 160h0M927 125h0M958 104h0M961 178h0M934 114h0M921 126h0M956 100h0M932 114h0M967 100h0M951 174h0M960 171h0M935 112h0M976 154h0M943 112h0M941 88h0M959 183h0M922 106h0M936 123h0M948 123h0M944 91h0M950 108h0M953 108h0M955 161h0M954 168h0M948 109h0M942 120h0M969 156h0M939 109h0M939 98h0M963 163h0M955 161h0M955 157h0M957 162h0M949 95h0M968 172h0M958 111h0M956 183h0M942 114h0M951 166h0M951 96h0M953 114h0M953 163h0M968 167h0M951 180h0M936 118h0M964 159h0M943 98h0M959 183h0M974 175h0M968 181h0M942 125h0M942 96h0M969 164h0M948 118h0M932 122h0M927 121h0M954 108h0M945 111h0M954 114h0M959 181h0M976 167h0M959 154h0M960 154h0" stroke="#35b779" stroke-width="2.4" stroke-linecap="round" opacity="0.9" fill="none"/>
<path transform="scale(0.5)" d="M895 123h0" stroke="#5ec962" stroke-width="2.2" stroke-linecap="round" opacity="0.9" fill="none"/>
<path transform="scale(0.5)" d="M882 124h0M873 100h0M851 97h0M865 113h0M845 110h0M844 104h0M836 93h0M825 100h0M828 98h0M873 115h0M837 96h0M846 92h0M854 98h0M844 82h0M838 86h0M835 93h0M868 116h0M873 120h0M874 109h0M836 104h0M875 94h0M823 111h0M846 110h0M853 108h0M832 93h0M872 94h0M864 106h0M860 84h0M831 109h0M856 108h0M835 88h0M872 119h0M852 81h0M869 111h0M832 94h0M853 100h0M872 91h0M870 110h0M828 110h0M844 83h0M832 102h0M858 111h0M829 102h0M870 102h0M865 117h0M866 99h0M863 103h0M833 112h0M975 175h0M951 105h0M945 115h0M973 154h0M966 177h0M946 96h0M955 183h0M968 172h0M954 124h0M966 153h0M952 177h0M959 176h0M961 182h0M947 119h0M975 166h0M948 99h0M954 111h0M975 158h0M931 123h0M968 154h0M973 171h0M952 177h0M969 171h0M958 157h0M967 181h0M955 168h0M977 157h0M935 102h0M966 160h0M953 174h0M956 157h0M976 157h0M969 167h0M927 111h0M959 167h0M954 175h0M927 107h0M964 161h0M956 122h0M972 178h0M939 96h0M940 124h0M952 173h0M952 119h0M930 115h0M961 156h0M963 172h0M951 163h0M974 171h0M934 116h0M942 117h0M974 158h0M937 96h0M933 109h0M931 110h0M976 154h0M959 176h0M958 160h0M961 163h0M971 170h0M954 96h0M958 119h0M952 113h0M941 108h0M951 114h0M941 117h0M974 178h0M959 173h0M930 117h0M955 109h0M948 106h0M938 124h0M969 178h0M954 177h0M951 114h0M935 106h0M958 165h0M967 164h0M938 117h0M928 123h0M973 176h0M953 157h0M968 177h0M942 108h0M966 157h0M937 106h0M965 162h0M934 111h0M978 155h0M958 113h0M953 176h0M929 118h0M951 156h0M964 166h0M954 176h0M933 118h0M943 95h0M943 110h0M971 175h0M953 108h0M936 99h0M951 115h0M965 171h0M952 157h0M967 170h0M968 180h0M945 119h0M942 116h0M953 122h0M966 181h0M961 161h0M968 161h0M959 168h0M947 98h0M968 184h0M947 96h0M938 124h0M968 172h0M974 173h0M952 99h0M941 116h0M966 160h0M949 121h0M973 170h0M971 162h0M941 96h0M947 105h0M952 155h0M937 112h0M956 122h0M962 161h0M957 123h0M938 106h0M947 99h0M969 168h0M941 119h0M934 110h0M960 165h0M955 168h0M961 162h0M932 113h0M955 95h0M948 108h0M971 162h0M959 174h0M955 124h0M932 117h0M944 98h0M973 179h0M954 122h0M972 182h0M961 170h0M939 122h0M966 175h0M929 110h0M963 182h0M966 185h0M974 153h0M972 179h0M975 173h0M970 168h0M963 179h0M956 183h0M952 163h0M942 115h0M958 104h0M958 159h0M932 120h0M966 166h0M938 111h0M962 156h0M973 172h0M956 99h0M969 168h0M952 170h0M976 170h0M973 177h0M958 169h0M973 166h0M937 116h0M950 107h0M974 176h0M943 119h0M942 123h0M928 122h0" stroke="#5ec962" stroke-width="2.4" stroke-linecap="round" opacity="0.9" fill="none"/>
<path transform="scale(0.5)" d="M867 94h0M866 100h0M863 120h0M868 118h0M952 184h0M970 177h0M968 159h0M942 124h0M972 171h0M967 154h0M975 165h0M955 176h0M977 159h0M967 165h0M963 161h0M967 158h0M946 117h0M973 157h0M960 172h0M954 176h0M956 155h0M957 180h0M942 113h0M954 163h0M964 154h0M957 111h0M962 154h0M966 169h0M958 161h0M954 154h0M977 161h0M952 171h0M956 173h0M969 173h0M965 169h0M972 175h0M961 154h0M976 154h0M947 96h0M959 180h0M963 157h0M959 181h0M955 161h0M977 160h0M962 177h0M928 117h0M962 160h0M969 156h0M959 154h0M965 171h0" stroke="#90d743" stroke-width="2.4" stroke-linecap="round" opacity="0.9" fill="none"/>
<path transform="scale(0.5)" d="M957 166h0M966 165h0M962 174h0M962 167h0" stroke="#c8e020" stroke-width="2.4" stroke-linecap="round" opacity="0.9" fill="none"/>
<defs><linearGradient id="vir2" x1="0" y1="0" x2="0" y2="1"><stop offset="0" stop-color="#fde725"/><stop offset="0.1" stop-color="#bddf26"/><stop offset="0.2" stop-color="#7ad151"/><stop offset="0.3" stop-color="#44bf70"/><stop offset="0.4" stop-color="#22a884"/><stop offset="0.5" stop-color="#21918c"/><stop offset="0.6" stop-color="#2a788e"/><stop offset="0.7" stop-color="#355f8d"/><stop offset="0.8" stop-color="#414487"/><stop offset="0.9" stop-color="#482475"/><stop offset="1" stop-color="#440154"/></linearGradient></defs>
<rect x="496.9" y="29.5" width="3.4" height="86.7" fill="url(#vir2)" stroke="#3a3a3a" stroke-opacity="0.45" stroke-width="0.5"/>
<line x1="500.3" y1="40" x2="502.8" y2="40" stroke="#231f20" stroke-width="0.9"/>
<text x="505" y="42.2" font-size="6.3" fill="#231f20" stroke="#231f20" stroke-width="0.1">80</text>
<line x1="500.3" y1="59.3" x2="502.8" y2="59.3" stroke="#231f20" stroke-width="0.9"/>
<text x="505" y="61.5" font-size="6.3" fill="#231f20" stroke="#231f20" stroke-width="0.1">60</text>
<line x1="500.3" y1="78.4" x2="502.8" y2="78.4" stroke="#231f20" stroke-width="0.9"/>
<text x="505" y="80.6" font-size="6.3" fill="#231f20" stroke="#231f20" stroke-width="0.1">40</text>
<line x1="500.3" y1="97.3" x2="502.8" y2="97.3" stroke="#231f20" stroke-width="0.9"/>
<text x="505" y="99.5" font-size="6.3" fill="#231f20" stroke="#231f20" stroke-width="0.1">20</text>
<text x="449.9" y="126.9" font-size="8.2" text-anchor="middle" fill="#231f20" textLength="22.1" lengthAdjust="spacingAndGlyphs" stroke="#231f20" stroke-width="0.1">UMAP1</text>
<text x="0" y="0" font-size="8.2" fill="#231f20" stroke="#231f20" stroke-width="0.1" text-anchor="middle" textLength="22.3" lengthAdjust="spacingAndGlyphs" transform="translate(400.8 73) rotate(-90)">UMAP2</text>
<text x="6.5" y="164.3" font-size="11.2" font-weight="bold" fill="#000">C</text>
<defs><linearGradient id="hc0" x1="0" y1="0" x2="0" y2="1"><stop offset="0.0000" stop-color="#3fbc73"/><stop offset="0.0417" stop-color="#3fbc73"/><stop offset="0.0417" stop-color="#1f9e89"/><stop offset="0.0833" stop-color="#1f9e89"/><stop offset="0.0833" stop-color="#26828e"/><stop offset="0.1250" stop-color="#26828e"/><stop offset="0.1250" stop-color="#375a8c"/><stop offset="0.1667" stop-color="#375a8c"/><stop offset="0.1667" stop-color="#21a585"/><stop offset="0.2083" stop-color="#21a585"/><stop offset="0.2083" stop-color="#1f9e89"/><stop offset="0.2500" stop-color="#1f9e89"/><stop offset="0.2500" stop-color="#26828e"/><stop offset="0.2917" stop-color="#26828e"/><stop offset="0.2917" stop-color="#35b779"/><stop offset="0.3333" stop-color="#35b779"/><stop offset="0.3333" stop-color="#3e4989"/><stop offset="0.3750" stop-color="#3e4989"/><stop offset="0.3750" stop-color="#482878"/><stop offset="0.4167" stop-color="#482878"/><stop offset="0.4167" stop-color="#414487"/><stop offset="0.4583" stop-color="#414487"/><stop offset="0.4583" stop-color="#3c508b"/><stop offset="0.5000" stop-color="#3c508b"/><stop offset="0.5000" stop-color="#481a6c"/><stop offset="0.5417" stop-color="#481a6c"/><stop offset="0.5417" stop-color="#443983"/><stop offset="0.5833" stop-color="#443983"/><stop offset="0.5833" stop-color="#471164"/><stop offset="0.6250" stop-color="#471164"/><stop offset="0.6250" stop-color="#482071"/><stop offset="0.6667" stop-color="#482071"/><stop offset="0.6667" stop-color="#470d60"/><stop offset="0.7083" stop-color="#470d60"/><stop offset="0.7083" stop-color="#470d60"/><stop offset="0.7500" stop-color="#470d60"/><stop offset="0.7500" stop-color="#481668"/><stop offset="0.7917" stop-color="#481668"/><stop offset="0.7917" stop-color="#472f7d"/><stop offset="0.8333" stop-color="#472f7d"/><stop offset="0.8333" stop-color="#481a6c"/><stop offset="0.8750" stop-color="#481a6c"/><stop offset="0.8750" stop-color="#277e8e"/><stop offset="0.9167" stop-color="#277e8e"/><stop offset="0.9167" stop-color="#46327e"/><stop offset="0.9583" stop-color="#46327e"/><stop offset="0.9583" stop-color="#472f7d"/><stop offset="1.0000" stop-color="#472f7d"/></linearGradient></defs>
<rect x="30.8" y="187.2" width="34.3" height="128.5" fill="url(#hc0)"/>
<defs><linearGradient id="hc1" x1="0" y1="0" x2="0" y2="1"><stop offset="0.0000" stop-color="#25ab82"/><stop offset="0.0417" stop-color="#25ab82"/><stop offset="0.0417" stop-color="#26828e"/><stop offset="0.0833" stop-color="#26828e"/><stop offset="0.0833" stop-color="#2d708e"/><stop offset="0.1250" stop-color="#2d708e"/><stop offset="0.1250" stop-color="#375a8c"/><stop offset="0.1667" stop-color="#375a8c"/><stop offset="0.1667" stop-color="#472f7d"/><stop offset="0.2083" stop-color="#472f7d"/><stop offset="0.2083" stop-color="#1f9e89"/><stop offset="0.2500" stop-color="#1f9e89"/><stop offset="0.2500" stop-color="#2e6e8e"/><stop offset="0.2917" stop-color="#2e6e8e"/><stop offset="0.2917" stop-color="#2ab07f"/><stop offset="0.3333" stop-color="#2ab07f"/><stop offset="0.3333" stop-color="#3c508b"/><stop offset="0.3750" stop-color="#3c508b"/><stop offset="0.3750" stop-color="#365c8d"/><stop offset="0.4167" stop-color="#365c8d"/><stop offset="0.4167" stop-color="#4ec36b"/><stop offset="0.4583" stop-color="#4ec36b"/><stop offset="0.4583" stop-color="#3e4989"/><stop offset="0.5000" stop-color="#3e4989"/><stop offset="0.5000" stop-color="#21918c"/><stop offset="0.5417" stop-color="#21918c"/><stop offset="0.5417" stop-color="#31688e"/><stop offset="0.5833" stop-color="#31688e"/><stop offset="0.5833" stop-color="#482071"/><stop offset="0.6250" stop-color="#482071"/><stop offset="0.6250" stop-color="#23888e"/><stop offset="0.6667" stop-color="#23888e"/><stop offset="0.6667" stop-color="#482878"/><stop offset="0.7083" stop-color="#482878"/><stop offset="0.7083" stop-color="#472f7d"/><stop offset="0.7500" stop-color="#472f7d"/><stop offset="0.7500" stop-color="#482878"/><stop offset="0.7917" stop-color="#482878"/><stop offset="0.7917" stop-color="#2b758e"/><stop offset="0.8333" stop-color="#2b758e"/><stop offset="0.8333" stop-color="#46327e"/><stop offset="0.8750" stop-color="#46327e"/><stop offset="0.8750" stop-color="#277e8e"/><stop offset="0.9167" stop-color="#277e8e"/><stop offset="0.9167" stop-color="#3e4989"/><stop offset="0.9583" stop-color="#3e4989"/><stop offset="0.9583" stop-color="#46327e"/><stop offset="1.0000" stop-color="#46327e"/></linearGradient></defs>
<rect x="64.8" y="187.2" width="15.7" height="128.5" fill="url(#hc1)"/>
<defs><linearGradient id="hc2" x1="0" y1="0" x2="0" y2="1"><stop offset="0.0000" stop-color="#35b779"/><stop offset="0.0417" stop-color="#35b779"/><stop offset="0.0417" stop-color="#2b758e"/><stop offset="0.0833" stop-color="#2b758e"/><stop offset="0.0833" stop-color="#355f8d"/><stop offset="0.1250" stop-color="#355f8d"/><stop offset="0.1250" stop-color="#3c508b"/><stop offset="0.1667" stop-color="#3c508b"/><stop offset="0.1667" stop-color="#33628d"/><stop offset="0.2083" stop-color="#33628d"/><stop offset="0.2083" stop-color="#277e8e"/><stop offset="0.2500" stop-color="#277e8e"/><stop offset="0.2500" stop-color="#3c508b"/><stop offset="0.2917" stop-color="#3c508b"/><stop offset="0.2917" stop-color="#44bf70"/><stop offset="0.3333" stop-color="#44bf70"/><stop offset="0.3333" stop-color="#414487"/><stop offset="0.3750" stop-color="#414487"/><stop offset="0.3750" stop-color="#443983"/><stop offset="0.4167" stop-color="#443983"/><stop offset="0.4167" stop-color="#3f4788"/><stop offset="0.4583" stop-color="#3f4788"/><stop offset="0.4583" stop-color="#414487"/><stop offset="0.5000" stop-color="#414487"/><stop offset="0.5000" stop-color="#482878"/><stop offset="0.5417" stop-color="#482878"/><stop offset="0.5417" stop-color="#443983"/><stop offset="0.5833" stop-color="#443983"/><stop offset="0.5833" stop-color="#481a6c"/><stop offset="0.6250" stop-color="#481a6c"/><stop offset="0.6250" stop-color="#2e6e8e"/><stop offset="0.6667" stop-color="#2e6e8e"/><stop offset="0.6667" stop-color="#481668"/><stop offset="0.7083" stop-color="#481668"/><stop offset="0.7083" stop-color="#481668"/><stop offset="0.7500" stop-color="#481668"/><stop offset="0.7500" stop-color="#482071"/><stop offset="0.7917" stop-color="#482071"/><stop offset="0.7917" stop-color="#31688e"/><stop offset="0.8333" stop-color="#31688e"/><stop offset="0.8333" stop-color="#482878"/><stop offset="0.8750" stop-color="#482878"/><stop offset="0.8750" stop-color="#2d708e"/><stop offset="0.9167" stop-color="#2d708e"/><stop offset="0.9167" stop-color="#414487"/><stop offset="0.9583" stop-color="#414487"/><stop offset="0.9583" stop-color="#472f7d"/><stop offset="1.0000" stop-color="#472f7d"/></linearGradient></defs>
<rect x="80.2" y="187.2" width="18.3" height="128.5" fill="url(#hc2)"/>
<defs><linearGradient id="hc3" x1="0" y1="0" x2="0" y2="1"><stop offset="0.0000" stop-color="#2db27d"/><stop offset="0.0417" stop-color="#2db27d"/><stop offset="0.0417" stop-color="#2e6e8e"/><stop offset="0.0833" stop-color="#2e6e8e"/><stop offset="0.0833" stop-color="#375a8c"/><stop offset="0.1250" stop-color="#375a8c"/><stop offset="0.1250" stop-color="#472f7d"/><stop offset="0.1667" stop-color="#472f7d"/><stop offset="0.1667" stop-color="#31688e"/><stop offset="0.2083" stop-color="#31688e"/><stop offset="0.2083" stop-color="#297b8e"/><stop offset="0.2500" stop-color="#297b8e"/><stop offset="0.2500" stop-color="#375a8c"/><stop offset="0.2917" stop-color="#375a8c"/><stop offset="0.2917" stop-color="#4ac16d"/><stop offset="0.3333" stop-color="#4ac16d"/><stop offset="0.3333" stop-color="#3c508b"/><stop offset="0.3750" stop-color="#3c508b"/><stop offset="0.3750" stop-color="#46327e"/><stop offset="0.4167" stop-color="#46327e"/><stop offset="0.4167" stop-color="#31688e"/><stop offset="0.4583" stop-color="#31688e"/><stop offset="0.4583" stop-color="#414487"/><stop offset="0.5000" stop-color="#414487"/><stop offset="0.5000" stop-color="#482071"/><stop offset="0.5417" stop-color="#482071"/><stop offset="0.5417" stop-color="#433d84"/><stop offset="0.5833" stop-color="#433d84"/><stop offset="0.5833" stop-color="#481668"/><stop offset="0.6250" stop-color="#481668"/><stop offset="0.6250" stop-color="#2e6e8e"/><stop offset="0.6667" stop-color="#2e6e8e"/><stop offset="0.6667" stop-color="#471164"/><stop offset="0.7083" stop-color="#471164"/><stop offset="0.7083" stop-color="#481668"/><stop offset="0.7500" stop-color="#481668"/><stop offset="0.7500" stop-color="#481a6c"/><stop offset="0.7917" stop-color="#481a6c"/><stop offset="0.7917" stop-color="#375a8c"/><stop offset="0.8333" stop-color="#375a8c"/><stop offset="0.8333" stop-color="#481c6e"/><stop offset="0.8750" stop-color="#481c6e"/><stop offset="0.8750" stop-color="#2b758e"/><stop offset="0.9167" stop-color="#2b758e"/><stop offset="0.9167" stop-color="#433d84"/><stop offset="0.9583" stop-color="#433d84"/><stop offset="0.9583" stop-color="#472f7d"/><stop offset="1.0000" stop-color="#472f7d"/></linearGradient></defs>
<rect x="98.2" y="187.2" width="14.6" height="128.5" fill="url(#hc3)"/>
<defs><linearGradient id="hc4" x1="0" y1="0" x2="0" y2="1"><stop offset="0.0000" stop-color="#2db27d"/><stop offset="0.0417" stop-color="#2db27d"/><stop offset="0.0417" stop-color="#218e8d"/><stop offset="0.0833" stop-color="#218e8d"/><stop offset="0.0833" stop-color="#482878"/><stop offset="0.1250" stop-color="#482878"/><stop offset="0.1250" stop-color="#21a585"/><stop offset="0.1667" stop-color="#21a585"/><stop offset="0.1667" stop-color="#1f958b"/><stop offset="0.2083" stop-color="#1f958b"/><stop offset="0.2083" stop-color="#23888e"/><stop offset="0.2500" stop-color="#23888e"/><stop offset="0.2500" stop-color="#23888e"/><stop offset="0.2917" stop-color="#23888e"/><stop offset="0.2917" stop-color="#35b779"/><stop offset="0.3333" stop-color="#35b779"/><stop offset="0.3333" stop-color="#3e4989"/><stop offset="0.3750" stop-color="#3e4989"/><stop offset="0.3750" stop-color="#472f7d"/><stop offset="0.4167" stop-color="#472f7d"/><stop offset="0.4167" stop-color="#2d708e"/><stop offset="0.4583" stop-color="#2d708e"/><stop offset="0.4583" stop-color="#2d708e"/><stop offset="0.5000" stop-color="#2d708e"/><stop offset="0.5000" stop-color="#482071"/><stop offset="0.5417" stop-color="#482071"/><stop offset="0.5417" stop-color="#3c508b"/><stop offset="0.5833" stop-color="#3c508b"/><stop offset="0.5833" stop-color="#471164"/><stop offset="0.6250" stop-color="#471164"/><stop offset="0.6250" stop-color="#481668"/><stop offset="0.6667" stop-color="#481668"/><stop offset="0.6667" stop-color="#471164"/><stop offset="0.7083" stop-color="#471164"/><stop offset="0.7083" stop-color="#471164"/><stop offset="0.7500" stop-color="#471164"/><stop offset="0.7500" stop-color="#481668"/><stop offset="0.7917" stop-color="#481668"/><stop offset="0.7917" stop-color="#443983"/><stop offset="0.8333" stop-color="#443983"/><stop offset="0.8333" stop-color="#481a6c"/><stop offset="0.8750" stop-color="#481a6c"/><stop offset="0.8750" stop-color="#2b758e"/><stop offset="0.9167" stop-color="#2b758e"/><stop offset="0.9167" stop-color="#277e8e"/><stop offset="0.9583" stop-color="#277e8e"/><stop offset="0.9583" stop-color="#2e6e8e"/><stop offset="1.0000" stop-color="#2e6e8e"/></linearGradient></defs>
<rect x="112.5" y="187.2" width="31.6" height="128.5" fill="url(#hc4)"/>
<defs><linearGradient id="hc5" x1="0" y1="0" x2="0" y2="1"><stop offset="0.0000" stop-color="#1f988b"/><stop offset="0.0417" stop-color="#1f988b"/><stop offset="0.0417" stop-color="#2d708e"/><stop offset="0.0833" stop-color="#2d708e"/><stop offset="0.0833" stop-color="#472f7d"/><stop offset="0.1250" stop-color="#472f7d"/><stop offset="0.1250" stop-color="#2d708e"/><stop offset="0.1667" stop-color="#2d708e"/><stop offset="0.1667" stop-color="#33628d"/><stop offset="0.2083" stop-color="#33628d"/><stop offset="0.2083" stop-color="#2e6e8e"/><stop offset="0.2500" stop-color="#2e6e8e"/><stop offset="0.2500" stop-color="#33628d"/><stop offset="0.2917" stop-color="#33628d"/><stop offset="0.2917" stop-color="#1f988b"/><stop offset="0.3333" stop-color="#1f988b"/><stop offset="0.3333" stop-color="#277e8e"/><stop offset="0.3750" stop-color="#277e8e"/><stop offset="0.3750" stop-color="#26828e"/><stop offset="0.4167" stop-color="#26828e"/><stop offset="0.4167" stop-color="#60ca60"/><stop offset="0.4583" stop-color="#60ca60"/><stop offset="0.4583" stop-color="#26828e"/><stop offset="0.5000" stop-color="#26828e"/><stop offset="0.5000" stop-color="#46327e"/><stop offset="0.5417" stop-color="#46327e"/><stop offset="0.5417" stop-color="#2b758e"/><stop offset="0.5833" stop-color="#2b758e"/><stop offset="0.5833" stop-color="#482878"/><stop offset="0.6250" stop-color="#482878"/><stop offset="0.6250" stop-color="#3e4989"/><stop offset="0.6667" stop-color="#3e4989"/><stop offset="0.6667" stop-color="#26828e"/><stop offset="0.7083" stop-color="#26828e"/><stop offset="0.7083" stop-color="#2b758e"/><stop offset="0.7500" stop-color="#2b758e"/><stop offset="0.7500" stop-color="#482878"/><stop offset="0.7917" stop-color="#482878"/><stop offset="0.7917" stop-color="#375a8c"/><stop offset="0.8333" stop-color="#375a8c"/><stop offset="0.8333" stop-color="#482878"/><stop offset="0.8750" stop-color="#482878"/><stop offset="0.8750" stop-color="#3e4989"/><stop offset="0.9167" stop-color="#3e4989"/><stop offset="0.9167" stop-color="#277e8e"/><stop offset="0.9583" stop-color="#277e8e"/><stop offset="0.9583" stop-color="#2b758e"/><stop offset="1.0000" stop-color="#2b758e"/></linearGradient></defs>
<rect x="143.8" y="187.2" width="9.3" height="128.5" fill="url(#hc5)"/>
<defs><linearGradient id="hc6" x1="0" y1="0" x2="0" y2="1"><stop offset="0.0000" stop-color="#21918c"/><stop offset="0.0417" stop-color="#21918c"/><stop offset="0.0417" stop-color="#31688e"/><stop offset="0.0833" stop-color="#31688e"/><stop offset="0.0833" stop-color="#472f7d"/><stop offset="0.1250" stop-color="#472f7d"/><stop offset="0.1250" stop-color="#2b758e"/><stop offset="0.1667" stop-color="#2b758e"/><stop offset="0.1667" stop-color="#375a8c"/><stop offset="0.2083" stop-color="#375a8c"/><stop offset="0.2083" stop-color="#31688e"/><stop offset="0.2500" stop-color="#31688e"/><stop offset="0.2500" stop-color="#375a8c"/><stop offset="0.2917" stop-color="#375a8c"/><stop offset="0.2917" stop-color="#21918c"/><stop offset="0.3333" stop-color="#21918c"/><stop offset="0.3333" stop-color="#2b758e"/><stop offset="0.3750" stop-color="#2b758e"/><stop offset="0.3750" stop-color="#2b758e"/><stop offset="0.4167" stop-color="#2b758e"/><stop offset="0.4167" stop-color="#35b779"/><stop offset="0.4583" stop-color="#35b779"/><stop offset="0.4583" stop-color="#2b758e"/><stop offset="0.5000" stop-color="#2b758e"/><stop offset="0.5000" stop-color="#46327e"/><stop offset="0.5417" stop-color="#46327e"/><stop offset="0.5417" stop-color="#2e6e8e"/><stop offset="0.5833" stop-color="#2e6e8e"/><stop offset="0.5833" stop-color="#482878"/><stop offset="0.6250" stop-color="#482878"/><stop offset="0.6250" stop-color="#3e4989"/><stop offset="0.6667" stop-color="#3e4989"/><stop offset="0.6667" stop-color="#375a8c"/><stop offset="0.7083" stop-color="#375a8c"/><stop offset="0.7083" stop-color="#3e4989"/><stop offset="0.7500" stop-color="#3e4989"/><stop offset="0.7500" stop-color="#482878"/><stop offset="0.7917" stop-color="#482878"/><stop offset="0.7917" stop-color="#375a8c"/><stop offset="0.8333" stop-color="#375a8c"/><stop offset="0.8333" stop-color="#482878"/><stop offset="0.8750" stop-color="#482878"/><stop offset="0.8750" stop-color="#3c508b"/><stop offset="0.9167" stop-color="#3c508b"/><stop offset="0.9167" stop-color="#2b758e"/><stop offset="0.9583" stop-color="#2b758e"/><stop offset="0.9583" stop-color="#2b758e"/><stop offset="1.0000" stop-color="#2b758e"/></linearGradient></defs>
<rect x="152.8" y="187.2" width="4.4" height="128.5" fill="url(#hc6)"/>
<defs><linearGradient id="hc7" x1="0" y1="0" x2="0" y2="1"><stop offset="0.0000" stop-color="#1f9e89"/><stop offset="0.0417" stop-color="#1f9e89"/><stop offset="0.0417" stop-color="#443983"/><stop offset="0.0833" stop-color="#443983"/><stop offset="0.0833" stop-color="#482071"/><stop offset="0.1250" stop-color="#482071"/><stop offset="0.1250" stop-color="#1fa287"/><stop offset="0.1667" stop-color="#1fa287"/><stop offset="0.1667" stop-color="#3e4989"/><stop offset="0.2083" stop-color="#3e4989"/><stop offset="0.2083" stop-color="#3c508b"/><stop offset="0.2500" stop-color="#3c508b"/><stop offset="0.2500" stop-color="#3e4989"/><stop offset="0.2917" stop-color="#3e4989"/><stop offset="0.2917" stop-color="#1fa287"/><stop offset="0.3333" stop-color="#1fa287"/><stop offset="0.3333" stop-color="#3e4989"/><stop offset="0.3750" stop-color="#3e4989"/><stop offset="0.3750" stop-color="#2e6e8e"/><stop offset="0.4167" stop-color="#2e6e8e"/><stop offset="0.4167" stop-color="#6ece58"/><stop offset="0.4583" stop-color="#6ece58"/><stop offset="0.4583" stop-color="#26828e"/><stop offset="0.5000" stop-color="#26828e"/><stop offset="0.5000" stop-color="#482878"/><stop offset="0.5417" stop-color="#482878"/><stop offset="0.5417" stop-color="#26828e"/><stop offset="0.5833" stop-color="#26828e"/><stop offset="0.5833" stop-color="#482878"/><stop offset="0.6250" stop-color="#482878"/><stop offset="0.6250" stop-color="#481668"/><stop offset="0.6667" stop-color="#481668"/><stop offset="0.6667" stop-color="#481668"/><stop offset="0.7083" stop-color="#481668"/><stop offset="0.7083" stop-color="#481668"/><stop offset="0.7500" stop-color="#481668"/><stop offset="0.7500" stop-color="#481a6c"/><stop offset="0.7917" stop-color="#481a6c"/><stop offset="0.7917" stop-color="#2b758e"/><stop offset="0.8333" stop-color="#2b758e"/><stop offset="0.8333" stop-color="#482071"/><stop offset="0.8750" stop-color="#482071"/><stop offset="0.8750" stop-color="#1f988b"/><stop offset="0.9167" stop-color="#1f988b"/><stop offset="0.9167" stop-color="#23888e"/><stop offset="0.9583" stop-color="#23888e"/><stop offset="0.9583" stop-color="#23888e"/><stop offset="1.0000" stop-color="#23888e"/></linearGradient></defs>
<rect x="156.9" y="187.2" width="21.4" height="128.5" fill="url(#hc7)"/>
<defs><linearGradient id="hc8" x1="0" y1="0" x2="0" y2="1"><stop offset="0.0000" stop-color="#26828e"/><stop offset="0.0417" stop-color="#26828e"/><stop offset="0.0417" stop-color="#375a8c"/><stop offset="0.0833" stop-color="#375a8c"/><stop offset="0.0833" stop-color="#482878"/><stop offset="0.1250" stop-color="#482878"/><stop offset="0.1250" stop-color="#26828e"/><stop offset="0.1667" stop-color="#26828e"/><stop offset="0.1667" stop-color="#375a8c"/><stop offset="0.2083" stop-color="#375a8c"/><stop offset="0.2083" stop-color="#3e4989"/><stop offset="0.2500" stop-color="#3e4989"/><stop offset="0.2500" stop-color="#375a8c"/><stop offset="0.2917" stop-color="#375a8c"/><stop offset="0.2917" stop-color="#26828e"/><stop offset="0.3333" stop-color="#26828e"/><stop offset="0.3333" stop-color="#375a8c"/><stop offset="0.3750" stop-color="#375a8c"/><stop offset="0.3750" stop-color="#375a8c"/><stop offset="0.4167" stop-color="#375a8c"/><stop offset="0.4167" stop-color="#21918c"/><stop offset="0.4583" stop-color="#21918c"/><stop offset="0.4583" stop-color="#31688e"/><stop offset="0.5000" stop-color="#31688e"/><stop offset="0.5000" stop-color="#472f7d"/><stop offset="0.5417" stop-color="#472f7d"/><stop offset="0.5417" stop-color="#2b758e"/><stop offset="0.5833" stop-color="#2b758e"/><stop offset="0.5833" stop-color="#482878"/><stop offset="0.6250" stop-color="#482878"/><stop offset="0.6250" stop-color="#375a8c"/><stop offset="0.6667" stop-color="#375a8c"/><stop offset="0.6667" stop-color="#482878"/><stop offset="0.7083" stop-color="#482878"/><stop offset="0.7083" stop-color="#482878"/><stop offset="0.7500" stop-color="#482878"/><stop offset="0.7500" stop-color="#482878"/><stop offset="0.7917" stop-color="#482878"/><stop offset="0.7917" stop-color="#375a8c"/><stop offset="0.8333" stop-color="#375a8c"/><stop offset="0.8333" stop-color="#482878"/><stop offset="0.8750" stop-color="#482878"/><stop offset="0.8750" stop-color="#26828e"/><stop offset="0.9167" stop-color="#26828e"/><stop offset="0.9167" stop-color="#375a8c"/><stop offset="0.9583" stop-color="#375a8c"/><stop offset="0.9583" stop-color="#2b758e"/><stop offset="1.0000" stop-color="#2b758e"/></linearGradient></defs>
<rect x="178" y="187.2" width="7.7" height="128.5" fill="url(#hc8)"/>
<defs><linearGradient id="hc9" x1="0" y1="0" x2="0" y2="1"><stop offset="0.0000" stop-color="#25ab82"/><stop offset="0.0417" stop-color="#25ab82"/><stop offset="0.0417" stop-color="#3e4989"/><stop offset="0.0833" stop-color="#3e4989"/><stop offset="0.0833" stop-color="#482878"/><stop offset="0.1250" stop-color="#482878"/><stop offset="0.1250" stop-color="#21a585"/><stop offset="0.1667" stop-color="#21a585"/><stop offset="0.1667" stop-color="#3e4989"/><stop offset="0.2083" stop-color="#3e4989"/><stop offset="0.2083" stop-color="#3e4989"/><stop offset="0.2500" stop-color="#3e4989"/><stop offset="0.2500" stop-color="#3e4989"/><stop offset="0.2917" stop-color="#3e4989"/><stop offset="0.2917" stop-color="#21a585"/><stop offset="0.3333" stop-color="#21a585"/><stop offset="0.3333" stop-color="#3e4989"/><stop offset="0.3750" stop-color="#3e4989"/><stop offset="0.3750" stop-color="#2b758e"/><stop offset="0.4167" stop-color="#2b758e"/><stop offset="0.4167" stop-color="#a5db36"/><stop offset="0.4583" stop-color="#a5db36"/><stop offset="0.4583" stop-color="#277e8e"/><stop offset="0.5000" stop-color="#277e8e"/><stop offset="0.5000" stop-color="#482878"/><stop offset="0.5417" stop-color="#482878"/><stop offset="0.5417" stop-color="#26828e"/><stop offset="0.5833" stop-color="#26828e"/><stop offset="0.5833" stop-color="#482878"/><stop offset="0.6250" stop-color="#482878"/><stop offset="0.6250" stop-color="#482878"/><stop offset="0.6667" stop-color="#482878"/><stop offset="0.6667" stop-color="#3e4989"/><stop offset="0.7083" stop-color="#3e4989"/><stop offset="0.7083" stop-color="#482878"/><stop offset="0.7500" stop-color="#482878"/><stop offset="0.7500" stop-color="#482878"/><stop offset="0.7917" stop-color="#482878"/><stop offset="0.7917" stop-color="#277e8e"/><stop offset="0.8333" stop-color="#277e8e"/><stop offset="0.8333" stop-color="#482878"/><stop offset="0.8750" stop-color="#482878"/><stop offset="0.8750" stop-color="#21918c"/><stop offset="0.9167" stop-color="#21918c"/><stop offset="0.9167" stop-color="#26828e"/><stop offset="0.9583" stop-color="#26828e"/><stop offset="0.9583" stop-color="#26828e"/><stop offset="1.0000" stop-color="#26828e"/></linearGradient></defs>
<rect x="185.4" y="187.2" width="9.3" height="128.5" fill="url(#hc9)"/>
<defs><linearGradient id="hc10" x1="0" y1="0" x2="0" y2="1"><stop offset="0.0000" stop-color="#2db27d"/><stop offset="0.0417" stop-color="#2db27d"/><stop offset="0.0417" stop-color="#482071"/><stop offset="0.0833" stop-color="#482071"/><stop offset="0.0833" stop-color="#26828e"/><stop offset="0.1250" stop-color="#26828e"/><stop offset="0.1250" stop-color="#482071"/><stop offset="0.1667" stop-color="#482071"/><stop offset="0.1667" stop-color="#277e8e"/><stop offset="0.2083" stop-color="#277e8e"/><stop offset="0.2083" stop-color="#1f988b"/><stop offset="0.2500" stop-color="#1f988b"/><stop offset="0.2500" stop-color="#23888e"/><stop offset="0.2917" stop-color="#23888e"/><stop offset="0.2917" stop-color="#44bf70"/><stop offset="0.3333" stop-color="#44bf70"/><stop offset="0.3333" stop-color="#482878"/><stop offset="0.3750" stop-color="#482878"/><stop offset="0.3750" stop-color="#481668"/><stop offset="0.4167" stop-color="#481668"/><stop offset="0.4167" stop-color="#481668"/><stop offset="0.4583" stop-color="#481668"/><stop offset="0.4583" stop-color="#482071"/><stop offset="0.5000" stop-color="#482071"/><stop offset="0.5000" stop-color="#481668"/><stop offset="0.5417" stop-color="#481668"/><stop offset="0.5417" stop-color="#482071"/><stop offset="0.5833" stop-color="#482071"/><stop offset="0.5833" stop-color="#481668"/><stop offset="0.6250" stop-color="#481668"/><stop offset="0.6250" stop-color="#414487"/><stop offset="0.6667" stop-color="#414487"/><stop offset="0.6667" stop-color="#471164"/><stop offset="0.7083" stop-color="#471164"/><stop offset="0.7083" stop-color="#471164"/><stop offset="0.7500" stop-color="#471164"/><stop offset="0.7500" stop-color="#481668"/><stop offset="0.7917" stop-color="#481668"/><stop offset="0.7917" stop-color="#482878"/><stop offset="0.8333" stop-color="#482878"/><stop offset="0.8333" stop-color="#482878"/><stop offset="0.8750" stop-color="#482878"/><stop offset="0.8750" stop-color="#31688e"/><stop offset="0.9167" stop-color="#31688e"/><stop offset="0.9167" stop-color="#482878"/><stop offset="0.9583" stop-color="#482878"/><stop offset="0.9583" stop-color="#482878"/><stop offset="1.0000" stop-color="#482878"/></linearGradient></defs>
<rect x="194.4" y="187.2" width="12.4" height="128.5" fill="url(#hc10)"/>
<defs><linearGradient id="hc11" x1="0" y1="0" x2="0" y2="1"><stop offset="0.0000" stop-color="#35b779"/><stop offset="0.0417" stop-color="#35b779"/><stop offset="0.0417" stop-color="#472f7d"/><stop offset="0.0833" stop-color="#472f7d"/><stop offset="0.0833" stop-color="#23888e"/><stop offset="0.1250" stop-color="#23888e"/><stop offset="0.1250" stop-color="#482475"/><stop offset="0.1667" stop-color="#482475"/><stop offset="0.1667" stop-color="#1f988b"/><stop offset="0.2083" stop-color="#1f988b"/><stop offset="0.2083" stop-color="#228b8d"/><stop offset="0.2500" stop-color="#228b8d"/><stop offset="0.2500" stop-color="#277e8e"/><stop offset="0.2917" stop-color="#277e8e"/><stop offset="0.2917" stop-color="#35b779"/><stop offset="0.3333" stop-color="#35b779"/><stop offset="0.3333" stop-color="#481c6e"/><stop offset="0.3750" stop-color="#481c6e"/><stop offset="0.3750" stop-color="#481668"/><stop offset="0.4167" stop-color="#481668"/><stop offset="0.4167" stop-color="#482878"/><stop offset="0.4583" stop-color="#482878"/><stop offset="0.4583" stop-color="#482071"/><stop offset="0.5000" stop-color="#482071"/><stop offset="0.5000" stop-color="#481668"/><stop offset="0.5417" stop-color="#481668"/><stop offset="0.5417" stop-color="#482878"/><stop offset="0.5833" stop-color="#482878"/><stop offset="0.5833" stop-color="#481668"/><stop offset="0.6250" stop-color="#481668"/><stop offset="0.6250" stop-color="#3c508b"/><stop offset="0.6667" stop-color="#3c508b"/><stop offset="0.6667" stop-color="#471164"/><stop offset="0.7083" stop-color="#471164"/><stop offset="0.7083" stop-color="#471164"/><stop offset="0.7500" stop-color="#471164"/><stop offset="0.7500" stop-color="#481668"/><stop offset="0.7917" stop-color="#481668"/><stop offset="0.7917" stop-color="#472f7d"/><stop offset="0.8333" stop-color="#472f7d"/><stop offset="0.8333" stop-color="#443983"/><stop offset="0.8750" stop-color="#443983"/><stop offset="0.8750" stop-color="#31688e"/><stop offset="0.9167" stop-color="#31688e"/><stop offset="0.9167" stop-color="#482878"/><stop offset="0.9583" stop-color="#482878"/><stop offset="0.9583" stop-color="#472f7d"/><stop offset="1.0000" stop-color="#472f7d"/></linearGradient></defs>
<rect x="206.5" y="187.2" width="26.3" height="128.5" fill="url(#hc11)"/>
<defs><linearGradient id="hc12" x1="0" y1="0" x2="0" y2="1"><stop offset="0.0000" stop-color="#2db27d"/><stop offset="0.0417" stop-color="#2db27d"/><stop offset="0.0417" stop-color="#482878"/><stop offset="0.0833" stop-color="#482878"/><stop offset="0.0833" stop-color="#2d708e"/><stop offset="0.1250" stop-color="#2d708e"/><stop offset="0.1250" stop-color="#482071"/><stop offset="0.1667" stop-color="#482071"/><stop offset="0.1667" stop-color="#2b758e"/><stop offset="0.2083" stop-color="#2b758e"/><stop offset="0.2083" stop-color="#25ab82"/><stop offset="0.2500" stop-color="#25ab82"/><stop offset="0.2500" stop-color="#26828e"/><stop offset="0.2917" stop-color="#26828e"/><stop offset="0.2917" stop-color="#3fbc73"/><stop offset="0.3333" stop-color="#3fbc73"/><stop offset="0.3333" stop-color="#482071"/><stop offset="0.3750" stop-color="#482071"/><stop offset="0.3750" stop-color="#481a6c"/><stop offset="0.4167" stop-color="#481a6c"/><stop offset="0.4167" stop-color="#414487"/><stop offset="0.4583" stop-color="#414487"/><stop offset="0.4583" stop-color="#482071"/><stop offset="0.5000" stop-color="#482071"/><stop offset="0.5000" stop-color="#481668"/><stop offset="0.5417" stop-color="#481668"/><stop offset="0.5417" stop-color="#443983"/><stop offset="0.5833" stop-color="#443983"/><stop offset="0.5833" stop-color="#481668"/><stop offset="0.6250" stop-color="#481668"/><stop offset="0.6250" stop-color="#414487"/><stop offset="0.6667" stop-color="#414487"/><stop offset="0.6667" stop-color="#471164"/><stop offset="0.7083" stop-color="#471164"/><stop offset="0.7083" stop-color="#471164"/><stop offset="0.7500" stop-color="#471164"/><stop offset="0.7500" stop-color="#481a6c"/><stop offset="0.7917" stop-color="#481a6c"/><stop offset="0.7917" stop-color="#443983"/><stop offset="0.8333" stop-color="#443983"/><stop offset="0.8333" stop-color="#482878"/><stop offset="0.8750" stop-color="#482878"/><stop offset="0.8750" stop-color="#414487"/><stop offset="0.9167" stop-color="#414487"/><stop offset="0.9167" stop-color="#482878"/><stop offset="0.9583" stop-color="#482878"/><stop offset="0.9583" stop-color="#472f7d"/><stop offset="1.0000" stop-color="#472f7d"/></linearGradient></defs>
<rect x="232.5" y="187.2" width="19.8" height="128.5" fill="url(#hc12)"/>
<defs><linearGradient id="hc13" x1="0" y1="0" x2="0" y2="1"><stop offset="0.0000" stop-color="#1f9e89"/><stop offset="0.0417" stop-color="#1f9e89"/><stop offset="0.0417" stop-color="#482878"/><stop offset="0.0833" stop-color="#482878"/><stop offset="0.0833" stop-color="#26828e"/><stop offset="0.1250" stop-color="#26828e"/><stop offset="0.1250" stop-color="#482878"/><stop offset="0.1667" stop-color="#482878"/><stop offset="0.1667" stop-color="#277e8e"/><stop offset="0.2083" stop-color="#277e8e"/><stop offset="0.2083" stop-color="#277e8e"/><stop offset="0.2500" stop-color="#277e8e"/><stop offset="0.2500" stop-color="#2e6e8e"/><stop offset="0.2917" stop-color="#2e6e8e"/><stop offset="0.2917" stop-color="#1f9e89"/><stop offset="0.3333" stop-color="#1f9e89"/><stop offset="0.3333" stop-color="#482878"/><stop offset="0.3750" stop-color="#482878"/><stop offset="0.3750" stop-color="#482878"/><stop offset="0.4167" stop-color="#482878"/><stop offset="0.4167" stop-color="#2b758e"/><stop offset="0.4583" stop-color="#2b758e"/><stop offset="0.4583" stop-color="#25ab82"/><stop offset="0.5000" stop-color="#25ab82"/><stop offset="0.5000" stop-color="#472f7d"/><stop offset="0.5417" stop-color="#472f7d"/><stop offset="0.5417" stop-color="#2b758e"/><stop offset="0.5833" stop-color="#2b758e"/><stop offset="0.5833" stop-color="#482878"/><stop offset="0.6250" stop-color="#482878"/><stop offset="0.6250" stop-color="#375a8c"/><stop offset="0.6667" stop-color="#375a8c"/><stop offset="0.6667" stop-color="#482071"/><stop offset="0.7083" stop-color="#482071"/><stop offset="0.7083" stop-color="#482071"/><stop offset="0.7500" stop-color="#482071"/><stop offset="0.7500" stop-color="#482878"/><stop offset="0.7917" stop-color="#482878"/><stop offset="0.7917" stop-color="#3c508b"/><stop offset="0.8333" stop-color="#3c508b"/><stop offset="0.8333" stop-color="#482878"/><stop offset="0.8750" stop-color="#482878"/><stop offset="0.8750" stop-color="#277e8e"/><stop offset="0.9167" stop-color="#277e8e"/><stop offset="0.9167" stop-color="#443983"/><stop offset="0.9583" stop-color="#443983"/><stop offset="0.9583" stop-color="#31688e"/><stop offset="1.0000" stop-color="#31688e"/></linearGradient></defs>
<rect x="252" y="187.2" width="9.8" height="128.5" fill="url(#hc13)"/>
<defs><linearGradient id="hc14" x1="0" y1="0" x2="0" y2="1"><stop offset="0.0000" stop-color="#1fa287"/><stop offset="0.0417" stop-color="#1fa287"/><stop offset="0.0417" stop-color="#482878"/><stop offset="0.0833" stop-color="#482878"/><stop offset="0.0833" stop-color="#2e6e8e"/><stop offset="0.1250" stop-color="#2e6e8e"/><stop offset="0.1250" stop-color="#482878"/><stop offset="0.1667" stop-color="#482878"/><stop offset="0.1667" stop-color="#2b758e"/><stop offset="0.2083" stop-color="#2b758e"/><stop offset="0.2083" stop-color="#375a8c"/><stop offset="0.2500" stop-color="#375a8c"/><stop offset="0.2500" stop-color="#375a8c"/><stop offset="0.2917" stop-color="#375a8c"/><stop offset="0.2917" stop-color="#1f9e89"/><stop offset="0.3333" stop-color="#1f9e89"/><stop offset="0.3333" stop-color="#482878"/><stop offset="0.3750" stop-color="#482878"/><stop offset="0.3750" stop-color="#482878"/><stop offset="0.4167" stop-color="#482878"/><stop offset="0.4167" stop-color="#2b758e"/><stop offset="0.4583" stop-color="#2b758e"/><stop offset="0.4583" stop-color="#26828e"/><stop offset="0.5000" stop-color="#26828e"/><stop offset="0.5000" stop-color="#482878"/><stop offset="0.5417" stop-color="#482878"/><stop offset="0.5417" stop-color="#375a8c"/><stop offset="0.5833" stop-color="#375a8c"/><stop offset="0.5833" stop-color="#482878"/><stop offset="0.6250" stop-color="#482878"/><stop offset="0.6250" stop-color="#472f7d"/><stop offset="0.6667" stop-color="#472f7d"/><stop offset="0.6667" stop-color="#482071"/><stop offset="0.7083" stop-color="#482071"/><stop offset="0.7083" stop-color="#482071"/><stop offset="0.7500" stop-color="#482071"/><stop offset="0.7500" stop-color="#482878"/><stop offset="0.7917" stop-color="#482878"/><stop offset="0.7917" stop-color="#2b758e"/><stop offset="0.8333" stop-color="#2b758e"/><stop offset="0.8333" stop-color="#482878"/><stop offset="0.8750" stop-color="#482878"/><stop offset="0.8750" stop-color="#2b758e"/><stop offset="0.9167" stop-color="#2b758e"/><stop offset="0.9167" stop-color="#472f7d"/><stop offset="0.9583" stop-color="#472f7d"/><stop offset="0.9583" stop-color="#31688e"/><stop offset="1.0000" stop-color="#31688e"/></linearGradient></defs>
<rect x="261.5" y="187.2" width="8" height="128.5" fill="url(#hc14)"/>
<defs><linearGradient id="hc15" x1="0" y1="0" x2="0" y2="1"><stop offset="0.0000" stop-color="#2db27d"/><stop offset="0.0417" stop-color="#2db27d"/><stop offset="0.0417" stop-color="#472f7d"/><stop offset="0.0833" stop-color="#472f7d"/><stop offset="0.0833" stop-color="#1f988b"/><stop offset="0.1250" stop-color="#1f988b"/><stop offset="0.1250" stop-color="#482878"/><stop offset="0.1667" stop-color="#482878"/><stop offset="0.1667" stop-color="#3e4989"/><stop offset="0.2083" stop-color="#3e4989"/><stop offset="0.2083" stop-color="#482878"/><stop offset="0.2500" stop-color="#482878"/><stop offset="0.2500" stop-color="#414487"/><stop offset="0.2917" stop-color="#414487"/><stop offset="0.2917" stop-color="#26828e"/><stop offset="0.3333" stop-color="#26828e"/><stop offset="0.3333" stop-color="#482878"/><stop offset="0.3750" stop-color="#482878"/><stop offset="0.3750" stop-color="#21a585"/><stop offset="0.4167" stop-color="#21a585"/><stop offset="0.4167" stop-color="#dae319"/><stop offset="0.4583" stop-color="#dae319"/><stop offset="0.4583" stop-color="#228b8d"/><stop offset="0.5000" stop-color="#228b8d"/><stop offset="0.5000" stop-color="#482878"/><stop offset="0.5417" stop-color="#482878"/><stop offset="0.5417" stop-color="#1f9e89"/><stop offset="0.5833" stop-color="#1f9e89"/><stop offset="0.5833" stop-color="#482878"/><stop offset="0.6250" stop-color="#482878"/><stop offset="0.6250" stop-color="#26828e"/><stop offset="0.6667" stop-color="#26828e"/><stop offset="0.6667" stop-color="#482071"/><stop offset="0.7083" stop-color="#482071"/><stop offset="0.7083" stop-color="#482071"/><stop offset="0.7500" stop-color="#482071"/><stop offset="0.7500" stop-color="#482071"/><stop offset="0.7917" stop-color="#482071"/><stop offset="0.7917" stop-color="#26828e"/><stop offset="0.8333" stop-color="#26828e"/><stop offset="0.8333" stop-color="#482071"/><stop offset="0.8750" stop-color="#482071"/><stop offset="0.8750" stop-color="#2a788e"/><stop offset="0.9167" stop-color="#2a788e"/><stop offset="0.9167" stop-color="#1f988b"/><stop offset="0.9583" stop-color="#1f988b"/><stop offset="0.9583" stop-color="#23888e"/><stop offset="1.0000" stop-color="#23888e"/></linearGradient></defs>
<rect x="269.2" y="187.2" width="21.6" height="128.5" fill="url(#hc15)"/>
<defs><pattern id="stri" x="0" y="0" width="7" height="10" patternUnits="userSpaceOnUse"><rect x="0.5" y="0" width="0.8" height="10" fill="#000" opacity="0.10"/><rect x="2.3" y="0" width="0.6" height="10" fill="#fff" opacity="0.07"/><rect x="4.1" y="0" width="1" height="10" fill="#000" opacity="0.07"/><rect x="5.9" y="0" width="0.6" height="10" fill="#fff" opacity="0.06"/></pattern></defs>
<rect x="30.8" y="187.2" width="259.7" height="128.5" fill="url(#stri)"/>
<line x1="64.8" y1="187.2" x2="64.8" y2="315.7" stroke="#182424" stroke-width="1"/>
<line x1="80.2" y1="187.2" x2="80.2" y2="315.7" stroke="#182424" stroke-width="1"/>
<line x1="98.2" y1="187.2" x2="98.2" y2="315.7" stroke="#182424" stroke-width="1"/>
<line x1="112.5" y1="187.2" x2="112.5" y2="315.7" stroke="#182424" stroke-width="1"/>
<line x1="143.8" y1="187.2" x2="143.8" y2="315.7" stroke="#182424" stroke-width="1"/>
<line x1="152.8" y1="187.2" x2="152.8" y2="315.7" stroke="#182424" stroke-width="1"/>
<line x1="156.9" y1="187.2" x2="156.9" y2="315.7" stroke="#182424" stroke-width="1"/>
<line x1="178" y1="187.2" x2="178" y2="315.7" stroke="#182424" stroke-width="1"/>
<line x1="185.4" y1="187.2" x2="185.4" y2="315.7" stroke="#182424" stroke-width="1"/>
<line x1="194.4" y1="187.2" x2="194.4" y2="315.7" stroke="#182424" stroke-width="1"/>
<line x1="206.5" y1="187.2" x2="206.5" y2="315.7" stroke="#182424" stroke-width="1"/>
<line x1="232.5" y1="187.2" x2="232.5" y2="315.7" stroke="#182424" stroke-width="1"/>
<line x1="252" y1="187.2" x2="252" y2="315.7" stroke="#182424" stroke-width="1"/>
<line x1="261.5" y1="187.2" x2="261.5" y2="315.7" stroke="#182424" stroke-width="1"/>
<line x1="269.2" y1="187.2" x2="269.2" y2="315.7" stroke="#182424" stroke-width="1"/>
<line x1="155.4" y1="187.2" x2="155.4" y2="315.7" stroke="#1a1a1a" stroke-width="0.5"/>
<rect x="30.8" y="187.2" width="259.7" height="128.5" fill="none" stroke="#1a1a2a" stroke-width="0.7" opacity="0.8"/>
<rect x="30.8" y="170" width="163.6" height="8.4" fill="#c8102e" stroke="#8e0c20" stroke-width="0.5"/>
<rect x="194.4" y="170" width="95.8" height="8.4" fill="#27286a" stroke="#1a1a48" stroke-width="0.5"/>
<rect x="30.8" y="178.9" width="81.5" height="6.7" fill="#f8d508" stroke="#9a8420" stroke-width="0.5"/>
<rect x="112.5" y="178.9" width="81.7" height="6.7" fill="#9550a8" stroke="#5e2c60" stroke-width="0.5"/>
<rect x="194.6" y="178.9" width="37.9" height="6.7" fill="#f8d508" stroke="#9a8420" stroke-width="0.5"/>
<rect x="232.7" y="178.9" width="57.5" height="6.7" fill="#9550a8" stroke="#5e2c60" stroke-width="0.5"/>
<text x="112.5" y="176.2" font-size="5.8" fill="#fbe3e6" text-anchor="middle">CAR<tspan font-size="3.6" dy="-1.9">pos</tspan></text>
<text x="242.3" y="176.2" font-size="5.8" fill="#e6e6f2" text-anchor="middle">CAR<tspan font-size="3.6" dy="-1.9">neg</tspan></text>
<text x="71.5" y="184.3" font-size="5" text-anchor="middle" fill="#6b5a1a" stroke="#6b5a1a" stroke-width="0.1">CD4+</text>
<text x="153.4" y="184.3" font-size="5" text-anchor="middle" fill="#eadcee" stroke="#eadcee" stroke-width="0.1">CD8+</text>
<text x="213.5" y="184.3" font-size="5" text-anchor="middle" fill="#6b5a1a" stroke="#6b5a1a" stroke-width="0.1">CD4+</text>
<text x="261.4" y="184.3" font-size="5" text-anchor="middle" fill="#eadcee" stroke="#eadcee" stroke-width="0.1">CD8+</text>
<text x="25" y="191.9" font-size="5.8" text-anchor="end" fill="#231f20" textLength="13.5" lengthAdjust="spacingAndGlyphs" stroke="#231f20" stroke-width="0.1">CD3E</text>
<line x1="28" y1="189.9" x2="30.6" y2="189.9" stroke="#231f20" stroke-width="0.9"/>
<text x="25" y="197.3" font-size="5.8" text-anchor="end" fill="#231f20" textLength="10.7" lengthAdjust="spacingAndGlyphs" stroke="#231f20" stroke-width="0.1">CAR</text>
<line x1="28" y1="195.2" x2="30.6" y2="195.2" stroke="#231f20" stroke-width="0.9"/>
<text x="25" y="202.6" font-size="5.8" text-anchor="end" fill="#231f20" textLength="10.1" lengthAdjust="spacingAndGlyphs" stroke="#231f20" stroke-width="0.1">CD4</text>
<line x1="28" y1="200.6" x2="30.6" y2="200.6" stroke="#231f20" stroke-width="0.9"/>
<text x="25" y="208" font-size="5.8" text-anchor="end" fill="#231f20" textLength="13.5" lengthAdjust="spacingAndGlyphs" stroke="#231f20" stroke-width="0.1">CD8A</text>
<line x1="28" y1="205.9" x2="30.6" y2="205.9" stroke="#231f20" stroke-width="0.9"/>
<text x="25" y="213.3" font-size="5.8" text-anchor="end" fill="#231f20" textLength="13.7" lengthAdjust="spacingAndGlyphs" stroke="#231f20" stroke-width="0.1">CCR7</text>
<line x1="28" y1="211.3" x2="30.6" y2="211.3" stroke="#231f20" stroke-width="0.9"/>
<text x="25" y="218.7" font-size="5.8" text-anchor="end" fill="#231f20" textLength="12.3" lengthAdjust="spacingAndGlyphs" stroke="#231f20" stroke-width="0.1">SELL</text>
<line x1="28" y1="216.6" x2="30.6" y2="216.6" stroke="#231f20" stroke-width="0.9"/>
<text x="25" y="224.1" font-size="5.8" text-anchor="end" fill="#231f20" textLength="12.9" lengthAdjust="spacingAndGlyphs" stroke="#231f20" stroke-width="0.1">CD28</text>
<line x1="28" y1="222" x2="30.6" y2="222" stroke="#231f20" stroke-width="0.9"/>
<text x="25" y="229.4" font-size="5.8" text-anchor="end" fill="#231f20" textLength="10.7" lengthAdjust="spacingAndGlyphs" stroke="#231f20" stroke-width="0.1">IL7R</text>
<line x1="28" y1="227.4" x2="30.6" y2="227.4" stroke="#231f20" stroke-width="0.9"/>
<text x="25" y="234.8" font-size="5.8" text-anchor="end" fill="#231f20" textLength="14.6" lengthAdjust="spacingAndGlyphs" stroke="#231f20" stroke-width="0.1">MKI67</text>
<line x1="28" y1="232.7" x2="30.6" y2="232.7" stroke="#231f20" stroke-width="0.9"/>
<text x="25" y="240.1" font-size="5.8" text-anchor="end" fill="#231f20" textLength="14.6" lengthAdjust="spacingAndGlyphs" stroke="#231f20" stroke-width="0.1">GZMA</text>
<line x1="28" y1="238.1" x2="30.6" y2="238.1" stroke="#231f20" stroke-width="0.9"/>
<text x="25" y="245.5" font-size="5.8" text-anchor="end" fill="#231f20" textLength="14.6" lengthAdjust="spacingAndGlyphs" stroke="#231f20" stroke-width="0.1">GZMB</text>
<line x1="28" y1="243.4" x2="30.6" y2="243.4" stroke="#231f20" stroke-width="0.9"/>
<text x="25" y="250.8" font-size="5.8" text-anchor="end" fill="#231f20" textLength="15.4" lengthAdjust="spacingAndGlyphs" stroke="#231f20" stroke-width="0.1">GZMM</text>
<line x1="28" y1="248.8" x2="30.6" y2="248.8" stroke="#231f20" stroke-width="0.9"/>
<text x="25" y="256.2" font-size="5.8" text-anchor="end" fill="#231f20" textLength="14.6" lengthAdjust="spacingAndGlyphs" stroke="#231f20" stroke-width="0.1">GZMK</text>
<line x1="28" y1="254.1" x2="30.6" y2="254.1" stroke="#231f20" stroke-width="0.9"/>
<text x="25" y="261.5" font-size="5.8" text-anchor="end" fill="#231f20" textLength="12.9" lengthAdjust="spacingAndGlyphs" stroke="#231f20" stroke-width="0.1">PRF1</text>
<line x1="28" y1="259.5" x2="30.6" y2="259.5" stroke="#231f20" stroke-width="0.9"/>
<text x="25" y="266.9" font-size="5.8" text-anchor="end" fill="#231f20" textLength="16.3" lengthAdjust="spacingAndGlyphs" stroke="#231f20" stroke-width="0.1">FASLG</text>
<line x1="28" y1="264.8" x2="30.6" y2="264.8" stroke="#231f20" stroke-width="0.9"/>
<text x="25" y="272.2" font-size="5.8" text-anchor="end" fill="#231f20" textLength="17.1" lengthAdjust="spacingAndGlyphs" stroke="#231f20" stroke-width="0.1">PDCD1</text>
<line x1="28" y1="270.2" x2="30.6" y2="270.2" stroke="#231f20" stroke-width="0.9"/>
<text x="25" y="277.6" font-size="5.8" text-anchor="end" fill="#231f20" textLength="17.1" lengthAdjust="spacingAndGlyphs" stroke="#231f20" stroke-width="0.1">CDCA3</text>
<line x1="28" y1="275.5" x2="30.6" y2="275.5" stroke="#231f20" stroke-width="0.9"/>
<text x="25" y="282.9" font-size="5.8" text-anchor="end" fill="#231f20" textLength="17.1" lengthAdjust="spacingAndGlyphs" stroke="#231f20" stroke-width="0.1">CDCA5</text>
<line x1="28" y1="280.9" x2="30.6" y2="280.9" stroke="#231f20" stroke-width="0.9"/>
<text x="25" y="288.3" font-size="5.8" text-anchor="end" fill="#231f20" textLength="7" lengthAdjust="spacingAndGlyphs" stroke="#231f20" stroke-width="0.1">IL2</text>
<line x1="28" y1="286.3" x2="30.6" y2="286.3" stroke="#231f20" stroke-width="0.9"/>
<text x="25" y="293.7" font-size="5.8" text-anchor="end" fill="#231f20" textLength="12.1" lengthAdjust="spacingAndGlyphs" stroke="#231f20" stroke-width="0.1">IFNG</text>
<line x1="28" y1="291.6" x2="30.6" y2="291.6" stroke="#231f20" stroke-width="0.9"/>
<text x="25" y="299" font-size="5.8" text-anchor="end" fill="#231f20" textLength="16.5" lengthAdjust="spacingAndGlyphs" stroke="#231f20" stroke-width="0.1">FOXP3</text>
<line x1="28" y1="297" x2="30.6" y2="297" stroke="#231f20" stroke-width="0.9"/>
<text x="25" y="304.4" font-size="5.8" text-anchor="end" fill="#231f20" textLength="14" lengthAdjust="spacingAndGlyphs" stroke="#231f20" stroke-width="0.1">IL2RA</text>
<line x1="28" y1="302.3" x2="30.6" y2="302.3" stroke="#231f20" stroke-width="0.9"/>
<text x="25" y="309.7" font-size="5.8" text-anchor="end" fill="#231f20" textLength="17.4" lengthAdjust="spacingAndGlyphs" stroke="#231f20" stroke-width="0.1">NKG2D</text>
<line x1="28" y1="307.7" x2="30.6" y2="307.7" stroke="#231f20" stroke-width="0.9"/>
<text x="25" y="315.1" font-size="5.8" text-anchor="end" fill="#231f20" textLength="16.3" lengthAdjust="spacingAndGlyphs" stroke="#231f20" stroke-width="0.1">KLRD1</text>
<line x1="28" y1="313" x2="30.6" y2="313" stroke="#231f20" stroke-width="0.9"/>
<rect x="30.8" y="318" width="34" height="3.2" fill="#1f77b4"/>
<rect x="64.8" y="318" width="15.5" height="3.2" fill="#ff7f0e"/>
<rect x="80.2" y="318" width="18.1" height="3.2" fill="#279e68"/>
<rect x="98.2" y="318" width="14.3" height="3.2" fill="#d62728"/>
<rect x="112.5" y="318" width="31.4" height="3.2" fill="#aa40fc"/>
<rect x="143.8" y="318" width="9.1" height="3.2" fill="#8c564b"/>
<rect x="152.8" y="318" width="4.1" height="3.2" fill="#e377c2"/>
<rect x="156.9" y="318" width="21.1" height="3.2" fill="#b5bd61"/>
<rect x="178" y="318" width="7.5" height="3.2" fill="#17becf"/>
<rect x="185.4" y="318" width="9.1" height="3.2" fill="#aec7e8"/>
<rect x="194.4" y="318" width="12.1" height="3.2" fill="#ffbb78"/>
<rect x="206.5" y="318" width="26.1" height="3.2" fill="#98df8a"/>
<rect x="232.5" y="318" width="19.6" height="3.2" fill="#ff9896"/>
<rect x="252" y="318" width="9.6" height="3.2" fill="#c5b0d5"/>
<rect x="261.5" y="318" width="7.7" height="3.2" fill="#c49c94"/>
<rect x="269.2" y="318" width="21.4" height="3.2" fill="#f7b6d2"/>
<text x="47.7" y="328.4" font-size="5.6" text-anchor="middle" fill="#6a6a6a" stroke="none">0</text>
<text x="71.5" y="328.4" font-size="5.6" text-anchor="middle" fill="#6a6a6a" stroke="none">7</text>
<text x="89.2" y="328.4" font-size="5.6" text-anchor="middle" fill="#6a6a6a" stroke="none">6</text>
<text x="105.8" y="328.4" font-size="5.6" text-anchor="middle" fill="#6a6a6a" stroke="none">8</text>
<text x="128.8" y="328.4" font-size="5.6" text-anchor="middle" fill="#6a6a6a" stroke="none">1</text>
<text x="148.5" y="328.4" font-size="5.6" text-anchor="middle" fill="#6a6a6a" stroke="none">12</text>
<text x="154.2" y="328.4" font-size="5.6" text-anchor="middle" fill="#6a6a6a" stroke="none">15</text>
<text x="167.7" y="328.4" font-size="5.6" text-anchor="middle" fill="#6a6a6a" stroke="none">3</text>
<text x="181.5" y="328.4" font-size="5.6" text-anchor="middle" fill="#6a6a6a" stroke="none">13</text>
<text x="190" y="328.4" font-size="5.6" text-anchor="middle" fill="#6a6a6a" stroke="none">11</text>
<text x="201.2" y="328.4" font-size="5.6" text-anchor="middle" fill="#6a6a6a" stroke="none">9</text>
<text x="218.8" y="328.4" font-size="5.6" text-anchor="middle" fill="#6a6a6a" stroke="none">2</text>
<text x="241.9" y="328.4" font-size="5.6" text-anchor="middle" fill="#6a6a6a" stroke="none">5</text>
<text x="257.3" y="328.4" font-size="5.6" text-anchor="middle" fill="#6a6a6a" stroke="none">10</text>
<text x="265.8" y="328.4" font-size="5.6" text-anchor="middle" fill="#6a6a6a" stroke="none">14</text>
<text x="278.8" y="328.4" font-size="5.6" text-anchor="middle" fill="#6a6a6a" stroke="none">4</text>
<text x="160.9" y="338.3" font-size="6.5" text-anchor="middle" fill="#4a4a4a" textLength="46.6" lengthAdjust="spacingAndGlyphs" stroke="#4a4a4a" stroke-width="0.1">Cluster_By_CAR</text>
<defs><linearGradient id="virC" x1="0" y1="0" x2="0" y2="1"><stop offset="0" stop-color="#fde725"/><stop offset="0.1" stop-color="#bddf26"/><stop offset="0.2" stop-color="#7ad151"/><stop offset="0.3" stop-color="#44bf70"/><stop offset="0.4" stop-color="#22a884"/><stop offset="0.5" stop-color="#21918c"/><stop offset="0.6" stop-color="#2a788e"/><stop offset="0.7" stop-color="#355f8d"/><stop offset="0.8" stop-color="#414487"/><stop offset="0.9" stop-color="#482475"/><stop offset="1" stop-color="#440154"/></linearGradient></defs>
<rect x="294.4" y="237.9" width="5.6" height="77.6" fill="url(#virC)" stroke="#3a3a3a" stroke-opacity="0.45" stroke-width="0.5"/>
<line x1="300" y1="248.4" x2="302" y2="248.4" stroke="#231f20" stroke-width="0.7"/>
<text x="305.5" y="250.5" font-size="6" fill="#231f20" stroke="#231f20" stroke-width="0.1">8</text>
<line x1="300" y1="265" x2="302" y2="265" stroke="#231f20" stroke-width="0.7"/>
<text x="305.5" y="267.1" font-size="6" fill="#231f20" stroke="#231f20" stroke-width="0.1">6</text>
<line x1="300" y1="281.9" x2="302" y2="281.9" stroke="#231f20" stroke-width="0.7"/>
<text x="305.5" y="284" font-size="6" fill="#231f20" stroke="#231f20" stroke-width="0.1">4</text>
<line x1="300" y1="298.7" x2="302" y2="298.7" stroke="#231f20" stroke-width="0.7"/>
<text x="305.5" y="300.8" font-size="6" fill="#231f20" stroke="#231f20" stroke-width="0.1">2</text>
<text x="325" y="164.6" font-size="11.2" font-weight="bold" fill="#000">D</text>
<text x="355" y="170.8" font-size="8.4" fill="#231f20" textLength="132.7" lengthAdjust="spacingAndGlyphs" stroke="#231f20" stroke-width="0.1">Timepoint Composition of Clusters</text>
<rect x="356.9" y="306.9" width="127.8" height="7.4" fill="#f98107"/>
<line x1="347.8" y1="310.6" x2="350.6" y2="310.6" stroke="#231f20" stroke-width="1"/>
<text x="344.6" y="312.2" font-size="6.2" text-anchor="end" fill="#231f20" stroke="#231f20" stroke-width="0.1">0</text>
<rect x="356.9" y="298.3" width="120.3" height="7.4" fill="#f98107"/>
<line x1="347.8" y1="302" x2="350.6" y2="302" stroke="#231f20" stroke-width="1"/>
<text x="344.6" y="303.6" font-size="6.2" text-anchor="end" fill="#231f20" stroke="#231f20" stroke-width="0.1">1</text>
<rect x="356.9" y="289.7" width="5.6" height="7.4" fill="#218c6c"/>
<rect x="362.5" y="289.7" width="92.8" height="7.4" fill="#de161c"/>
<line x1="347.8" y1="293.4" x2="350.6" y2="293.4" stroke="#231f20" stroke-width="1"/>
<text x="344.6" y="295" font-size="6.2" text-anchor="end" fill="#231f20" stroke="#231f20" stroke-width="0.1">2</text>
<rect x="356.9" y="281.1" width="84.2" height="7.4" fill="#f98107"/>
<line x1="347.8" y1="284.8" x2="350.6" y2="284.8" stroke="#231f20" stroke-width="1"/>
<text x="344.6" y="286.4" font-size="6.2" text-anchor="end" fill="#231f20" stroke="#231f20" stroke-width="0.1">3</text>
<rect x="356.9" y="272.5" width="15.3" height="7.4" fill="#1b76c4"/>
<rect x="372.2" y="272.5" width="11.8" height="7.4" fill="#2a9a55"/>
<rect x="384" y="272.5" width="53.6" height="7.4" fill="#de161c"/>
<line x1="347.8" y1="276.2" x2="350.6" y2="276.2" stroke="#231f20" stroke-width="1"/>
<text x="344.6" y="277.8" font-size="6.2" text-anchor="end" fill="#231f20" stroke="#231f20" stroke-width="0.1">4</text>
<rect x="356.9" y="263.9" width="4.9" height="7.4" fill="#1b76c4"/>
<rect x="361.8" y="263.9" width="22.5" height="7.4" fill="#2a9a55"/>
<rect x="384.3" y="263.9" width="44.7" height="7.4" fill="#de161c"/>
<line x1="347.8" y1="267.6" x2="350.6" y2="267.6" stroke="#231f20" stroke-width="1"/>
<text x="344.6" y="269.2" font-size="6.2" text-anchor="end" fill="#231f20" stroke="#231f20" stroke-width="0.1">5</text>
<rect x="356.9" y="255.3" width="29.1" height="7.4" fill="#2a9a55"/>
<rect x="386" y="255.3" width="37.8" height="7.4" fill="#de161c"/>
<line x1="347.8" y1="259" x2="350.6" y2="259" stroke="#231f20" stroke-width="1"/>
<text x="344.6" y="260.6" font-size="6.2" text-anchor="end" fill="#231f20" stroke="#231f20" stroke-width="0.1">6</text>
<rect x="356.9" y="246.7" width="54.4" height="7.4" fill="#2a9a55"/>
<rect x="411.3" y="246.7" width="3.1" height="7.4" fill="#de161c"/>
<line x1="347.8" y1="250.4" x2="350.6" y2="250.4" stroke="#231f20" stroke-width="1"/>
<text x="344.6" y="252" font-size="6.2" text-anchor="end" fill="#231f20" stroke="#231f20" stroke-width="0.1">7</text>
<rect x="356.9" y="238" width="54.4" height="7.4" fill="#f98107"/>
<line x1="347.8" y1="241.7" x2="350.6" y2="241.7" stroke="#231f20" stroke-width="1"/>
<text x="344.6" y="243.3" font-size="6.2" text-anchor="end" fill="#231f20" stroke="#231f20" stroke-width="0.1">8</text>
<rect x="356.9" y="229.4" width="13.6" height="7.4" fill="#1b76c4"/>
<rect x="370.5" y="229.4" width="13.1" height="7.4" fill="#2a9a55"/>
<rect x="383.6" y="229.4" width="17.3" height="7.4" fill="#de161c"/>
<line x1="347.8" y1="233.1" x2="350.6" y2="233.1" stroke="#231f20" stroke-width="1"/>
<text x="344.6" y="234.7" font-size="6.2" text-anchor="end" fill="#231f20" stroke="#231f20" stroke-width="0.1">9</text>
<rect x="356.9" y="220.8" width="10.8" height="7.4" fill="#1b76c4"/>
<rect x="367.7" y="220.8" width="9.3" height="7.4" fill="#2a9a55"/>
<rect x="377" y="220.8" width="18.4" height="7.4" fill="#de161c"/>
<line x1="347.8" y1="224.5" x2="350.6" y2="224.5" stroke="#231f20" stroke-width="1"/>
<text x="344.6" y="226.1" font-size="6.2" text-anchor="end" fill="#231f20" stroke="#231f20" stroke-width="0.1">10</text>
<rect x="356.9" y="212.2" width="36.7" height="7.4" fill="#f98107"/>
<line x1="347.8" y1="215.9" x2="350.6" y2="215.9" stroke="#231f20" stroke-width="1"/>
<text x="344.6" y="217.5" font-size="6.2" text-anchor="end" fill="#231f20" stroke="#231f20" stroke-width="0.1">11</text>
<rect x="356.9" y="203.6" width="29.8" height="7.4" fill="#f98107"/>
<line x1="347.8" y1="207.3" x2="350.6" y2="207.3" stroke="#231f20" stroke-width="1"/>
<text x="344.6" y="208.9" font-size="6.2" text-anchor="end" fill="#231f20" stroke="#231f20" stroke-width="0.1">12</text>
<rect x="356.9" y="195" width="24.6" height="7.4" fill="#f98107"/>
<rect x="381.5" y="195" width="1.2" height="7.4" fill="#4f7f3a"/>
<line x1="347.8" y1="198.7" x2="350.6" y2="198.7" stroke="#231f20" stroke-width="1"/>
<text x="344.6" y="200.3" font-size="6.2" text-anchor="end" fill="#231f20" stroke="#231f20" stroke-width="0.1">13</text>
<rect x="356.9" y="186.4" width="16.7" height="7.4" fill="#2a9a55"/>
<rect x="373.6" y="186.4" width="8.6" height="7.4" fill="#de161c"/>
<line x1="347.8" y1="190.1" x2="350.6" y2="190.1" stroke="#231f20" stroke-width="1"/>
<text x="344.6" y="191.7" font-size="6.2" text-anchor="end" fill="#231f20" stroke="#231f20" stroke-width="0.1">14</text>
<rect x="356.9" y="177.8" width="12.5" height="7.4" fill="#f98107"/>
<line x1="347.8" y1="181.5" x2="350.6" y2="181.5" stroke="#231f20" stroke-width="1"/>
<text x="344.6" y="183.1" font-size="6.2" text-anchor="end" fill="#231f20" stroke="#231f20" stroke-width="0.1">15</text>
<rect x="350.8" y="176.3" width="140.4" height="139.5" fill="none" stroke="#231f20" stroke-width="1"/>
<line x1="356.9" y1="316.3" x2="356.9" y2="318.6" stroke="#231f20" stroke-width="0.8"/>
<text x="356.9" y="327.4" font-size="6.2" text-anchor="middle" fill="#231f20" stroke="#231f20" stroke-width="0.1">0</text>
<line x1="403.8" y1="316.3" x2="403.8" y2="318.6" stroke="#231f20" stroke-width="0.8"/>
<text x="403.8" y="327.4" font-size="6.2" text-anchor="middle" fill="#231f20" stroke="#231f20" stroke-width="0.1">1000</text>
<line x1="450.8" y1="316.3" x2="450.8" y2="318.6" stroke="#231f20" stroke-width="0.8"/>
<text x="450.8" y="327.4" font-size="6.2" text-anchor="middle" fill="#231f20" stroke="#231f20" stroke-width="0.1">2000</text>
<text x="421.1" y="339.2" font-size="7.9" text-anchor="middle" fill="#231f20" textLength="17.7" lengthAdjust="spacingAndGlyphs" stroke="#231f20" stroke-width="0.1">Count</text>
<text x="0" y="0" font-size="7.9" fill="#231f20" stroke="#231f20" stroke-width="0.1" text-anchor="middle" textLength="20.3" lengthAdjust="spacingAndGlyphs" transform="translate(332.4 246) rotate(-90)">Cluster</text>
<circle cx="498.8" cy="310.5" r="3.9" fill="#d8232a"/>
<path d="M498.8 310.5L498.80 306.55A3.9 3.9 0 0 1 502.51 309.24Z" fill="#3b4a9f"/>
<circle cx="498.8" cy="301.7" r="3.9" fill="#d8232a"/>
<path d="M498.8 301.7L498.80 297.82A3.9 3.9 0 0 1 500.68 298.30Z" fill="#3b4a9f"/>
<circle cx="498.8" cy="293" r="3.9" fill="#d8232a"/>
<path d="M498.8 293L498.80 289.09A3.9 3.9 0 1 1 496.92 289.57Z" fill="#3b4a9f"/>
<circle cx="498.8" cy="284.3" r="3.9" fill="#d8232a"/>
<path d="M498.8 284.3L498.80 280.36A3.9 3.9 0 0 1 502.70 284.26Z" fill="#3b4a9f"/>
<circle cx="498.8" cy="275.5" r="3.9" fill="#d8232a"/>
<path d="M498.8 275.5L498.80 271.63A3.9 3.9 0 1 1 497.59 271.82Z" fill="#3b4a9f"/>
<circle cx="498.8" cy="266.8" r="3.9" fill="#d8232a"/>
<path d="M498.8 266.8L498.80 262.90A3.9 3.9 0 1 1 496.92 263.38Z" fill="#3b4a9f"/>
<circle cx="498.8" cy="258.1" r="3.9" fill="#d8232a"/>
<path d="M498.8 258.1L498.80 254.17A3.9 3.9 0 0 1 501.47 255.23Z" fill="#3b4a9f"/>
<circle cx="498.8" cy="249.3" r="3.9" fill="#d8232a"/>
<path d="M498.8 249.3L498.80 245.44A3.9 3.9 0 0 1 500.01 245.63Z" fill="#3b4a9f"/>
<circle cx="498.8" cy="240.6" r="3.9" fill="#d8232a"/>
<path d="M498.8 240.6L498.80 236.71A3.9 3.9 0 0 1 502.51 239.40Z" fill="#3b4a9f"/>
<circle cx="498.8" cy="231.9" r="3.9" fill="#d8232a"/>
<path d="M498.8 231.9L498.80 227.98A3.9 3.9 0 1 1 497.14 228.35Z" fill="#3b4a9f"/>
<circle cx="498.8" cy="223.2" r="3.9" fill="#d8232a"/>
<path d="M498.8 223.2L498.80 219.25A3.9 3.9 0 1 1 497.59 219.44Z" fill="#3b4a9f"/>
<circle cx="498.8" cy="214.4" r="3.9" fill="#d8232a"/>
<path d="M498.8 214.4L498.80 210.52A3.9 3.9 0 1 1 496.92 217.84Z" fill="#3b4a9f"/>
<circle cx="498.8" cy="205.7" r="3.9" fill="#d8232a"/>
<path d="M498.8 205.7L498.80 201.79A3.9 3.9 0 0 1 502.63 204.96Z" fill="#3b4a9f"/>
<circle cx="498.8" cy="197" r="3.9" fill="#d8232a"/>
<path d="M498.8 197L498.80 193.06A3.9 3.9 0 0 1 501.96 194.67Z" fill="#3b4a9f"/>
<circle cx="498.8" cy="188.2" r="3.9" fill="#d8232a"/>
<path d="M498.8 188.2L498.80 184.33A3.9 3.9 0 1 1 496.13 191.07Z" fill="#3b4a9f"/>
<circle cx="498.8" cy="179.5" r="3.9" fill="#d8232a"/>
<path d="M498.8 179.5L498.80 175.60A3.9 3.9 0 0 1 502.70 179.50Z" fill="#3b4a9f"/>
<text x="0" y="0" font-size="6.8" fill="#231f20" stroke="#231f20" stroke-width="0.16" text-anchor="middle" textLength="73.5" lengthAdjust="spacingAndGlyphs" transform="translate(506.6 245.7) rotate(90)">CAR<tspan font-size="4" dy="-2.3">positive</tspan><tspan dy="2.3"> fraction/cluster</tspan></text>
<rect x="360" y="346.2" width="5.8" height="6" fill="#1b76c4"/>
<text x="369.2" y="351.5" font-size="6.6" fill="#231f20" stroke="#231f20" stroke-width="0.1">Pre</text>
<rect x="360" y="356.4" width="5.8" height="6" fill="#2a9a55"/>
<text x="369.2" y="361.6" font-size="6.6" fill="#231f20" textLength="28.8" lengthAdjust="spacingAndGlyphs" stroke="#231f20" stroke-width="0.1">Expansion</text>
<rect x="404.6" y="346.2" width="5.8" height="6" fill="#f98107"/>
<text x="413.8" y="351.5" font-size="6.6" fill="#231f20" textLength="22.4" lengthAdjust="spacingAndGlyphs" stroke="#231f20" stroke-width="0.1">Product</text>
<rect x="404.6" y="356.4" width="5.8" height="6" fill="#de161c"/>
<text x="413.8" y="361.6" font-size="6.6" fill="#231f20" textLength="34" lengthAdjust="spacingAndGlyphs" stroke="#231f20" stroke-width="0.1">Contraction</text>
<circle cx="474.2" cy="349.5" r="1.6" fill="#2b2f7a"/>
<circle cx="474.2" cy="359.7" r="1.6" fill="#c8102e"/>
<text x="479.2" y="351.7" font-size="6.6" fill="#231f20">CAR<tspan font-size="4" dy="-2.3">neg</tspan></text>
<text x="479.2" y="361.9" font-size="6.6" fill="#231f20">CAR<tspan font-size="4" dy="-2.3">pos</tspan></text>
<text x="7.3" y="378.8" font-size="11.2" font-weight="bold" fill="#000">E</text>
<text x="35.7" y="391.5" font-size="8.4" fill="#231f20" textLength="127" lengthAdjust="spacingAndGlyphs" stroke="#231f20" stroke-width="0.1">DE Analysis Cluster 14 vs All cells</text>
<path d="M43 396.6V517.7M80.5 396.6V517.7M118 396.6V517.7M155.4 396.6V517.7M34.6 496.8H164M34.6 466.1H164M34.6 435.4H164M34.6 404.6H164" stroke="#f4f4f4" stroke-width="0.6" fill="none"/>
<path d="M61.7 396.6V517.7M99.2 396.6V517.7M136.7 396.6V517.7M34.6 512.2H164M34.6 481.5H164M34.6 450.7H164M34.6 420H164" stroke="#ededed" stroke-width="0.8" fill="none"/>
<path d="M99 513 L97.5 503 L96 492 L92 484 L86.5 477 L82 468 L81 462 L86 463 L92 469 L99 473 L105 471 L110 462 L113 452 L116 443 L120 435 L125 436 L127 444 L124 455 L120 464 L115 473 L109 481 L104 488 L101.5 500 Z" fill="#7f7f7f"/>
<path transform="scale(0.5)" d="M238 904h0M217 938h0M246 907h0M231 877h0M246 877h0M254 892h0M214 940h0M212 952h0M229 912h0M249 877h0M245 875h0M235 931h0M247 874h0M229 894h0M256 894h0M231 905h0M234 933h0M234 919h0M223 952h0M223 917h0M245 892h0M240 925h0M250 905h0M250 870h0M245 904h0M248 858h0M243 904h0M219 956h0M232 931h0M227 915h0M248 885h0M233 882h0M235 880h0M251 866h0M213 946h0M239 866h0M233 887h0M225 929h0M219 927h0M251 884h0M231 911h0M236 907h0M222 928h0M232 913h0M255 890h0M244 900h0M238 900h0M232 894h0M218 928h0M225 905h0M231 929h0M237 934h0M241 926h0M218 951h0M225 918h0M221 954h0M243 902h0M241 874h0M223 921h0M240 880h0M254 887h0M219 943h0M253 902h0M228 919h0M215 956h0M241 878h0M229 949h0M234 876h0M210 949h0M247 918h0M237 903h0M246 889h0M221 920h0M251 860h0M240 872h0M240 923h0M226 927h0M242 909h0M224 910h0M237 871h0M241 905h0M214 944h0M240 875h0M255 894h0M246 853h0M224 918h0M236 934h0M238 869h0M250 874h0M250 891h0M247 891h0M227 915h0M251 908h0M227 921h0M239 879h0M228 893h0M230 881h0M233 902h0M235 939h0M256 893h0M239 915h0M225 941h0M231 902h0M225 920h0M236 927h0M252 873h0M238 868h0M248 881h0M240 884h0M231 929h0M223 922h0M241 897h0M212 947h0M242 916h0M228 906h0M254 892h0M238 921h0M244 921h0M229 907h0M217 937h0M235 915h0M214 938h0M226 934h0M235 940h0M232 924h0M222 951h0M224 937h0M235 872h0M242 909h0M239 923h0M225 939h0M225 945h0M227 927h0M237 903h0M234 891h0M215 951h0M249 888h0M239 877h0M239 901h0M243 909h0M241 904h0M222 948h0M248 868h0M250 879h0M256 887h0M237 881h0M219 938h0M237 932h0M241 907h0M228 924h0M229 934h0M242 897h0M226 931h0M255 880h0M237 886h0M253 890h0M220 937h0M246 871h0M235 912h0M237 870h0M244 863h0M252 885h0M226 937h0M242 878h0M228 946h0M229 927h0M245 872h0M212 939h0M242 855h0M238 920h0M254 900h0M235 891h0M236 895h0M228 933h0M244 876h0M209 950h0M224 910h0M230 935h0M240 886h0M237 933h0M233 933h0M219 925h0M251 862h0M242 881h0M244 898h0M233 879h0M219 945h0M238 920h0M254 874h0M233 927h0M232 912h0M227 926h0M240 880h0M241 899h0M249 905h0M223 938h0M217 935h0M242 925h0M248 904h0M249 917h0" stroke="#7a7a7a" stroke-width="4" stroke-linecap="round" opacity="0.7" fill="none"/>
<path transform="scale(0.5)" d="M234 890h0M246 886h0M232 890h0M229 938h0M236 896h0M241 898h0M228 924h0M235 879h0M239 887h0M228 924h0M233 921h0M242 909h0M238 894h0M237 923h0M216 935h0M229 914h0M231 935h0M238 888h0M251 880h0M223 938h0M248 874h0M218 934h0M241 922h0M247 879h0M237 924h0M235 888h0M239 924h0M224 931h0M224 915h0M229 893h0M232 932h0M238 894h0M231 913h0M221 934h0M238 877h0M236 919h0M227 926h0M237 883h0M224 914h0M222 939h0M223 932h0M242 892h0M238 920h0M227 914h0M227 933h0M226 933h0M244 877h0M240 880h0M233 911h0M222 918h0M247 880h0M232 931h0M243 915h0M248 896h0M242 917h0M238 894h0M239 918h0M236 914h0M241 920h0M242 913h0M233 930h0M238 874h0M241 880h0M244 880h0M235 917h0M232 886h0M234 905h0M221 934h0M245 867h0M242 884h0" stroke="#b5b5b5" stroke-width="3.2" stroke-linecap="round" opacity="0.6" fill="none"/>
<path transform="scale(0.5)" d="M180 935h0M167 936h0M168 936h0M184 935h0M177 948h0M187 942h0M182 943h0M179 945h0M171 920h0M176 948h0M180 936h0M166 930h0M164 920h0M179 952h0M171 932h0M170 929h0M186 940h0M169 921h0M187 947h0M179 956h0M180 958h0M183 959h0M167 919h0M176 925h0M167 921h0M178 952h0M169 935h0M188 955h0M183 934h0M184 953h0M170 934h0M186 941h0M179 952h0M171 941h0M179 940h0M168 941h0M176 936h0M173 951h0M166 936h0M184 937h0M183 940h0M179 939h0M186 946h0M171 931h0M172 933h0M174 952h0M176 940h0M169 928h0M163 926h0M179 935h0M169 932h0M173 946h0M170 919h0M191 945h0M176 947h0M179 950h0M188 943h0M180 930h0M165 920h0M175 930h0" stroke="#7a7a7a" stroke-width="4" stroke-linecap="round" opacity="0.7" fill="none"/>
<path transform="scale(0.5)" d="M203 897h0M219 895h0M224 891h0M227 890h0M237 878h0M217 913h0M220 936h0M194 941h0M267 839h0M231 879h0M231 929h0M213 939h0M218 925h0M232 896h0M236 898h0M224 876h0M223 892h0M210 916h0M274 838h0M238 869h0M224 912h0M222 938h0M222 863h0M239 904h0M249 842h0M218 923h0M214 847h0M232 903h0M198 938h0M206 917h0M198 936h0M268 864h0M215 933h0M218 939h0M249 860h0M242 897h0M217 925h0M230 876h0M207 933h0M225 917h0M253 841h0M237 850h0M200 923h0M251 876h0M222 935h0M220 918h0M237 862h0M222 938h0M206 936h0M230 881h0M196 906h0M238 893h0M238 884h0M210 929h0M251 847h0M209 925h0M248 866h0M246 843h0M236 850h0M206 934h0M220 942h0M237 870h0M227 918h0M207 914h0M216 927h0M215 921h0M243 885h0M208 915h0M248 847h0M223 917h0M181 942h0M180 945h0M179 937h0M173 923h0M158 920h0M162 936h0M184 955h0M167 922h0M173 931h0M172 934h0M174 940h0M157 919h0M170 957h0M163 923h0M166 930h0M151 922h0M170 946h0M150 924h0M181 943h0M156 937h0M164 934h0M181 935h0M165 957h0M145 924h0M159 930h0" stroke="#8c8c8c" stroke-width="4.2" stroke-linecap="round" opacity="0.6" fill="none"/>
<path transform="scale(0.5)" d="M242 832h0M252 842h0M245 849h0M238 856h0" stroke="#7a7a7a" stroke-width="4.8" stroke-linecap="round" opacity="0.8" fill="none"/>
<path transform="scale(0.5)" d="M179 932h0M166 926h0M177 935h0M180 936h0M186 944h0M170 930h0M165 931h0M172 936h0M178 940h0M185 946h0M170 930h0M165 922h0M184 941h0M164 931h0M171 931h0M180 936h0M184 945h0M164 931h0M164 924h0M168 931h0M165 926h0M184 942h0M164 923h0M177 935h0M184 944h0M173 935h0M175 934h0M168 928h0M178 932h0M170 934h0M160 930h0M164 923h0M186 942h0M187 945h0M169 933h0M180 941h0M178 941h0M192 949h0M182 939h0M188 942h0M174 929h0M174 939h0M164 926h0M170 932h0M165 923h0" stroke="#e04a3a" stroke-width="4" stroke-linecap="round" opacity="0.8" fill="none"/>
<line x1="34.6" y1="396.6" x2="34.6" y2="518.1" stroke="#231f20" stroke-width="1"/>
<line x1="34.2" y1="517.7" x2="164" y2="517.7" stroke="#231f20" stroke-width="1"/>
<line x1="31.6" y1="512.2" x2="34.6" y2="512.2" stroke="#231f20" stroke-width="1"/>
<text x="28" y="514.5" font-size="6.6" text-anchor="end" fill="#231f20" textLength="8.6" lengthAdjust="spacingAndGlyphs" stroke="#231f20" stroke-width="0.1">0.0</text>
<line x1="31.6" y1="481.5" x2="34.6" y2="481.5" stroke="#231f20" stroke-width="1"/>
<text x="28" y="483.8" font-size="6.6" text-anchor="end" fill="#231f20" textLength="8.6" lengthAdjust="spacingAndGlyphs" stroke="#231f20" stroke-width="0.1">2.5</text>
<line x1="31.6" y1="450.7" x2="34.6" y2="450.7" stroke="#231f20" stroke-width="1"/>
<text x="28" y="453" font-size="6.6" text-anchor="end" fill="#231f20" textLength="8.6" lengthAdjust="spacingAndGlyphs" stroke="#231f20" stroke-width="0.1">5.0</text>
<line x1="31.6" y1="420" x2="34.6" y2="420" stroke="#231f20" stroke-width="1"/>
<text x="28" y="422.3" font-size="6.6" text-anchor="end" fill="#231f20" textLength="8.6" lengthAdjust="spacingAndGlyphs" stroke="#231f20" stroke-width="0.1">7.5</text>
<line x1="61.7" y1="517.7" x2="61.7" y2="520.4" stroke="#231f20" stroke-width="1"/>
<text x="61.7" y="529.4" font-size="6.8" text-anchor="middle" fill="#231f20" stroke="#231f20" stroke-width="0.1">−10</text>
<line x1="99.2" y1="517.7" x2="99.2" y2="520.4" stroke="#231f20" stroke-width="1"/>
<text x="99.2" y="529.4" font-size="6.8" text-anchor="middle" fill="#231f20" stroke="#231f20" stroke-width="0.1">0</text>
<line x1="136.7" y1="517.7" x2="136.7" y2="520.4" stroke="#231f20" stroke-width="1"/>
<text x="136.7" y="529.4" font-size="6.8" text-anchor="middle" fill="#231f20" stroke="#231f20" stroke-width="0.1">10</text>
<text x="100" y="541" font-size="7.8" text-anchor="middle" fill="#231f20" textLength="46.2" lengthAdjust="spacingAndGlyphs" stroke="#231f20" stroke-width="0.1">Median log2FC</text>
<text x="0" y="0" font-size="7.5" fill="#231f20" stroke="#231f20" stroke-width="0.1" text-anchor="middle" textLength="35.5" lengthAdjust="spacingAndGlyphs" transform="translate(13.4 458) rotate(-90)">Bayes factor</text>
<line x1="86" y1="443.6" x2="82.5" y2="462" stroke="#c8302c" stroke-width="0.9"/>
<rect x="79.5" y="437.4" width="18" height="6.2" rx="1.5" fill="#fff" stroke="#e0524a" stroke-width="0.6"/>
<text x="88.5" y="442" font-size="4.1" text-anchor="middle" fill="#e0524a" textLength="14" lengthAdjust="spacingAndGlyphs" stroke="#e0524a" stroke-width="0.1">CTLA4</text>
<line x1="76" y1="454" x2="82" y2="462" stroke="#c8302c" stroke-width="0.9"/>
<rect x="68.9" y="448.1" width="13.3" height="6.2" rx="1.5" fill="#fff" stroke="#e0524a" stroke-width="0.6"/>
<text x="75.6" y="452.7" font-size="4.1" text-anchor="middle" fill="#e0524a" textLength="9.3" lengthAdjust="spacingAndGlyphs" stroke="#e0524a" stroke-width="0.1">CD28</text>
<line x1="68.5" y1="456" x2="81" y2="462.5" stroke="#c8302c" stroke-width="0.9"/>
<rect x="54.5" y="452.4" width="13.9" height="6.2" rx="1.5" fill="#fff" stroke="#e0524a" stroke-width="0.6"/>
<text x="61.5" y="457" font-size="4.1" text-anchor="middle" fill="#e0524a" textLength="9.9" lengthAdjust="spacingAndGlyphs" stroke="#e0524a" stroke-width="0.1">SELL</text>
<line x1="55.2" y1="466" x2="82" y2="464" stroke="#c8302c" stroke-width="0.9"/>
<rect x="37.9" y="463.4" width="17.3" height="6.2" rx="1.5" fill="#fff" stroke="#e0524a" stroke-width="0.6"/>
<text x="46.5" y="468" font-size="4.1" text-anchor="middle" fill="#e0524a" textLength="13.3" lengthAdjust="spacingAndGlyphs" stroke="#e0524a" stroke-width="0.1">PLAC8</text>
<line x1="75.4" y1="471" x2="83" y2="467" stroke="#c8302c" stroke-width="0.9"/>
<rect x="62.6" y="468.9" width="12.7" height="6.2" rx="1.5" fill="#fff" stroke="#e0524a" stroke-width="0.6"/>
<text x="69" y="473.5" font-size="4.1" text-anchor="middle" fill="#e0524a" textLength="8.7" lengthAdjust="spacingAndGlyphs" stroke="#e0524a" stroke-width="0.1">CAR</text>
<line x1="79.5" y1="480.6" x2="84" y2="468" stroke="#c8302c" stroke-width="0.9"/>
<rect x="73.8" y="480.4" width="11.5" height="6.2" rx="1.5" fill="#fff" stroke="#e0524a" stroke-width="0.6"/>
<text x="79.5" y="485" font-size="4.1" text-anchor="middle" fill="#e0524a" textLength="7.5" lengthAdjust="spacingAndGlyphs" stroke="#e0524a" stroke-width="0.1">CD4</text>
<line x1="139.3" y1="421.2" x2="129.3" y2="438.4" stroke="#2a6242" stroke-width="0.9"/>
<rect x="132.2" y="415.1" width="17.2" height="6.2" rx="1.5" fill="#fff" stroke="#3f7f58" stroke-width="0.6"/>
<text x="140.8" y="419.7" font-size="4.1" text-anchor="middle" fill="#3f7f58" textLength="13.2" lengthAdjust="spacingAndGlyphs" stroke="#3f7f58" stroke-width="0.1">CD160</text>
<line x1="136.7" y1="429.8" x2="133.4" y2="431.9" stroke="#2a6242" stroke-width="0.9"/>
<rect x="136.7" y="426.4" width="19.2" height="6.2" rx="1.5" fill="#fff" stroke="#3f7f58" stroke-width="0.6"/>
<text x="146.3" y="431" font-size="4.1" text-anchor="middle" fill="#3f7f58" textLength="15.2" lengthAdjust="spacingAndGlyphs" stroke="#3f7f58" stroke-width="0.1">IGFBP3</text>
<line x1="141.4" y1="441" x2="137" y2="438.2" stroke="#2a6242" stroke-width="0.9"/>
<rect x="141.4" y="438.1" width="21" height="6.2" rx="1.5" fill="#fff" stroke="#3f7f58" stroke-width="0.6"/>
<text x="151.9" y="442.7" font-size="4.1" text-anchor="middle" fill="#3f7f58" textLength="17" lengthAdjust="spacingAndGlyphs" stroke="#3f7f58" stroke-width="0.1">KIR3DL2</text>
<line x1="134" y1="450.6" x2="126.9" y2="455" stroke="#2a6242" stroke-width="0.9"/>
<rect x="130.8" y="444.4" width="16.2" height="6.2" rx="1.5" fill="#fff" stroke="#3f7f58" stroke-width="0.6"/>
<text x="138.9" y="449" font-size="4.1" text-anchor="middle" fill="#3f7f58" textLength="12.2" lengthAdjust="spacingAndGlyphs" stroke="#3f7f58" stroke-width="0.1">SPRY2</text>
<line x1="134.3" y1="459" x2="128" y2="454.4" stroke="#2a6242" stroke-width="0.9"/>
<rect x="134.3" y="456" width="18" height="6.2" rx="1.5" fill="#fff" stroke="#3f7f58" stroke-width="0.6"/>
<text x="143.3" y="460.6" font-size="4.1" text-anchor="middle" fill="#3f7f58" textLength="14" lengthAdjust="spacingAndGlyphs" stroke="#3f7f58" stroke-width="0.1">ABCB4</text>
<line x1="135" y1="467.2" x2="128" y2="462" stroke="#2a6242" stroke-width="0.9"/>
<rect x="127.2" y="467.2" width="17.4" height="6.2" rx="1.5" fill="#fff" stroke="#3f7f58" stroke-width="0.6"/>
<text x="135.9" y="471.8" font-size="4.1" text-anchor="middle" fill="#3f7f58" textLength="13.4" lengthAdjust="spacingAndGlyphs" stroke="#3f7f58" stroke-width="0.1">KLRC2</text>
<path transform="scale(0.5)" d="M274 876h0" stroke="#555555" stroke-width="4.4" stroke-linecap="round" opacity="0.9" fill="none"/>
<circle cx="53.5" cy="551.5" r="2.1" fill="#f08a78" opacity="0.8"/>
<circle cx="53.5" cy="561.9" r="2.1" fill="#8a8a8a" opacity="0.9"/>
<text x="58.3" y="553.9" font-size="7" fill="#231f20" textLength="88.4" lengthAdjust="spacingAndGlyphs" stroke="#231f20" stroke-width="0.1">Downregulated in Cluster 14</text>
<text x="58.3" y="564.3" font-size="7" fill="#231f20" textLength="80.5" lengthAdjust="spacingAndGlyphs" stroke="#231f20" stroke-width="0.1">Upregulated in Cluster 14</text>
<text x="180.3" y="378.6" font-size="11.2" font-weight="bold" fill="#000">F</text>
<path d="M243.7 437.4L243.70 373.40A64 64 0 0 1 306.91 447.41Z" fill="#9bb5e0" stroke="#9bb5e0" stroke-width="0.3"/>
<path d="M243.7 437.4L306.91 447.41A64 64 0 0 1 287.92 483.67Z" fill="#c0a7d6" stroke="#c0a7d6" stroke-width="0.3"/>
<path d="M243.7 437.4L287.92 483.67A64 64 0 0 1 282.75 488.11Z" fill="#eab4dc" stroke="#eab4dc" stroke-width="0.3"/>
<path d="M243.7 437.4L282.75 488.11A64 64 0 0 1 275.02 493.21Z" fill="#d3e69b" stroke="#d3e69b" stroke-width="0.3"/>
<path d="M243.7 437.4L275.02 493.21A64 64 0 0 1 191.60 474.56Z" fill="#2b9bc5" stroke="#2b9bc5" stroke-width="0.3"/>
<path d="M243.7 437.4L191.60 474.56A64 64 0 0 1 179.94 431.82Z" fill="#7b4fa6" stroke="#7b4fa6" stroke-width="0.3"/>
<path d="M243.7 437.4L179.94 431.82A64 64 0 0 1 200.46 390.21Z" fill="#eb8690" stroke="#eb8690" stroke-width="0.3"/>
<path d="M243.7 437.4L200.46 390.21A64 64 0 0 1 243.70 373.40Z" fill="#a6b882" stroke="#a6b882" stroke-width="0.3"/>
<circle cx="243.7" cy="437.4" r="64" fill="none" stroke="#2b2b3a" stroke-width="0.9"/>
<rect x="188.2" y="507.7" width="5.4" height="5.4" fill="#9bb5e0" stroke="#333" stroke-width="0.7"/>
<text x="197.1" y="512.7" font-size="6.6" fill="#231f20" textLength="103.1" lengthAdjust="spacingAndGlyphs" stroke="#231f20" stroke-width="0.1">Activation/Proliferation/Cytotoxicity</text>
<rect x="188.2" y="517.7" width="5.4" height="5.4" fill="#c0a7d6" stroke="#333" stroke-width="0.7"/>
<text x="197.1" y="522.7" font-size="6.6" fill="#231f20" stroke="#231f20" stroke-width="0.1">Chemotaxis</text>
<rect x="188.2" y="527.7" width="5.4" height="5.4" fill="#eab4dc" stroke="#333" stroke-width="0.7"/>
<text x="197.1" y="532.7" font-size="6.6" fill="#231f20" stroke="#231f20" stroke-width="0.1">Differentiation</text>
<rect x="188.2" y="537.7" width="5.4" height="5.4" fill="#d3e69b" stroke="#333" stroke-width="0.7"/>
<text x="197.1" y="542.7" font-size="6.6" fill="#231f20" stroke="#231f20" stroke-width="0.1">Signal transduction</text>
<rect x="188.2" y="547.7" width="5.4" height="5.4" fill="#2b9bc5" stroke="#333" stroke-width="0.7"/>
<text x="197.1" y="552.7" font-size="6.6" fill="#231f20" stroke="#231f20" stroke-width="0.1">Inhibitory Function</text>
<rect x="188.2" y="557.7" width="5.4" height="5.4" fill="#7b4fa6" stroke="#333" stroke-width="0.7"/>
<text x="197.1" y="562.7" font-size="6.6" fill="#231f20" stroke="#231f20" stroke-width="0.1">Migration</text>
<rect x="188.2" y="567.7" width="5.4" height="5.4" fill="#eb8690" stroke="#333" stroke-width="0.7"/>
<text x="197.1" y="572.7" font-size="6.6" fill="#231f20" stroke="#231f20" stroke-width="0.1">NK-cell function</text>
<rect x="188.2" y="577.7" width="5.4" height="5.4" fill="#a6b882" stroke="#333" stroke-width="0.7"/>
<text x="197.1" y="582.7" font-size="6.6" fill="#231f20" stroke="#231f20" stroke-width="0.1">Unknown</text>
<text x="322.6" y="378.5" font-size="11.2" font-weight="bold" fill="#000">G</text>
<rect x="346.2" y="406.9" width="16.1" height="18.5" fill="#d73027"/>
<rect x="362.3" y="406.9" width="16.1" height="18.5" fill="#e14a35"/>
<rect x="378.5" y="406.9" width="16.1" height="18.5" fill="#6998c6"/>
<rect x="394.6" y="406.9" width="16.1" height="18.5" fill="#5786bd"/>
<rect x="410.8" y="406.9" width="16.1" height="18.5" fill="#5281ba"/>
<rect x="426.9" y="406.9" width="16.1" height="18.5" fill="#5281ba"/>
<rect x="346.2" y="425.4" width="16.1" height="18.5" fill="#e14a35"/>
<rect x="362.3" y="425.4" width="16.1" height="18.5" fill="#d73027"/>
<rect x="378.5" y="425.4" width="16.1" height="18.5" fill="#4575b4"/>
<rect x="394.6" y="425.4" width="16.1" height="18.5" fill="#4575b4"/>
<rect x="410.8" y="425.4" width="16.1" height="18.5" fill="#4575b4"/>
<rect x="426.9" y="425.4" width="16.1" height="18.5" fill="#4978b6"/>
<rect x="346.2" y="443.8" width="16.1" height="18.5" fill="#6998c6"/>
<rect x="362.3" y="443.8" width="16.1" height="18.5" fill="#4575b4"/>
<rect x="378.5" y="443.8" width="16.1" height="18.5" fill="#d73027"/>
<rect x="394.6" y="443.8" width="16.1" height="18.5" fill="#fedd99"/>
<rect x="410.8" y="443.8" width="16.1" height="18.5" fill="#fffabf"/>
<rect x="426.9" y="443.8" width="16.1" height="18.5" fill="#afd2e6"/>
<rect x="346.2" y="462.3" width="16.1" height="18.5" fill="#5786bd"/>
<rect x="362.3" y="462.3" width="16.1" height="18.5" fill="#4575b4"/>
<rect x="378.5" y="462.3" width="16.1" height="18.5" fill="#fedd99"/>
<rect x="394.6" y="462.3" width="16.1" height="18.5" fill="#d73027"/>
<rect x="410.8" y="462.3" width="16.1" height="18.5" fill="#c5e0ed"/>
<rect x="426.9" y="462.3" width="16.1" height="18.5" fill="#72a1cb"/>
<rect x="346.2" y="480.8" width="16.1" height="18.5" fill="#5281ba"/>
<rect x="362.3" y="480.8" width="16.1" height="18.5" fill="#4575b4"/>
<rect x="378.5" y="480.8" width="16.1" height="18.5" fill="#fffabf"/>
<rect x="394.6" y="480.8" width="16.1" height="18.5" fill="#c5e0ed"/>
<rect x="410.8" y="480.8" width="16.1" height="18.5" fill="#d73027"/>
<rect x="426.9" y="480.8" width="16.1" height="18.5" fill="#fff0b0"/>
<rect x="346.2" y="499.2" width="16.1" height="18.5" fill="#5281ba"/>
<rect x="362.3" y="499.2" width="16.1" height="18.5" fill="#4978b6"/>
<rect x="378.5" y="499.2" width="16.1" height="18.5" fill="#afd2e6"/>
<rect x="394.6" y="499.2" width="16.1" height="18.5" fill="#72a1cb"/>
<rect x="410.8" y="499.2" width="16.1" height="18.5" fill="#fff0b0"/>
<rect x="426.9" y="499.2" width="16.1" height="18.5" fill="#d73027"/>
<path d="M362.3 406.9V517.7M378.5 406.9V517.7M394.6 406.9V517.7M410.8 406.9V517.7M426.9 406.9V517.7M346.2 425.4H443.1M346.2 443.8H443.1M346.2 462.3H443.1M346.2 480.8H443.1M346.2 499.2H443.1" stroke="#ffffff" stroke-width="0.6" opacity="0.6" fill="none"/>
<text x="354.3" y="418.5" font-size="6.8" text-anchor="middle" fill="#ffffff" stroke="#ffffff" stroke-width="0.1">1.00</text>
<text x="370.4" y="418.5" font-size="6.8" text-anchor="middle" fill="#ffffff" stroke="#ffffff" stroke-width="0.1">0.95</text>
<text x="386.6" y="418.5" font-size="6.8" text-anchor="middle" fill="#ffffff" stroke="#ffffff" stroke-width="0.1">0.08</text>
<text x="402.7" y="418.5" font-size="6.8" text-anchor="middle" fill="#ffffff" stroke="#ffffff" stroke-width="0.1">0.04</text>
<text x="418.9" y="418.5" font-size="6.8" text-anchor="middle" fill="#ffffff" stroke="#ffffff" stroke-width="0.1">0.03</text>
<text x="435" y="418.5" font-size="6.8" text-anchor="middle" fill="#ffffff" stroke="#ffffff" stroke-width="0.1">0.03</text>
<text x="354.3" y="437" font-size="6.8" text-anchor="middle" fill="#ffffff" stroke="#ffffff" stroke-width="0.1">0.95</text>
<text x="370.4" y="437" font-size="6.8" text-anchor="middle" fill="#ffffff" stroke="#ffffff" stroke-width="0.1">1.00</text>
<text x="386.6" y="437" font-size="6.8" text-anchor="middle" fill="#ffffff" stroke="#ffffff" stroke-width="0.1">0.00</text>
<text x="402.7" y="437" font-size="6.8" text-anchor="middle" fill="#ffffff" stroke="#ffffff" stroke-width="0.1">0.00</text>
<text x="418.9" y="437" font-size="6.8" text-anchor="middle" fill="#ffffff" stroke="#ffffff" stroke-width="0.1">0.00</text>
<text x="435" y="437" font-size="6.8" text-anchor="middle" fill="#ffffff" stroke="#ffffff" stroke-width="0.1">0.01</text>
<text x="354.3" y="455.5" font-size="6.8" text-anchor="middle" fill="#ffffff" stroke="#ffffff" stroke-width="0.1">0.08</text>
<text x="370.4" y="455.5" font-size="6.8" text-anchor="middle" fill="#ffffff" stroke="#ffffff" stroke-width="0.1">0.00</text>
<text x="386.6" y="455.5" font-size="6.8" text-anchor="middle" fill="#ffffff" stroke="#ffffff" stroke-width="0.1">1.00</text>
<text x="402.7" y="455.5" font-size="6.8" text-anchor="middle" fill="#231f20" stroke="#231f20" stroke-width="0.1">0.68</text>
<text x="418.9" y="455.5" font-size="6.8" text-anchor="middle" fill="#231f20" stroke="#231f20" stroke-width="0.1">0.53</text>
<text x="435" y="455.5" font-size="6.8" text-anchor="middle" fill="#231f20" stroke="#231f20" stroke-width="0.1">0.21</text>
<text x="354.3" y="473.9" font-size="6.8" text-anchor="middle" fill="#ffffff" stroke="#ffffff" stroke-width="0.1">0.04</text>
<text x="370.4" y="473.9" font-size="6.8" text-anchor="middle" fill="#ffffff" stroke="#ffffff" stroke-width="0.1">0.00</text>
<text x="386.6" y="473.9" font-size="6.8" text-anchor="middle" fill="#231f20" stroke="#231f20" stroke-width="0.1">0.68</text>
<text x="402.7" y="473.9" font-size="6.8" text-anchor="middle" fill="#ffffff" stroke="#ffffff" stroke-width="0.1">1.00</text>
<text x="418.9" y="473.9" font-size="6.8" text-anchor="middle" fill="#231f20" stroke="#231f20" stroke-width="0.1">0.26</text>
<text x="435" y="473.9" font-size="6.8" text-anchor="middle" fill="#231f20" stroke="#231f20" stroke-width="0.1">0.10</text>
<text x="354.3" y="492.4" font-size="6.8" text-anchor="middle" fill="#ffffff" stroke="#ffffff" stroke-width="0.1">0.03</text>
<text x="370.4" y="492.4" font-size="6.8" text-anchor="middle" fill="#ffffff" stroke="#ffffff" stroke-width="0.1">0.00</text>
<text x="386.6" y="492.4" font-size="6.8" text-anchor="middle" fill="#231f20" stroke="#231f20" stroke-width="0.1">0.53</text>
<text x="402.7" y="492.4" font-size="6.8" text-anchor="middle" fill="#231f20" stroke="#231f20" stroke-width="0.1">0.26</text>
<text x="418.9" y="492.4" font-size="6.8" text-anchor="middle" fill="#ffffff" stroke="#ffffff" stroke-width="0.1">1.00</text>
<text x="435" y="492.4" font-size="6.8" text-anchor="middle" fill="#231f20" stroke="#231f20" stroke-width="0.1">0.59</text>
<text x="354.3" y="510.9" font-size="6.8" text-anchor="middle" fill="#ffffff" stroke="#ffffff" stroke-width="0.1">0.03</text>
<text x="370.4" y="510.9" font-size="6.8" text-anchor="middle" fill="#ffffff" stroke="#ffffff" stroke-width="0.1">0.01</text>
<text x="386.6" y="510.9" font-size="6.8" text-anchor="middle" fill="#231f20" stroke="#231f20" stroke-width="0.1">0.21</text>
<text x="402.7" y="510.9" font-size="6.8" text-anchor="middle" fill="#231f20" stroke="#231f20" stroke-width="0.1">0.10</text>
<text x="418.9" y="510.9" font-size="6.8" text-anchor="middle" fill="#231f20" stroke="#231f20" stroke-width="0.1">0.59</text>
<text x="435" y="510.9" font-size="6.8" text-anchor="middle" fill="#ffffff" stroke="#ffffff" stroke-width="0.1">1.00</text>
<polyline points="354.3,406.5 354.3,405.4 370.4,405.4 370.4,406.5" fill="none" stroke="#231f20" stroke-width="0.9"/>
<polyline points="386.6,406.5 386.6,400.8 402.7,400.8 402.7,406.5" fill="none" stroke="#231f20" stroke-width="0.9"/>
<polyline points="418.9,406.5 418.9,398.5 435,398.5 435,406.5" fill="none" stroke="#231f20" stroke-width="0.9"/>
<polyline points="394.6,400.8 394.6,390 426.9,390 426.9,398.5" fill="none" stroke="#231f20" stroke-width="0.9"/>
<polyline points="362.4,405.4 362.4,384.9 410.8,384.9 410.8,390" fill="none" stroke="#231f20" stroke-width="0.9"/>
<polyline points="345.8,416.1 344.2,416.1 344.2,434.6 345.8,434.6" fill="none" stroke="#231f20" stroke-width="0.9"/>
<polyline points="345.8,453.1 339.2,453.1 339.2,471.5 345.8,471.5" fill="none" stroke="#231f20" stroke-width="0.9"/>
<polyline points="345.8,490 337.7,490 337.7,508.5 345.8,508.5" fill="none" stroke="#231f20" stroke-width="0.9"/>
<polyline points="339.2,462.3 328.5,462.3 328.5,499.2 337.7,499.2" fill="none" stroke="#231f20" stroke-width="0.9"/>
<polyline points="344.2,425.4 322.3,425.4 322.3,480.8 328.5,480.8" fill="none" stroke="#231f20" stroke-width="0.9"/>
<text x="447" y="414.7" font-size="6.7" fill="#231f20" textLength="30.8" lengthAdjust="spacingAndGlyphs" stroke="#231f20" stroke-width="0.1">Cluster 14-</text>
<text x="447" y="422.4" font-size="6.7" fill="#231f20" textLength="32.2" lengthAdjust="spacingAndGlyphs" stroke="#231f20" stroke-width="0.1">Contraction</text>
<text x="447" y="433.2" font-size="6.7" fill="#231f20" textLength="30.8" lengthAdjust="spacingAndGlyphs" stroke="#231f20" stroke-width="0.1">Cluster 14-</text>
<text x="447" y="440.9" font-size="6.7" fill="#231f20" textLength="45.5" lengthAdjust="spacingAndGlyphs" stroke="#231f20" stroke-width="0.1">Peak Expansion</text>
<text x="447" y="451.7" font-size="6.7" fill="#231f20" textLength="45.5" lengthAdjust="spacingAndGlyphs" stroke="#231f20" stroke-width="0.1">All other cluster-</text>
<text x="447" y="459.4" font-size="6.7" fill="#231f20" textLength="32.2" lengthAdjust="spacingAndGlyphs" stroke="#231f20" stroke-width="0.1">Contraction</text>
<text x="447" y="473.9" font-size="6.7" fill="#231f20" textLength="35.7" lengthAdjust="spacingAndGlyphs" stroke="#231f20" stroke-width="0.1">Pre- Infusion</text>
<text x="447" y="492.4" font-size="6.7" fill="#231f20" textLength="43.4" lengthAdjust="spacingAndGlyphs" stroke="#231f20" stroke-width="0.1">All other cluster</text>
<text x="447" y="510.9" font-size="6.7" fill="#231f20" textLength="21.7" lengthAdjust="spacingAndGlyphs" stroke="#231f20" stroke-width="0.1">Product</text>
<text x="0" y="0" font-size="6.6" fill="#231f20" text-anchor="end" transform="translate(352.5 520.5) rotate(-90)">Cluster 14-</text>
<text x="0" y="0" font-size="6.6" fill="#231f20" text-anchor="end" transform="translate(360.1 520.5) rotate(-90)">Contraction</text>
<text x="0" y="0" font-size="6.6" fill="#231f20" text-anchor="end" transform="translate(368.6 520.5) rotate(-90)">Cluster 14-</text>
<text x="0" y="0" font-size="6.6" fill="#231f20" text-anchor="end" transform="translate(376.2 520.5) rotate(-90)">Peak Expansion</text>
<text x="0" y="0" font-size="6.6" fill="#231f20" text-anchor="end" transform="translate(384.8 520.5) rotate(-90)">All other cluster-</text>
<text x="0" y="0" font-size="6.6" fill="#231f20" text-anchor="end" transform="translate(392.4 520.5) rotate(-90)">Contraction</text>
<text x="0" y="0" font-size="6.6" fill="#231f20" text-anchor="end" transform="translate(405 520.5) rotate(-90)">Pre-Infusion</text>
<text x="0" y="0" font-size="6.6" fill="#231f20" text-anchor="end" transform="translate(421.2 520.5) rotate(-90)">All other cluster</text>
<text x="0" y="0" font-size="6.6" fill="#231f20" text-anchor="end" transform="translate(437.3 520.5) rotate(-90)">Product</text>
<defs><linearGradient id="rdy" x1="0" y1="0" x2="0" y2="1"><stop offset="0" stop-color="#d73027"/><stop offset="0.1" stop-color="#ed6744"/><stop offset="0.2" stop-color="#fc9e64"/><stop offset="0.3" stop-color="#fece84"/><stop offset="0.4" stop-color="#feeca3"/><stop offset="0.5" stop-color="#ffffbe"/><stop offset="0.6" stop-color="#ecf8e1"/><stop offset="0.7" stop-color="#cfe8f2"/><stop offset="0.8" stop-color="#a1c9e1"/><stop offset="0.9" stop-color="#72a1cb"/><stop offset="1" stop-color="#4575b4"/></linearGradient></defs>
<rect x="497.2" y="393" width="4.3" height="62.4" fill="url(#rdy)"/>
<text x="504.3" y="396" font-size="6.4" fill="#231f20" stroke="#231f20" stroke-width="0.1">1</text>
<text x="504.3" y="408.7" font-size="6.4" fill="#231f20" stroke="#231f20" stroke-width="0.1">0.8</text>
<text x="504.3" y="421" font-size="6.4" fill="#231f20" stroke="#231f20" stroke-width="0.1">0.6</text>
<text x="504.3" y="433.4" font-size="6.4" fill="#231f20" stroke="#231f20" stroke-width="0.1">0.4</text>
<text x="504.3" y="445.7" font-size="6.4" fill="#231f20" stroke="#231f20" stroke-width="0.1">0.2</text>
<rect x="0" y="0" width="520" height="1" fill="#5a5a5a"/><rect x="0" y="0" width="1" height="591" fill="#5a5a5a"/><rect x="519" y="0" width="1" height="591" fill="#3a3a3a"/><rect x="0" y="590" width="520" height="1" fill="#3a3a3a"/>
</svg></body></html>
